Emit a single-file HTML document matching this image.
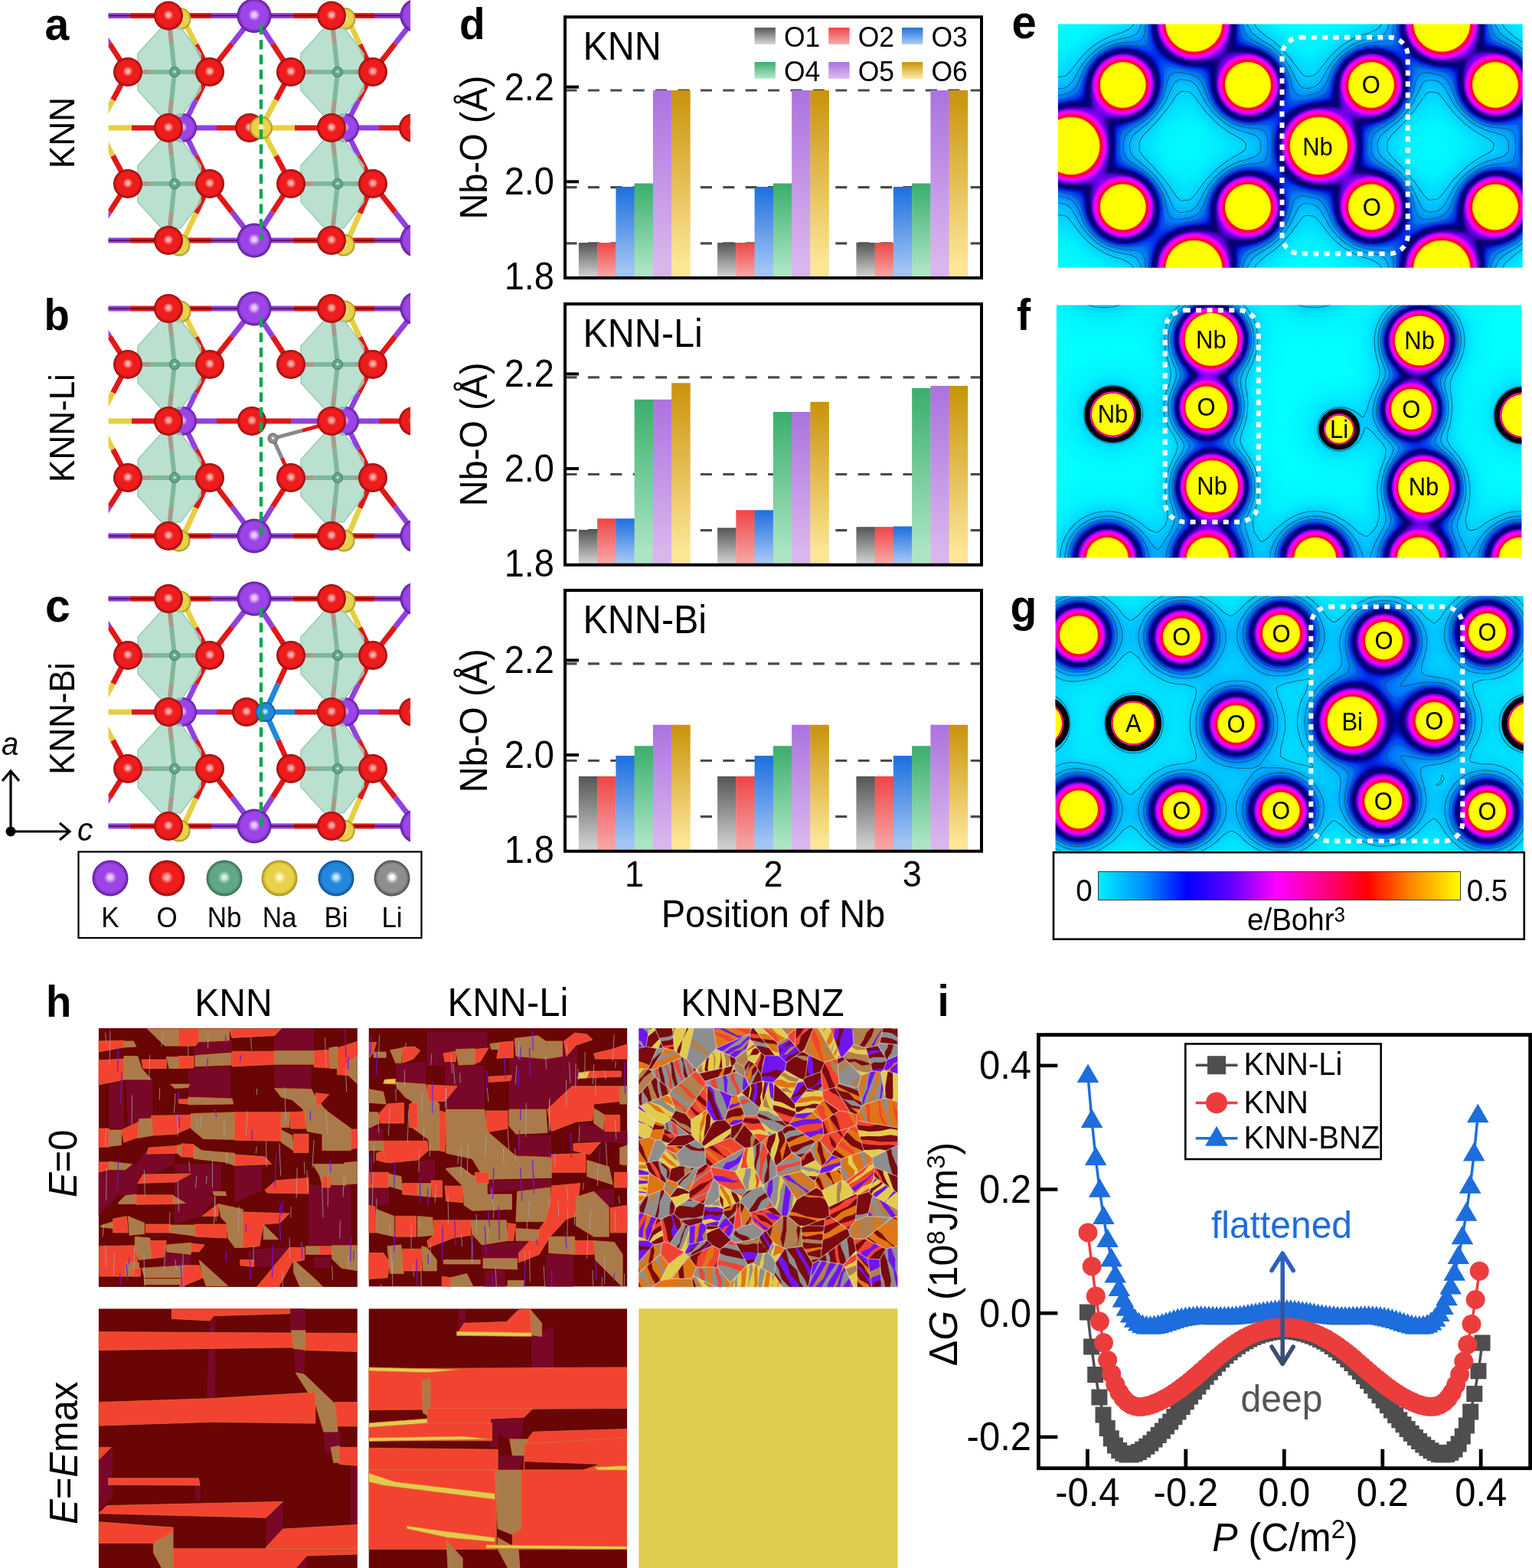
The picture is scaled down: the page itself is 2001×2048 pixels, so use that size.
<!DOCTYPE html>
<html><head><meta charset="utf-8"><title>Figure</title>
<style>html,body{margin:0;padding:0;background:#fff;}svg{display:block;}
text{font-family:"Liberation Sans", Arial, Helvetica, sans-serif;}</style></head>
<body><svg width="2001" height="2048" viewBox="0 0 2001 2048">
<defs><linearGradient id="bg0" x1="0" y1="0" x2="0" y2="1"><stop offset="0" stop-color="#555555"/><stop offset="0.92" stop-color="#cdcdcd"/><stop offset="1" stop-color="#cdcdcd"/></linearGradient><linearGradient id="bg1" x1="0" y1="0" x2="0" y2="1"><stop offset="0" stop-color="#ef4545"/><stop offset="0.92" stop-color="#f7a3a3"/><stop offset="1" stop-color="#f7a3a3"/></linearGradient><linearGradient id="bg2" x1="0" y1="0" x2="0" y2="1"><stop offset="0" stop-color="#1c6fdf"/><stop offset="0.92" stop-color="#a3c5f3"/><stop offset="1" stop-color="#a3c5f3"/></linearGradient><linearGradient id="bg3" x1="0" y1="0" x2="0" y2="1"><stop offset="0" stop-color="#3aae6c"/><stop offset="0.92" stop-color="#abe5c5"/><stop offset="1" stop-color="#abe5c5"/></linearGradient><linearGradient id="bg4" x1="0" y1="0" x2="0" y2="1"><stop offset="0" stop-color="#ac72de"/><stop offset="0.92" stop-color="#d9b6ed"/><stop offset="1" stop-color="#d9b6ed"/></linearGradient><linearGradient id="bg5" x1="0" y1="0" x2="0" y2="1"><stop offset="0" stop-color="#c9930a"/><stop offset="0.92" stop-color="#fde597"/><stop offset="1" stop-color="#fde597"/></linearGradient><linearGradient id="arrg" x1="0" y1="0" x2="0" y2="1"><stop offset="0" stop-color="#2a62c8"/><stop offset="1" stop-color="#3d4a6c"/></linearGradient><radialGradient id="spO" cx="0.5" cy="0.5" r="0.5" fx="0.5" fy="0.47"><stop offset="0" stop-color="#ffb4ac"/><stop offset="0.1" stop-color="#ffb4ac"/><stop offset="0.35" stop-color="#ee1c1c"/><stop offset="0.78" stop-color="#ee1c1c"/><stop offset="1" stop-color="#8e0c0c"/></radialGradient><radialGradient id="spK" cx="0.5" cy="0.5" r="0.5" fx="0.5" fy="0.47"><stop offset="0" stop-color="#f0c8ff"/><stop offset="0.1" stop-color="#f0c8ff"/><stop offset="0.35" stop-color="#9b45e6"/><stop offset="0.78" stop-color="#9b45e6"/><stop offset="1" stop-color="#5a1898"/></radialGradient><radialGradient id="spNa" cx="0.5" cy="0.5" r="0.5" fx="0.5" fy="0.47"><stop offset="0" stop-color="#fff6c0"/><stop offset="0.1" stop-color="#fff6c0"/><stop offset="0.35" stop-color="#e9d24a"/><stop offset="0.78" stop-color="#e9d24a"/><stop offset="1" stop-color="#a08c18"/></radialGradient><radialGradient id="spNb" cx="0.5" cy="0.5" r="0.5" fx="0.5" fy="0.47"><stop offset="0" stop-color="#d0f0e0"/><stop offset="0.1" stop-color="#d0f0e0"/><stop offset="0.35" stop-color="#62a886"/><stop offset="0.78" stop-color="#62a886"/><stop offset="1" stop-color="#336a50"/></radialGradient><radialGradient id="spBi" cx="0.5" cy="0.5" r="0.5" fx="0.5" fy="0.47"><stop offset="0" stop-color="#c8ecff"/><stop offset="0.1" stop-color="#c8ecff"/><stop offset="0.35" stop-color="#2388dc"/><stop offset="0.78" stop-color="#2388dc"/><stop offset="1" stop-color="#0c4c90"/></radialGradient><radialGradient id="spLi" cx="0.5" cy="0.5" r="0.5" fx="0.5" fy="0.47"><stop offset="0" stop-color="#ffffff"/><stop offset="0.1" stop-color="#ffffff"/><stop offset="0.35" stop-color="#8e8e8e"/><stop offset="0.78" stop-color="#8e8e8e"/><stop offset="1" stop-color="#4a4a4a"/></radialGradient><clipPath id="clipa"><rect x="141.6" y="0" width="394.4" height="345"/></clipPath><clipPath id="clipb"><rect x="141.6" y="375" width="394.4" height="355"/></clipPath><clipPath id="clipc"><rect x="141.6" y="755" width="394.4" height="350"/></clipPath><filter id="cmapf" x="0" y="0" width="1" height="1" color-interpolation-filters="sRGB"><feComponentTransfer><feFuncR type="table" tableValues="0.000 0.000 0.000 0.000 0.000 0.000 0.000 0.000 0.000 0.000 0.000 0.000 0.000 0.000 0.000 0.000 0.000 0.000 0.000 0.000 0.000 0.000 0.000 0.000 0.000 0.000 0.000 0.000 0.000 0.000 0.000 0.000 0.000 0.000 0.000 0.000 0.000 0.000 0.000 0.000 0.000 0.000 0.000 0.000 0.000 0.000 0.000 0.000 0.000 0.000 0.000 0.000 0.000 0.000 0.000 0.000 0.000 0.000 0.000 0.000 0.000 0.000 0.000 0.000 0.000 0.000 0.000 0.000 0.000 0.000 0.000 0.000 0.000 0.000 0.000 0.000 0.000 0.000 0.000 0.000 0.000 0.000 0.000 0.000 0.000 0.000 0.000 0.000 0.000 0.000 0.000 0.000 0.000 0.000 0.000 0.000 0.000 0.000 0.000 0.000 0.000 0.000 0.000 0.000 0.000 0.000 0.000 0.000 0.000 0.000 0.000 0.000 0.000 0.000 0.000 0.000 0.000 0.000 0.004 0.009 0.014 0.019 0.024 0.029 0.034 0.039 0.045 0.050 0.055 0.060 0.065 0.070 0.075 0.087 0.109 0.130 0.152 0.173 0.195 0.216 0.238 0.259 0.281 0.302 0.324 0.345 0.365 0.383 0.402 0.420 0.439 0.457 0.476 0.494 0.513 0.531 0.549 0.568 0.586 0.607 0.627 0.648 0.668 0.689 0.709 0.730 0.750 0.771 0.791 0.812 0.832 0.853 0.873 0.894 0.905 0.911 0.916 0.922 0.927 0.933 0.938 0.944 0.949 0.955 0.960 0.966 0.971 0.977 0.982 0.988 0.993 0.999 1.000 1.000 1.000 1.000 1.000 1.000 1.000 1.000 1.000 1.000 1.000 1.000 1.000 1.000 1.000 1.000 1.000 1.000 1.000 1.000 1.000 1.000 1.000 1.000 1.000 1.000 1.000 1.000 1.000 1.000 1.000 1.000 1.000 1.000 1.000 1.000 1.000 1.000 1.000 1.000 1.000 1.000 1.000 1.000 1.000 1.000 1.000 1.000 1.000 1.000 1.000 1.000 1.000 1.000 1.000 1.000 1.000 1.000 1.000 1.000 1.000 1.000 1.000 1.000"/><feFuncG type="table" tableValues="1.000 0.996 0.992 0.988 0.984 0.980 0.976 0.972 0.968 0.964 0.960 0.956 0.952 0.948 0.942 0.936 0.930 0.925 0.919 0.913 0.908 0.902 0.896 0.890 0.885 0.879 0.873 0.868 0.862 0.856 0.850 0.844 0.837 0.830 0.823 0.815 0.808 0.801 0.794 0.787 0.780 0.772 0.765 0.758 0.751 0.744 0.736 0.727 0.718 0.709 0.699 0.690 0.681 0.672 0.663 0.653 0.644 0.635 0.626 0.616 0.607 0.598 0.587 0.576 0.564 0.553 0.541 0.530 0.518 0.507 0.496 0.484 0.473 0.461 0.450 0.438 0.427 0.416 0.404 0.393 0.377 0.361 0.345 0.329 0.313 0.297 0.281 0.265 0.249 0.233 0.217 0.201 0.186 0.172 0.159 0.146 0.133 0.119 0.106 0.093 0.080 0.067 0.053 0.040 0.027 0.019 0.017 0.016 0.014 0.013 0.011 0.010 0.008 0.007 0.005 0.004 0.002 0.000 0.000 0.000 0.000 0.000 0.000 0.000 0.000 0.000 0.000 0.000 0.000 0.000 0.000 0.000 0.000 0.000 0.000 0.000 0.000 0.000 0.000 0.000 0.000 0.000 0.000 0.000 0.000 0.000 0.000 0.000 0.000 0.000 0.000 0.000 0.000 0.000 0.000 0.000 0.000 0.000 0.000 0.000 0.000 0.000 0.000 0.000 0.000 0.000 0.000 0.000 0.000 0.000 0.000 0.000 0.000 0.000 0.000 0.000 0.000 0.000 0.000 0.000 0.000 0.000 0.000 0.000 0.000 0.000 0.000 0.000 0.000 0.000 0.000 0.000 0.000 0.000 0.000 0.000 0.000 0.000 0.000 0.000 0.000 0.000 0.000 0.000 0.000 0.000 0.000 0.000 0.000 0.000 0.000 0.000 0.000 0.000 0.000 0.000 0.000 0.004 0.019 0.035 0.050 0.065 0.081 0.096 0.111 0.127 0.142 0.161 0.247 0.333 0.420 0.506 0.592 0.678 0.745 0.802 0.860 0.918 0.975 1.000 1.000 1.000 1.000 1.000 1.000 1.000 1.000 1.000 1.000 1.000 1.000 1.000 1.000 1.000 1.000 1.000"/><feFuncB type="table" tableValues="1.000 1.000 1.000 1.000 1.000 1.000 1.000 1.000 1.000 1.000 1.000 1.000 1.000 1.000 1.000 1.000 1.000 1.000 1.000 1.000 1.000 1.000 1.000 1.000 1.000 1.000 1.000 1.000 1.000 1.000 1.000 1.000 1.000 1.000 1.000 1.000 1.000 1.000 1.000 1.000 1.000 1.000 1.000 1.000 1.000 1.000 1.000 1.000 1.000 1.000 1.000 1.000 1.000 1.000 1.000 1.000 1.000 1.000 1.000 1.000 1.000 1.000 1.000 1.000 1.000 1.000 1.000 1.000 1.000 1.000 1.000 1.000 1.000 1.000 1.000 1.000 1.000 1.000 1.000 1.000 0.994 0.988 0.982 0.976 0.970 0.963 0.957 0.951 0.945 0.939 0.933 0.926 0.918 0.898 0.878 0.858 0.838 0.818 0.798 0.778 0.758 0.738 0.718 0.698 0.678 0.659 0.642 0.625 0.608 0.591 0.574 0.558 0.541 0.524 0.507 0.490 0.473 0.456 0.452 0.453 0.454 0.456 0.457 0.458 0.460 0.461 0.462 0.463 0.465 0.466 0.467 0.469 0.470 0.483 0.514 0.544 0.575 0.606 0.637 0.667 0.698 0.729 0.760 0.790 0.821 0.852 0.869 0.878 0.887 0.896 0.906 0.915 0.924 0.933 0.943 0.952 0.961 0.970 0.979 0.982 0.983 0.984 0.985 0.987 0.988 0.989 0.991 0.992 0.993 0.994 0.996 0.997 0.998 0.999 0.997 0.991 0.986 0.980 0.975 0.969 0.964 0.958 0.953 0.947 0.942 0.936 0.931 0.925 0.920 0.914 0.909 0.903 0.881 0.854 0.826 0.798 0.770 0.743 0.715 0.687 0.660 0.632 0.604 0.577 0.549 0.518 0.488 0.457 0.426 0.395 0.364 0.334 0.303 0.272 0.241 0.211 0.180 0.153 0.138 0.122 0.107 0.092 0.076 0.061 0.045 0.030 0.015 0.000 0.000 0.000 0.000 0.000 0.000 0.000 0.000 0.000 0.000 0.000 0.000 0.000 0.000 0.000 0.000 0.000 0.000 0.000 0.000 0.000 0.000 0.000 0.000 0.000 0.000 0.000 0.000 0.000"/></feComponentTransfer></filter><radialGradient id="dg0" cx="0.5" cy="0.5" r="0.5"><stop offset="0.0000" stop-color="#fff" stop-opacity="1.000"/><stop offset="0.2648" stop-color="#fff" stop-opacity="0.970"/><stop offset="0.2885" stop-color="#fff" stop-opacity="0.940"/><stop offset="0.2964" stop-color="#fff" stop-opacity="0.905"/><stop offset="0.3043" stop-color="#fff" stop-opacity="0.865"/><stop offset="0.3138" stop-color="#fff" stop-opacity="0.830"/><stop offset="0.3257" stop-color="#fff" stop-opacity="0.785"/><stop offset="0.3399" stop-color="#fff" stop-opacity="0.735"/><stop offset="0.3557" stop-color="#fff" stop-opacity="0.675"/><stop offset="0.3676" stop-color="#fff" stop-opacity="0.615"/><stop offset="0.3794" stop-color="#fff" stop-opacity="0.555"/><stop offset="0.3913" stop-color="#fff" stop-opacity="0.500"/><stop offset="0.4150" stop-color="#fff" stop-opacity="0.450"/><stop offset="0.4348" stop-color="#fff" stop-opacity="0.390"/><stop offset="0.4545" stop-color="#fff" stop-opacity="0.330"/><stop offset="0.4822" stop-color="#fff" stop-opacity="0.260"/><stop offset="0.5178" stop-color="#fff" stop-opacity="0.200"/><stop offset="0.5573" stop-color="#fff" stop-opacity="0.150"/><stop offset="0.6047" stop-color="#fff" stop-opacity="0.105"/><stop offset="0.6680" stop-color="#fff" stop-opacity="0.065"/><stop offset="0.7628" stop-color="#fff" stop-opacity="0.030"/><stop offset="0.8893" stop-color="#fff" stop-opacity="0.010"/><stop offset="1.0000" stop-color="#fff" stop-opacity="0.000"/></radialGradient><radialGradient id="dg1" cx="0.5" cy="0.5" r="0.5"><stop offset="0.0000" stop-color="#fff" stop-opacity="1.000"/><stop offset="0.2619" stop-color="#fff" stop-opacity="0.970"/><stop offset="0.2857" stop-color="#fff" stop-opacity="0.940"/><stop offset="0.2937" stop-color="#fff" stop-opacity="0.905"/><stop offset="0.3016" stop-color="#fff" stop-opacity="0.865"/><stop offset="0.3111" stop-color="#fff" stop-opacity="0.830"/><stop offset="0.3230" stop-color="#fff" stop-opacity="0.785"/><stop offset="0.3373" stop-color="#fff" stop-opacity="0.735"/><stop offset="0.3532" stop-color="#fff" stop-opacity="0.675"/><stop offset="0.3651" stop-color="#fff" stop-opacity="0.615"/><stop offset="0.3770" stop-color="#fff" stop-opacity="0.555"/><stop offset="0.3889" stop-color="#fff" stop-opacity="0.500"/><stop offset="0.4127" stop-color="#fff" stop-opacity="0.450"/><stop offset="0.4325" stop-color="#fff" stop-opacity="0.390"/><stop offset="0.4524" stop-color="#fff" stop-opacity="0.330"/><stop offset="0.4802" stop-color="#fff" stop-opacity="0.260"/><stop offset="0.5159" stop-color="#fff" stop-opacity="0.200"/><stop offset="0.5556" stop-color="#fff" stop-opacity="0.150"/><stop offset="0.6032" stop-color="#fff" stop-opacity="0.105"/><stop offset="0.6667" stop-color="#fff" stop-opacity="0.065"/><stop offset="0.7619" stop-color="#fff" stop-opacity="0.030"/><stop offset="0.8889" stop-color="#fff" stop-opacity="0.010"/><stop offset="1.0000" stop-color="#fff" stop-opacity="0.000"/></radialGradient><radialGradient id="dg2" cx="0.5" cy="0.5" r="0.5"><stop offset="0.0000" stop-color="#fff" stop-opacity="1.000"/><stop offset="0.2172" stop-color="#fff" stop-opacity="0.970"/><stop offset="0.2424" stop-color="#fff" stop-opacity="0.940"/><stop offset="0.2508" stop-color="#fff" stop-opacity="0.905"/><stop offset="0.2593" stop-color="#fff" stop-opacity="0.865"/><stop offset="0.2694" stop-color="#fff" stop-opacity="0.830"/><stop offset="0.2820" stop-color="#fff" stop-opacity="0.785"/><stop offset="0.2971" stop-color="#fff" stop-opacity="0.735"/><stop offset="0.3140" stop-color="#fff" stop-opacity="0.675"/><stop offset="0.3266" stop-color="#fff" stop-opacity="0.615"/><stop offset="0.3392" stop-color="#fff" stop-opacity="0.555"/><stop offset="0.3519" stop-color="#fff" stop-opacity="0.500"/><stop offset="0.3771" stop-color="#fff" stop-opacity="0.450"/><stop offset="0.3981" stop-color="#fff" stop-opacity="0.390"/><stop offset="0.4192" stop-color="#fff" stop-opacity="0.330"/><stop offset="0.4487" stop-color="#fff" stop-opacity="0.260"/><stop offset="0.4865" stop-color="#fff" stop-opacity="0.200"/><stop offset="0.5286" stop-color="#fff" stop-opacity="0.150"/><stop offset="0.5791" stop-color="#fff" stop-opacity="0.105"/><stop offset="0.6465" stop-color="#fff" stop-opacity="0.065"/><stop offset="0.7475" stop-color="#fff" stop-opacity="0.030"/><stop offset="0.8822" stop-color="#fff" stop-opacity="0.010"/><stop offset="1.0000" stop-color="#fff" stop-opacity="0.000"/></radialGradient><radialGradient id="dg3" cx="0.5" cy="0.5" r="0.5"><stop offset="0.0222" stop-color="#fff" stop-opacity="1.000"/><stop offset="0.3005" stop-color="#fff" stop-opacity="0.970"/><stop offset="0.3230" stop-color="#fff" stop-opacity="0.940"/><stop offset="0.3306" stop-color="#fff" stop-opacity="0.905"/><stop offset="0.3381" stop-color="#fff" stop-opacity="0.865"/><stop offset="0.3471" stop-color="#fff" stop-opacity="0.830"/><stop offset="0.3584" stop-color="#fff" stop-opacity="0.785"/><stop offset="0.3719" stop-color="#fff" stop-opacity="0.735"/><stop offset="0.3870" stop-color="#fff" stop-opacity="0.675"/><stop offset="0.3983" stop-color="#fff" stop-opacity="0.615"/><stop offset="0.4095" stop-color="#fff" stop-opacity="0.555"/><stop offset="0.4208" stop-color="#fff" stop-opacity="0.500"/><stop offset="0.4434" stop-color="#fff" stop-opacity="0.450"/><stop offset="0.4622" stop-color="#fff" stop-opacity="0.390"/><stop offset="0.4810" stop-color="#fff" stop-opacity="0.330"/><stop offset="0.5073" stop-color="#fff" stop-opacity="0.260"/><stop offset="0.5412" stop-color="#fff" stop-opacity="0.200"/><stop offset="0.5788" stop-color="#fff" stop-opacity="0.150"/><stop offset="0.6239" stop-color="#fff" stop-opacity="0.105"/><stop offset="0.6841" stop-color="#fff" stop-opacity="0.065"/><stop offset="0.7743" stop-color="#fff" stop-opacity="0.030"/><stop offset="0.8947" stop-color="#fff" stop-opacity="0.010"/><stop offset="1.0000" stop-color="#fff" stop-opacity="0.000"/></radialGradient><radialGradient id="dg4" cx="0.5" cy="0.5" r="0.5"><stop offset="0.0000" stop-color="#fff" stop-opacity="1.000"/><stop offset="0.2498" stop-color="#fff" stop-opacity="0.970"/><stop offset="0.2740" stop-color="#fff" stop-opacity="0.940"/><stop offset="0.2821" stop-color="#fff" stop-opacity="0.905"/><stop offset="0.2902" stop-color="#fff" stop-opacity="0.865"/><stop offset="0.2999" stop-color="#fff" stop-opacity="0.830"/><stop offset="0.3120" stop-color="#fff" stop-opacity="0.785"/><stop offset="0.3265" stop-color="#fff" stop-opacity="0.735"/><stop offset="0.3426" stop-color="#fff" stop-opacity="0.675"/><stop offset="0.3547" stop-color="#fff" stop-opacity="0.615"/><stop offset="0.3668" stop-color="#fff" stop-opacity="0.555"/><stop offset="0.3789" stop-color="#fff" stop-opacity="0.500"/><stop offset="0.4031" stop-color="#fff" stop-opacity="0.450"/><stop offset="0.4233" stop-color="#fff" stop-opacity="0.390"/><stop offset="0.4434" stop-color="#fff" stop-opacity="0.330"/><stop offset="0.4717" stop-color="#fff" stop-opacity="0.260"/><stop offset="0.5080" stop-color="#fff" stop-opacity="0.200"/><stop offset="0.5483" stop-color="#fff" stop-opacity="0.150"/><stop offset="0.5967" stop-color="#fff" stop-opacity="0.105"/><stop offset="0.6612" stop-color="#fff" stop-opacity="0.065"/><stop offset="0.7580" stop-color="#fff" stop-opacity="0.030"/><stop offset="0.8871" stop-color="#fff" stop-opacity="0.010"/><stop offset="1.0000" stop-color="#fff" stop-opacity="0.000"/></radialGradient><radialGradient id="dg5" cx="0.5" cy="0.5" r="0.5"><stop offset="0.0174" stop-color="#fff" stop-opacity="1.000"/><stop offset="0.2971" stop-color="#fff" stop-opacity="0.970"/><stop offset="0.3198" stop-color="#fff" stop-opacity="0.940"/><stop offset="0.3273" stop-color="#fff" stop-opacity="0.905"/><stop offset="0.3349" stop-color="#fff" stop-opacity="0.865"/><stop offset="0.3440" stop-color="#fff" stop-opacity="0.830"/><stop offset="0.3553" stop-color="#fff" stop-opacity="0.785"/><stop offset="0.3689" stop-color="#fff" stop-opacity="0.735"/><stop offset="0.3840" stop-color="#fff" stop-opacity="0.675"/><stop offset="0.3953" stop-color="#fff" stop-opacity="0.615"/><stop offset="0.4067" stop-color="#fff" stop-opacity="0.555"/><stop offset="0.4180" stop-color="#fff" stop-opacity="0.500"/><stop offset="0.4407" stop-color="#fff" stop-opacity="0.450"/><stop offset="0.4596" stop-color="#fff" stop-opacity="0.390"/><stop offset="0.4785" stop-color="#fff" stop-opacity="0.330"/><stop offset="0.5049" stop-color="#fff" stop-opacity="0.260"/><stop offset="0.5390" stop-color="#fff" stop-opacity="0.200"/><stop offset="0.5767" stop-color="#fff" stop-opacity="0.150"/><stop offset="0.6221" stop-color="#fff" stop-opacity="0.105"/><stop offset="0.6826" stop-color="#fff" stop-opacity="0.065"/><stop offset="0.7733" stop-color="#fff" stop-opacity="0.030"/><stop offset="0.8942" stop-color="#fff" stop-opacity="0.010"/><stop offset="1.0000" stop-color="#fff" stop-opacity="0.000"/></radialGradient><radialGradient id="dg6" cx="0.5" cy="0.5" r="0.5"><stop offset="0.0029" stop-color="#fff" stop-opacity="1.000"/><stop offset="0.2867" stop-color="#fff" stop-opacity="0.970"/><stop offset="0.3097" stop-color="#fff" stop-opacity="0.940"/><stop offset="0.3174" stop-color="#fff" stop-opacity="0.905"/><stop offset="0.3251" stop-color="#fff" stop-opacity="0.865"/><stop offset="0.3343" stop-color="#fff" stop-opacity="0.830"/><stop offset="0.3458" stop-color="#fff" stop-opacity="0.785"/><stop offset="0.3596" stop-color="#fff" stop-opacity="0.735"/><stop offset="0.3749" stop-color="#fff" stop-opacity="0.675"/><stop offset="0.3864" stop-color="#fff" stop-opacity="0.615"/><stop offset="0.3979" stop-color="#fff" stop-opacity="0.555"/><stop offset="0.4094" stop-color="#fff" stop-opacity="0.500"/><stop offset="0.4324" stop-color="#fff" stop-opacity="0.450"/><stop offset="0.4516" stop-color="#fff" stop-opacity="0.390"/><stop offset="0.4708" stop-color="#fff" stop-opacity="0.330"/><stop offset="0.4976" stop-color="#fff" stop-opacity="0.260"/><stop offset="0.5322" stop-color="#fff" stop-opacity="0.200"/><stop offset="0.5705" stop-color="#fff" stop-opacity="0.150"/><stop offset="0.6165" stop-color="#fff" stop-opacity="0.105"/><stop offset="0.6779" stop-color="#fff" stop-opacity="0.065"/><stop offset="0.7699" stop-color="#fff" stop-opacity="0.030"/><stop offset="0.8926" stop-color="#fff" stop-opacity="0.010"/><stop offset="1.0000" stop-color="#fff" stop-opacity="0.000"/></radialGradient><radialGradient id="dg7" cx="0.5" cy="0.5" r="0.5"><stop offset="0.0000" stop-color="#fff" stop-opacity="1.000"/><stop offset="0.2420" stop-color="#fff" stop-opacity="0.970"/><stop offset="0.2665" stop-color="#fff" stop-opacity="0.940"/><stop offset="0.2746" stop-color="#fff" stop-opacity="0.905"/><stop offset="0.2828" stop-color="#fff" stop-opacity="0.865"/><stop offset="0.2925" stop-color="#fff" stop-opacity="0.830"/><stop offset="0.3048" stop-color="#fff" stop-opacity="0.785"/><stop offset="0.3194" stop-color="#fff" stop-opacity="0.735"/><stop offset="0.3357" stop-color="#fff" stop-opacity="0.675"/><stop offset="0.3480" stop-color="#fff" stop-opacity="0.615"/><stop offset="0.3602" stop-color="#fff" stop-opacity="0.555"/><stop offset="0.3724" stop-color="#fff" stop-opacity="0.500"/><stop offset="0.3969" stop-color="#fff" stop-opacity="0.450"/><stop offset="0.4172" stop-color="#fff" stop-opacity="0.390"/><stop offset="0.4376" stop-color="#fff" stop-opacity="0.330"/><stop offset="0.4661" stop-color="#fff" stop-opacity="0.260"/><stop offset="0.5028" stop-color="#fff" stop-opacity="0.200"/><stop offset="0.5436" stop-color="#fff" stop-opacity="0.150"/><stop offset="0.5925" stop-color="#fff" stop-opacity="0.105"/><stop offset="0.6577" stop-color="#fff" stop-opacity="0.065"/><stop offset="0.7555" stop-color="#fff" stop-opacity="0.030"/><stop offset="0.8859" stop-color="#fff" stop-opacity="0.010"/><stop offset="1.0000" stop-color="#fff" stop-opacity="0.000"/></radialGradient><radialGradient id="dg8" cx="0.5" cy="0.5" r="0.5"><stop offset="0.0127" stop-color="#fff" stop-opacity="1.000"/><stop offset="0.2937" stop-color="#fff" stop-opacity="0.970"/><stop offset="0.3165" stop-color="#fff" stop-opacity="0.940"/><stop offset="0.3241" stop-color="#fff" stop-opacity="0.905"/><stop offset="0.3316" stop-color="#fff" stop-opacity="0.865"/><stop offset="0.3408" stop-color="#fff" stop-opacity="0.830"/><stop offset="0.3522" stop-color="#fff" stop-opacity="0.785"/><stop offset="0.3658" stop-color="#fff" stop-opacity="0.735"/><stop offset="0.3810" stop-color="#fff" stop-opacity="0.675"/><stop offset="0.3924" stop-color="#fff" stop-opacity="0.615"/><stop offset="0.4038" stop-color="#fff" stop-opacity="0.555"/><stop offset="0.4152" stop-color="#fff" stop-opacity="0.500"/><stop offset="0.4380" stop-color="#fff" stop-opacity="0.450"/><stop offset="0.4570" stop-color="#fff" stop-opacity="0.390"/><stop offset="0.4759" stop-color="#fff" stop-opacity="0.330"/><stop offset="0.5025" stop-color="#fff" stop-opacity="0.260"/><stop offset="0.5367" stop-color="#fff" stop-opacity="0.200"/><stop offset="0.5747" stop-color="#fff" stop-opacity="0.150"/><stop offset="0.6203" stop-color="#fff" stop-opacity="0.105"/><stop offset="0.6810" stop-color="#fff" stop-opacity="0.065"/><stop offset="0.7722" stop-color="#fff" stop-opacity="0.030"/><stop offset="0.8937" stop-color="#fff" stop-opacity="0.010"/><stop offset="1.0000" stop-color="#fff" stop-opacity="0.000"/></radialGradient><radialGradient id="dg9" cx="0.5" cy="0.5" r="0.5"><stop offset="0.0000" stop-color="#fff" stop-opacity="1.000"/><stop offset="0.2927" stop-color="#fff" stop-opacity="0.970"/><stop offset="0.3293" stop-color="#fff" stop-opacity="0.935"/><stop offset="0.3415" stop-color="#fff" stop-opacity="0.860"/><stop offset="0.3537" stop-color="#fff" stop-opacity="0.770"/><stop offset="0.3659" stop-color="#fff" stop-opacity="0.720"/><stop offset="0.3841" stop-color="#fff" stop-opacity="0.500"/><stop offset="0.4146" stop-color="#fff" stop-opacity="0.300"/><stop offset="0.4512" stop-color="#fff" stop-opacity="0.150"/><stop offset="0.5244" stop-color="#fff" stop-opacity="0.090"/><stop offset="0.6463" stop-color="#fff" stop-opacity="0.050"/><stop offset="0.8171" stop-color="#fff" stop-opacity="0.020"/><stop offset="1.0000" stop-color="#fff" stop-opacity="0.000"/></radialGradient><radialGradient id="dg10" cx="0.5" cy="0.5" r="0.5"><stop offset="0.0000" stop-color="#fff" stop-opacity="1.000"/><stop offset="0.2000" stop-color="#fff" stop-opacity="0.970"/><stop offset="0.2414" stop-color="#fff" stop-opacity="0.935"/><stop offset="0.2552" stop-color="#fff" stop-opacity="0.860"/><stop offset="0.2690" stop-color="#fff" stop-opacity="0.770"/><stop offset="0.2828" stop-color="#fff" stop-opacity="0.720"/><stop offset="0.3034" stop-color="#fff" stop-opacity="0.500"/><stop offset="0.3379" stop-color="#fff" stop-opacity="0.300"/><stop offset="0.3793" stop-color="#fff" stop-opacity="0.150"/><stop offset="0.4621" stop-color="#fff" stop-opacity="0.090"/><stop offset="0.6000" stop-color="#fff" stop-opacity="0.050"/><stop offset="0.7931" stop-color="#fff" stop-opacity="0.020"/><stop offset="1.0000" stop-color="#fff" stop-opacity="0.000"/></radialGradient><radialGradient id="dg11" cx="0.5" cy="0.5" r="0.5"><stop offset="0.0000" stop-color="#fff" stop-opacity="1.000"/><stop offset="0.2017" stop-color="#fff" stop-opacity="0.970"/><stop offset="0.2275" stop-color="#fff" stop-opacity="0.940"/><stop offset="0.2361" stop-color="#fff" stop-opacity="0.905"/><stop offset="0.2446" stop-color="#fff" stop-opacity="0.865"/><stop offset="0.2549" stop-color="#fff" stop-opacity="0.830"/><stop offset="0.2678" stop-color="#fff" stop-opacity="0.785"/><stop offset="0.2833" stop-color="#fff" stop-opacity="0.735"/><stop offset="0.3004" stop-color="#fff" stop-opacity="0.675"/><stop offset="0.3133" stop-color="#fff" stop-opacity="0.615"/><stop offset="0.3262" stop-color="#fff" stop-opacity="0.555"/><stop offset="0.3391" stop-color="#fff" stop-opacity="0.500"/><stop offset="0.3648" stop-color="#fff" stop-opacity="0.450"/><stop offset="0.3863" stop-color="#fff" stop-opacity="0.390"/><stop offset="0.4077" stop-color="#fff" stop-opacity="0.330"/><stop offset="0.4378" stop-color="#fff" stop-opacity="0.260"/><stop offset="0.4764" stop-color="#fff" stop-opacity="0.200"/><stop offset="0.5193" stop-color="#fff" stop-opacity="0.150"/><stop offset="0.5708" stop-color="#fff" stop-opacity="0.105"/><stop offset="0.6395" stop-color="#fff" stop-opacity="0.065"/><stop offset="0.7425" stop-color="#fff" stop-opacity="0.030"/><stop offset="0.8798" stop-color="#fff" stop-opacity="0.010"/><stop offset="1.0000" stop-color="#fff" stop-opacity="0.000"/></radialGradient><radialGradient id="dg12" cx="0.5" cy="0.5" r="0.5"><stop offset="0.0000" stop-color="#fff" stop-opacity="1.000"/><stop offset="0.1842" stop-color="#fff" stop-opacity="0.970"/><stop offset="0.2105" stop-color="#fff" stop-opacity="0.940"/><stop offset="0.2193" stop-color="#fff" stop-opacity="0.905"/><stop offset="0.2281" stop-color="#fff" stop-opacity="0.865"/><stop offset="0.2386" stop-color="#fff" stop-opacity="0.830"/><stop offset="0.2518" stop-color="#fff" stop-opacity="0.785"/><stop offset="0.2675" stop-color="#fff" stop-opacity="0.735"/><stop offset="0.2851" stop-color="#fff" stop-opacity="0.675"/><stop offset="0.2982" stop-color="#fff" stop-opacity="0.615"/><stop offset="0.3114" stop-color="#fff" stop-opacity="0.555"/><stop offset="0.3246" stop-color="#fff" stop-opacity="0.500"/><stop offset="0.3509" stop-color="#fff" stop-opacity="0.450"/><stop offset="0.3728" stop-color="#fff" stop-opacity="0.390"/><stop offset="0.3947" stop-color="#fff" stop-opacity="0.330"/><stop offset="0.4254" stop-color="#fff" stop-opacity="0.260"/><stop offset="0.4649" stop-color="#fff" stop-opacity="0.200"/><stop offset="0.5088" stop-color="#fff" stop-opacity="0.150"/><stop offset="0.5614" stop-color="#fff" stop-opacity="0.105"/><stop offset="0.6316" stop-color="#fff" stop-opacity="0.065"/><stop offset="0.7368" stop-color="#fff" stop-opacity="0.030"/><stop offset="0.8772" stop-color="#fff" stop-opacity="0.010"/><stop offset="1.0000" stop-color="#fff" stop-opacity="0.000"/></radialGradient><radialGradient id="dg13" cx="0.5" cy="0.5" r="0.5"><stop offset="0.0000" stop-color="#fff" stop-opacity="1.000"/><stop offset="0.1806" stop-color="#fff" stop-opacity="0.970"/><stop offset="0.2070" stop-color="#fff" stop-opacity="0.940"/><stop offset="0.2159" stop-color="#fff" stop-opacity="0.905"/><stop offset="0.2247" stop-color="#fff" stop-opacity="0.865"/><stop offset="0.2352" stop-color="#fff" stop-opacity="0.830"/><stop offset="0.2485" stop-color="#fff" stop-opacity="0.785"/><stop offset="0.2643" stop-color="#fff" stop-opacity="0.735"/><stop offset="0.2819" stop-color="#fff" stop-opacity="0.675"/><stop offset="0.2952" stop-color="#fff" stop-opacity="0.615"/><stop offset="0.3084" stop-color="#fff" stop-opacity="0.555"/><stop offset="0.3216" stop-color="#fff" stop-opacity="0.500"/><stop offset="0.3480" stop-color="#fff" stop-opacity="0.450"/><stop offset="0.3700" stop-color="#fff" stop-opacity="0.390"/><stop offset="0.3921" stop-color="#fff" stop-opacity="0.330"/><stop offset="0.4229" stop-color="#fff" stop-opacity="0.260"/><stop offset="0.4626" stop-color="#fff" stop-opacity="0.200"/><stop offset="0.5066" stop-color="#fff" stop-opacity="0.150"/><stop offset="0.5595" stop-color="#fff" stop-opacity="0.105"/><stop offset="0.6300" stop-color="#fff" stop-opacity="0.065"/><stop offset="0.7357" stop-color="#fff" stop-opacity="0.030"/><stop offset="0.8767" stop-color="#fff" stop-opacity="0.010"/><stop offset="1.0000" stop-color="#fff" stop-opacity="0.000"/></radialGradient><radialGradient id="dg14" cx="0.5" cy="0.5" r="0.5"><stop offset="0.0000" stop-color="#fff" stop-opacity="1.000"/><stop offset="0.2346" stop-color="#fff" stop-opacity="0.970"/><stop offset="0.2593" stop-color="#fff" stop-opacity="0.940"/><stop offset="0.2675" stop-color="#fff" stop-opacity="0.905"/><stop offset="0.2757" stop-color="#fff" stop-opacity="0.865"/><stop offset="0.2856" stop-color="#fff" stop-opacity="0.830"/><stop offset="0.2979" stop-color="#fff" stop-opacity="0.785"/><stop offset="0.3128" stop-color="#fff" stop-opacity="0.735"/><stop offset="0.3292" stop-color="#fff" stop-opacity="0.675"/><stop offset="0.3416" stop-color="#fff" stop-opacity="0.615"/><stop offset="0.3539" stop-color="#fff" stop-opacity="0.555"/><stop offset="0.3663" stop-color="#fff" stop-opacity="0.500"/><stop offset="0.3909" stop-color="#fff" stop-opacity="0.450"/><stop offset="0.4115" stop-color="#fff" stop-opacity="0.390"/><stop offset="0.4321" stop-color="#fff" stop-opacity="0.330"/><stop offset="0.4609" stop-color="#fff" stop-opacity="0.260"/><stop offset="0.4979" stop-color="#fff" stop-opacity="0.200"/><stop offset="0.5391" stop-color="#fff" stop-opacity="0.150"/><stop offset="0.5885" stop-color="#fff" stop-opacity="0.105"/><stop offset="0.6543" stop-color="#fff" stop-opacity="0.065"/><stop offset="0.7531" stop-color="#fff" stop-opacity="0.030"/><stop offset="0.8848" stop-color="#fff" stop-opacity="0.010"/><stop offset="1.0000" stop-color="#fff" stop-opacity="0.000"/></radialGradient><radialGradient id="dg15" cx="0.5" cy="0.5" r="0.5"><stop offset="0.0000" stop-color="#fff" stop-opacity="1.000"/><stop offset="0.2883" stop-color="#fff" stop-opacity="0.970"/><stop offset="0.3252" stop-color="#fff" stop-opacity="0.935"/><stop offset="0.3374" stop-color="#fff" stop-opacity="0.860"/><stop offset="0.3497" stop-color="#fff" stop-opacity="0.770"/><stop offset="0.3620" stop-color="#fff" stop-opacity="0.720"/><stop offset="0.3804" stop-color="#fff" stop-opacity="0.500"/><stop offset="0.4110" stop-color="#fff" stop-opacity="0.300"/><stop offset="0.4479" stop-color="#fff" stop-opacity="0.150"/><stop offset="0.5215" stop-color="#fff" stop-opacity="0.090"/><stop offset="0.6442" stop-color="#fff" stop-opacity="0.050"/><stop offset="0.8160" stop-color="#fff" stop-opacity="0.020"/><stop offset="1.0000" stop-color="#fff" stop-opacity="0.000"/></radialGradient><linearGradient id="cbar" x1="0" y1="0" x2="1" y2="0"><stop offset="0" stop-color="#00f0ff"/><stop offset="0.13" stop-color="#008cff"/><stop offset="0.245" stop-color="#0000ff"/><stop offset="0.37" stop-color="#6400ff"/><stop offset="0.494" stop-color="#ff00ff"/><stop offset="0.62" stop-color="#ff008c"/><stop offset="0.743" stop-color="#ff0000"/><stop offset="0.86" stop-color="#ff8200"/><stop offset="1" stop-color="#ffff00"/></linearGradient></defs>
<rect width="2001" height="2048" fill="#fff"/>
<text transform="translate(58.5,51.6) scale(1,1.05)" font-size="57" font-weight="bold">a</text>
<text transform="translate(57.5,431.3) scale(1,1.05)" font-size="54.5" font-weight="bold">b</text>
<text transform="translate(59.0,811.5) scale(1,1.05)" font-size="59" font-weight="bold">c</text>
<text transform="translate(600.0,51.0) scale(1,1.05)" font-size="55" font-weight="bold">d</text>
<text transform="translate(1321.5,49.9) scale(1,1.05)" font-size="58" font-weight="bold">e</text>
<text transform="translate(1328.0,430.5) scale(1,1.05)" font-size="54.5" font-weight="bold">f</text>
<text transform="translate(1319.5,812.0) scale(1,1.05)" font-size="57" font-weight="bold">g</text>
<text transform="translate(60.0,1328.0) scale(1,1.05)" font-size="54.5" font-weight="bold">h</text>
<text transform="translate(1224.5,1326.8) scale(1,1.05)" font-size="54.5" font-weight="bold">i</text>
<line x1="738.5" y1="118.0" x2="1280.0" y2="118.0" stroke="#4a4a4a" stroke-width="3.2" stroke-dasharray="15 14.4"/>
<line x1="738.5" y1="244.7" x2="1280.0" y2="244.7" stroke="#4a4a4a" stroke-width="3.2" stroke-dasharray="15 14.4"/>
<line x1="738.5" y1="317.9" x2="1280.0" y2="317.9" stroke="#4a4a4a" stroke-width="3.2" stroke-dasharray="15 14.4"/>
<rect x="755.90" y="317.0" width="24.55" height="46.0" fill="url(#bg0)"/>
<rect x="780.15" y="317.0" width="24.55" height="46.0" fill="url(#bg1)"/>
<rect x="804.40" y="244.0" width="24.55" height="119.0" fill="url(#bg2)"/>
<rect x="828.65" y="239.5" width="24.55" height="123.5" fill="url(#bg3)"/>
<rect x="852.90" y="118.0" width="24.55" height="245.0" fill="url(#bg4)"/>
<rect x="877.15" y="118.0" width="24.55" height="245.0" fill="url(#bg5)"/>
<rect x="937.10" y="317.0" width="24.55" height="46.0" fill="url(#bg0)"/>
<rect x="961.35" y="317.0" width="24.55" height="46.0" fill="url(#bg1)"/>
<rect x="985.60" y="244.0" width="24.55" height="119.0" fill="url(#bg2)"/>
<rect x="1009.85" y="239.5" width="24.55" height="123.5" fill="url(#bg3)"/>
<rect x="1034.10" y="118.0" width="24.55" height="245.0" fill="url(#bg4)"/>
<rect x="1058.35" y="118.0" width="24.55" height="245.0" fill="url(#bg5)"/>
<rect x="1118.40" y="317.0" width="24.55" height="46.0" fill="url(#bg0)"/>
<rect x="1142.65" y="317.0" width="24.55" height="46.0" fill="url(#bg1)"/>
<rect x="1166.90" y="244.0" width="24.55" height="119.0" fill="url(#bg2)"/>
<rect x="1191.15" y="239.5" width="24.55" height="123.5" fill="url(#bg3)"/>
<rect x="1215.40" y="118.0" width="24.55" height="245.0" fill="url(#bg4)"/>
<rect x="1239.65" y="118.0" width="24.55" height="245.0" fill="url(#bg5)"/>
<rect x="738.0" y="22.2" width="544.0" height="340.8" fill="none" stroke="#000" stroke-width="4"/>
<line x1="738.0" y1="113.6" x2="756.0" y2="113.6" stroke="#000" stroke-width="4"/>
<line x1="738.0" y1="237.3" x2="756.0" y2="237.3" stroke="#000" stroke-width="4"/>
<text transform="translate(724.0,130.6) scale(1,1.05)" font-size="47" text-anchor="end">2.2</text>
<text transform="translate(724.0,254.3) scale(1,1.05)" font-size="47" text-anchor="end">2.0</text>
<text transform="translate(724.0,378.0) scale(1,1.05)" font-size="47" text-anchor="end">1.8</text>
<text transform="translate(635.5,192.6) rotate(-90) scale(1,1.05)" font-size="47" text-anchor="middle" fill="#000">Nb-O (&#197;)</text>
<text transform="translate(761.5,77.7) scale(1,1.05)" font-size="48.5">KNN</text>
<line x1="738.5" y1="492.8" x2="1280.0" y2="492.8" stroke="#4a4a4a" stroke-width="3.2" stroke-dasharray="15 14.4"/>
<line x1="738.5" y1="619.5" x2="1280.0" y2="619.5" stroke="#4a4a4a" stroke-width="3.2" stroke-dasharray="15 14.4"/>
<line x1="738.5" y1="692.7" x2="1280.0" y2="692.7" stroke="#4a4a4a" stroke-width="3.2" stroke-dasharray="15 14.4"/>
<rect x="755.90" y="692.0" width="24.55" height="45.8" fill="url(#bg0)"/>
<rect x="780.15" y="677.3" width="24.55" height="60.5" fill="url(#bg1)"/>
<rect x="804.40" y="677.3" width="24.55" height="60.5" fill="url(#bg2)"/>
<rect x="828.65" y="521.8" width="24.55" height="216.0" fill="url(#bg3)"/>
<rect x="852.90" y="521.8" width="24.55" height="216.0" fill="url(#bg4)"/>
<rect x="877.15" y="500.3" width="24.55" height="237.5" fill="url(#bg5)"/>
<rect x="937.10" y="689.4" width="24.55" height="48.4" fill="url(#bg0)"/>
<rect x="961.35" y="666.3" width="24.55" height="71.5" fill="url(#bg1)"/>
<rect x="985.60" y="666.3" width="24.55" height="71.5" fill="url(#bg2)"/>
<rect x="1009.85" y="538.0" width="24.55" height="199.8" fill="url(#bg3)"/>
<rect x="1034.10" y="538.0" width="24.55" height="199.8" fill="url(#bg4)"/>
<rect x="1058.35" y="524.9" width="24.55" height="212.9" fill="url(#bg5)"/>
<rect x="1118.40" y="688.2" width="24.55" height="49.6" fill="url(#bg0)"/>
<rect x="1142.65" y="688.2" width="24.55" height="49.6" fill="url(#bg1)"/>
<rect x="1166.90" y="687.5" width="24.55" height="50.3" fill="url(#bg2)"/>
<rect x="1191.15" y="507.0" width="24.55" height="230.8" fill="url(#bg3)"/>
<rect x="1215.40" y="504.0" width="24.55" height="233.8" fill="url(#bg4)"/>
<rect x="1239.65" y="504.0" width="24.55" height="233.8" fill="url(#bg5)"/>
<rect x="738.0" y="397.0" width="544.0" height="340.8" fill="none" stroke="#000" stroke-width="4"/>
<line x1="738.0" y1="488.4" x2="756.0" y2="488.4" stroke="#000" stroke-width="4"/>
<line x1="738.0" y1="612.1" x2="756.0" y2="612.1" stroke="#000" stroke-width="4"/>
<text transform="translate(724.0,505.4) scale(1,1.05)" font-size="47" text-anchor="end">2.2</text>
<text transform="translate(724.0,629.1) scale(1,1.05)" font-size="47" text-anchor="end">2.0</text>
<text transform="translate(724.0,752.8) scale(1,1.05)" font-size="47" text-anchor="end">1.8</text>
<text transform="translate(635.5,567.4) rotate(-90) scale(1,1.05)" font-size="47" text-anchor="middle" fill="#000">Nb-O (&#197;)</text>
<text transform="translate(761.5,452.5) scale(1,1.05)" font-size="48.5">KNN-Li</text>
<line x1="738.5" y1="866.8" x2="1280.0" y2="866.8" stroke="#4a4a4a" stroke-width="3.2" stroke-dasharray="15 14.4"/>
<line x1="738.5" y1="993.5" x2="1280.0" y2="993.5" stroke="#4a4a4a" stroke-width="3.2" stroke-dasharray="15 14.4"/>
<line x1="738.5" y1="1066.7" x2="1280.0" y2="1066.7" stroke="#4a4a4a" stroke-width="3.2" stroke-dasharray="15 14.4"/>
<rect x="755.90" y="1014.0" width="24.55" height="97.8" fill="url(#bg0)"/>
<rect x="780.15" y="1014.0" width="24.55" height="97.8" fill="url(#bg1)"/>
<rect x="804.40" y="987.1" width="24.55" height="124.7" fill="url(#bg2)"/>
<rect x="828.65" y="974.3" width="24.55" height="137.5" fill="url(#bg3)"/>
<rect x="852.90" y="946.7" width="24.55" height="165.1" fill="url(#bg4)"/>
<rect x="877.15" y="946.7" width="24.55" height="165.1" fill="url(#bg5)"/>
<rect x="937.10" y="1014.0" width="24.55" height="97.8" fill="url(#bg0)"/>
<rect x="961.35" y="1014.0" width="24.55" height="97.8" fill="url(#bg1)"/>
<rect x="985.60" y="987.1" width="24.55" height="124.7" fill="url(#bg2)"/>
<rect x="1009.85" y="974.3" width="24.55" height="137.5" fill="url(#bg3)"/>
<rect x="1034.10" y="946.7" width="24.55" height="165.1" fill="url(#bg4)"/>
<rect x="1058.35" y="946.7" width="24.55" height="165.1" fill="url(#bg5)"/>
<rect x="1118.40" y="1014.0" width="24.55" height="97.8" fill="url(#bg0)"/>
<rect x="1142.65" y="1014.0" width="24.55" height="97.8" fill="url(#bg1)"/>
<rect x="1166.90" y="987.1" width="24.55" height="124.7" fill="url(#bg2)"/>
<rect x="1191.15" y="974.3" width="24.55" height="137.5" fill="url(#bg3)"/>
<rect x="1215.40" y="946.7" width="24.55" height="165.1" fill="url(#bg4)"/>
<rect x="1239.65" y="946.7" width="24.55" height="165.1" fill="url(#bg5)"/>
<rect x="738.0" y="771.0" width="544.0" height="340.8" fill="none" stroke="#000" stroke-width="4"/>
<line x1="738.0" y1="862.4" x2="756.0" y2="862.4" stroke="#000" stroke-width="4"/>
<line x1="738.0" y1="986.1" x2="756.0" y2="986.1" stroke="#000" stroke-width="4"/>
<text transform="translate(724.0,879.4) scale(1,1.05)" font-size="47" text-anchor="end">2.2</text>
<text transform="translate(724.0,1003.1) scale(1,1.05)" font-size="47" text-anchor="end">2.0</text>
<text transform="translate(724.0,1126.8) scale(1,1.05)" font-size="47" text-anchor="end">1.8</text>
<text transform="translate(635.5,941.4) rotate(-90) scale(1,1.05)" font-size="47" text-anchor="middle" fill="#000">Nb-O (&#197;)</text>
<text transform="translate(761.5,826.5) scale(1,1.05)" font-size="48.5">KNN-Bi</text>
<rect x="985.5" y="36.1" width="27.4" height="21.7" fill="url(#bg0)"/>
<text transform="translate(1024.0,60.6) scale(1,1.05)" font-size="35.5">O1</text>
<rect x="1082.2" y="36.1" width="27.4" height="21.7" fill="url(#bg1)"/>
<text transform="translate(1120.7,60.6) scale(1,1.05)" font-size="35.5">O2</text>
<rect x="1178.0" y="36.1" width="27.4" height="21.7" fill="url(#bg2)"/>
<text transform="translate(1216.5,60.6) scale(1,1.05)" font-size="35.5">O3</text>
<rect x="985.5" y="81.0" width="27.4" height="21.7" fill="url(#bg3)"/>
<text transform="translate(1024.0,105.5) scale(1,1.05)" font-size="35.5">O4</text>
<rect x="1082.2" y="81.0" width="27.4" height="21.7" fill="url(#bg4)"/>
<text transform="translate(1120.7,105.5) scale(1,1.05)" font-size="35.5">O5</text>
<rect x="1178.0" y="81.0" width="27.4" height="21.7" fill="url(#bg5)"/>
<text transform="translate(1216.5,105.5) scale(1,1.05)" font-size="35.5">O6</text>
<text transform="translate(828.6,1157.5) scale(1,1.05)" font-size="45" text-anchor="middle">1</text>
<text transform="translate(1009.9,1157.5) scale(1,1.05)" font-size="45" text-anchor="middle">2</text>
<text transform="translate(1191.2,1157.5) scale(1,1.05)" font-size="45" text-anchor="middle">3</text>
<text transform="translate(1010.0,1210.5) scale(1,1.05)" font-size="47" text-anchor="middle">Position of Nb</text>
<defs><clipPath id="iclip"><rect x="1356.4" y="1351.6" width="642.3" height="566.1000000000001"/></clipPath></defs>
<g clip-path="url(#iclip)">
<path d="M1420.4,1713.9 L1425.6,1758.9 L1430.7,1795.5 L1435.9,1824.9 L1441.0,1847.9 L1446.2,1865.6 L1451.3,1878.7 L1456.5,1888.1 L1461.7,1894.4 L1466.8,1898.2 L1472.0,1899.9 L1477.1,1900.0 L1482.3,1898.7 L1487.4,1896.4 L1492.6,1893.2 L1497.8,1889.3 L1502.9,1884.9 L1508.1,1880.0 L1513.2,1874.6 L1518.4,1869.0 L1523.5,1863.1 L1528.7,1856.9 L1533.9,1850.6 L1539.0,1844.1 L1544.2,1837.5 L1549.3,1830.8 L1554.5,1824.1 L1559.6,1817.5 L1564.8,1811.0 L1570.0,1804.5 L1575.1,1798.3 L1580.3,1792.2 L1585.4,1786.4 L1590.6,1780.9 L1595.7,1775.7 L1600.9,1770.8 L1606.1,1766.3 L1611.2,1762.1 L1616.4,1758.3 L1621.5,1754.8 L1626.7,1751.7 L1631.8,1749.0 L1637.0,1746.6 L1642.2,1744.5 L1647.3,1742.8 L1652.5,1741.4 L1657.6,1740.2 L1662.8,1739.4 L1667.9,1738.8 L1673.1,1738.4 L1678.3,1738.3 L1683.4,1738.5 L1688.6,1738.9 L1693.7,1739.6 L1698.9,1740.5 L1704.0,1741.7 L1709.2,1743.2 L1714.4,1744.9 L1719.5,1747.0 L1724.7,1749.4 L1729.8,1752.1 L1735.0,1755.1 L1740.2,1758.5 L1745.3,1762.3 L1750.5,1766.4 L1755.6,1770.8 L1760.8,1775.5 L1765.9,1780.6 L1771.1,1786.0 L1776.3,1791.6 L1781.4,1797.5 L1786.6,1803.6 L1791.7,1809.8 L1796.9,1816.2 L1802.0,1822.6 L1807.2,1829.1 L1812.4,1835.6 L1817.5,1842.0 L1822.7,1848.4 L1827.8,1854.7 L1833.0,1860.7 L1838.1,1866.6 L1843.3,1872.2 L1848.5,1877.6 L1853.6,1882.6 L1858.8,1887.1 L1863.9,1891.2 L1869.1,1894.7 L1874.2,1897.5 L1879.4,1899.4 L1884.6,1900.1 L1889.7,1899.5 L1894.9,1897.2 L1900.0,1892.9 L1905.2,1885.9 L1910.3,1875.9 L1915.5,1862.1 L1920.7,1843.9 L1925.8,1820.4 L1931.0,1790.7 L1936.1,1754.0" fill="none" stroke="#4e4e4e" stroke-width="3.5"/>
<path d="M1409.9,1703.4h21v21h-21zM1415.1,1748.4h21v21h-21zM1420.2,1785.0h21v21h-21zM1425.4,1814.4h21v21h-21zM1430.5,1837.4h21v21h-21zM1435.7,1855.1h21v21h-21zM1440.8,1868.2h21v21h-21zM1446.0,1877.6h21v21h-21zM1451.2,1883.9h21v21h-21zM1456.3,1887.7h21v21h-21zM1461.5,1889.4h21v21h-21zM1466.6,1889.5h21v21h-21zM1471.8,1888.2h21v21h-21zM1476.9,1885.9h21v21h-21zM1482.1,1882.7h21v21h-21zM1487.3,1878.8h21v21h-21zM1492.4,1874.4h21v21h-21zM1497.6,1869.5h21v21h-21zM1502.7,1864.1h21v21h-21zM1507.9,1858.5h21v21h-21zM1513.0,1852.6h21v21h-21zM1518.2,1846.4h21v21h-21zM1523.4,1840.1h21v21h-21zM1528.5,1833.6h21v21h-21zM1533.7,1827.0h21v21h-21zM1538.8,1820.3h21v21h-21zM1544.0,1813.6h21v21h-21zM1549.1,1807.0h21v21h-21zM1554.3,1800.5h21v21h-21zM1559.5,1794.0h21v21h-21zM1564.6,1787.8h21v21h-21zM1569.8,1781.7h21v21h-21zM1574.9,1775.9h21v21h-21zM1580.1,1770.4h21v21h-21zM1585.2,1765.2h21v21h-21zM1590.4,1760.3h21v21h-21zM1595.6,1755.8h21v21h-21zM1600.7,1751.6h21v21h-21zM1605.9,1747.8h21v21h-21zM1611.0,1744.3h21v21h-21zM1616.2,1741.2h21v21h-21zM1621.3,1738.5h21v21h-21zM1626.5,1736.1h21v21h-21zM1631.7,1734.0h21v21h-21zM1636.8,1732.3h21v21h-21zM1642.0,1730.9h21v21h-21zM1647.1,1729.7h21v21h-21zM1652.3,1728.9h21v21h-21zM1657.4,1728.3h21v21h-21zM1662.6,1727.9h21v21h-21zM1667.8,1727.8h21v21h-21zM1672.9,1728.0h21v21h-21zM1678.1,1728.4h21v21h-21zM1683.2,1729.1h21v21h-21zM1688.4,1730.0h21v21h-21zM1693.5,1731.2h21v21h-21zM1698.7,1732.7h21v21h-21zM1703.9,1734.4h21v21h-21zM1709.0,1736.5h21v21h-21zM1714.2,1738.9h21v21h-21zM1719.3,1741.6h21v21h-21zM1724.5,1744.6h21v21h-21zM1729.7,1748.0h21v21h-21zM1734.8,1751.8h21v21h-21zM1740.0,1755.9h21v21h-21zM1745.1,1760.3h21v21h-21zM1750.3,1765.0h21v21h-21zM1755.4,1770.1h21v21h-21zM1760.6,1775.5h21v21h-21zM1765.8,1781.1h21v21h-21zM1770.9,1787.0h21v21h-21zM1776.1,1793.1h21v21h-21zM1781.2,1799.3h21v21h-21zM1786.4,1805.7h21v21h-21zM1791.5,1812.1h21v21h-21zM1796.7,1818.6h21v21h-21zM1801.9,1825.1h21v21h-21zM1807.0,1831.5h21v21h-21zM1812.2,1837.9h21v21h-21zM1817.3,1844.2h21v21h-21zM1822.5,1850.2h21v21h-21zM1827.6,1856.1h21v21h-21zM1832.8,1861.7h21v21h-21zM1838.0,1867.1h21v21h-21zM1843.1,1872.1h21v21h-21zM1848.3,1876.6h21v21h-21zM1853.4,1880.7h21v21h-21zM1858.6,1884.2h21v21h-21zM1863.7,1887.0h21v21h-21zM1868.9,1888.9h21v21h-21zM1874.1,1889.6h21v21h-21zM1879.2,1889.0h21v21h-21zM1884.4,1886.7h21v21h-21zM1889.5,1882.4h21v21h-21zM1894.7,1875.4h21v21h-21zM1899.8,1865.4h21v21h-21zM1905.0,1851.6h21v21h-21zM1910.2,1833.4h21v21h-21zM1915.3,1809.9h21v21h-21zM1920.5,1780.2h21v21h-21zM1925.6,1743.5h21v21h-21z" fill="#4e4e4e"/>
<path d="M1421.0,1404.9 L1426.1,1463.7 L1431.2,1512.9 L1436.3,1554.6 L1441.4,1589.9 L1446.5,1619.9 L1451.6,1645.2 L1456.7,1666.4 L1461.8,1683.9 L1466.9,1698.2 L1472.0,1709.5 L1477.1,1718.2 L1482.2,1724.6 L1487.3,1729.1 L1492.3,1731.8 L1497.4,1733.2 L1502.5,1733.5 L1507.6,1733.0 L1512.7,1732.0 L1517.8,1730.5 L1522.9,1728.9 L1528.0,1727.2 L1533.1,1725.6 L1538.2,1724.1 L1543.3,1722.9 L1548.4,1722.0 L1553.5,1721.3 L1558.6,1720.9 L1563.6,1720.6 L1568.7,1720.6 L1573.8,1720.7 L1578.9,1720.8 L1584.0,1721.0 L1589.1,1721.2 L1594.2,1721.3 L1599.3,1721.3 L1604.4,1721.1 L1609.5,1720.9 L1614.6,1720.4 L1619.7,1719.9 L1624.8,1719.2 L1629.9,1718.4 L1635.0,1717.6 L1640.0,1716.7 L1645.1,1715.8 L1650.2,1715.0 L1655.3,1714.2 L1660.4,1713.6 L1665.5,1713.1 L1670.6,1712.7 L1675.7,1712.6 L1680.8,1712.6 L1685.9,1712.8 L1691.0,1713.2 L1696.1,1713.8 L1701.2,1714.5 L1706.3,1715.3 L1711.3,1716.1 L1716.4,1717.0 L1721.5,1717.9 L1726.6,1718.7 L1731.7,1719.4 L1736.8,1720.1 L1741.9,1720.6 L1747.0,1721.0 L1752.1,1721.2 L1757.2,1721.3 L1762.3,1721.3 L1767.4,1721.1 L1772.5,1721.0 L1777.6,1720.8 L1782.6,1720.6 L1787.7,1720.6 L1792.8,1720.7 L1797.9,1720.9 L1803.0,1721.4 L1808.1,1722.2 L1813.2,1723.2 L1818.3,1724.5 L1823.4,1725.9 L1828.5,1727.5 L1833.6,1729.2 L1838.7,1730.8 L1843.8,1732.2 L1848.9,1733.2 L1854.0,1733.6 L1859.0,1733.1 L1864.1,1731.4 L1869.2,1728.4 L1874.3,1723.6 L1879.4,1716.9 L1884.5,1707.8 L1889.6,1696.1 L1894.7,1681.4 L1899.8,1663.5 L1904.9,1641.8 L1910.0,1616.0 L1915.1,1585.5 L1920.2,1549.5 L1925.3,1507.2 L1930.3,1457.1" fill="none" stroke="#1d6ddc" stroke-width="3.5"/>
<path d="M1421.0,1389.4L1435.3,1414.1L1406.7,1414.1zM1426.1,1448.2L1440.4,1472.9L1411.8,1472.9zM1431.2,1497.4L1445.5,1522.1L1416.9,1522.1zM1436.3,1539.1L1450.6,1563.8L1422.0,1563.8zM1441.4,1574.4L1455.7,1599.1L1427.1,1599.1zM1446.5,1604.4L1460.8,1629.1L1432.2,1629.1zM1451.6,1629.7L1465.9,1654.4L1437.3,1654.4zM1456.7,1650.9L1471.0,1675.6L1442.4,1675.6zM1461.8,1668.4L1476.1,1693.1L1447.5,1693.1zM1466.9,1682.7L1481.2,1707.4L1452.6,1707.4zM1472.0,1694.0L1486.3,1718.7L1457.7,1718.7zM1477.1,1702.7L1491.4,1727.4L1462.8,1727.4zM1482.2,1709.1L1496.5,1733.8L1467.9,1733.8zM1487.3,1713.6L1501.6,1738.3L1473.0,1738.3zM1492.3,1716.3L1506.6,1741.0L1478.0,1741.0zM1497.4,1717.7L1511.7,1742.4L1483.1,1742.4zM1502.5,1718.0L1516.8,1742.7L1488.2,1742.7zM1507.6,1717.5L1521.9,1742.2L1493.3,1742.2zM1512.7,1716.5L1527.0,1741.2L1498.4,1741.2zM1517.8,1715.0L1532.1,1739.7L1503.5,1739.7zM1522.9,1713.4L1537.2,1738.1L1508.6,1738.1zM1528.0,1711.7L1542.3,1736.4L1513.7,1736.4zM1533.1,1710.1L1547.4,1734.8L1518.8,1734.8zM1538.2,1708.6L1552.5,1733.3L1523.9,1733.3zM1543.3,1707.4L1557.6,1732.1L1529.0,1732.1zM1548.4,1706.5L1562.7,1731.2L1534.1,1731.2zM1553.5,1705.8L1567.8,1730.5L1539.2,1730.5zM1558.6,1705.4L1572.9,1730.1L1544.3,1730.1zM1563.6,1705.1L1577.9,1729.8L1549.3,1729.8zM1568.7,1705.1L1583.0,1729.8L1554.4,1729.8zM1573.8,1705.2L1588.1,1729.9L1559.5,1729.9zM1578.9,1705.3L1593.2,1730.0L1564.6,1730.0zM1584.0,1705.5L1598.3,1730.2L1569.7,1730.2zM1589.1,1705.7L1603.4,1730.4L1574.8,1730.4zM1594.2,1705.8L1608.5,1730.5L1579.9,1730.5zM1599.3,1705.8L1613.6,1730.5L1585.0,1730.5zM1604.4,1705.6L1618.7,1730.3L1590.1,1730.3zM1609.5,1705.4L1623.8,1730.1L1595.2,1730.1zM1614.6,1704.9L1628.9,1729.6L1600.3,1729.6zM1619.7,1704.4L1634.0,1729.1L1605.4,1729.1zM1624.8,1703.7L1639.1,1728.4L1610.5,1728.4zM1629.9,1702.9L1644.2,1727.6L1615.6,1727.6zM1635.0,1702.1L1649.3,1726.8L1620.7,1726.8zM1640.0,1701.2L1654.3,1725.9L1625.7,1725.9zM1645.1,1700.3L1659.4,1725.0L1630.8,1725.0zM1650.2,1699.5L1664.5,1724.2L1635.9,1724.2zM1655.3,1698.7L1669.6,1723.4L1641.0,1723.4zM1660.4,1698.1L1674.7,1722.8L1646.1,1722.8zM1665.5,1697.6L1679.8,1722.3L1651.2,1722.3zM1670.6,1697.2L1684.9,1721.9L1656.3,1721.9zM1675.7,1697.1L1690.0,1721.8L1661.4,1721.8zM1680.8,1697.1L1695.1,1721.8L1666.5,1721.8zM1685.9,1697.3L1700.2,1722.0L1671.6,1722.0zM1691.0,1697.7L1705.3,1722.4L1676.7,1722.4zM1696.1,1698.3L1710.4,1723.0L1681.8,1723.0zM1701.2,1699.0L1715.5,1723.7L1686.9,1723.7zM1706.3,1699.8L1720.6,1724.5L1692.0,1724.5zM1711.3,1700.6L1725.6,1725.3L1697.0,1725.3zM1716.4,1701.5L1730.7,1726.2L1702.1,1726.2zM1721.5,1702.4L1735.8,1727.1L1707.2,1727.1zM1726.6,1703.2L1740.9,1727.9L1712.3,1727.9zM1731.7,1703.9L1746.0,1728.6L1717.4,1728.6zM1736.8,1704.6L1751.1,1729.3L1722.5,1729.3zM1741.9,1705.1L1756.2,1729.8L1727.6,1729.8zM1747.0,1705.5L1761.3,1730.2L1732.7,1730.2zM1752.1,1705.7L1766.4,1730.4L1737.8,1730.4zM1757.2,1705.8L1771.5,1730.5L1742.9,1730.5zM1762.3,1705.8L1776.6,1730.5L1748.0,1730.5zM1767.4,1705.6L1781.7,1730.3L1753.1,1730.3zM1772.5,1705.5L1786.8,1730.2L1758.2,1730.2zM1777.6,1705.3L1791.9,1730.0L1763.3,1730.0zM1782.6,1705.1L1796.9,1729.8L1768.3,1729.8zM1787.7,1705.1L1802.0,1729.8L1773.4,1729.8zM1792.8,1705.2L1807.1,1729.9L1778.5,1729.9zM1797.9,1705.4L1812.2,1730.1L1783.6,1730.1zM1803.0,1705.9L1817.3,1730.6L1788.7,1730.6zM1808.1,1706.7L1822.4,1731.4L1793.8,1731.4zM1813.2,1707.7L1827.5,1732.4L1798.9,1732.4zM1818.3,1709.0L1832.6,1733.7L1804.0,1733.7zM1823.4,1710.4L1837.7,1735.1L1809.1,1735.1zM1828.5,1712.0L1842.8,1736.7L1814.2,1736.7zM1833.6,1713.7L1847.9,1738.4L1819.3,1738.4zM1838.7,1715.3L1853.0,1740.0L1824.4,1740.0zM1843.8,1716.7L1858.1,1741.4L1829.5,1741.4zM1848.9,1717.7L1863.2,1742.4L1834.6,1742.4zM1854.0,1718.1L1868.3,1742.8L1839.7,1742.8zM1859.0,1717.6L1873.3,1742.3L1844.7,1742.3zM1864.1,1715.9L1878.4,1740.6L1849.8,1740.6zM1869.2,1712.9L1883.5,1737.6L1854.9,1737.6zM1874.3,1708.1L1888.6,1732.8L1860.0,1732.8zM1879.4,1701.4L1893.7,1726.1L1865.1,1726.1zM1884.5,1692.3L1898.8,1717.0L1870.2,1717.0zM1889.6,1680.6L1903.9,1705.3L1875.3,1705.3zM1894.7,1665.9L1909.0,1690.6L1880.4,1690.6zM1899.8,1648.0L1914.1,1672.7L1885.5,1672.7zM1904.9,1626.3L1919.2,1651.0L1890.6,1651.0zM1910.0,1600.5L1924.3,1625.2L1895.7,1625.2zM1915.1,1570.0L1929.4,1594.7L1900.8,1594.7zM1920.2,1534.0L1934.5,1558.7L1905.9,1558.7zM1925.3,1491.7L1939.6,1516.4L1911.0,1516.4zM1930.3,1441.6L1944.6,1466.3L1916.0,1466.3z" fill="#1d6ddc"/>
<path d="M1421.0,1609.9 L1426.2,1654.0 L1431.3,1692.9 L1436.4,1726.1 L1441.5,1753.8 L1446.6,1776.4 L1451.7,1794.4 L1456.8,1808.3 L1461.9,1818.7 L1467.1,1826.2 L1472.2,1831.5 L1477.3,1834.8 L1482.4,1836.7 L1487.5,1837.4 L1492.6,1837.2 L1497.7,1836.3 L1502.8,1835.0 L1508.0,1833.1 L1513.1,1831.0 L1518.2,1828.5 L1523.3,1825.8 L1528.4,1822.8 L1533.5,1819.5 L1538.6,1816.0 L1543.7,1812.3 L1548.8,1808.4 L1554.0,1804.3 L1559.1,1800.1 L1564.2,1795.7 L1569.3,1791.2 L1574.4,1786.7 L1579.5,1782.2 L1584.6,1777.7 L1589.7,1773.2 L1594.9,1769.0 L1600.0,1764.8 L1605.1,1760.9 L1610.2,1757.2 L1615.3,1753.7 L1620.4,1750.5 L1625.5,1747.5 L1630.6,1744.9 L1635.8,1742.5 L1640.9,1740.5 L1646.0,1738.7 L1651.1,1737.2 L1656.2,1736.0 L1661.3,1735.0 L1666.4,1734.4 L1671.5,1733.9 L1676.7,1733.8 L1681.8,1733.9 L1686.9,1734.2 L1692.0,1734.8 L1697.1,1735.7 L1702.2,1736.8 L1707.3,1738.1 L1712.4,1739.8 L1717.6,1741.7 L1722.7,1743.9 L1727.8,1746.4 L1732.9,1749.1 L1738.0,1752.2 L1743.1,1755.4 L1748.2,1759.0 L1753.3,1762.7 L1758.5,1766.7 L1763.6,1770.8 L1768.7,1775.1 L1773.8,1779.5 L1778.9,1783.9 L1784.0,1788.4 L1789.1,1792.8 L1794.2,1797.2 L1799.4,1801.4 L1804.5,1805.6 L1809.6,1809.6 L1814.7,1813.3 L1819.8,1816.9 L1824.9,1820.3 L1830.0,1823.4 L1835.1,1826.3 L1840.3,1829.0 L1845.4,1831.3 L1850.5,1833.4 L1855.6,1835.1 L1860.7,1836.5 L1865.8,1837.2 L1870.9,1837.3 L1876.0,1836.6 L1881.2,1834.7 L1886.3,1831.4 L1891.4,1826.3 L1896.5,1818.9 L1901.6,1808.8 L1906.7,1795.3 L1911.8,1778.0 L1916.9,1756.2 L1922.0,1729.5 L1927.2,1697.5 L1932.3,1660.2" fill="none" stroke="#ec3d3d" stroke-width="3.5"/>
<path d="M1408.5,1609.9a12.5,12.5 0 1,0 25,0a12.5,12.5 0 1,0 -25,0zM1413.7,1654.0a12.5,12.5 0 1,0 25,0a12.5,12.5 0 1,0 -25,0zM1418.8,1692.9a12.5,12.5 0 1,0 25,0a12.5,12.5 0 1,0 -25,0zM1423.9,1726.1a12.5,12.5 0 1,0 25,0a12.5,12.5 0 1,0 -25,0zM1429.0,1753.8a12.5,12.5 0 1,0 25,0a12.5,12.5 0 1,0 -25,0zM1434.1,1776.4a12.5,12.5 0 1,0 25,0a12.5,12.5 0 1,0 -25,0zM1439.2,1794.4a12.5,12.5 0 1,0 25,0a12.5,12.5 0 1,0 -25,0zM1444.3,1808.3a12.5,12.5 0 1,0 25,0a12.5,12.5 0 1,0 -25,0zM1449.4,1818.7a12.5,12.5 0 1,0 25,0a12.5,12.5 0 1,0 -25,0zM1454.6,1826.2a12.5,12.5 0 1,0 25,0a12.5,12.5 0 1,0 -25,0zM1459.7,1831.5a12.5,12.5 0 1,0 25,0a12.5,12.5 0 1,0 -25,0zM1464.8,1834.8a12.5,12.5 0 1,0 25,0a12.5,12.5 0 1,0 -25,0zM1469.9,1836.7a12.5,12.5 0 1,0 25,0a12.5,12.5 0 1,0 -25,0zM1475.0,1837.4a12.5,12.5 0 1,0 25,0a12.5,12.5 0 1,0 -25,0zM1480.1,1837.2a12.5,12.5 0 1,0 25,0a12.5,12.5 0 1,0 -25,0zM1485.2,1836.3a12.5,12.5 0 1,0 25,0a12.5,12.5 0 1,0 -25,0zM1490.3,1835.0a12.5,12.5 0 1,0 25,0a12.5,12.5 0 1,0 -25,0zM1495.5,1833.1a12.5,12.5 0 1,0 25,0a12.5,12.5 0 1,0 -25,0zM1500.6,1831.0a12.5,12.5 0 1,0 25,0a12.5,12.5 0 1,0 -25,0zM1505.7,1828.5a12.5,12.5 0 1,0 25,0a12.5,12.5 0 1,0 -25,0zM1510.8,1825.8a12.5,12.5 0 1,0 25,0a12.5,12.5 0 1,0 -25,0zM1515.9,1822.8a12.5,12.5 0 1,0 25,0a12.5,12.5 0 1,0 -25,0zM1521.0,1819.5a12.5,12.5 0 1,0 25,0a12.5,12.5 0 1,0 -25,0zM1526.1,1816.0a12.5,12.5 0 1,0 25,0a12.5,12.5 0 1,0 -25,0zM1531.2,1812.3a12.5,12.5 0 1,0 25,0a12.5,12.5 0 1,0 -25,0zM1536.3,1808.4a12.5,12.5 0 1,0 25,0a12.5,12.5 0 1,0 -25,0zM1541.5,1804.3a12.5,12.5 0 1,0 25,0a12.5,12.5 0 1,0 -25,0zM1546.6,1800.1a12.5,12.5 0 1,0 25,0a12.5,12.5 0 1,0 -25,0zM1551.7,1795.7a12.5,12.5 0 1,0 25,0a12.5,12.5 0 1,0 -25,0zM1556.8,1791.2a12.5,12.5 0 1,0 25,0a12.5,12.5 0 1,0 -25,0zM1561.9,1786.7a12.5,12.5 0 1,0 25,0a12.5,12.5 0 1,0 -25,0zM1567.0,1782.2a12.5,12.5 0 1,0 25,0a12.5,12.5 0 1,0 -25,0zM1572.1,1777.7a12.5,12.5 0 1,0 25,0a12.5,12.5 0 1,0 -25,0zM1577.2,1773.2a12.5,12.5 0 1,0 25,0a12.5,12.5 0 1,0 -25,0zM1582.4,1769.0a12.5,12.5 0 1,0 25,0a12.5,12.5 0 1,0 -25,0zM1587.5,1764.8a12.5,12.5 0 1,0 25,0a12.5,12.5 0 1,0 -25,0zM1592.6,1760.9a12.5,12.5 0 1,0 25,0a12.5,12.5 0 1,0 -25,0zM1597.7,1757.2a12.5,12.5 0 1,0 25,0a12.5,12.5 0 1,0 -25,0zM1602.8,1753.7a12.5,12.5 0 1,0 25,0a12.5,12.5 0 1,0 -25,0zM1607.9,1750.5a12.5,12.5 0 1,0 25,0a12.5,12.5 0 1,0 -25,0zM1613.0,1747.5a12.5,12.5 0 1,0 25,0a12.5,12.5 0 1,0 -25,0zM1618.1,1744.9a12.5,12.5 0 1,0 25,0a12.5,12.5 0 1,0 -25,0zM1623.3,1742.5a12.5,12.5 0 1,0 25,0a12.5,12.5 0 1,0 -25,0zM1628.4,1740.5a12.5,12.5 0 1,0 25,0a12.5,12.5 0 1,0 -25,0zM1633.5,1738.7a12.5,12.5 0 1,0 25,0a12.5,12.5 0 1,0 -25,0zM1638.6,1737.2a12.5,12.5 0 1,0 25,0a12.5,12.5 0 1,0 -25,0zM1643.7,1736.0a12.5,12.5 0 1,0 25,0a12.5,12.5 0 1,0 -25,0zM1648.8,1735.0a12.5,12.5 0 1,0 25,0a12.5,12.5 0 1,0 -25,0zM1653.9,1734.4a12.5,12.5 0 1,0 25,0a12.5,12.5 0 1,0 -25,0zM1659.0,1733.9a12.5,12.5 0 1,0 25,0a12.5,12.5 0 1,0 -25,0zM1664.2,1733.8a12.5,12.5 0 1,0 25,0a12.5,12.5 0 1,0 -25,0zM1669.3,1733.9a12.5,12.5 0 1,0 25,0a12.5,12.5 0 1,0 -25,0zM1674.4,1734.2a12.5,12.5 0 1,0 25,0a12.5,12.5 0 1,0 -25,0zM1679.5,1734.8a12.5,12.5 0 1,0 25,0a12.5,12.5 0 1,0 -25,0zM1684.6,1735.7a12.5,12.5 0 1,0 25,0a12.5,12.5 0 1,0 -25,0zM1689.7,1736.8a12.5,12.5 0 1,0 25,0a12.5,12.5 0 1,0 -25,0zM1694.8,1738.1a12.5,12.5 0 1,0 25,0a12.5,12.5 0 1,0 -25,0zM1699.9,1739.8a12.5,12.5 0 1,0 25,0a12.5,12.5 0 1,0 -25,0zM1705.1,1741.7a12.5,12.5 0 1,0 25,0a12.5,12.5 0 1,0 -25,0zM1710.2,1743.9a12.5,12.5 0 1,0 25,0a12.5,12.5 0 1,0 -25,0zM1715.3,1746.4a12.5,12.5 0 1,0 25,0a12.5,12.5 0 1,0 -25,0zM1720.4,1749.1a12.5,12.5 0 1,0 25,0a12.5,12.5 0 1,0 -25,0zM1725.5,1752.2a12.5,12.5 0 1,0 25,0a12.5,12.5 0 1,0 -25,0zM1730.6,1755.4a12.5,12.5 0 1,0 25,0a12.5,12.5 0 1,0 -25,0zM1735.7,1759.0a12.5,12.5 0 1,0 25,0a12.5,12.5 0 1,0 -25,0zM1740.8,1762.7a12.5,12.5 0 1,0 25,0a12.5,12.5 0 1,0 -25,0zM1746.0,1766.7a12.5,12.5 0 1,0 25,0a12.5,12.5 0 1,0 -25,0zM1751.1,1770.8a12.5,12.5 0 1,0 25,0a12.5,12.5 0 1,0 -25,0zM1756.2,1775.1a12.5,12.5 0 1,0 25,0a12.5,12.5 0 1,0 -25,0zM1761.3,1779.5a12.5,12.5 0 1,0 25,0a12.5,12.5 0 1,0 -25,0zM1766.4,1783.9a12.5,12.5 0 1,0 25,0a12.5,12.5 0 1,0 -25,0zM1771.5,1788.4a12.5,12.5 0 1,0 25,0a12.5,12.5 0 1,0 -25,0zM1776.6,1792.8a12.5,12.5 0 1,0 25,0a12.5,12.5 0 1,0 -25,0zM1781.7,1797.2a12.5,12.5 0 1,0 25,0a12.5,12.5 0 1,0 -25,0zM1786.9,1801.4a12.5,12.5 0 1,0 25,0a12.5,12.5 0 1,0 -25,0zM1792.0,1805.6a12.5,12.5 0 1,0 25,0a12.5,12.5 0 1,0 -25,0zM1797.1,1809.6a12.5,12.5 0 1,0 25,0a12.5,12.5 0 1,0 -25,0zM1802.2,1813.3a12.5,12.5 0 1,0 25,0a12.5,12.5 0 1,0 -25,0zM1807.3,1816.9a12.5,12.5 0 1,0 25,0a12.5,12.5 0 1,0 -25,0zM1812.4,1820.3a12.5,12.5 0 1,0 25,0a12.5,12.5 0 1,0 -25,0zM1817.5,1823.4a12.5,12.5 0 1,0 25,0a12.5,12.5 0 1,0 -25,0zM1822.6,1826.3a12.5,12.5 0 1,0 25,0a12.5,12.5 0 1,0 -25,0zM1827.8,1829.0a12.5,12.5 0 1,0 25,0a12.5,12.5 0 1,0 -25,0zM1832.9,1831.3a12.5,12.5 0 1,0 25,0a12.5,12.5 0 1,0 -25,0zM1838.0,1833.4a12.5,12.5 0 1,0 25,0a12.5,12.5 0 1,0 -25,0zM1843.1,1835.1a12.5,12.5 0 1,0 25,0a12.5,12.5 0 1,0 -25,0zM1848.2,1836.5a12.5,12.5 0 1,0 25,0a12.5,12.5 0 1,0 -25,0zM1853.3,1837.2a12.5,12.5 0 1,0 25,0a12.5,12.5 0 1,0 -25,0zM1858.4,1837.3a12.5,12.5 0 1,0 25,0a12.5,12.5 0 1,0 -25,0zM1863.5,1836.6a12.5,12.5 0 1,0 25,0a12.5,12.5 0 1,0 -25,0zM1868.7,1834.7a12.5,12.5 0 1,0 25,0a12.5,12.5 0 1,0 -25,0zM1873.8,1831.4a12.5,12.5 0 1,0 25,0a12.5,12.5 0 1,0 -25,0zM1878.9,1826.3a12.5,12.5 0 1,0 25,0a12.5,12.5 0 1,0 -25,0zM1884.0,1818.9a12.5,12.5 0 1,0 25,0a12.5,12.5 0 1,0 -25,0zM1889.1,1808.8a12.5,12.5 0 1,0 25,0a12.5,12.5 0 1,0 -25,0zM1894.2,1795.3a12.5,12.5 0 1,0 25,0a12.5,12.5 0 1,0 -25,0zM1899.3,1778.0a12.5,12.5 0 1,0 25,0a12.5,12.5 0 1,0 -25,0zM1904.4,1756.2a12.5,12.5 0 1,0 25,0a12.5,12.5 0 1,0 -25,0zM1909.5,1729.5a12.5,12.5 0 1,0 25,0a12.5,12.5 0 1,0 -25,0zM1914.7,1697.5a12.5,12.5 0 1,0 25,0a12.5,12.5 0 1,0 -25,0zM1919.8,1660.2a12.5,12.5 0 1,0 25,0a12.5,12.5 0 1,0 -25,0z" fill="#ec3d3d"/>
</g>
<rect x="1356.4" y="1351.6" width="642.3" height="566.1000000000001" fill="none" stroke="#000" stroke-width="4.8"/>
<line x1="1356.4" y1="1391.8" x2="1381.4" y2="1391.8" stroke="#000" stroke-width="4.6"/>
<text transform="translate(1347.0,1409.3) scale(1,1.05)" font-size="49" text-anchor="end">0.4</text>
<line x1="1356.4" y1="1553.5" x2="1381.4" y2="1553.5" stroke="#000" stroke-width="4.6"/>
<text transform="translate(1347.0,1571.0) scale(1,1.05)" font-size="49" text-anchor="end">0.2</text>
<line x1="1356.4" y1="1715.2" x2="1381.4" y2="1715.2" stroke="#000" stroke-width="4.6"/>
<text transform="translate(1347.0,1732.7) scale(1,1.05)" font-size="49" text-anchor="end">0.0</text>
<line x1="1356.4" y1="1876.9" x2="1381.4" y2="1876.9" stroke="#000" stroke-width="4.6"/>
<text transform="translate(1347.0,1894.4) scale(1,1.05)" font-size="49" text-anchor="end">-0.2</text>
<line x1="1420.4" y1="1917.7" x2="1420.4" y2="1892.7" stroke="#000" stroke-width="4.8"/>
<text transform="translate(1420.4,1967.0) scale(1,1.05)" font-size="49" text-anchor="middle">-0.4</text>
<line x1="1548.8" y1="1917.7" x2="1548.8" y2="1892.7" stroke="#000" stroke-width="4.8"/>
<text transform="translate(1548.8,1967.0) scale(1,1.05)" font-size="49" text-anchor="middle">-0.2</text>
<line x1="1677.3" y1="1917.7" x2="1677.3" y2="1892.7" stroke="#000" stroke-width="4.8"/>
<text transform="translate(1677.3,1967.0) scale(1,1.05)" font-size="49" text-anchor="middle">0.0</text>
<line x1="1805.8" y1="1917.7" x2="1805.8" y2="1892.7" stroke="#000" stroke-width="4.8"/>
<text transform="translate(1805.8,1967.0) scale(1,1.05)" font-size="49" text-anchor="middle">0.2</text>
<line x1="1934.2" y1="1917.7" x2="1934.2" y2="1892.7" stroke="#000" stroke-width="4.8"/>
<text transform="translate(1934.2,1967.0) scale(1,1.05)" font-size="49" text-anchor="middle">0.4</text>
<text transform="translate(1678.5,2026) scale(1,1.04)" font-size="50" text-anchor="middle"><tspan font-style="italic">P</tspan> (C/m<tspan font-size="33" dy="-16">2</tspan><tspan dy="16">)</tspan></text>
<text transform="translate(1250,1638) rotate(-90) scale(1,1.03)" font-size="50" text-anchor="middle">&#916;<tspan font-style="italic">G</tspan> (10<tspan font-size="33" dy="-16">8</tspan><tspan dy="16">J/m</tspan><tspan font-size="33" dy="-16">3</tspan><tspan dy="16">)</tspan></text>
<rect x="1548.3" y="1363.4" width="255.4" height="150.6" fill="#fff" stroke="#000" stroke-width="2.6"/>
<line x1="1561.8" y1="1391.2" x2="1616.5" y2="1391.2" stroke="#4e4e4e" stroke-width="3.5"/>
<rect x="1577" y="1379.2" width="24" height="24" fill="#4e4e4e"/>
<line x1="1561.8" y1="1440.4" x2="1616.5" y2="1440.4" stroke="#ec3d3d" stroke-width="3.5"/>
<circle cx="1589" cy="1440.4" r="14" fill="#ec3d3d"/>
<line x1="1561.8" y1="1486.7" x2="1616.5" y2="1486.7" stroke="#1d6ddc" stroke-width="3.5"/>
<path d="M1589,1470.7L1604,1496.7L1574,1496.7z" fill="#1d6ddc"/>
<text transform="translate(1624.5,1404.0) scale(1,1.05)" font-size="40">KNN-Li</text>
<text transform="translate(1624.5,1453.5) scale(1,1.05)" font-size="40">KNN</text>
<text transform="translate(1624.5,1500.0) scale(1,1.05)" font-size="40">KNN-BNZ</text>
<text transform="translate(1674.0,1617.0) scale(1,1.05)" font-size="48" text-anchor="middle" fill="#1d6ddc">flattened</text>
<text transform="translate(1674.0,1844.0) scale(1,1.05)" font-size="48" text-anchor="middle" fill="#555555">deep</text>
<path d="M1675.2,1638 V1781 M1661,1659.5 L1675.2,1637 L1689.2,1659.5 M1661,1759 L1675.2,1781.5 L1689.2,1759" fill="none" stroke="url(#arrg)" stroke-width="5.5" stroke-linecap="round" stroke-linejoin="round"/>
<g clip-path="url(#clipa)"><line x1="119" y1="20.5" x2="169.5" y2="20.5" stroke="#9140e0" stroke-width="7"/><line x1="169.5" y1="20.5" x2="220" y2="20.5" stroke="#e01818" stroke-width="7"/><line x1="220" y1="20.5" x2="276" y2="20.5" stroke="#e01818" stroke-width="7"/><line x1="276" y1="20.5" x2="332" y2="20.5" stroke="#9140e0" stroke-width="7"/><line x1="332" y1="20.5" x2="382.5" y2="20.5" stroke="#9140e0" stroke-width="7"/><line x1="382.5" y1="20.5" x2="433" y2="20.5" stroke="#e01818" stroke-width="7"/><line x1="433" y1="20.5" x2="489" y2="20.5" stroke="#e01818" stroke-width="7"/><line x1="489" y1="20.5" x2="545" y2="20.5" stroke="#9140e0" stroke-width="7"/><line x1="100" y1="20.5" x2="560" y2="20.5" stroke="#300" stroke-width="1.3" opacity="0.75"/><line x1="119" y1="314" x2="169.5" y2="314" stroke="#9140e0" stroke-width="7"/><line x1="169.5" y1="314" x2="220" y2="314" stroke="#e01818" stroke-width="7"/><line x1="220" y1="314" x2="276" y2="314" stroke="#e01818" stroke-width="7"/><line x1="276" y1="314" x2="332" y2="314" stroke="#9140e0" stroke-width="7"/><line x1="332" y1="314" x2="382.5" y2="314" stroke="#9140e0" stroke-width="7"/><line x1="382.5" y1="314" x2="433" y2="314" stroke="#e01818" stroke-width="7"/><line x1="433" y1="314" x2="489" y2="314" stroke="#e01818" stroke-width="7"/><line x1="489" y1="314" x2="545" y2="314" stroke="#9140e0" stroke-width="7"/><line x1="100" y1="314" x2="560" y2="314" stroke="#300" stroke-width="1.3" opacity="0.75"/><line x1="128" y1="167" x2="172" y2="167" stroke="#e6d040" stroke-width="7"/><line x1="172" y1="167" x2="220" y2="167" stroke="#e01818" stroke-width="7"/><line x1="238" y1="167" x2="283" y2="167" stroke="#9140e0" stroke-width="7"/><line x1="283" y1="167" x2="326" y2="167" stroke="#e01818" stroke-width="7"/><line x1="433" y1="167" x2="450" y2="167" stroke="#e01818" stroke-width="7"/><line x1="450" y1="167" x2="495" y2="167" stroke="#9140e0" stroke-width="7"/><line x1="495" y1="167" x2="540" y2="167" stroke="#e01818" stroke-width="7"/><line x1="341" y1="167" x2="385" y2="167" stroke="#e6d040" stroke-width="7"/><line x1="385" y1="167" x2="433" y2="167" stroke="#e01818" stroke-width="7"/><line x1="119.0" y1="20.5" x2="143.0" y2="57.2" stroke="#9140e0" stroke-width="7"/><line x1="143.0" y1="57.2" x2="167.0" y2="94.0" stroke="#e01818" stroke-width="7"/><line x1="238.0" y1="22.5" x2="256.0" y2="58.2" stroke="#e6d040" stroke-width="7"/><line x1="256.0" y1="58.2" x2="274.0" y2="94.0" stroke="#e01818" stroke-width="7"/><line x1="332.0" y1="20.5" x2="303.0" y2="57.2" stroke="#9140e0" stroke-width="7"/><line x1="303.0" y1="57.2" x2="274.0" y2="94.0" stroke="#e01818" stroke-width="7"/><line x1="332.0" y1="20.5" x2="356.0" y2="57.2" stroke="#9140e0" stroke-width="7"/><line x1="356.0" y1="57.2" x2="380.0" y2="94.0" stroke="#e01818" stroke-width="7"/><line x1="453.0" y1="22.5" x2="470.0" y2="58.2" stroke="#e6d040" stroke-width="7"/><line x1="470.0" y1="58.2" x2="487.0" y2="94.0" stroke="#e01818" stroke-width="7"/><line x1="545.0" y1="20.5" x2="516.0" y2="57.2" stroke="#9140e0" stroke-width="7"/><line x1="516.0" y1="57.2" x2="487.0" y2="94.0" stroke="#e01818" stroke-width="7"/><line x1="167.0" y1="94.0" x2="147.5" y2="130.5" stroke="#e01818" stroke-width="7"/><line x1="147.5" y1="130.5" x2="128.0" y2="167.0" stroke="#e6d040" stroke-width="7"/><line x1="274.0" y1="94.0" x2="256.0" y2="130.5" stroke="#e01818" stroke-width="7"/><line x1="256.0" y1="130.5" x2="238.0" y2="167.0" stroke="#9140e0" stroke-width="7"/><line x1="487.0" y1="94.0" x2="468.5" y2="130.5" stroke="#e01818" stroke-width="7"/><line x1="468.5" y1="130.5" x2="450.0" y2="167.0" stroke="#9140e0" stroke-width="7"/><line x1="128.0" y1="167.0" x2="147.5" y2="203.5" stroke="#e6d040" stroke-width="7"/><line x1="147.5" y1="203.5" x2="167.0" y2="240.0" stroke="#e01818" stroke-width="7"/><line x1="238.0" y1="167.0" x2="256.0" y2="203.5" stroke="#9140e0" stroke-width="7"/><line x1="256.0" y1="203.5" x2="274.0" y2="240.0" stroke="#e01818" stroke-width="7"/><line x1="450.0" y1="167.0" x2="468.5" y2="203.5" stroke="#9140e0" stroke-width="7"/><line x1="468.5" y1="203.5" x2="487.0" y2="240.0" stroke="#e01818" stroke-width="7"/><line x1="167.0" y1="240.0" x2="143.0" y2="277.0" stroke="#e01818" stroke-width="7"/><line x1="143.0" y1="277.0" x2="119.0" y2="314.0" stroke="#9140e0" stroke-width="7"/><line x1="274.0" y1="240.0" x2="256.0" y2="278.5" stroke="#e01818" stroke-width="7"/><line x1="256.0" y1="278.5" x2="238.0" y2="317.0" stroke="#e6d040" stroke-width="7"/><line x1="274.0" y1="240.0" x2="303.0" y2="277.0" stroke="#e01818" stroke-width="7"/><line x1="303.0" y1="277.0" x2="332.0" y2="314.0" stroke="#9140e0" stroke-width="7"/><line x1="380.0" y1="240.0" x2="356.0" y2="277.0" stroke="#e01818" stroke-width="7"/><line x1="356.0" y1="277.0" x2="332.0" y2="314.0" stroke="#9140e0" stroke-width="7"/><line x1="487.0" y1="240.0" x2="470.0" y2="278.5" stroke="#e01818" stroke-width="7"/><line x1="470.0" y1="278.5" x2="453.0" y2="317.0" stroke="#e6d040" stroke-width="7"/><line x1="487.0" y1="240.0" x2="516.0" y2="277.0" stroke="#e01818" stroke-width="7"/><line x1="516.0" y1="277.0" x2="545.0" y2="314.0" stroke="#9140e0" stroke-width="7"/><line x1="380.0" y1="94.0" x2="360.5" y2="130.5" stroke="#e01818" stroke-width="7"/><line x1="360.5" y1="130.5" x2="341.0" y2="167.0" stroke="#e6d040" stroke-width="7"/><line x1="341.0" y1="167.0" x2="360.5" y2="203.5" stroke="#e6d040" stroke-width="7"/><line x1="360.5" y1="203.5" x2="380.0" y2="240.0" stroke="#e01818" stroke-width="7"/><circle cx="235.0" cy="24.5" r="14.5" fill="url(#spNa)"/><circle cx="450.0" cy="24.5" r="14.5" fill="url(#spNa)"/><circle cx="234.0" cy="320.0" r="14.5" fill="url(#spNa)"/><circle cx="449.0" cy="320.0" r="14.5" fill="url(#spNa)"/><circle cx="238.0" cy="167.0" r="19" fill="url(#spK)"/><circle cx="450.0" cy="167.0" r="19" fill="url(#spK)"/><polygon points="211.0,36.0 236.0,36.0 262.0,70.0 262.0,118.0 236.0,152.0 211.0,152.0 180.0,118.0 180.0,70.0" fill="#a6d7c2" fill-opacity="0.78" stroke="#9cc9b4" stroke-width="1.5"/><line x1="228.0" y1="94.0" x2="197.5" y2="94.0" stroke="#7fb89c" stroke-width="6"/><line x1="197.5" y1="94.0" x2="167.0" y2="94.0" stroke="#a89a8c" stroke-width="6"/><line x1="228.0" y1="94.0" x2="251.0" y2="94.0" stroke="#7fb89c" stroke-width="6"/><line x1="251.0" y1="94.0" x2="274.0" y2="94.0" stroke="#a89a8c" stroke-width="6"/><line x1="228.0" y1="94.0" x2="224.0" y2="57.2" stroke="#7fb89c" stroke-width="6"/><line x1="224.0" y1="57.2" x2="220.0" y2="20.5" stroke="#a89a8c" stroke-width="6"/><line x1="228.0" y1="94.0" x2="224.0" y2="130.8" stroke="#7fb89c" stroke-width="6"/><line x1="224.0" y1="130.8" x2="220.0" y2="167.5" stroke="#a89a8c" stroke-width="6"/><circle cx="228.0" cy="94.0" r="7" fill="url(#spNb)"/><polygon points="211.0,182.0 236.0,182.0 262.0,216.0 262.0,264.0 236.0,298.0 211.0,298.0 180.0,264.0 180.0,216.0" fill="#a6d7c2" fill-opacity="0.78" stroke="#9cc9b4" stroke-width="1.5"/><line x1="228.0" y1="240.0" x2="197.5" y2="240.0" stroke="#7fb89c" stroke-width="6"/><line x1="197.5" y1="240.0" x2="167.0" y2="240.0" stroke="#a89a8c" stroke-width="6"/><line x1="228.0" y1="240.0" x2="251.0" y2="240.0" stroke="#7fb89c" stroke-width="6"/><line x1="251.0" y1="240.0" x2="274.0" y2="240.0" stroke="#a89a8c" stroke-width="6"/><line x1="228.0" y1="240.0" x2="224.0" y2="203.2" stroke="#7fb89c" stroke-width="6"/><line x1="224.0" y1="203.2" x2="220.0" y2="166.5" stroke="#a89a8c" stroke-width="6"/><line x1="228.0" y1="240.0" x2="224.0" y2="276.8" stroke="#7fb89c" stroke-width="6"/><line x1="224.0" y1="276.8" x2="220.0" y2="313.5" stroke="#a89a8c" stroke-width="6"/><circle cx="228.0" cy="240.0" r="7" fill="url(#spNb)"/><polygon points="424.0,36.0 449.0,36.0 475.0,70.0 475.0,118.0 449.0,152.0 424.0,152.0 393.0,118.0 393.0,70.0" fill="#a6d7c2" fill-opacity="0.78" stroke="#9cc9b4" stroke-width="1.5"/><line x1="441.0" y1="94.0" x2="410.5" y2="94.0" stroke="#7fb89c" stroke-width="6"/><line x1="410.5" y1="94.0" x2="380.0" y2="94.0" stroke="#a89a8c" stroke-width="6"/><line x1="441.0" y1="94.0" x2="464.0" y2="94.0" stroke="#7fb89c" stroke-width="6"/><line x1="464.0" y1="94.0" x2="487.0" y2="94.0" stroke="#a89a8c" stroke-width="6"/><line x1="441.0" y1="94.0" x2="437.0" y2="57.2" stroke="#7fb89c" stroke-width="6"/><line x1="437.0" y1="57.2" x2="433.0" y2="20.5" stroke="#a89a8c" stroke-width="6"/><line x1="441.0" y1="94.0" x2="437.0" y2="130.8" stroke="#7fb89c" stroke-width="6"/><line x1="437.0" y1="130.8" x2="433.0" y2="167.5" stroke="#a89a8c" stroke-width="6"/><circle cx="441.0" cy="94.0" r="7" fill="url(#spNb)"/><polygon points="424.0,182.0 449.0,182.0 475.0,216.0 475.0,264.0 449.0,298.0 424.0,298.0 393.0,264.0 393.0,216.0" fill="#a6d7c2" fill-opacity="0.78" stroke="#9cc9b4" stroke-width="1.5"/><line x1="441.0" y1="240.0" x2="410.5" y2="240.0" stroke="#7fb89c" stroke-width="6"/><line x1="410.5" y1="240.0" x2="380.0" y2="240.0" stroke="#a89a8c" stroke-width="6"/><line x1="441.0" y1="240.0" x2="464.0" y2="240.0" stroke="#7fb89c" stroke-width="6"/><line x1="464.0" y1="240.0" x2="487.0" y2="240.0" stroke="#a89a8c" stroke-width="6"/><line x1="441.0" y1="240.0" x2="437.0" y2="203.2" stroke="#7fb89c" stroke-width="6"/><line x1="437.0" y1="203.2" x2="433.0" y2="166.5" stroke="#a89a8c" stroke-width="6"/><line x1="441.0" y1="240.0" x2="437.0" y2="276.8" stroke="#7fb89c" stroke-width="6"/><line x1="437.0" y1="276.8" x2="433.0" y2="313.5" stroke="#a89a8c" stroke-width="6"/><circle cx="441.0" cy="240.0" r="7" fill="url(#spNb)"/><circle cx="220.0" cy="20.5" r="19" fill="url(#spO)"/><circle cx="433.0" cy="20.5" r="19" fill="url(#spO)"/><circle cx="220.0" cy="314.0" r="19" fill="url(#spO)"/><circle cx="433.0" cy="314.0" r="19" fill="url(#spO)"/><circle cx="167.0" cy="94.0" r="19" fill="url(#spO)"/><circle cx="167.0" cy="240.0" r="19" fill="url(#spO)"/><circle cx="274.0" cy="94.0" r="19" fill="url(#spO)"/><circle cx="274.0" cy="240.0" r="19" fill="url(#spO)"/><circle cx="380.0" cy="94.0" r="19" fill="url(#spO)"/><circle cx="380.0" cy="240.0" r="19" fill="url(#spO)"/><circle cx="487.0" cy="94.0" r="19" fill="url(#spO)"/><circle cx="487.0" cy="240.0" r="19" fill="url(#spO)"/><circle cx="220.0" cy="167.0" r="19" fill="url(#spO)"/><circle cx="433.0" cy="167.0" r="19" fill="url(#spO)"/><circle cx="540.0" cy="167.0" r="19" fill="url(#spO)"/><circle cx="326.0" cy="167.0" r="19" fill="url(#spO)"/><circle cx="119.0" cy="20.5" r="22.5" fill="url(#spK)"/><circle cx="119.0" cy="314.0" r="22.5" fill="url(#spK)"/><circle cx="332.0" cy="20.5" r="22.5" fill="url(#spK)"/><circle cx="332.0" cy="314.0" r="22.5" fill="url(#spK)"/><circle cx="545.0" cy="20.5" r="22.5" fill="url(#spK)"/><circle cx="545.0" cy="314.0" r="22.5" fill="url(#spK)"/><circle cx="341.0" cy="167.0" r="15" fill="url(#spNa)"/><line x1="341" y1="32.5" x2="341" y2="314" stroke="#0fa650" stroke-width="4.5" stroke-dasharray="12.5 7"/></g>
<g clip-path="url(#clipb)"><line x1="119" y1="403" x2="169.5" y2="403" stroke="#9140e0" stroke-width="7"/><line x1="169.5" y1="403" x2="220" y2="403" stroke="#e01818" stroke-width="7"/><line x1="220" y1="403" x2="276" y2="403" stroke="#e01818" stroke-width="7"/><line x1="276" y1="403" x2="332" y2="403" stroke="#9140e0" stroke-width="7"/><line x1="332" y1="403" x2="382.5" y2="403" stroke="#9140e0" stroke-width="7"/><line x1="382.5" y1="403" x2="433" y2="403" stroke="#e01818" stroke-width="7"/><line x1="433" y1="403" x2="489" y2="403" stroke="#e01818" stroke-width="7"/><line x1="489" y1="403" x2="545" y2="403" stroke="#9140e0" stroke-width="7"/><line x1="100" y1="403" x2="560" y2="403" stroke="#300" stroke-width="1.3" opacity="0.75"/><line x1="119" y1="700" x2="169.5" y2="700" stroke="#9140e0" stroke-width="7"/><line x1="169.5" y1="700" x2="220" y2="700" stroke="#e01818" stroke-width="7"/><line x1="220" y1="700" x2="276" y2="700" stroke="#e01818" stroke-width="7"/><line x1="276" y1="700" x2="332" y2="700" stroke="#9140e0" stroke-width="7"/><line x1="332" y1="700" x2="382.5" y2="700" stroke="#9140e0" stroke-width="7"/><line x1="382.5" y1="700" x2="433" y2="700" stroke="#e01818" stroke-width="7"/><line x1="433" y1="700" x2="489" y2="700" stroke="#e01818" stroke-width="7"/><line x1="489" y1="700" x2="545" y2="700" stroke="#9140e0" stroke-width="7"/><line x1="100" y1="700" x2="560" y2="700" stroke="#300" stroke-width="1.3" opacity="0.75"/><line x1="128" y1="550" x2="172" y2="550" stroke="#e6d040" stroke-width="7"/><line x1="172" y1="550" x2="220" y2="550" stroke="#e01818" stroke-width="7"/><line x1="238" y1="550" x2="283" y2="550" stroke="#9140e0" stroke-width="7"/><line x1="283" y1="550" x2="326" y2="550" stroke="#e01818" stroke-width="7"/><line x1="433" y1="550" x2="450" y2="550" stroke="#e01818" stroke-width="7"/><line x1="450" y1="550" x2="495" y2="550" stroke="#9140e0" stroke-width="7"/><line x1="495" y1="550" x2="540" y2="550" stroke="#e01818" stroke-width="7"/><line x1="329" y1="550" x2="380" y2="550" stroke="#e01818" stroke-width="7"/><line x1="380" y1="550" x2="433" y2="550" stroke="#9140e0" stroke-width="7"/><line x1="119.0" y1="403.0" x2="143.0" y2="439.5" stroke="#9140e0" stroke-width="7"/><line x1="143.0" y1="439.5" x2="167.0" y2="476.0" stroke="#e01818" stroke-width="7"/><line x1="238.0" y1="405.0" x2="256.0" y2="440.5" stroke="#e6d040" stroke-width="7"/><line x1="256.0" y1="440.5" x2="274.0" y2="476.0" stroke="#e01818" stroke-width="7"/><line x1="332.0" y1="403.0" x2="303.0" y2="439.5" stroke="#9140e0" stroke-width="7"/><line x1="303.0" y1="439.5" x2="274.0" y2="476.0" stroke="#e01818" stroke-width="7"/><line x1="332.0" y1="403.0" x2="356.0" y2="439.5" stroke="#9140e0" stroke-width="7"/><line x1="356.0" y1="439.5" x2="380.0" y2="476.0" stroke="#e01818" stroke-width="7"/><line x1="453.0" y1="405.0" x2="470.0" y2="440.5" stroke="#e6d040" stroke-width="7"/><line x1="470.0" y1="440.5" x2="487.0" y2="476.0" stroke="#e01818" stroke-width="7"/><line x1="545.0" y1="403.0" x2="516.0" y2="439.5" stroke="#9140e0" stroke-width="7"/><line x1="516.0" y1="439.5" x2="487.0" y2="476.0" stroke="#e01818" stroke-width="7"/><line x1="167.0" y1="476.0" x2="147.5" y2="513.0" stroke="#e01818" stroke-width="7"/><line x1="147.5" y1="513.0" x2="128.0" y2="550.0" stroke="#e6d040" stroke-width="7"/><line x1="274.0" y1="476.0" x2="256.0" y2="513.0" stroke="#e01818" stroke-width="7"/><line x1="256.0" y1="513.0" x2="238.0" y2="550.0" stroke="#9140e0" stroke-width="7"/><line x1="487.0" y1="476.0" x2="468.5" y2="513.0" stroke="#e01818" stroke-width="7"/><line x1="468.5" y1="513.0" x2="450.0" y2="550.0" stroke="#9140e0" stroke-width="7"/><line x1="128.0" y1="550.0" x2="147.5" y2="587.0" stroke="#e6d040" stroke-width="7"/><line x1="147.5" y1="587.0" x2="167.0" y2="624.0" stroke="#e01818" stroke-width="7"/><line x1="238.0" y1="550.0" x2="256.0" y2="587.0" stroke="#9140e0" stroke-width="7"/><line x1="256.0" y1="587.0" x2="274.0" y2="624.0" stroke="#e01818" stroke-width="7"/><line x1="450.0" y1="550.0" x2="468.5" y2="587.0" stroke="#9140e0" stroke-width="7"/><line x1="468.5" y1="587.0" x2="487.0" y2="624.0" stroke="#e01818" stroke-width="7"/><line x1="167.0" y1="624.0" x2="143.0" y2="662.0" stroke="#e01818" stroke-width="7"/><line x1="143.0" y1="662.0" x2="119.0" y2="700.0" stroke="#9140e0" stroke-width="7"/><line x1="274.0" y1="624.0" x2="256.0" y2="663.5" stroke="#e01818" stroke-width="7"/><line x1="256.0" y1="663.5" x2="238.0" y2="703.0" stroke="#e6d040" stroke-width="7"/><line x1="274.0" y1="624.0" x2="303.0" y2="662.0" stroke="#e01818" stroke-width="7"/><line x1="303.0" y1="662.0" x2="332.0" y2="700.0" stroke="#9140e0" stroke-width="7"/><line x1="380.0" y1="624.0" x2="356.0" y2="662.0" stroke="#e01818" stroke-width="7"/><line x1="356.0" y1="662.0" x2="332.0" y2="700.0" stroke="#9140e0" stroke-width="7"/><line x1="487.0" y1="624.0" x2="470.0" y2="663.5" stroke="#e01818" stroke-width="7"/><line x1="470.0" y1="663.5" x2="453.0" y2="703.0" stroke="#e6d040" stroke-width="7"/><line x1="487.0" y1="624.0" x2="516.0" y2="662.0" stroke="#e01818" stroke-width="7"/><line x1="516.0" y1="662.0" x2="545.0" y2="700.0" stroke="#9140e0" stroke-width="7"/><line x1="356.5" y1="572.6" x2="394.8" y2="562.3" stroke="#8a8a8a" stroke-width="5"/><line x1="394.8" y1="562.3" x2="433.0" y2="552.0" stroke="#e01818" stroke-width="5"/><line x1="356.5" y1="572.6" x2="368.2" y2="598.3" stroke="#8a8a8a" stroke-width="5"/><line x1="368.2" y1="598.3" x2="380.0" y2="624.0" stroke="#e01818" stroke-width="5"/><circle cx="235.0" cy="407.0" r="14.5" fill="url(#spNa)"/><circle cx="450.0" cy="407.0" r="14.5" fill="url(#spNa)"/><circle cx="234.0" cy="706.0" r="14.5" fill="url(#spNa)"/><circle cx="449.0" cy="706.0" r="14.5" fill="url(#spNa)"/><circle cx="238.0" cy="550.0" r="19" fill="url(#spK)"/><circle cx="450.0" cy="550.0" r="19" fill="url(#spK)"/><polygon points="211.0,418.0 236.0,418.0 262.0,452.0 262.0,500.0 236.0,534.0 211.0,534.0 180.0,500.0 180.0,452.0" fill="#a6d7c2" fill-opacity="0.78" stroke="#9cc9b4" stroke-width="1.5"/><line x1="228.0" y1="476.0" x2="197.5" y2="476.0" stroke="#7fb89c" stroke-width="6"/><line x1="197.5" y1="476.0" x2="167.0" y2="476.0" stroke="#a89a8c" stroke-width="6"/><line x1="228.0" y1="476.0" x2="251.0" y2="476.0" stroke="#7fb89c" stroke-width="6"/><line x1="251.0" y1="476.0" x2="274.0" y2="476.0" stroke="#a89a8c" stroke-width="6"/><line x1="228.0" y1="476.0" x2="224.0" y2="439.2" stroke="#7fb89c" stroke-width="6"/><line x1="224.0" y1="439.2" x2="220.0" y2="402.5" stroke="#a89a8c" stroke-width="6"/><line x1="228.0" y1="476.0" x2="224.0" y2="512.8" stroke="#7fb89c" stroke-width="6"/><line x1="224.0" y1="512.8" x2="220.0" y2="549.5" stroke="#a89a8c" stroke-width="6"/><circle cx="228.0" cy="476.0" r="7" fill="url(#spNb)"/><polygon points="211.0,566.0 236.0,566.0 262.0,600.0 262.0,648.0 236.0,682.0 211.0,682.0 180.0,648.0 180.0,600.0" fill="#a6d7c2" fill-opacity="0.78" stroke="#9cc9b4" stroke-width="1.5"/><line x1="228.0" y1="624.0" x2="197.5" y2="624.0" stroke="#7fb89c" stroke-width="6"/><line x1="197.5" y1="624.0" x2="167.0" y2="624.0" stroke="#a89a8c" stroke-width="6"/><line x1="228.0" y1="624.0" x2="251.0" y2="624.0" stroke="#7fb89c" stroke-width="6"/><line x1="251.0" y1="624.0" x2="274.0" y2="624.0" stroke="#a89a8c" stroke-width="6"/><line x1="228.0" y1="624.0" x2="224.0" y2="587.2" stroke="#7fb89c" stroke-width="6"/><line x1="224.0" y1="587.2" x2="220.0" y2="550.5" stroke="#a89a8c" stroke-width="6"/><line x1="228.0" y1="624.0" x2="224.0" y2="660.8" stroke="#7fb89c" stroke-width="6"/><line x1="224.0" y1="660.8" x2="220.0" y2="697.5" stroke="#a89a8c" stroke-width="6"/><circle cx="228.0" cy="624.0" r="7" fill="url(#spNb)"/><polygon points="424.0,418.0 449.0,418.0 475.0,452.0 475.0,500.0 449.0,534.0 424.0,534.0 393.0,500.0 393.0,452.0" fill="#a6d7c2" fill-opacity="0.78" stroke="#9cc9b4" stroke-width="1.5"/><line x1="441.0" y1="476.0" x2="410.5" y2="476.0" stroke="#7fb89c" stroke-width="6"/><line x1="410.5" y1="476.0" x2="380.0" y2="476.0" stroke="#a89a8c" stroke-width="6"/><line x1="441.0" y1="476.0" x2="464.0" y2="476.0" stroke="#7fb89c" stroke-width="6"/><line x1="464.0" y1="476.0" x2="487.0" y2="476.0" stroke="#a89a8c" stroke-width="6"/><line x1="441.0" y1="476.0" x2="437.0" y2="439.2" stroke="#7fb89c" stroke-width="6"/><line x1="437.0" y1="439.2" x2="433.0" y2="402.5" stroke="#a89a8c" stroke-width="6"/><line x1="441.0" y1="476.0" x2="437.0" y2="512.8" stroke="#7fb89c" stroke-width="6"/><line x1="437.0" y1="512.8" x2="433.0" y2="549.5" stroke="#a89a8c" stroke-width="6"/><circle cx="441.0" cy="476.0" r="7" fill="url(#spNb)"/><polygon points="424.0,566.0 449.0,566.0 475.0,600.0 475.0,648.0 449.0,682.0 424.0,682.0 393.0,648.0 393.0,600.0" fill="#a6d7c2" fill-opacity="0.78" stroke="#9cc9b4" stroke-width="1.5"/><line x1="441.0" y1="624.0" x2="410.5" y2="624.0" stroke="#7fb89c" stroke-width="6"/><line x1="410.5" y1="624.0" x2="380.0" y2="624.0" stroke="#a89a8c" stroke-width="6"/><line x1="441.0" y1="624.0" x2="464.0" y2="624.0" stroke="#7fb89c" stroke-width="6"/><line x1="464.0" y1="624.0" x2="487.0" y2="624.0" stroke="#a89a8c" stroke-width="6"/><line x1="441.0" y1="624.0" x2="437.0" y2="587.2" stroke="#7fb89c" stroke-width="6"/><line x1="437.0" y1="587.2" x2="433.0" y2="550.5" stroke="#a89a8c" stroke-width="6"/><line x1="441.0" y1="624.0" x2="437.0" y2="660.8" stroke="#7fb89c" stroke-width="6"/><line x1="437.0" y1="660.8" x2="433.0" y2="697.5" stroke="#a89a8c" stroke-width="6"/><circle cx="441.0" cy="624.0" r="7" fill="url(#spNb)"/><circle cx="220.0" cy="403.0" r="19" fill="url(#spO)"/><circle cx="433.0" cy="403.0" r="19" fill="url(#spO)"/><circle cx="220.0" cy="700.0" r="19" fill="url(#spO)"/><circle cx="433.0" cy="700.0" r="19" fill="url(#spO)"/><circle cx="167.0" cy="476.0" r="19" fill="url(#spO)"/><circle cx="167.0" cy="624.0" r="19" fill="url(#spO)"/><circle cx="274.0" cy="476.0" r="19" fill="url(#spO)"/><circle cx="274.0" cy="624.0" r="19" fill="url(#spO)"/><circle cx="380.0" cy="476.0" r="19" fill="url(#spO)"/><circle cx="380.0" cy="624.0" r="19" fill="url(#spO)"/><circle cx="487.0" cy="476.0" r="19" fill="url(#spO)"/><circle cx="487.0" cy="624.0" r="19" fill="url(#spO)"/><circle cx="220.0" cy="550.0" r="19" fill="url(#spO)"/><circle cx="433.0" cy="550.0" r="19" fill="url(#spO)"/><circle cx="540.0" cy="550.0" r="19" fill="url(#spO)"/><circle cx="329.0" cy="550.0" r="19" fill="url(#spO)"/><circle cx="119.0" cy="403.0" r="22.5" fill="url(#spK)"/><circle cx="119.0" cy="700.0" r="22.5" fill="url(#spK)"/><circle cx="332.0" cy="403.0" r="22.5" fill="url(#spK)"/><circle cx="332.0" cy="700.0" r="22.5" fill="url(#spK)"/><circle cx="545.0" cy="403.0" r="22.5" fill="url(#spK)"/><circle cx="545.0" cy="700.0" r="22.5" fill="url(#spK)"/><circle cx="356.5" cy="572.6" r="7" fill="url(#spLi)"/><line x1="341" y1="415" x2="341" y2="700" stroke="#0fa650" stroke-width="4.5" stroke-dasharray="12.5 7"/></g>
<g clip-path="url(#clipc)"><line x1="119" y1="782" x2="169.5" y2="782" stroke="#9140e0" stroke-width="7"/><line x1="169.5" y1="782" x2="220" y2="782" stroke="#e01818" stroke-width="7"/><line x1="220" y1="782" x2="276" y2="782" stroke="#e01818" stroke-width="7"/><line x1="276" y1="782" x2="332" y2="782" stroke="#9140e0" stroke-width="7"/><line x1="332" y1="782" x2="382.5" y2="782" stroke="#9140e0" stroke-width="7"/><line x1="382.5" y1="782" x2="433" y2="782" stroke="#e01818" stroke-width="7"/><line x1="433" y1="782" x2="489" y2="782" stroke="#e01818" stroke-width="7"/><line x1="489" y1="782" x2="545" y2="782" stroke="#9140e0" stroke-width="7"/><line x1="100" y1="782" x2="560" y2="782" stroke="#300" stroke-width="1.3" opacity="0.75"/><line x1="119" y1="1079" x2="169.5" y2="1079" stroke="#9140e0" stroke-width="7"/><line x1="169.5" y1="1079" x2="220" y2="1079" stroke="#e01818" stroke-width="7"/><line x1="220" y1="1079" x2="276" y2="1079" stroke="#e01818" stroke-width="7"/><line x1="276" y1="1079" x2="332" y2="1079" stroke="#9140e0" stroke-width="7"/><line x1="332" y1="1079" x2="382.5" y2="1079" stroke="#9140e0" stroke-width="7"/><line x1="382.5" y1="1079" x2="433" y2="1079" stroke="#e01818" stroke-width="7"/><line x1="433" y1="1079" x2="489" y2="1079" stroke="#e01818" stroke-width="7"/><line x1="489" y1="1079" x2="545" y2="1079" stroke="#9140e0" stroke-width="7"/><line x1="100" y1="1079" x2="560" y2="1079" stroke="#300" stroke-width="1.3" opacity="0.75"/><line x1="128" y1="930" x2="172" y2="930" stroke="#e6d040" stroke-width="7"/><line x1="172" y1="930" x2="220" y2="930" stroke="#e01818" stroke-width="7"/><line x1="238" y1="930" x2="283" y2="930" stroke="#9140e0" stroke-width="7"/><line x1="283" y1="930" x2="326" y2="930" stroke="#e01818" stroke-width="7"/><line x1="433" y1="930" x2="450" y2="930" stroke="#e01818" stroke-width="7"/><line x1="450" y1="930" x2="495" y2="930" stroke="#9140e0" stroke-width="7"/><line x1="495" y1="930" x2="540" y2="930" stroke="#e01818" stroke-width="7"/><line x1="346" y1="930" x2="385" y2="930" stroke="#1f86dc" stroke-width="7"/><line x1="385" y1="930" x2="433" y2="930" stroke="#e01818" stroke-width="7"/><line x1="119.0" y1="782.0" x2="143.0" y2="819.0" stroke="#9140e0" stroke-width="7"/><line x1="143.0" y1="819.0" x2="167.0" y2="856.0" stroke="#e01818" stroke-width="7"/><line x1="238.0" y1="784.0" x2="256.0" y2="820.0" stroke="#e6d040" stroke-width="7"/><line x1="256.0" y1="820.0" x2="274.0" y2="856.0" stroke="#e01818" stroke-width="7"/><line x1="332.0" y1="782.0" x2="303.0" y2="819.0" stroke="#9140e0" stroke-width="7"/><line x1="303.0" y1="819.0" x2="274.0" y2="856.0" stroke="#e01818" stroke-width="7"/><line x1="332.0" y1="782.0" x2="356.0" y2="819.0" stroke="#9140e0" stroke-width="7"/><line x1="356.0" y1="819.0" x2="380.0" y2="856.0" stroke="#e01818" stroke-width="7"/><line x1="453.0" y1="784.0" x2="470.0" y2="820.0" stroke="#e6d040" stroke-width="7"/><line x1="470.0" y1="820.0" x2="487.0" y2="856.0" stroke="#e01818" stroke-width="7"/><line x1="545.0" y1="782.0" x2="516.0" y2="819.0" stroke="#9140e0" stroke-width="7"/><line x1="516.0" y1="819.0" x2="487.0" y2="856.0" stroke="#e01818" stroke-width="7"/><line x1="167.0" y1="856.0" x2="147.5" y2="893.0" stroke="#e01818" stroke-width="7"/><line x1="147.5" y1="893.0" x2="128.0" y2="930.0" stroke="#e6d040" stroke-width="7"/><line x1="274.0" y1="856.0" x2="256.0" y2="893.0" stroke="#e01818" stroke-width="7"/><line x1="256.0" y1="893.0" x2="238.0" y2="930.0" stroke="#9140e0" stroke-width="7"/><line x1="487.0" y1="856.0" x2="468.5" y2="893.0" stroke="#e01818" stroke-width="7"/><line x1="468.5" y1="893.0" x2="450.0" y2="930.0" stroke="#9140e0" stroke-width="7"/><line x1="128.0" y1="930.0" x2="147.5" y2="967.0" stroke="#e6d040" stroke-width="7"/><line x1="147.5" y1="967.0" x2="167.0" y2="1004.0" stroke="#e01818" stroke-width="7"/><line x1="238.0" y1="930.0" x2="256.0" y2="967.0" stroke="#9140e0" stroke-width="7"/><line x1="256.0" y1="967.0" x2="274.0" y2="1004.0" stroke="#e01818" stroke-width="7"/><line x1="450.0" y1="930.0" x2="468.5" y2="967.0" stroke="#9140e0" stroke-width="7"/><line x1="468.5" y1="967.0" x2="487.0" y2="1004.0" stroke="#e01818" stroke-width="7"/><line x1="167.0" y1="1004.0" x2="143.0" y2="1041.5" stroke="#e01818" stroke-width="7"/><line x1="143.0" y1="1041.5" x2="119.0" y2="1079.0" stroke="#9140e0" stroke-width="7"/><line x1="274.0" y1="1004.0" x2="256.0" y2="1043.0" stroke="#e01818" stroke-width="7"/><line x1="256.0" y1="1043.0" x2="238.0" y2="1082.0" stroke="#e6d040" stroke-width="7"/><line x1="274.0" y1="1004.0" x2="303.0" y2="1041.5" stroke="#e01818" stroke-width="7"/><line x1="303.0" y1="1041.5" x2="332.0" y2="1079.0" stroke="#9140e0" stroke-width="7"/><line x1="380.0" y1="1004.0" x2="356.0" y2="1041.5" stroke="#e01818" stroke-width="7"/><line x1="356.0" y1="1041.5" x2="332.0" y2="1079.0" stroke="#9140e0" stroke-width="7"/><line x1="487.0" y1="1004.0" x2="470.0" y2="1043.0" stroke="#e01818" stroke-width="7"/><line x1="470.0" y1="1043.0" x2="453.0" y2="1082.0" stroke="#e6d040" stroke-width="7"/><line x1="487.0" y1="1004.0" x2="516.0" y2="1041.5" stroke="#e01818" stroke-width="7"/><line x1="516.0" y1="1041.5" x2="545.0" y2="1079.0" stroke="#9140e0" stroke-width="7"/><line x1="380.0" y1="856.0" x2="363.2" y2="893.0" stroke="#e01818" stroke-width="7"/><line x1="363.2" y1="893.0" x2="346.5" y2="930.0" stroke="#1f86dc" stroke-width="7"/><line x1="346.5" y1="930.0" x2="363.2" y2="967.0" stroke="#1f86dc" stroke-width="7"/><line x1="363.2" y1="967.0" x2="380.0" y2="1004.0" stroke="#e01818" stroke-width="7"/><circle cx="235.0" cy="786.0" r="14.5" fill="url(#spNa)"/><circle cx="450.0" cy="786.0" r="14.5" fill="url(#spNa)"/><circle cx="234.0" cy="1085.0" r="14.5" fill="url(#spNa)"/><circle cx="449.0" cy="1085.0" r="14.5" fill="url(#spNa)"/><circle cx="238.0" cy="930.0" r="19" fill="url(#spK)"/><circle cx="450.0" cy="930.0" r="19" fill="url(#spK)"/><polygon points="211.0,798.0 236.0,798.0 262.0,832.0 262.0,880.0 236.0,914.0 211.0,914.0 180.0,880.0 180.0,832.0" fill="#a6d7c2" fill-opacity="0.78" stroke="#9cc9b4" stroke-width="1.5"/><line x1="228.0" y1="856.0" x2="197.5" y2="856.0" stroke="#7fb89c" stroke-width="6"/><line x1="197.5" y1="856.0" x2="167.0" y2="856.0" stroke="#a89a8c" stroke-width="6"/><line x1="228.0" y1="856.0" x2="251.0" y2="856.0" stroke="#7fb89c" stroke-width="6"/><line x1="251.0" y1="856.0" x2="274.0" y2="856.0" stroke="#a89a8c" stroke-width="6"/><line x1="228.0" y1="856.0" x2="224.0" y2="819.2" stroke="#7fb89c" stroke-width="6"/><line x1="224.0" y1="819.2" x2="220.0" y2="782.5" stroke="#a89a8c" stroke-width="6"/><line x1="228.0" y1="856.0" x2="224.0" y2="892.8" stroke="#7fb89c" stroke-width="6"/><line x1="224.0" y1="892.8" x2="220.0" y2="929.5" stroke="#a89a8c" stroke-width="6"/><circle cx="228.0" cy="856.0" r="7" fill="url(#spNb)"/><polygon points="211.0,946.0 236.0,946.0 262.0,980.0 262.0,1028.0 236.0,1062.0 211.0,1062.0 180.0,1028.0 180.0,980.0" fill="#a6d7c2" fill-opacity="0.78" stroke="#9cc9b4" stroke-width="1.5"/><line x1="228.0" y1="1004.0" x2="197.5" y2="1004.0" stroke="#7fb89c" stroke-width="6"/><line x1="197.5" y1="1004.0" x2="167.0" y2="1004.0" stroke="#a89a8c" stroke-width="6"/><line x1="228.0" y1="1004.0" x2="251.0" y2="1004.0" stroke="#7fb89c" stroke-width="6"/><line x1="251.0" y1="1004.0" x2="274.0" y2="1004.0" stroke="#a89a8c" stroke-width="6"/><line x1="228.0" y1="1004.0" x2="224.0" y2="967.2" stroke="#7fb89c" stroke-width="6"/><line x1="224.0" y1="967.2" x2="220.0" y2="930.5" stroke="#a89a8c" stroke-width="6"/><line x1="228.0" y1="1004.0" x2="224.0" y2="1040.8" stroke="#7fb89c" stroke-width="6"/><line x1="224.0" y1="1040.8" x2="220.0" y2="1077.5" stroke="#a89a8c" stroke-width="6"/><circle cx="228.0" cy="1004.0" r="7" fill="url(#spNb)"/><polygon points="424.0,798.0 449.0,798.0 475.0,832.0 475.0,880.0 449.0,914.0 424.0,914.0 393.0,880.0 393.0,832.0" fill="#a6d7c2" fill-opacity="0.78" stroke="#9cc9b4" stroke-width="1.5"/><line x1="441.0" y1="856.0" x2="410.5" y2="856.0" stroke="#7fb89c" stroke-width="6"/><line x1="410.5" y1="856.0" x2="380.0" y2="856.0" stroke="#a89a8c" stroke-width="6"/><line x1="441.0" y1="856.0" x2="464.0" y2="856.0" stroke="#7fb89c" stroke-width="6"/><line x1="464.0" y1="856.0" x2="487.0" y2="856.0" stroke="#a89a8c" stroke-width="6"/><line x1="441.0" y1="856.0" x2="437.0" y2="819.2" stroke="#7fb89c" stroke-width="6"/><line x1="437.0" y1="819.2" x2="433.0" y2="782.5" stroke="#a89a8c" stroke-width="6"/><line x1="441.0" y1="856.0" x2="437.0" y2="892.8" stroke="#7fb89c" stroke-width="6"/><line x1="437.0" y1="892.8" x2="433.0" y2="929.5" stroke="#a89a8c" stroke-width="6"/><circle cx="441.0" cy="856.0" r="7" fill="url(#spNb)"/><polygon points="424.0,946.0 449.0,946.0 475.0,980.0 475.0,1028.0 449.0,1062.0 424.0,1062.0 393.0,1028.0 393.0,980.0" fill="#a6d7c2" fill-opacity="0.78" stroke="#9cc9b4" stroke-width="1.5"/><line x1="441.0" y1="1004.0" x2="410.5" y2="1004.0" stroke="#7fb89c" stroke-width="6"/><line x1="410.5" y1="1004.0" x2="380.0" y2="1004.0" stroke="#a89a8c" stroke-width="6"/><line x1="441.0" y1="1004.0" x2="464.0" y2="1004.0" stroke="#7fb89c" stroke-width="6"/><line x1="464.0" y1="1004.0" x2="487.0" y2="1004.0" stroke="#a89a8c" stroke-width="6"/><line x1="441.0" y1="1004.0" x2="437.0" y2="967.2" stroke="#7fb89c" stroke-width="6"/><line x1="437.0" y1="967.2" x2="433.0" y2="930.5" stroke="#a89a8c" stroke-width="6"/><line x1="441.0" y1="1004.0" x2="437.0" y2="1040.8" stroke="#7fb89c" stroke-width="6"/><line x1="437.0" y1="1040.8" x2="433.0" y2="1077.5" stroke="#a89a8c" stroke-width="6"/><circle cx="441.0" cy="1004.0" r="7" fill="url(#spNb)"/><circle cx="220.0" cy="782.0" r="19" fill="url(#spO)"/><circle cx="433.0" cy="782.0" r="19" fill="url(#spO)"/><circle cx="220.0" cy="1079.0" r="19" fill="url(#spO)"/><circle cx="433.0" cy="1079.0" r="19" fill="url(#spO)"/><circle cx="167.0" cy="856.0" r="19" fill="url(#spO)"/><circle cx="167.0" cy="1004.0" r="19" fill="url(#spO)"/><circle cx="274.0" cy="856.0" r="19" fill="url(#spO)"/><circle cx="274.0" cy="1004.0" r="19" fill="url(#spO)"/><circle cx="380.0" cy="856.0" r="19" fill="url(#spO)"/><circle cx="380.0" cy="1004.0" r="19" fill="url(#spO)"/><circle cx="487.0" cy="856.0" r="19" fill="url(#spO)"/><circle cx="487.0" cy="1004.0" r="19" fill="url(#spO)"/><circle cx="220.0" cy="930.0" r="19" fill="url(#spO)"/><circle cx="433.0" cy="930.0" r="19" fill="url(#spO)"/><circle cx="540.0" cy="930.0" r="19" fill="url(#spO)"/><circle cx="322.0" cy="930.0" r="19" fill="url(#spO)"/><circle cx="119.0" cy="782.0" r="22.5" fill="url(#spK)"/><circle cx="119.0" cy="1079.0" r="22.5" fill="url(#spK)"/><circle cx="332.0" cy="782.0" r="22.5" fill="url(#spK)"/><circle cx="332.0" cy="1079.0" r="22.5" fill="url(#spK)"/><circle cx="545.0" cy="782.0" r="22.5" fill="url(#spK)"/><circle cx="545.0" cy="1079.0" r="22.5" fill="url(#spK)"/><circle cx="346.5" cy="930.0" r="13" fill="url(#spBi)"/><line x1="341" y1="794" x2="341" y2="1079" stroke="#0fa650" stroke-width="4.5" stroke-dasharray="12.5 7"/></g>
<text transform="translate(97.0,173.5) rotate(-90) scale(1,1.05)" font-size="44" text-anchor="middle" fill="#000">KNN</text>
<text transform="translate(97.0,559.0) rotate(-90) scale(1,1.05)" font-size="44" text-anchor="middle" fill="#000">KNN-Li</text>
<text transform="translate(97.0,938.5) rotate(-90) scale(1,1.05)" font-size="44" text-anchor="middle" fill="#000">KNN-Bi</text>
<circle cx="14" cy="1086" r="6.5" fill="#000"/>
<path d="M14,1086 V1008 M3,1020 L14,1007 L25,1020 M14,1086 H90 M78,1075 L91,1086 L78,1097" fill="none" stroke="#000" stroke-width="3.2" stroke-linejoin="miter"/>
<text transform="translate(2.0,986.0) scale(1,1.05)" font-size="40" font-style="italic">a</text>
<text transform="translate(101.0,1098.0) scale(1,1.05)" font-size="41" font-style="italic">c</text>
<rect x="102.5" y="1112.5" width="448" height="112.5" fill="#fff" stroke="#000" stroke-width="2.2"/>
<circle cx="144" cy="1147" r="23.5" fill="url(#spK)"/>
<text transform="translate(144.0,1211.0) scale(1,1.05)" font-size="35" text-anchor="middle">K</text>
<circle cx="218" cy="1147" r="23.5" fill="url(#spO)"/>
<text transform="translate(218.0,1211.0) scale(1,1.05)" font-size="35" text-anchor="middle">O</text>
<circle cx="293" cy="1147" r="23.5" fill="url(#spNb)"/>
<text transform="translate(293.0,1211.0) scale(1,1.05)" font-size="35" text-anchor="middle">Nb</text>
<circle cx="365" cy="1147" r="23.5" fill="url(#spNa)"/>
<text transform="translate(365.0,1211.0) scale(1,1.05)" font-size="35" text-anchor="middle">Na</text>
<circle cx="439" cy="1147" r="23.5" fill="url(#spBi)"/>
<text transform="translate(439.0,1211.0) scale(1,1.05)" font-size="35" text-anchor="middle">Bi</text>
<circle cx="512" cy="1147" r="23.5" fill="url(#spLi)"/>
<text transform="translate(512.0,1211.0) scale(1,1.05)" font-size="35" text-anchor="middle">Li</text>
<defs><clipPath id="cle"><rect x="1381.9" y="31.6" width="606.9" height="318.2"/></clipPath></defs><g clip-path="url(#cle)"><g filter="url(#cmapf)"><rect x="1376.9" y="26.6" width="616.9" height="328.2" fill="#000"/><circle cx="1398.8" cy="190.5" r="126.5" fill="url(#dg0)"/><circle cx="1722.3" cy="190.5" r="126.5" fill="url(#dg0)"/><circle cx="2046.0" cy="190.5" r="126.5" fill="url(#dg0)"/><circle cx="1075.0" cy="190.5" r="126.5" fill="url(#dg0)"/><circle cx="1236.0" cy="30.4" r="126.0" fill="url(#dg1)"/><circle cx="1236.0" cy="351.0" r="126.0" fill="url(#dg1)"/><circle cx="1559.3" cy="30.4" r="126.0" fill="url(#dg1)"/><circle cx="1559.3" cy="351.0" r="126.0" fill="url(#dg1)"/><circle cx="1883.2" cy="30.4" r="126.0" fill="url(#dg1)"/><circle cx="1883.2" cy="351.0" r="126.0" fill="url(#dg1)"/><circle cx="1305.0" cy="110.9" r="118.8" fill="url(#dg2)"/><circle cx="1305.0" cy="270.4" r="118.8" fill="url(#dg2)"/><circle cx="1466.8" cy="110.9" r="118.8" fill="url(#dg2)"/><circle cx="1466.8" cy="270.4" r="118.8" fill="url(#dg2)"/><circle cx="1630.0" cy="110.9" r="118.8" fill="url(#dg2)"/><circle cx="1630.0" cy="270.4" r="118.8" fill="url(#dg2)"/><circle cx="1791.0" cy="110.9" r="118.8" fill="url(#dg2)"/><circle cx="1791.0" cy="270.4" r="118.8" fill="url(#dg2)"/><circle cx="1953.0" cy="110.9" r="118.8" fill="url(#dg2)"/><circle cx="1953.0" cy="270.4" r="118.8" fill="url(#dg2)"/></g><path d="M1380.0,100.2L1381.0,100.7L1390.0,99.7L1393.0,98.3L1397.4,94.0L1413.0,73.9L1423.1,64.0L1430.0,58.4L1445.0,49.7L1455.0,45.7L1464.8,43.0L1475.0,38.0L1478.5,35.0L1481.4,30.0M1637.7,30.0L1640.3,35.0L1643.0,38.3L1653.1,47.0L1664.0,54.4L1673.0,62.4L1686.8,78.0L1700.1,96.0L1703.0,98.6L1706.0,99.9L1715.0,99.0L1718.0,97.2L1721.4,94.0L1737.1,74.0L1748.0,63.3L1754.0,58.5L1769.0,49.8L1779.0,45.7L1788.8,43.0L1799.0,37.9L1802.3,35.0L1805.3,30.0M1961.6,30.0L1964.1,35.0L1967.0,38.6L1977.0,47.4L1989.0,55.9M1546.1,262.0L1553.0,261.3L1555.0,260.5L1560.5,255.0L1575.2,235.0L1590.0,220.0L1604.0,209.4L1622.1,199.0L1626.0,195.7L1627.3,193.0L1627.3,188.0L1626.0,185.6L1621.7,182.0L1605.0,172.5L1590.0,161.3L1575.0,146.1L1561.0,127.0L1555.0,120.9L1553.0,120.0L1543.0,119.1L1536.9,124.0L1524.6,142.0L1513.0,156.2L1504.2,166.0L1494.0,175.9L1488.1,185.0L1488.1,196.0L1488.3,197.0L1494.0,205.4L1506.0,217.3L1523.6,238.0L1537.0,257.4L1542.0,261.8L1543.0,262.3L1546.1,262.0M1870.1,261.0L1877.0,260.3L1879.0,259.1L1883.2,255.0L1898.9,234.0L1916.0,217.4L1928.0,208.9L1945.5,199.0L1949.0,196.1L1950.7,194.0L1951.0,188.0L1949.8,186.0L1945.2,182.0L1928.0,172.4L1913.0,161.3L1898.0,146.3L1883.6,127.0L1879.0,122.3L1877.0,121.1L1868.0,120.1L1865.0,121.0L1861.5,124.0L1848.9,142.0L1837.3,156.0L1828.2,166.0L1817.9,176.0L1811.9,185.0L1811.9,196.0L1812.0,197.0L1818.0,205.5L1829.8,217.0L1847.1,237.0L1861.3,257.0L1865.0,260.3L1867.0,261.2L1870.1,261.0M1480.6,350.0L1478.1,346.0L1475.0,343.3L1466.6,339.0L1455.0,335.6L1445.0,331.6L1430.1,323.0L1423.8,318.0L1413.0,307.3L1397.3,287.0L1393.0,282.8L1390.0,281.4L1382.0,280.5L1380.0,280.8M1804.5,350.0L1802.0,346.0L1799.0,343.4L1790.6,339.0L1779.0,335.6L1769.0,331.5L1754.3,323.0L1748.0,318.0L1737.8,308.0L1721.3,287.0L1718.0,283.9L1715.0,282.1L1706.0,281.2L1703.0,282.5L1700.2,285.0L1686.2,304.0L1672.9,319.0L1664.0,326.9L1653.0,334.4L1643.0,343.0L1639.9,347.0L1638.4,350.0M1989.0,325.4L1977.0,333.9L1967.0,342.7L1964.3,346.0L1962.3,350.0M1380.0,116.3L1390.0,114.9L1394.0,113.0L1398.0,109.7L1401.0,106.0L1411.2,88.0L1415.0,82.2L1422.7,73.0L1431.0,65.5L1440.0,59.4L1449.0,55.1L1459.0,51.8L1477.0,48.2L1484.0,44.9L1485.0,44.0L1489.0,37.0L1490.7,30.0M1628.8,30.0L1629.9,34.0L1635.0,42.9L1642.0,48.8L1660.4,60.0L1671.4,70.0L1679.6,80.0L1684.4,87.0L1696.1,110.0L1699.0,113.1L1702.0,114.8L1706.0,115.7L1715.0,114.2L1719.0,112.1L1722.0,109.7L1725.1,106.0L1735.3,88.0L1739.3,82.0L1747.0,72.9L1755.0,65.6L1766.0,58.4L1775.0,54.4L1783.0,51.8L1801.0,48.2L1808.0,44.8L1812.9,37.0L1814.6,30.0M1952.7,30.0L1953.8,34.0L1958.9,43.0L1965.0,48.3L1981.0,58.2L1989.0,64.5M1547.6,277.0L1555.0,275.6L1561.0,271.2L1564.4,267.0L1574.0,248.7L1578.3,242.0L1586.5,232.0L1596.0,223.5L1605.0,217.3L1614.0,212.8L1620.0,210.4L1628.0,208.4L1639.0,204.8L1642.0,202.9L1646.1,198.0L1646.7,195.0L1646.7,186.0L1645.9,183.0L1642.6,179.0L1639.0,176.6L1615.0,169.0L1605.0,164.0L1596.0,157.8L1586.2,149.0L1578.1,139.0L1574.2,133.0L1564.1,114.0L1561.0,110.2L1556.0,106.3L1554.0,105.4L1543.0,103.6L1540.3,104.0L1536.0,106.4L1532.6,110.0L1521.9,133.0L1517.5,140.0L1509.2,151.0L1499.2,161.0L1482.0,175.0L1478.6,179.0L1477.0,182.0L1475.5,187.0L1475.5,194.0L1477.0,199.3L1479.1,203.0L1481.7,206.0L1501.0,221.9L1508.0,229.0L1513.6,236.0L1522.3,249.0L1532.4,271.0L1535.0,274.2L1541.0,277.6L1543.0,277.8L1547.6,277.0M1869.0,277.0L1876.0,275.9L1878.6,275.0L1884.0,270.9L1887.2,267.0L1897.3,248.0L1901.2,242.0L1909.5,232.0L1919.0,223.5L1928.0,217.3L1938.0,212.4L1944.0,210.2L1951.0,208.6L1962.3,205.0L1965.9,203.0L1970.0,198.0L1970.6,195.0L1970.6,186.0L1970.0,183.5L1969.0,182.0L1966.5,179.0L1963.0,176.6L1938.0,168.9L1928.0,164.0L1919.0,157.8L1909.2,149.0L1901.0,139.0L1897.1,133.0L1887.5,115.0L1884.0,110.5L1880.0,107.3L1877.0,105.8L1867.0,104.2L1864.0,104.7L1860.0,106.9L1857.2,110.0L1846.2,133.0L1841.8,140.0L1833.0,151.4L1824.0,160.4L1811.6,170.0L1805.8,175.0L1802.3,179.0L1800.6,182.0L1799.1,187.0L1799.0,194.0L1801.0,200.0L1805.0,205.6L1825.2,222.0L1833.0,230.0L1840.8,240.0L1847.1,250.0L1853.0,263.3L1857.7,272.0L1860.0,274.5L1864.0,276.7L1867.0,277.3L1869.0,277.0M1490.4,350.0L1488.9,344.0L1485.0,337.2L1484.0,336.4L1477.0,333.0L1460.0,329.7L1452.0,327.3L1442.0,323.0L1432.0,316.6L1423.3,309.0L1415.0,299.0L1411.0,293.0L1401.0,275.0L1398.0,271.3L1394.0,268.0L1390.0,266.0L1380.0,264.7M1814.3,350.0L1812.8,344.0L1808.0,336.5L1801.0,333.1L1784.0,329.7L1776.0,327.3L1766.0,322.9L1756.0,316.5L1747.6,309.0L1739.1,299.0L1735.2,293.0L1725.1,275.0L1722.0,271.3L1719.0,268.9L1715.0,266.8L1706.0,265.3L1702.0,266.2L1699.0,267.8L1696.1,271.0L1684.5,294.0L1679.8,301.0L1671.0,311.8L1660.0,321.6L1641.3,333.0L1635.0,338.4L1630.1,347.0L1629.1,350.0M1989.0,316.8L1981.1,323.0L1965.0,333.0L1958.1,339.0L1954.0,347.0L1953.0,350.0M1380.0,125.8L1393.0,122.7L1399.0,120.1L1404.0,115.6L1408.9,107.0L1414.6,93.0L1419.1,85.0L1427.0,75.0L1437.0,66.6L1446.0,61.4L1456.0,57.8L1464.0,56.2L1472.0,55.2L1479.6,55.0L1487.0,53.9L1490.6,52.0L1492.5,50.0L1494.0,47.0L1495.6,40.0L1496.6,30.0M1622.9,30.0L1624.0,36.2L1625.9,42.0L1629.8,48.0L1633.0,50.7L1638.6,54.0L1647.0,57.8L1657.6,64.0L1664.0,69.1L1670.7,76.0L1677.2,85.0L1681.7,93.0L1685.9,105.0L1688.0,113.6L1691.2,121.0L1697.0,124.9L1703.0,125.2L1718.0,122.2L1723.0,120.1L1728.0,115.7L1733.0,107.2L1739.3,92.0L1743.9,84.0L1752.2,74.0L1763.0,65.4L1771.0,61.1L1781.0,57.5L1794.0,55.4L1806.0,54.6L1811.0,53.7L1814.3,52.0L1816.0,50.5L1817.8,47.0L1819.4,40.0L1820.5,30.0M1946.8,30.0L1947.6,35.0L1949.8,42.0L1953.7,48.0L1957.0,50.8L1962.2,54.0L1970.0,57.7L1979.2,63.0L1989.0,70.9M1545.6,286.0L1554.0,284.6L1562.0,281.6L1567.4,277.0L1572.0,268.7L1577.4,254.0L1581.5,246.0L1589.8,235.0L1600.0,226.3L1608.0,221.2L1619.0,216.7L1632.0,214.2L1641.0,213.5L1649.0,211.7L1650.3,211.0L1654.3,206.0L1655.9,198.0L1655.9,184.0L1654.1,175.0L1649.6,170.0L1641.0,167.8L1634.0,167.4L1624.0,165.8L1616.0,163.6L1610.0,161.1L1604.0,157.8L1593.0,149.5L1586.9,143.0L1581.3,135.0L1577.7,128.0L1572.0,112.7L1568.7,106.0L1562.4,100.0L1554.0,96.8L1542.0,94.6L1534.0,94.8L1530.0,96.7L1527.3,99.0L1524.4,107.0L1522.8,115.0L1519.4,126.0L1516.1,133.0L1509.8,143.0L1504.8,149.0L1498.0,155.4L1488.0,162.6L1480.0,167.3L1472.1,174.0L1468.2,181.0L1467.4,188.0L1467.4,194.0L1468.7,202.0L1473.0,208.6L1479.8,214.0L1488.0,218.7L1499.0,226.7L1505.4,233.0L1511.7,241.0L1517.0,250.0L1519.7,256.0L1523.0,267.0L1524.6,275.0L1527.1,282.0L1528.0,283.3L1532.0,286.0L1534.0,286.6L1542.0,286.8L1545.6,286.0M1868.1,286.0L1878.0,284.2L1885.0,281.5L1890.1,277.0L1895.0,268.3L1900.8,253.0L1905.0,245.2L1912.8,235.0L1923.0,226.3L1931.0,221.2L1942.0,216.8L1956.0,214.2L1965.0,213.6L1972.0,212.2L1974.5,211.0L1978.0,206.7L1979.5,199.0L1979.6,183.0L1978.0,174.8L1974.0,170.0L1965.0,167.7L1949.0,166.1L1940.0,163.9L1933.0,161.1L1927.0,157.8L1916.0,149.5L1910.0,143.1L1904.3,135.0L1900.6,128.0L1895.0,113.1L1891.5,106.0L1885.1,100.0L1878.0,97.2L1866.0,94.9L1858.0,95.1L1853.0,97.9L1851.4,100.0L1848.7,107.0L1847.1,115.0L1843.3,127.0L1839.2,135.0L1833.2,144.0L1827.0,151.0L1820.2,157.0L1811.0,163.3L1802.8,168.0L1795.6,174.0L1791.9,180.0L1790.9,188.0L1790.9,194.0L1792.0,201.5L1796.1,208.0L1803.7,214.0L1812.0,218.7L1823.0,226.6L1829.6,233.0L1835.9,241.0L1840.7,249.0L1843.6,255.0L1847.0,266.0L1848.9,275.0L1852.0,282.6L1858.0,286.4L1866.0,286.6L1868.1,286.0M1496.4,350.0L1495.5,341.0L1494.0,334.0L1492.4,331.0L1490.3,329.0L1487.0,327.4L1482.0,326.6L1470.0,325.9L1457.0,323.8L1446.0,319.9L1437.0,314.7L1427.0,306.3L1418.9,296.0L1414.5,288.0L1408.9,274.0L1404.0,265.4L1399.0,260.9L1393.0,258.2L1380.0,255.2M1820.3,350.0L1819.4,341.0L1817.8,334.0L1816.0,330.8L1814.0,329.0L1811.0,327.6L1806.0,326.7L1794.0,325.9L1781.0,323.8L1770.0,319.8L1761.0,314.6L1751.0,306.1L1743.1,296.0L1738.7,288.0L1733.0,273.9L1728.0,265.3L1723.0,260.8L1718.0,258.7L1703.0,255.8L1697.0,256.0L1691.1,260.0L1688.0,267.4L1685.9,276.0L1681.8,288.0L1676.8,297.0L1671.7,304.0L1665.3,311.0L1658.0,317.0L1647.0,323.5L1637.4,328.0L1630.1,333.0L1626.0,339.0L1624.0,345.0L1623.1,350.0M1989.0,310.4L1984.0,314.9L1979.0,318.5L1970.0,323.6L1961.0,328.0L1954.0,333.0L1949.9,339.0L1948.0,344.8L1947.0,350.0M1380.0,131.9L1400.0,126.8L1405.0,124.4L1408.7,121.0L1411.7,115.0L1416.7,98.0L1422.4,86.0L1426.7,80.0L1431.0,75.3L1436.0,71.1L1442.0,67.0L1453.0,62.1L1463.0,59.9L1474.0,59.4L1490.0,61.2L1496.0,61.3L1498.0,60.1L1500.0,58.2L1500.4,57.0L1500.9,51.0L1500.3,37.0L1500.6,30.0M1618.6,30.0L1619.9,42.0L1621.2,47.0L1622.0,49.1L1625.2,53.0L1631.0,56.2L1646.0,61.7L1655.0,66.4L1664.0,73.4L1671.4,82.0L1676.8,91.0L1680.2,100.0L1682.2,109.0L1683.6,125.0L1684.7,130.0L1688.0,133.0L1690.0,133.4L1704.0,131.6L1717.0,128.8L1724.0,126.8L1730.0,123.8L1734.0,119.4L1735.9,115.0L1740.9,98.0L1743.8,91.0L1747.3,85.0L1751.8,79.0L1756.0,74.6L1761.0,70.5L1768.0,66.0L1778.0,61.9L1788.0,59.8L1799.0,59.4L1814.0,61.0L1820.0,61.0L1821.0,60.5L1824.2,57.0L1824.7,51.0L1824.2,37.0L1824.5,30.0M1942.5,30.0L1943.9,42.0L1945.2,47.0L1946.0,49.0L1949.2,53.0L1955.0,56.3L1968.0,61.1L1976.0,65.1L1983.0,69.8L1989.0,75.4M1530.4,295.0L1563.0,288.2L1568.0,286.3L1570.0,285.0L1572.9,282.0L1575.0,277.0L1579.3,260.0L1582.3,252.0L1585.4,246.0L1589.6,240.0L1594.1,235.0L1600.0,230.0L1606.0,226.0L1616.0,221.5L1625.0,219.3L1636.0,218.5L1652.0,219.7L1657.0,219.5L1659.0,218.5L1661.4,216.0L1662.1,210.0L1661.4,191.0L1662.0,172.0L1661.0,165.2L1657.6,162.0L1651.0,161.7L1635.0,162.8L1625.0,162.0L1615.0,159.5L1605.0,154.7L1599.0,150.5L1593.8,146.0L1589.4,141.0L1585.2,135.0L1582.1,129.0L1579.5,122.0L1575.2,105.0L1573.6,101.0L1572.6,99.0L1569.5,96.0L1564.0,93.5L1556.0,91.4L1531.0,86.5L1525.0,85.9L1520.6,89.0L1519.6,95.0L1519.0,111.0L1517.6,119.0L1515.2,127.0L1510.7,136.0L1504.0,145.2L1496.0,152.7L1486.0,159.1L1471.0,166.3L1466.3,170.0L1463.6,174.0L1462.1,179.0L1461.4,194.0L1461.8,201.0L1462.7,205.0L1463.9,208.0L1466.8,212.0L1471.0,215.0L1485.0,221.6L1495.0,227.8L1502.0,234.0L1508.6,242.0L1514.2,252.0L1517.3,261.0L1519.0,271.0L1519.6,286.0L1520.4,292.0L1520.9,293.0L1524.0,295.3L1530.4,295.0M1851.8,295.0L1879.0,289.9L1887.0,287.8L1892.6,285.0L1895.7,282.0L1896.6,280.0L1898.2,276.0L1902.5,259.0L1905.2,252.0L1908.4,246.0L1912.6,240.0L1917.1,235.0L1923.0,230.0L1929.0,226.0L1939.0,221.5L1949.0,219.1L1960.0,218.6L1975.0,220.0L1981.0,220.1L1983.1,219.0L1985.5,216.0L1986.0,210.0L1985.3,191.0L1985.9,171.0L1985.2,165.0L1982.0,161.6L1975.0,161.3L1959.0,162.7L1949.0,162.2L1939.0,159.8L1933.0,157.4L1928.0,154.6L1922.0,150.5L1917.0,146.2L1913.0,141.8L1908.8,136.0L1905.6,130.0L1902.4,122.0L1898.1,105.0L1896.5,101.0L1895.3,99.0L1892.1,96.0L1887.0,93.7L1879.0,91.5L1855.0,86.8L1850.0,86.3L1848.0,86.9L1845.0,89.3L1844.0,95.2L1843.2,111.0L1841.6,120.0L1839.0,128.0L1834.3,137.0L1827.4,146.0L1819.8,153.0L1809.0,159.7L1795.0,166.1L1790.0,169.7L1787.1,174.0L1785.5,179.0L1784.9,194.0L1785.3,201.0L1786.0,204.5L1787.4,208.0L1790.0,211.7L1795.0,215.3L1809.0,221.6L1819.0,227.7L1827.0,234.8L1833.5,243.0L1838.4,252.0L1841.5,261.0L1843.2,270.0L1843.9,286.0L1844.9,292.0L1848.7,295.0L1851.8,295.0M1824.4,350.0L1824.7,330.0L1824.2,324.0L1821.0,320.7L1820.0,320.3L1814.0,320.3L1798.0,321.9L1788.0,321.5L1778.0,319.4L1767.5,315.0L1761.0,310.8L1756.0,306.7L1751.5,302.0L1747.1,296.0L1743.7,290.0L1740.8,283.0L1735.9,266.0L1734.0,261.4L1730.0,257.1L1724.0,254.2L1717.0,252.2L1695.0,247.9L1689.0,247.5L1686.0,249.3L1684.6,251.0L1683.5,256.0L1682.2,272.0L1680.3,281.0L1676.9,290.0L1671.6,299.0L1664.0,307.9L1655.0,314.9L1646.0,319.6L1631.0,325.1L1625.5,328.0L1622.2,332.0L1621.3,334.0L1619.9,339.0L1618.8,350.0M1500.5,350.0L1500.9,330.0L1500.4,324.0L1497.9,321.0L1496.0,320.0L1490.0,320.1L1474.0,321.9L1463.0,321.4L1457.0,320.3L1451.0,318.5L1441.6,314.0L1435.7,310.0L1431.0,306.0L1426.5,301.0L1422.3,295.0L1419.5,290.0L1416.6,283.0L1411.7,266.0L1408.8,260.0L1405.0,256.5L1400.0,254.2L1380.0,249.0M1989.0,305.9L1983.0,311.5L1976.0,316.2L1968.0,320.2L1955.0,325.0L1949.0,328.5L1946.0,332.2L1945.3,334.0L1943.9,339.0L1942.7,350.0" fill="none" stroke="#1d4d5e" stroke-width="1.05" stroke-opacity="0.8"/></g><rect x="1674.5" y="48.8" width="164.3" height="282.6" rx="24" fill="none" stroke="#fff" stroke-width="6" stroke-dasharray="7 7.4"/>
<text transform="translate(1790.8,121.9) scale(1,1.05)" font-size="31" text-anchor="middle">O</text>
<text transform="translate(1791.7,281.5) scale(1,1.05)" font-size="31" text-anchor="middle">O</text>
<text transform="translate(1721.0,202.7) scale(1,1.05)" font-size="31" text-anchor="middle">Nb</text>
<defs><clipPath id="clf"><rect x="1379.9" y="398.6" width="607.5" height="329.9"/></clipPath></defs><g clip-path="url(#clf)"><g filter="url(#cmapf)"><rect x="1374.9" y="393.6" width="617.5" height="339.9" fill="#000"/><circle cx="1581.9" cy="443.3" r="103.7" fill="url(#dg3)"/><circle cx="1575.6" cy="532.2" r="96.7" fill="url(#dg4)"/><circle cx="1583.1" cy="635.1" r="103.2" fill="url(#dg5)"/><circle cx="1854.1" cy="444.8" r="101.7" fill="url(#dg6)"/><circle cx="1843.4" cy="534.5" r="95.7" fill="url(#dg7)"/><circle cx="1859.5" cy="636.0" r="102.7" fill="url(#dg8)"/><circle cx="1453.5" cy="541.2" r="82.0" fill="url(#dg9)"/><circle cx="1749.1" cy="560.6" r="72.5" fill="url(#dg10)"/><circle cx="1988.8" cy="542.6" r="82.0" fill="url(#dg9)"/><circle cx="1446.3" cy="729.5" r="116.5" fill="url(#dg11)"/><circle cx="1577.4" cy="729.5" r="116.5" fill="url(#dg11)"/><circle cx="1717.7" cy="729.5" r="116.5" fill="url(#dg11)"/><circle cx="1852.4" cy="729.5" r="116.5" fill="url(#dg11)"/><circle cx="1985.2" cy="729.5" r="116.5" fill="url(#dg11)"/><circle cx="1442.0" cy="340.0" r="116.5" fill="url(#dg11)"/><circle cx="1716.0" cy="340.0" r="116.5" fill="url(#dg11)"/></g><path d="M1466.0,397.0L1454.0,400.7L1442.0,401.8L1430.0,400.7L1418.0,397.0M1384.5,729.0L1385.4,719.0L1387.6,710.0L1391.4,701.0L1396.4,693.0L1403.0,685.4L1410.6,679.0L1419.0,674.0L1428.0,670.4L1437.0,668.4L1446.0,667.7L1455.0,668.3L1464.0,670.3L1471.0,672.8L1482.0,678.2L1491.0,684.1L1501.0,692.1L1511.0,695.7L1513.0,695.1L1522.0,686.3L1525.2,675.0L1524.4,662.0L1522.1,647.0L1522.0,636.0L1522.7,629.0L1524.2,621.0L1527.2,611.0L1531.3,601.0L1535.6,593.0L1538.1,584.0L1538.0,581.0L1535.3,573.0L1526.9,559.0L1524.2,553.0L1521.3,545.0L1519.9,538.0L1519.7,531.0L1521.0,520.0L1523.6,511.0L1527.4,502.0L1529.6,489.0L1528.1,479.0L1524.5,468.0L1522.2,458.0L1521.0,447.0L1521.0,439.0L1523.1,427.0L1527.6,415.0L1534.0,405.0L1542.0,397.0M1622.4,397.0L1627.0,401.3L1631.0,406.1L1634.3,411.0L1637.5,417.0L1640.0,424.0L1641.7,431.0L1643.0,444.0L1642.0,454.0L1639.0,466.0L1635.2,476.0L1630.6,485.0L1627.3,495.0L1626.9,498.0L1627.3,506.0L1629.2,517.0L1629.9,525.0L1629.4,537.0L1627.3,550.0L1624.9,558.0L1621.6,566.0L1619.9,575.0L1620.2,578.0L1623.2,585.0L1632.6,599.0L1637.7,609.0L1640.6,616.0L1642.4,623.0L1643.8,636.0L1643.4,648.0L1642.2,656.0L1638.8,668.0L1636.0,683.0L1638.0,694.9L1646.0,706.5L1648.0,707.7L1649.0,707.5L1657.0,702.0L1666.4,691.0L1680.0,680.2L1688.0,675.3L1694.0,672.4L1701.0,670.0L1709.0,668.3L1717.0,667.7L1726.0,668.2L1734.0,669.9L1742.0,672.6L1757.0,680.8L1766.0,687.6L1775.0,696.3L1784.0,700.7L1786.0,700.3L1790.0,696.8L1795.0,691.6L1798.0,686.9L1801.9,675.0L1801.0,661.0L1799.1,649.0L1798.8,639.0L1799.2,632.0L1803.0,614.0L1809.1,598.0L1810.4,588.0L1809.7,586.0L1805.1,578.0L1799.0,572.0L1792.0,563.6L1785.0,557.9L1783.0,558.9L1780.9,565.0L1776.3,574.0L1773.1,578.0L1768.0,582.6L1761.0,586.5L1756.0,588.3L1750.0,589.1L1743.0,588.4L1738.0,586.8L1734.0,584.8L1730.0,581.8L1726.5,578.0L1723.9,574.0L1721.9,569.0L1720.8,564.0L1720.6,559.0L1721.4,554.0L1722.6,550.0L1727.0,542.6L1730.0,539.4L1734.0,536.4L1742.0,533.0L1752.0,531.9L1761.0,533.4L1769.0,537.0L1774.8,541.0L1779.0,544.7L1781.0,544.6L1785.2,536.0L1787.7,527.0L1792.0,515.1L1799.3,500.0L1802.2,490.0L1802.4,487.0L1801.2,478.0L1797.9,467.0L1795.6,454.0L1795.1,442.0L1796.9,430.0L1800.5,420.0L1805.5,411.0L1812.0,403.2L1819.4,397.0M1740.0,397.0L1728.0,400.7L1716.0,401.8L1704.0,400.7L1692.0,397.0M1888.8,397.0L1897.7,405.0L1905.1,415.0L1908.2,421.0L1910.4,427.0L1912.9,439.0L1912.8,451.0L1910.6,462.0L1906.2,474.0L1897.5,490.0L1894.8,497.0L1893.9,501.0L1894.4,511.0L1896.3,522.0L1896.7,533.0L1895.4,548.0L1893.7,556.0L1891.0,564.4L1890.1,573.0L1890.7,576.0L1894.5,583.0L1905.2,596.0L1912.0,606.8L1915.8,615.0L1918.1,623.0L1920.0,638.0L1919.9,647.0L1918.6,658.0L1913.9,680.0L1916.5,690.0L1917.0,691.2L1920.0,693.1L1930.0,691.1L1938.0,684.8L1945.6,680.0L1962.0,672.2L1968.0,670.1L1975.0,668.5L1988.0,667.7M1457.0,579.0L1449.0,578.9L1442.0,577.4L1435.0,574.4L1429.0,570.2L1423.9,565.0L1419.9,559.0L1417.1,552.0L1415.7,545.0L1415.7,537.0L1417.2,530.0L1420.1,523.0L1424.2,517.0L1430.0,511.3L1436.0,507.5L1443.0,504.7L1450.0,503.4L1458.0,503.5L1465.0,505.0L1472.0,508.0L1477.8,512.0L1484.0,518.0L1488.0,523.7L1491.2,531.0L1492.6,538.0L1492.4,545.0L1490.4,553.0L1487.0,559.8L1482.3,566.0L1477.0,571.1L1471.0,574.9L1464.0,577.7L1457.0,579.0M1988.0,580.6L1981.0,579.8L1974.0,577.6L1967.4,574.0L1962.0,569.5L1957.4,564.0L1953.6,557.0L1951.5,550.0L1950.8,543.0L1951.6,535.0L1953.7,528.0L1957.0,521.8L1961.7,516.0L1967.7,511.0L1974.0,507.6L1981.0,505.4L1988.0,504.6M1390.8,729.0L1391.5,720.0L1394.3,710.0L1398.6,701.0L1403.6,694.0L1410.0,687.4L1417.0,682.3L1424.0,678.6L1433.0,675.5L1443.0,674.1L1455.0,674.6L1466.0,677.5L1476.0,682.3L1483.0,686.9L1490.3,693.0L1499.7,704.0L1505.0,712.0L1512.0,718.7L1518.0,712.0L1529.0,693.8L1533.0,684.5L1534.3,678.0L1533.1,670.0L1528.8,654.0L1527.7,648.0L1527.0,638.0L1527.6,629.0L1529.5,620.0L1532.1,612.0L1536.3,603.0L1544.9,589.0L1546.8,582.0L1544.7,576.0L1536.0,563.4L1530.8,554.0L1527.8,546.0L1526.2,539.0L1525.8,529.0L1526.8,521.0L1529.0,513.0L1535.2,497.0L1536.7,490.0L1535.4,482.0L1529.7,467.0L1527.2,458.0L1526.2,451.0L1525.8,440.0L1526.5,434.0L1528.4,426.0L1533.4,415.0L1537.4,409.0L1540.8,405.0L1550.1,397.0M1613.7,397.0L1618.0,400.2L1623.1,405.0L1626.6,409.0L1630.6,415.0L1633.5,421.0L1635.7,427.0L1637.9,439.0L1637.6,451.0L1634.8,463.0L1630.3,474.0L1622.5,488.0L1620.2,495.0L1620.5,503.0L1624.6,522.0L1625.1,529.0L1624.7,536.0L1623.5,544.0L1621.3,552.0L1619.0,558.0L1612.6,571.0L1611.3,577.0L1614.0,583.6L1625.0,596.9L1630.8,606.0L1635.4,616.0L1637.8,625.0L1638.9,638.0L1637.6,651.0L1635.4,659.0L1628.5,676.0L1626.3,684.0L1626.9,691.0L1635.3,717.0L1636.8,729.0M1789.5,729.0L1790.4,724.0L1795.8,710.0L1805.0,693.1L1809.2,684.0L1810.3,676.0L1809.2,669.0L1804.4,648.0L1803.8,640.0L1804.3,631.0L1808.0,615.0L1811.2,607.0L1818.5,593.0L1820.0,586.0L1817.0,580.2L1805.4,568.0L1800.0,560.8L1795.3,551.0L1793.3,543.0L1793.3,533.0L1795.9,521.0L1799.0,512.9L1807.6,496.0L1809.6,489.0L1808.8,482.0L1803.3,467.0L1801.1,458.0L1800.0,447.0L1800.3,438.0L1801.4,432.0L1803.3,426.0L1806.5,419.0L1809.5,414.0L1813.4,409.0L1818.0,404.4L1823.0,400.4L1828.7,397.0M1879.5,397.0L1885.0,400.3L1890.0,404.2L1894.7,409.0L1898.7,414.0L1901.7,419.0L1904.5,425.0L1906.5,431.0L1907.7,437.0L1908.3,445.0L1907.8,452.0L1904.5,465.0L1899.0,477.0L1889.8,491.0L1886.9,498.0L1887.3,506.0L1891.3,524.0L1891.7,536.0L1890.8,545.0L1889.5,551.0L1882.3,570.0L1881.6,576.0L1884.8,582.0L1897.0,594.1L1904.6,604.0L1910.5,615.0L1913.4,624.0L1914.9,638.0L1914.1,650.0L1911.6,660.0L1903.9,681.0L1903.2,686.0L1903.3,690.0L1906.2,700.0L1909.6,706.0L1919.0,727.0L1920.8,722.0L1925.8,715.0L1931.3,705.0L1939.2,695.0L1947.1,688.0L1957.0,681.5L1968.0,676.7L1978.0,674.4L1988.0,674.1M1457.0,577.0L1450.0,577.0L1443.0,575.6L1436.6,573.0L1430.6,569.0L1425.6,564.0L1421.7,558.0L1419.2,552.0L1417.7,545.0L1417.6,538.0L1419.0,531.0L1421.9,524.0L1426.0,518.0L1431.0,513.1L1437.0,509.2L1443.0,506.8L1450.0,505.4L1457.0,505.4L1464.0,506.8L1470.0,509.2L1476.0,513.1L1481.0,518.0L1485.2,524.0L1488.2,531.0L1489.5,538.0L1489.4,545.0L1487.9,552.0L1485.4,558.0L1481.4,564.0L1476.4,569.0L1470.4,573.0L1464.0,575.6L1457.0,577.0M1988.0,578.6L1981.0,577.7L1975.0,575.8L1969.0,572.7L1963.3,568.0L1959.1,563.0L1955.8,557.0L1953.6,550.0L1952.8,543.0L1953.4,536.0L1955.5,529.0L1958.6,523.0L1963.0,517.5L1968.0,513.2L1974.0,509.8L1981.0,507.5L1988.0,506.6M1751.0,587.0L1746.0,586.9L1741.0,585.8L1736.0,583.6L1732.0,580.8L1728.3,577.0L1725.7,573.0L1723.7,568.0L1722.7,563.0L1722.7,558.0L1723.7,553.0L1725.8,548.0L1729.0,543.3L1733.0,539.6L1737.0,537.0L1742.0,535.1L1747.0,534.2L1753.0,534.3L1758.0,535.5L1763.0,537.7L1767.0,540.6L1771.1,545.0L1773.5,549.0L1775.5,554.0L1776.1,559.0L1775.8,564.0L1774.6,569.0L1772.3,574.0L1769.3,578.0L1765.0,581.9L1761.0,584.3L1756.0,586.2L1751.0,587.0M1658.3,729.0L1659.8,719.0L1664.7,707.0L1670.0,698.6L1678.0,690.0L1688.0,682.5L1698.0,677.5L1709.0,674.6L1718.0,674.0L1724.0,674.3L1730.0,675.3L1740.0,678.6L1750.0,684.0L1759.0,691.0L1766.0,698.5L1773.8,710.0L1779.7,724.0L1780.6,729.0M1522.9,729.0L1523.7,722.0L1526.0,713.0L1531.0,702.3L1538.8,689.0L1540.6,684.0L1541.1,681.0L1540.2,674.0L1534.6,659.0L1531.5,647.0L1530.6,636.0L1531.6,626.0L1534.4,616.0L1538.5,607.0L1542.2,601.0L1551.5,589.0L1553.3,586.0L1554.2,583.0L1554.1,581.0L1553.0,578.0L1541.0,563.6L1537.0,557.6L1533.2,550.0L1530.3,540.0L1529.7,529.0L1531.0,520.0L1533.5,512.0L1541.5,494.0L1542.2,489.0L1541.6,485.0L1540.2,481.0L1533.8,467.0L1531.2,459.0L1529.4,449.0L1529.5,438.0L1530.4,432.0L1532.5,425.0L1537.4,415.0L1541.1,410.0L1546.0,404.8L1551.0,400.6L1556.9,397.0M1606.9,397.0L1611.0,399.4L1617.0,404.1L1622.7,410.0L1626.3,415.0L1629.6,421.0L1631.7,426.0L1633.6,433.0L1634.5,440.0L1634.5,446.0L1633.7,453.0L1630.7,464.0L1626.5,473.0L1617.6,487.0L1615.6,491.0L1614.8,494.0L1614.7,499.0L1620.1,518.0L1621.2,525.0L1621.4,534.0L1619.7,545.0L1615.6,556.0L1606.8,570.0L1604.7,574.0L1603.9,577.0L1604.1,579.0L1605.3,582.0L1608.7,586.0L1620.0,597.0L1626.7,606.0L1631.7,616.0L1634.5,626.0L1635.4,638.0L1634.8,645.0L1633.3,652.0L1628.8,664.0L1621.0,679.0L1619.2,686.0L1619.2,688.0L1620.7,695.0L1626.0,707.0L1628.0,713.2L1629.6,721.0L1630.0,729.0M1798.7,729.0L1799.6,721.0L1802.6,711.0L1806.5,702.0L1814.4,689.0L1816.9,681.0L1816.3,674.0L1810.8,658.0L1808.1,647.0L1807.5,636.0L1808.5,627.0L1810.5,619.0L1814.1,610.0L1820.0,600.0L1825.0,593.0L1827.0,589.0L1827.6,586.0L1827.3,584.0L1825.6,581.0L1821.9,577.0L1811.0,567.5L1805.1,560.0L1800.5,551.0L1798.2,543.0L1797.8,533.0L1800.0,521.0L1804.8,510.0L1814.2,494.0L1815.4,489.0L1815.0,485.0L1813.7,481.0L1807.9,468.0L1805.3,460.0L1803.6,450.0L1803.6,440.0L1805.3,431.0L1807.4,425.0L1810.5,419.0L1814.6,413.0L1820.0,407.3L1825.0,403.3L1831.0,399.7L1837.4,397.0M1870.8,397.0L1877.0,399.6L1882.0,402.5L1888.0,407.2L1893.6,413.0L1897.7,419.0L1900.8,425.0L1903.4,433.0L1904.5,439.0L1904.4,451.0L1903.6,456.0L1900.8,465.0L1895.7,475.0L1885.1,489.0L1882.6,493.0L1881.5,496.0L1881.3,502.0L1886.4,519.0L1887.9,526.0L1888.3,533.0L1887.9,540.0L1886.7,547.0L1884.9,553.0L1880.2,563.0L1876.1,570.0L1874.4,574.0L1874.1,577.0L1874.5,579.0L1876.0,581.4L1879.7,585.0L1892.0,594.7L1899.6,603.0L1905.8,613.0L1909.8,624.0L1911.3,637.0L1910.9,645.0L1909.9,651.0L1908.2,657.0L1905.0,664.7L1897.0,680.3L1895.5,688.0L1896.9,695.0L1904.6,715.0L1906.1,722.0L1906.5,729.0M1461.0,575.2L1455.0,576.0L1448.0,575.6L1441.0,573.7L1435.0,570.7L1429.1,566.0L1425.0,561.2L1421.6,555.0L1419.6,549.0L1418.7,543.0L1419.1,536.0L1420.9,529.0L1424.0,522.7L1428.0,517.5L1433.1,513.0L1439.0,509.6L1446.0,507.2L1453.0,506.4L1460.0,507.0L1466.7,509.0L1472.4,512.0L1478.0,516.5L1482.6,522.0L1485.8,528.0L1487.7,534.0L1488.4,540.0L1487.9,547.0L1485.9,554.0L1482.8,560.0L1478.0,565.9L1473.0,570.0L1467.0,573.3L1461.0,575.2M1988.0,577.4L1981.0,576.5L1975.0,574.5L1969.0,571.2L1964.0,567.0L1959.9,562.0L1956.7,556.0L1954.8,550.0L1954.0,543.0L1954.6,536.0L1956.4,530.0L1959.4,524.0L1964.0,518.2L1969.0,514.0L1975.0,510.7L1981.0,508.7L1988.0,507.8M1755.0,585.2L1750.0,585.9L1745.0,585.6L1740.0,584.2L1736.0,582.2L1732.0,579.2L1729.0,576.0L1726.5,572.0L1724.6,567.0L1723.8,562.0L1724.1,557.0L1725.3,552.0L1727.2,548.0L1730.0,544.0L1734.0,540.3L1738.0,537.9L1743.0,536.0L1748.0,535.3L1753.0,535.5L1758.0,536.8L1762.0,538.6L1766.0,541.3L1769.5,545.0L1772.1,549.0L1774.0,554.0L1774.8,559.0L1774.6,564.0L1773.3,569.0L1771.0,573.7L1768.0,577.6L1764.1,581.0L1760.0,583.4L1755.0,585.2M1395.2,729.0L1396.5,718.0L1399.5,709.0L1404.6,700.0L1410.0,693.6L1417.0,687.7L1426.0,682.6L1436.0,679.5L1446.0,678.4L1456.0,679.3L1466.0,682.4L1477.0,688.3L1483.9,694.0L1490.9,702.0L1496.8,712.0L1499.6,720.0L1500.8,729.0M1665.1,729.0L1666.3,719.0L1669.3,710.0L1673.9,702.0L1681.0,693.7L1690.0,686.6L1698.0,682.4L1708.0,679.3L1718.0,678.4L1728.0,679.5L1737.0,682.2L1747.0,687.5L1754.0,693.0L1761.0,700.6L1766.1,709.0L1770.0,719.0L1771.4,729.0M1931.1,729.0L1932.3,720.0L1935.6,711.0L1941.5,701.0L1949.9,692.0L1958.0,686.2L1968.0,681.4L1976.0,679.3L1982.0,678.5L1988.0,678.5M1527.8,729.0L1529.0,719.0L1532.4,709.0L1536.0,702.0L1543.5,691.0L1545.7,687.0L1547.1,683.0L1546.5,677.0L1538.0,659.0L1534.4,648.0L1533.1,636.0L1534.3,625.0L1537.8,614.0L1542.8,605.0L1549.3,597.0L1559.6,587.0L1562.3,583.0L1561.7,579.0L1558.8,576.0L1548.0,567.0L1541.0,559.0L1536.4,551.0L1533.1,541.0L1532.2,530.0L1534.0,519.0L1538.4,508.0L1545.5,496.0L1547.1,492.0L1547.2,488.0L1545.6,483.0L1538.7,471.0L1534.1,460.0L1531.9,449.0L1531.9,438.0L1533.1,431.0L1535.1,425.0L1537.9,419.0L1541.8,413.0L1546.1,408.0L1551.0,403.6L1556.0,400.2L1562.3,397.0M1601.5,397.0L1608.0,400.3L1613.2,404.0L1618.7,409.0L1622.8,414.0L1625.9,419.0L1628.7,425.0L1630.9,432.0L1632.0,439.0L1632.1,445.0L1631.6,451.0L1630.1,458.0L1628.0,464.0L1623.3,473.0L1612.8,487.0L1610.0,492.0L1609.6,497.0L1610.6,501.0L1615.6,513.0L1618.5,524.0L1619.0,534.0L1617.4,544.0L1615.0,551.0L1611.2,558.0L1607.0,563.9L1598.6,573.0L1595.9,577.0L1596.2,581.0L1600.5,585.0L1612.8,594.0L1618.0,598.8L1622.0,603.6L1625.6,609.0L1628.6,615.0L1631.8,625.0L1632.8,631.0L1633.0,638.0L1632.2,645.0L1630.8,651.0L1625.8,663.0L1614.3,681.0L1613.0,687.0L1615.4,695.0L1620.0,703.9L1623.8,713.0L1625.7,721.0L1626.2,729.0M1803.3,729.0L1804.6,718.0L1807.6,709.0L1811.0,702.4L1821.0,687.5L1823.0,682.0L1822.2,676.0L1814.4,659.0L1811.0,648.0L1809.9,637.0L1811.1,626.0L1813.8,617.0L1818.3,608.0L1824.0,600.1L1833.4,590.0L1836.2,586.0L1835.6,582.0L1819.0,570.4L1814.0,566.1L1810.2,562.0L1804.6,553.0L1801.3,543.0L1800.6,537.0L1800.8,531.0L1801.7,525.0L1803.2,520.0L1808.0,510.0L1818.0,496.6L1820.1,493.0L1820.9,488.0L1819.2,483.0L1812.4,471.0L1808.0,460.3L1806.0,450.0L1806.3,438.0L1808.1,430.0L1811.0,423.0L1815.4,416.0L1820.0,410.6L1826.0,405.6L1833.0,401.4L1841.0,398.3L1847.4,397.0M1860.8,397.0L1867.0,398.3L1875.0,401.3L1882.0,405.4L1888.0,410.4L1893.6,417.0L1897.7,424.0L1900.7,432.0L1901.9,438.0L1902.4,445.0L1901.8,452.0L1900.0,460.0L1897.7,466.0L1892.0,475.7L1887.0,481.8L1879.1,490.0L1876.1,495.0L1875.7,499.0L1876.8,503.0L1882.0,514.6L1884.9,524.0L1885.8,532.0L1885.4,540.0L1883.5,549.0L1880.6,556.0L1876.0,563.5L1868.2,573.0L1865.6,577.0L1865.5,578.0L1866.1,581.0L1867.2,582.0L1884.0,592.1L1890.5,597.0L1895.5,602.0L1900.0,607.8L1903.6,614.0L1907.5,625.0L1908.7,632.0L1908.9,638.0L1908.1,646.0L1906.8,652.0L1901.7,664.0L1890.4,682.0L1889.2,687.0L1889.9,692.0L1897.4,708.0L1899.5,714.0L1901.4,722.0L1901.8,729.0M1461.0,574.1L1454.0,574.9L1447.0,574.4L1441.0,572.6L1435.0,569.5L1430.0,565.5L1425.4,560.0L1422.6,555.0L1420.6,549.0L1419.7,542.0L1420.2,536.0L1421.6,530.0L1424.4,524.0L1429.0,518.0L1434.0,513.6L1439.0,510.7L1445.0,508.5L1451.0,507.5L1458.0,507.7L1465.0,509.4L1470.0,511.7L1475.9,516.0L1480.6,521.0L1484.2,527.0L1486.4,533.0L1487.4,541.0L1486.7,548.0L1485.2,553.0L1482.2,559.0L1477.5,565.0L1472.0,569.5L1467.0,572.2L1461.0,574.1M1988.0,576.4L1981.0,575.5L1975.0,573.5L1970.0,570.6L1964.5,566.0L1960.5,561.0L1957.8,556.0L1955.6,549.0L1955.1,543.0L1955.6,536.0L1957.4,530.0L1960.6,524.0L1964.6,519.0L1970.0,514.5L1975.0,511.8L1981.0,509.7L1988.0,508.8M1755.0,584.2L1750.0,584.8L1745.0,584.6L1741.0,583.5L1737.0,581.6L1733.0,578.7L1729.5,575.0L1726.7,570.0L1725.4,566.0L1724.8,561.0L1725.3,556.0L1726.4,552.0L1728.4,548.0L1731.4,544.0L1735.0,540.8L1739.0,538.5L1744.0,536.9L1749.0,536.3L1754.0,536.7L1759.0,538.3L1763.0,540.5L1766.1,543.0L1769.6,547.0L1772.8,554.0L1773.6,558.0L1773.6,563.0L1772.5,568.0L1770.7,572.0L1767.1,577.0L1764.0,579.8L1760.0,582.3L1755.0,584.2M1398.3,729.0L1399.2,720.0L1402.0,711.0L1406.3,703.0L1412.0,695.9L1419.0,690.0L1428.0,685.1L1437.0,682.4L1446.0,681.5L1455.0,682.3L1465.0,685.3L1474.0,690.1L1481.0,695.8L1487.2,703.0L1491.7,711.0L1494.8,720.0L1495.9,729.0M1668.9,729.0L1669.9,720.0L1672.8,711.0L1677.3,703.0L1683.1,696.0L1691.0,689.6L1699.0,685.3L1709.0,682.3L1718.0,681.5L1727.0,682.4L1736.0,685.1L1745.0,690.0L1752.0,695.6L1758.4,703.0L1762.9,711.0L1765.8,720.0L1766.8,729.0M1935.8,729.0L1936.9,720.0L1940.4,710.0L1945.1,702.0L1952.0,694.5L1959.0,689.2L1969.0,684.3L1978.0,682.0L1988.0,681.6" fill="none" stroke="#1d4d5e" stroke-width="1.05" stroke-opacity="0.8"/><circle cx="1453.5" cy="541.2" r="33.5" fill="none" stroke="#000" stroke-width="7"/><circle cx="1749.1" cy="560.6" r="23.5" fill="none" stroke="#000" stroke-width="6.5"/><circle cx="1988.8" cy="542.6" r="33.5" fill="none" stroke="#000" stroke-width="7"/></g><rect x="1521.7" y="405.3" width="122.1" height="276.5" rx="26" fill="none" stroke="#fff" stroke-width="6" stroke-dasharray="7 7.4"/>
<text transform="translate(1581.9,454.5) scale(1,1.05)" font-size="31" text-anchor="middle">Nb</text>
<text transform="translate(1575.6,543.4) scale(1,1.05)" font-size="31" text-anchor="middle">O</text>
<text transform="translate(1583.1,646.3) scale(1,1.05)" font-size="31" text-anchor="middle">Nb</text>
<text transform="translate(1453.5,552.4) scale(1,1.05)" font-size="31" text-anchor="middle">Nb</text>
<text transform="translate(1749.1,571.8) scale(1,1.05)" font-size="31" text-anchor="middle">Li</text>
<text transform="translate(1854.1,456.0) scale(1,1.05)" font-size="31" text-anchor="middle">Nb</text>
<text transform="translate(1843.4,545.7) scale(1,1.05)" font-size="31" text-anchor="middle">O</text>
<text transform="translate(1859.5,647.2) scale(1,1.05)" font-size="31" text-anchor="middle">Nb</text>
<defs><clipPath id="clg"><rect x="1378.6" y="778.6" width="611.4" height="333.4"/></clipPath></defs><g clip-path="url(#clg)"><g filter="url(#cmapf)"><rect x="1373.6" y="773.6" width="621.4" height="343.4" fill="#000"/><circle cx="1409.0" cy="829.3" r="114.0" fill="url(#dg12)"/><circle cx="1543.3" cy="832.0" r="113.5" fill="url(#dg13)"/><circle cx="1673.5" cy="827.5" r="113.5" fill="url(#dg13)"/><circle cx="1807.5" cy="836.8" r="113.5" fill="url(#dg13)"/><circle cx="1942.5" cy="825.7" r="113.5" fill="url(#dg13)"/><circle cx="1409.0" cy="1057.3" r="114.0" fill="url(#dg12)"/><circle cx="1543.3" cy="1059.1" r="113.5" fill="url(#dg13)"/><circle cx="1673.0" cy="1059.0" r="113.5" fill="url(#dg13)"/><circle cx="1806.9" cy="1046.5" r="113.5" fill="url(#dg13)"/><circle cx="1942.5" cy="1060.0" r="113.5" fill="url(#dg13)"/><circle cx="1614.6" cy="945.5" r="113.5" fill="url(#dg13)"/><circle cx="1766.2" cy="942.4" r="121.5" fill="url(#dg14)"/><circle cx="1873.4" cy="941.5" r="113.5" fill="url(#dg13)"/><circle cx="1480.4" cy="944.5" r="81.5" fill="url(#dg15)"/><circle cx="1360.0" cy="945.0" r="81.5" fill="url(#dg15)"/><circle cx="1998.0" cy="945.0" r="81.5" fill="url(#dg15)"/></g><path d="M1437.0,777.0L1447.0,783.1L1455.4,790.0L1460.4,795.0L1468.0,804.3L1475.0,809.9L1478.0,810.2L1486.0,804.5L1495.0,794.6L1504.0,787.1L1515.0,780.4L1522.4,777.0M1564.2,777.0L1574.0,781.4L1580.0,784.9L1588.5,791.0L1598.0,799.7L1606.0,804.3L1609.0,804.2L1616.0,799.6L1628.6,787.0L1636.0,781.3L1643.3,777.0M1703.7,777.0L1712.5,783.0L1718.0,787.6L1725.2,795.0L1733.0,805.7L1740.0,812.1L1741.0,812.5L1744.0,812.2L1751.0,807.4L1762.5,796.0L1770.0,790.4L1776.0,786.8L1785.0,782.4L1792.0,780.0L1800.0,778.4L1808.0,778.0L1816.0,778.6L1824.0,780.3L1831.3,783.0L1841.0,787.9L1852.4,796.0L1864.0,807.9L1872.0,813.8L1875.0,813.6L1875.6,813.0L1882.0,806.4L1888.2,797.0L1893.1,791.0L1900.2,784.0L1909.5,777.0M1975.5,777.0L1984.0,784.0L1991.0,792.4M1377.0,1002.6L1382.0,999.6L1387.0,997.6L1392.0,996.4L1398.0,995.8L1411.0,996.6L1432.0,1001.5L1439.0,1004.6L1449.0,1011.0L1457.0,1018.5L1468.0,1032.0L1475.0,1037.6L1478.0,1037.7L1488.0,1029.9L1495.8,1020.0L1502.0,1014.0L1507.0,1010.2L1514.0,1006.1L1522.0,1002.1L1529.0,999.7L1536.0,998.2L1549.0,996.9L1552.8,996.0L1561.0,993.1L1562.8,990.0L1561.9,981.0L1556.5,964.0L1555.1,957.0L1554.5,951.0L1554.5,939.0L1555.2,933.0L1556.9,925.0L1561.8,910.0L1562.7,901.0L1561.0,898.2L1549.0,894.2L1537.0,893.4L1528.0,891.4L1522.0,889.4L1513.2,885.0L1506.0,880.4L1501.0,876.4L1494.0,869.0L1487.0,859.2L1485.0,857.1L1477.0,851.2L1474.0,851.5L1467.0,856.7L1455.0,870.0L1447.0,876.9L1437.0,882.6L1430.0,885.4L1411.0,889.6L1400.0,890.1L1393.0,889.3L1387.6,888.0L1382.0,885.7L1377.0,882.6M1991.0,859.0L1984.0,868.1L1979.3,873.0L1974.0,877.1L1966.0,881.7L1960.0,884.3L1952.0,886.6L1946.0,887.6L1938.0,887.8L1933.0,889.0L1925.0,891.8L1923.5,894.0L1923.3,895.0L1925.6,907.0L1930.9,917.0L1934.4,929.0L1935.4,935.0L1935.6,944.0L1934.5,954.0L1931.6,964.0L1928.5,971.0L1923.4,979.0L1919.3,992.0L1921.0,995.1L1935.0,998.1L1943.0,997.7L1950.0,998.3L1959.0,1000.5L1965.0,1002.8L1974.0,1007.7L1980.0,1012.3L1986.0,1018.9L1991.0,1026.7M1714.5,1002.0L1714.9,1001.0L1711.0,994.0L1707.1,983.0L1702.5,976.0L1699.4,969.0L1695.2,954.0L1694.4,945.0L1695.1,933.0L1698.4,919.0L1701.5,911.0L1705.1,905.0L1707.0,898.0L1710.8,889.0L1711.0,888.0L1710.3,887.0L1709.0,886.6L1701.0,888.4L1692.0,889.5L1685.0,891.6L1679.0,892.6L1668.0,897.3L1667.0,899.0L1669.6,911.0L1673.4,919.0L1677.6,934.0L1678.9,949.0L1678.5,955.0L1677.0,959.7L1675.2,969.0L1672.9,976.0L1672.2,988.0L1683.0,994.1L1693.0,997.2L1708.0,1000.6L1713.0,1002.3L1714.5,1002.0M1488.0,983.1L1481.0,983.7L1472.0,982.8L1466.0,980.9L1458.9,977.0L1454.0,973.0L1449.2,967.0L1445.6,960.0L1443.6,953.0L1442.9,944.0L1443.8,936.0L1445.7,929.0L1449.0,922.6L1453.4,917.0L1459.0,912.2L1466.7,908.0L1474.0,905.9L1481.0,905.2L1488.0,905.8L1496.0,908.3L1502.0,911.5L1508.7,917.0L1512.8,922.0L1516.4,929.0L1518.6,936.0L1519.2,945.0L1518.5,953.0L1516.3,960.0L1512.5,967.0L1508.0,972.4L1502.0,977.3L1496.0,980.5L1488.0,983.1M1991.0,983.8L1984.0,982.1L1977.0,978.9L1971.4,975.0L1966.5,970.0L1963.1,965.0L1959.9,958.0L1958.4,952.0L1958.0,945.0L1958.8,937.0L1960.4,931.0L1963.0,925.6L1967.0,919.9L1972.0,915.0L1977.0,911.5L1985.0,908.1L1991.0,906.7M1377.0,908.8L1382.0,911.8L1386.0,915.1L1389.4,919.0L1392.6,924.0L1395.2,930.0L1396.6,935.0L1397.6,947.0L1396.4,957.0L1394.5,963.0L1392.0,967.9L1386.0,975.5L1381.0,979.7L1377.0,982.0M1880.9,1025.0L1885.2,1019.0L1886.2,1016.0L1884.1,1013.0L1883.0,1012.7L1882.3,1017.0L1881.1,1020.0L1879.0,1022.7L1876.0,1025.0L1879.0,1025.9L1880.9,1025.0M1917.0,1113.0L1908.0,1107.7L1897.5,1099.0L1888.8,1089.0L1881.0,1076.6L1875.0,1069.7L1872.0,1069.0L1863.0,1075.7L1852.0,1087.2L1840.0,1095.6L1831.0,1100.2L1824.0,1102.8L1816.0,1104.6L1808.0,1105.3L1800.0,1104.9L1792.0,1103.4L1785.0,1101.1L1776.1,1097.0L1770.0,1093.4L1763.0,1088.4L1751.0,1077.0L1744.0,1072.4L1743.0,1071.9L1741.0,1072.1L1740.0,1072.4L1733.0,1079.3L1725.6,1090.0L1717.0,1099.2L1705.6,1108.0L1696.3,1113.0M1519.7,1113.0L1513.0,1109.5L1503.0,1103.0L1494.0,1095.1L1485.0,1084.5L1478.0,1079.0L1475.0,1078.7L1467.0,1084.4L1458.0,1094.5L1449.0,1102.2L1438.0,1109.1L1429.4,1113.0M1649.7,1113.0L1636.0,1105.8L1627.0,1099.0L1618.0,1090.3L1610.0,1085.5L1608.0,1085.3L1606.0,1085.7L1599.0,1089.9L1589.4,1099.0L1581.0,1105.4L1566.9,1113.0M1991.0,1093.3L1986.5,1099.0L1981.0,1104.5L1975.0,1109.0L1968.0,1113.0M1388.6,1113.0L1383.0,1110.6L1377.0,1107.3M1377.0,787.0L1382.0,783.6L1388.0,780.6L1394.0,778.4L1400.4,777.0M1417.6,777.0L1424.0,778.4L1430.0,780.6L1439.0,785.5L1448.0,792.5L1456.3,802.0L1459.8,808.0L1463.0,815.0L1465.6,824.0L1466.0,829.0L1465.8,834.0L1464.8,839.0L1463.1,844.0L1456.9,856.0L1453.1,861.0L1448.2,866.0L1443.0,870.4L1437.0,874.4L1426.0,879.6L1418.0,881.6L1410.0,882.5L1399.0,882.2L1393.0,880.9L1387.0,878.7L1382.0,876.0L1377.0,872.5M1687.9,777.0L1697.0,780.5L1705.0,785.4L1713.8,793.0L1721.0,801.9L1725.3,810.0L1728.9,821.0L1730.1,831.0L1729.4,839.0L1726.9,847.0L1721.0,858.0L1716.0,864.1L1708.0,870.8L1696.0,877.7L1687.0,881.0L1679.0,882.5L1667.0,882.9L1658.0,882.0L1652.0,880.4L1643.0,876.2L1637.0,871.7L1632.5,867.0L1627.8,861.0L1621.5,851.0L1617.4,842.0L1615.8,834.0L1615.7,826.0L1617.5,817.0L1620.5,810.0L1627.3,799.0L1633.0,792.6L1642.0,785.2L1650.0,780.5L1659.1,777.0M1991.0,845.8L1985.4,856.0L1981.4,861.0L1977.0,865.3L1972.0,869.3L1967.0,872.5L1960.0,875.8L1954.0,877.7L1946.0,879.3L1939.0,879.9L1933.0,879.6L1925.0,878.3L1919.0,876.5L1913.0,873.7L1908.0,870.5L1904.0,867.0L1897.9,860.0L1894.4,855.0L1891.7,850.0L1888.6,842.0L1887.2,837.0L1886.6,832.0L1886.7,825.0L1887.3,820.0L1889.5,812.0L1891.9,806.0L1895.3,800.0L1899.8,794.0L1904.5,789.0L1911.0,783.6L1916.0,780.3L1922.9,777.0M1962.1,777.0L1971.0,781.5L1979.0,788.0L1986.5,797.0L1991.0,805.5M1551.0,886.1L1541.0,885.7L1529.0,883.4L1518.6,879.0L1510.0,873.5L1504.0,868.0L1498.7,862.0L1495.1,857.0L1489.3,845.0L1487.2,837.0L1486.9,828.0L1488.7,820.0L1493.7,809.0L1499.0,801.3L1507.4,793.0L1517.0,786.5L1526.0,782.4L1534.0,780.3L1544.0,779.4L1554.0,780.5L1564.0,783.7L1576.0,790.3L1584.2,797.0L1590.9,805.0L1597.7,816.0L1600.8,826.0L1601.2,837.0L1599.5,845.0L1597.1,851.0L1593.0,859.1L1586.0,869.1L1579.0,876.2L1570.0,881.7L1562.0,884.5L1551.0,886.1M1817.0,1098.0L1810.0,1098.9L1802.0,1098.8L1795.0,1097.7L1788.0,1095.6L1780.0,1091.7L1773.0,1087.3L1765.7,1081.0L1760.6,1075.0L1752.8,1061.0L1749.8,1051.0L1749.0,1041.0L1750.5,1032.0L1751.4,1020.0L1750.8,1016.0L1749.2,1012.0L1746.0,1008.2L1727.0,992.9L1719.0,984.1L1714.6,978.0L1710.1,970.0L1706.8,962.0L1704.8,954.0L1703.9,945.0L1704.4,934.0L1705.9,926.0L1709.0,917.0L1713.7,908.0L1721.0,898.2L1727.0,891.8L1747.5,876.0L1750.6,872.0L1752.2,868.0L1752.7,864.0L1751.4,852.0L1749.7,844.0L1750.3,833.0L1752.8,824.0L1759.4,811.0L1763.1,806.0L1767.0,801.7L1773.0,796.5L1779.0,792.5L1785.0,789.3L1792.0,786.6L1797.0,785.3L1805.0,784.3L1812.0,784.4L1818.0,785.3L1823.0,786.6L1830.0,789.3L1837.0,793.1L1842.6,797.0L1848.2,802.0L1852.7,807.0L1857.0,813.6L1860.9,822.0L1863.2,830.0L1864.0,836.0L1863.0,848.0L1856.4,872.0L1856.6,878.0L1858.0,880.0L1863.0,882.2L1887.0,886.4L1894.0,888.6L1900.8,892.0L1907.4,897.0L1911.0,900.6L1915.2,906.0L1920.5,915.0L1925.5,928.0L1926.6,934.0L1927.0,940.0L1925.9,953.0L1922.3,964.0L1915.6,976.0L1912.0,980.4L1907.0,985.2L1899.0,991.1L1889.0,995.3L1882.0,997.3L1862.0,1000.4L1856.5,1003.0L1855.2,1005.0L1855.3,1011.0L1861.2,1031.0L1863.1,1044.0L1862.5,1052.0L1861.2,1058.0L1859.4,1063.0L1856.7,1069.0L1853.0,1075.0L1848.9,1080.0L1843.0,1085.5L1837.0,1089.8L1830.0,1093.7L1823.0,1096.5L1817.0,1098.0M1636.0,1003.2L1620.0,1003.5L1609.0,1002.2L1599.0,1000.3L1590.0,996.9L1583.7,993.0L1576.2,986.0L1569.9,977.0L1566.0,969.0L1563.2,959.0L1562.1,949.0L1562.4,937.0L1563.4,931.0L1565.6,923.0L1569.9,914.0L1577.0,904.0L1581.0,900.2L1586.0,896.6L1593.0,893.0L1601.0,890.7L1613.0,889.0L1627.0,889.7L1635.0,891.8L1644.0,896.5L1648.0,899.6L1652.3,904.0L1660.0,914.0L1665.0,923.7L1668.2,935.0L1669.0,947.0L1668.4,956.0L1665.9,966.0L1658.5,981.0L1651.0,991.0L1648.0,996.1L1643.7,1000.0L1636.0,1003.2M1484.0,980.1L1477.0,980.1L1470.0,978.7L1463.6,976.0L1458.0,972.3L1453.0,967.3L1449.0,961.3L1446.4,955.0L1445.1,948.0L1445.1,941.0L1446.5,934.0L1449.0,927.8L1452.8,922.0L1458.0,916.8L1463.7,913.0L1470.0,910.3L1477.0,908.9L1484.0,908.9L1491.0,910.3L1497.0,912.8L1503.0,916.8L1508.2,922.0L1512.1,928.0L1514.6,934.0L1515.9,941.0L1515.9,948.0L1514.5,955.0L1512.1,961.0L1508.2,967.0L1503.0,972.2L1497.3,976.0L1491.0,978.6L1484.0,980.1M1991.0,980.1L1985.0,978.4L1980.0,976.0L1975.0,972.5L1970.5,968.0L1966.9,963.0L1963.8,956.0L1962.8,952.0L1962.1,945.0L1962.5,940.0L1963.8,934.0L1966.4,928.0L1970.0,922.6L1974.0,918.4L1979.0,914.7L1985.0,911.7L1991.0,910.0M1377.0,913.4L1384.6,919.0L1390.2,926.0L1394.1,935.0L1395.5,945.0L1395.2,950.0L1394.2,955.0L1390.3,964.0L1384.7,971.0L1377.0,976.7M1680.0,1111.0L1671.0,1111.5L1662.0,1110.4L1653.0,1107.6L1642.0,1101.8L1633.3,1095.0L1627.7,1089.0L1620.3,1078.0L1616.3,1069.0L1614.8,1062.0L1614.4,1054.0L1615.4,1048.0L1618.1,1040.0L1628.0,1022.0L1637.0,1009.6L1641.0,1006.1L1647.0,1003.1L1652.0,1002.4L1657.0,1002.9L1665.0,1002.5L1671.0,1002.8L1685.0,1004.9L1697.0,1009.5L1708.0,1016.2L1717.0,1024.2L1723.0,1032.9L1726.1,1039.0L1728.2,1045.0L1729.4,1054.0L1728.4,1065.0L1724.5,1077.0L1719.0,1086.5L1711.0,1095.7L1701.0,1103.5L1691.0,1108.4L1680.0,1111.0M1377.0,1013.6L1383.0,1009.5L1389.0,1006.7L1396.0,1004.6L1403.0,1003.7L1410.0,1003.9L1420.0,1005.4L1427.0,1007.4L1434.0,1010.4L1442.0,1015.5L1447.0,1019.6L1453.0,1025.8L1457.0,1031.0L1460.4,1037.0L1464.1,1046.0L1465.6,1052.0L1466.0,1058.0L1465.3,1065.0L1463.5,1071.0L1459.3,1080.0L1455.4,1086.0L1451.2,1091.0L1445.0,1096.8L1440.0,1100.5L1431.0,1105.6L1423.0,1108.5L1417.0,1109.8L1409.0,1110.4L1402.0,1109.9L1395.0,1108.5L1389.0,1106.5L1383.0,1103.6L1377.0,1099.6M1551.0,1111.0L1540.0,1111.6L1529.0,1109.7L1519.0,1105.7L1508.7,1099.0L1500.2,1091.0L1494.4,1083.0L1488.9,1071.0L1487.5,1066.0L1486.8,1061.0L1487.0,1055.0L1487.9,1050.0L1492.3,1039.0L1497.8,1030.0L1506.0,1021.2L1514.0,1015.0L1525.0,1009.3L1534.0,1006.7L1544.0,1005.1L1553.0,1005.2L1564.0,1007.2L1573.3,1011.0L1580.0,1015.5L1587.0,1022.8L1596.4,1037.0L1600.2,1046.0L1601.8,1054.0L1601.5,1062.0L1599.3,1071.0L1595.5,1079.0L1587.0,1091.0L1579.0,1098.5L1571.0,1103.9L1561.0,1108.6L1551.0,1111.0M1991.0,1080.1L1987.6,1087.0L1981.7,1095.0L1975.0,1101.3L1967.0,1106.5L1960.0,1109.6L1951.0,1111.8L1942.0,1112.6L1932.0,1111.5L1923.0,1108.8L1915.0,1104.8L1908.0,1099.6L1900.2,1092.0L1894.4,1084.0L1890.5,1076.0L1887.6,1065.0L1886.9,1058.0L1887.5,1050.0L1889.3,1043.0L1893.5,1033.0L1898.9,1025.0L1907.0,1017.1L1912.0,1013.5L1920.0,1009.6L1930.0,1006.8L1939.0,1006.0L1951.0,1007.1L1959.0,1009.2L1967.5,1013.0L1975.0,1018.1L1980.8,1024.0L1986.3,1031.0L1991.0,1039.9M1947.0,874.0L1937.0,874.5L1928.0,872.9L1920.0,869.9L1911.0,864.3L1903.6,857.0L1898.8,850.0L1895.1,841.0L1893.3,832.0L1893.2,822.0L1895.0,813.0L1898.9,804.0L1904.3,796.0L1912.0,788.5L1920.0,783.2L1929.0,779.5L1939.0,777.8L1950.0,778.2L1959.0,780.5L1967.0,784.3L1974.0,789.4L1980.3,796.0L1985.4,804.0L1988.6,812.0L1990.5,822.0L1990.4,830.0L1988.4,840.0L1984.6,849.0L1979.8,856.0L1973.0,862.8L1966.0,867.7L1957.0,871.7L1947.0,874.0M1675.0,877.0L1666.0,876.5L1655.0,873.9L1646.0,869.4L1639.2,864.0L1632.8,857.0L1628.1,849.0L1624.5,839.0L1623.2,829.0L1624.0,820.0L1627.2,810.0L1631.7,802.0L1637.5,795.0L1644.0,789.4L1654.0,783.5L1663.0,780.6L1672.0,779.4L1682.0,780.2L1690.0,782.3L1700.0,787.4L1708.0,793.8L1714.0,800.8L1718.9,809.0L1722.0,818.0L1723.1,827.0L1722.5,837.0L1720.0,846.0L1715.9,854.0L1710.0,861.3L1703.0,867.1L1693.0,872.8L1684.0,875.7L1675.0,877.0M1377.0,792.8L1383.0,788.3L1388.0,785.5L1393.0,783.4L1401.0,781.4L1409.0,780.7L1416.0,781.2L1422.0,782.5L1428.0,784.6L1435.0,788.3L1441.0,792.6L1445.7,797.0L1450.6,803.0L1454.3,809.0L1456.8,815.0L1458.5,822.0L1459.2,829.0L1458.7,836.0L1457.0,843.0L1454.7,849.0L1451.2,855.0L1446.4,861.0L1442.0,865.2L1436.0,869.7L1429.0,873.6L1421.0,876.4L1415.0,877.5L1402.0,877.5L1394.0,875.8L1389.0,873.9L1383.0,870.6L1377.0,865.9M1554.0,880.1L1545.0,880.9L1535.0,879.7L1528.0,877.7L1519.0,873.5L1510.0,866.9L1503.0,859.3L1498.0,851.0L1494.8,842.0L1493.6,833.0L1494.3,824.0L1497.0,815.0L1501.0,807.4L1506.9,800.0L1513.0,794.5L1523.0,788.4L1532.0,785.3L1541.0,784.0L1551.0,784.5L1561.0,787.3L1571.0,792.5L1579.0,799.0L1585.0,806.0L1589.5,814.0L1592.6,823.0L1593.6,831.0L1592.8,841.0L1589.3,852.0L1585.0,859.9L1579.0,867.0L1572.0,872.6L1563.0,877.5L1554.0,880.1M1813.0,1094.2L1808.0,1094.6L1802.0,1094.3L1796.0,1093.3L1788.0,1090.7L1780.0,1086.5L1775.0,1082.9L1769.0,1077.1L1765.0,1072.0L1762.1,1067.0L1759.1,1060.0L1757.4,1054.0L1756.5,1047.0L1756.8,1037.0L1761.4,1014.0L1761.3,1012.0L1759.7,1008.0L1758.0,1005.8L1752.0,1001.6L1744.0,997.5L1734.0,991.0L1729.0,986.6L1723.8,981.0L1717.5,972.0L1713.5,964.0L1710.7,955.0L1709.3,944.0L1710.1,933.0L1712.7,923.0L1716.7,914.0L1723.0,904.7L1728.0,899.1L1735.0,893.0L1746.0,886.4L1753.3,883.0L1760.0,878.6L1761.8,876.0L1763.1,871.0L1757.7,848.0L1757.1,838.0L1757.8,831.0L1759.2,825.0L1761.9,818.0L1764.6,813.0L1768.1,808.0L1772.8,803.0L1777.0,799.4L1783.0,795.4L1789.0,792.4L1795.0,790.4L1800.0,789.3L1807.0,788.7L1816.0,789.5L1824.0,791.6L1832.0,795.4L1839.0,800.2L1845.9,807.0L1850.4,813.0L1853.9,820.0L1856.2,828.0L1857.3,835.0L1857.2,842.0L1856.3,849.0L1854.1,856.0L1848.0,869.1L1840.0,880.5L1829.4,894.0L1829.0,896.2L1831.0,896.7L1857.0,891.5L1866.0,890.7L1881.0,891.7L1887.0,893.2L1894.0,896.0L1899.2,899.0L1905.7,904.0L1910.0,908.4L1914.0,914.0L1917.0,919.8L1919.7,927.0L1921.1,933.0L1921.8,941.0L1921.5,947.0L1919.7,956.0L1916.9,963.0L1913.8,969.0L1910.0,974.3L1905.4,979.0L1899.0,983.9L1894.0,986.8L1887.0,989.5L1882.0,990.9L1875.0,991.8L1867.0,992.1L1858.0,991.5L1832.0,986.7L1830.0,987.1L1829.5,988.0L1830.0,990.2L1846.0,1012.2L1849.0,1017.3L1852.5,1025.0L1855.0,1032.0L1856.2,1038.0L1856.7,1045.0L1856.1,1052.0L1854.4,1060.0L1851.6,1067.0L1847.2,1074.0L1841.9,1080.0L1835.0,1085.6L1828.0,1089.7L1821.0,1092.5L1813.0,1094.2M1626.0,995.0L1615.0,995.9L1607.0,995.3L1597.0,992.4L1589.0,988.2L1581.0,981.9L1575.0,974.8L1570.4,966.0L1567.4,956.0L1566.5,946.0L1567.2,936.0L1570.0,926.0L1574.0,917.8L1580.0,910.1L1587.0,904.2L1596.0,899.2L1605.0,896.4L1614.0,895.4L1624.0,896.3L1632.0,898.6L1641.0,903.1L1648.2,909.0L1655.0,917.0L1659.0,924.3L1662.3,934.0L1663.5,944.0L1663.0,954.0L1660.4,964.0L1656.6,972.0L1649.1,982.0L1643.0,987.6L1634.0,992.5L1626.0,995.0M1481.0,979.0L1474.0,978.4L1468.0,976.7L1462.0,973.6L1456.2,969.0L1452.0,964.0L1448.8,958.0L1446.9,952.0L1446.1,945.0L1446.7,938.0L1448.4,932.0L1451.4,926.0L1456.0,920.2L1461.0,916.0L1467.0,912.8L1473.0,910.8L1480.0,910.0L1487.0,910.6L1493.0,912.3L1499.0,915.4L1504.7,920.0L1508.9,925.0L1512.2,931.0L1514.1,937.0L1514.8,944.0L1514.2,951.0L1512.5,957.0L1509.5,963.0L1505.0,968.7L1500.0,972.9L1494.0,976.2L1488.0,978.2L1481.0,979.0M1991.0,978.8L1985.0,977.0L1980.0,974.5L1975.1,971.0L1971.3,967.0L1967.8,962.0L1965.5,957.0L1963.9,951.0L1963.4,945.0L1963.9,939.0L1965.5,933.0L1967.8,928.0L1971.3,923.0L1975.2,919.0L1980.0,915.5L1985.1,913.0L1991.0,911.2M1377.0,914.8L1384.0,920.1L1387.4,924.0L1390.0,928.0L1393.2,936.0L1394.3,945.0L1393.2,954.0L1389.5,963.0L1384.0,970.0L1377.0,975.2M1377.0,1020.4L1382.0,1016.4L1388.0,1012.9L1394.0,1010.6L1400.0,1009.2L1407.0,1008.6L1416.0,1009.2L1422.0,1010.5L1428.0,1012.6L1434.0,1015.7L1441.0,1020.6L1445.7,1025.0L1450.6,1031.0L1454.3,1037.0L1456.8,1043.0L1458.6,1050.0L1459.2,1057.0L1458.7,1064.0L1457.0,1071.0L1454.6,1077.0L1451.1,1083.0L1446.3,1089.0L1442.0,1093.2L1436.0,1097.7L1429.0,1101.6L1421.0,1104.4L1415.0,1105.5L1408.0,1105.8L1402.0,1105.4L1394.0,1103.5L1389.0,1101.6L1382.0,1097.7L1377.0,1093.8M1682.0,1106.2L1671.0,1107.0L1661.0,1105.6L1653.0,1102.7L1644.0,1097.6L1636.4,1091.0L1631.0,1084.5L1626.8,1077.0L1623.6,1068.0L1622.6,1060.0L1623.0,1051.0L1626.0,1040.6L1629.6,1033.0L1636.0,1024.4L1642.0,1018.6L1650.0,1013.6L1658.0,1010.6L1670.0,1009.3L1678.0,1009.6L1687.0,1011.6L1696.0,1015.4L1705.9,1022.0L1712.8,1029.0L1717.8,1037.0L1721.2,1046.0L1722.5,1055.0L1722.1,1065.0L1719.8,1074.0L1715.3,1083.0L1709.0,1091.1L1700.0,1098.8L1691.0,1103.6L1682.0,1106.2M1546.0,1107.0L1536.0,1106.6L1527.0,1104.3L1519.0,1100.6L1509.0,1093.1L1502.0,1085.0L1497.4,1077.0L1494.6,1068.0L1493.6,1059.0L1494.6,1050.0L1497.5,1041.0L1502.0,1033.0L1509.0,1025.0L1519.0,1017.6L1528.0,1013.4L1536.0,1011.2L1546.0,1010.2L1555.0,1011.2L1564.0,1014.0L1573.0,1019.0L1580.0,1025.0L1585.7,1032.0L1589.8,1040.0L1593.0,1050.0L1593.8,1059.0L1592.7,1068.0L1589.5,1077.0L1585.7,1084.0L1580.0,1091.0L1572.0,1097.9L1564.0,1102.5L1556.0,1105.5L1546.0,1107.0M1952.0,1107.1L1944.0,1108.0L1935.0,1107.5L1927.0,1105.5L1917.0,1100.7L1908.5,1094.0L1902.3,1087.0L1897.6,1079.0L1894.3,1070.0L1893.1,1061.0L1893.8,1051.0L1896.0,1042.4L1900.1,1034.0L1906.0,1026.3L1912.0,1020.9L1921.0,1015.5L1930.0,1012.4L1940.0,1011.3L1950.0,1012.2L1958.0,1014.3L1967.0,1018.5L1975.0,1024.6L1981.6,1032.0L1986.7,1041.0L1989.5,1050.0L1990.6,1060.0L1989.7,1069.0L1987.5,1077.0L1983.6,1085.0L1977.5,1093.0L1970.0,1099.4L1961.0,1104.4L1952.0,1107.1M1944.0,871.0L1935.0,870.7L1926.0,868.4L1919.0,865.0L1911.0,859.1L1904.8,852.0L1900.4,844.0L1897.8,836.0L1896.7,827.0L1897.5,818.0L1899.8,810.0L1903.9,802.0L1909.5,795.0L1916.0,789.3L1924.0,784.7L1932.0,781.9L1941.0,780.7L1950.0,781.3L1958.0,783.5L1966.0,787.3L1973.0,792.6L1978.7,799.0L1983.4,807.0L1986.2,815.0L1987.5,824.0L1986.9,833.0L1984.8,841.0L1981.0,849.0L1975.8,856.0L1969.0,862.1L1961.0,866.7L1952.0,869.9L1944.0,871.0M1677.0,873.1L1668.0,873.0L1659.0,871.1L1650.0,867.0L1643.0,862.0L1637.0,855.7L1632.2,848.0L1629.1,840.0L1627.6,831.0L1627.9,822.0L1630.0,813.1L1633.9,805.0L1639.0,798.2L1645.0,792.5L1653.0,787.4L1661.0,784.3L1670.0,782.6L1679.0,782.8L1688.0,784.9L1696.0,788.5L1703.0,793.5L1709.0,799.5L1714.0,807.0L1717.4,815.0L1719.2,824.0L1719.1,833.0L1717.1,842.0L1713.6,850.0L1708.6,857.0L1702.0,863.2L1694.0,868.2L1686.0,871.4L1677.0,873.1M1377.0,797.0L1382.0,792.7L1387.9,789.0L1394.0,786.3L1400.0,784.7L1406.0,783.9L1413.0,784.0L1420.0,785.1L1426.0,787.1L1432.0,790.0L1438.0,794.2L1443.0,798.8L1447.2,804.0L1450.8,810.0L1453.2,816.0L1454.7,822.0L1455.3,829.0L1454.8,836.0L1453.5,842.0L1451.1,848.0L1447.7,854.0L1443.8,859.0L1439.0,863.7L1433.0,868.0L1427.0,871.1L1420.0,873.5L1413.0,874.6L1406.0,874.7L1400.0,873.9L1394.0,872.3L1388.0,869.7L1382.0,865.9L1377.0,861.6M1550.0,877.1L1541.0,877.3L1532.0,875.7L1524.0,872.7L1516.0,867.8L1509.0,861.5L1503.5,854.0L1499.8,846.0L1497.9,838.0L1497.6,829.0L1498.9,821.0L1501.9,813.0L1506.9,805.0L1513.0,798.5L1520.9,793.0L1529.0,789.3L1537.0,787.4L1546.0,787.1L1554.0,788.3L1562.0,791.1L1571.0,796.3L1578.0,802.8L1583.0,809.5L1586.7,817.0L1588.9,826.0L1589.3,834.0L1588.1,843.0L1584.8,852.0L1580.6,859.0L1574.2,866.0L1567.0,871.2L1559.0,875.0L1550.0,877.1M1813.0,1091.1L1807.0,1091.5L1801.0,1091.1L1795.0,1089.9L1789.0,1087.8L1783.0,1084.6L1777.8,1081.0L1773.0,1076.5L1768.6,1071.0L1765.2,1065.0L1762.4,1058.0L1761.0,1051.0L1760.5,1044.0L1761.2,1037.0L1763.0,1029.4L1771.2,1008.0L1770.3,1005.0L1769.4,1003.0L1764.0,1000.3L1749.0,994.7L1740.0,990.0L1734.0,985.9L1728.0,980.2L1721.1,971.0L1716.9,963.0L1714.1,954.0L1712.8,943.0L1713.9,932.0L1716.8,922.0L1721.6,913.0L1728.5,904.0L1735.0,898.1L1742.0,893.6L1751.0,889.4L1766.0,884.6L1772.0,882.1L1773.2,880.0L1773.9,877.0L1764.4,856.0L1762.2,848.0L1761.3,842.0L1761.3,835.0L1762.4,828.0L1765.0,820.1L1768.1,814.0L1775.3,805.0L1780.0,801.1L1785.0,797.8L1790.0,795.3L1796.0,793.3L1807.0,791.8L1816.0,792.6L1825.0,795.3L1833.0,799.7L1839.6,805.0L1845.5,812.0L1849.5,819.0L1852.2,827.0L1853.4,836.0L1852.8,845.0L1851.0,852.4L1847.2,861.0L1842.0,868.8L1837.0,874.2L1828.1,881.0L1818.0,886.3L1811.7,889.0L1808.6,892.0L1808.2,895.0L1809.8,900.0L1812.5,904.0L1818.0,910.1L1823.0,912.7L1825.0,913.0L1830.0,911.8L1845.0,902.1L1852.0,898.8L1859.0,896.6L1866.0,895.4L1874.0,895.1L1881.0,895.9L1888.0,897.8L1895.0,901.0L1901.0,905.0L1906.0,909.5L1910.0,914.4L1913.4,920.0L1916.2,927.0L1917.9,934.0L1918.5,941.0L1918.0,948.0L1916.5,955.0L1913.8,962.0L1910.3,968.0L1906.0,973.4L1901.0,977.9L1895.0,981.9L1889.0,984.7L1882.0,986.7L1875.0,987.7L1868.0,987.7L1860.0,986.6L1853.0,984.5L1844.0,980.5L1831.0,972.2L1825.0,970.8L1818.6,974.0L1813.0,980.8L1811.7,983.0L1810.1,989.0L1810.6,991.0L1814.3,995.0L1829.0,1003.1L1836.0,1008.8L1842.0,1015.3L1846.9,1023.0L1850.0,1030.0L1852.1,1038.0L1852.8,1046.0L1851.8,1055.0L1849.8,1062.0L1846.4,1069.0L1841.2,1076.0L1835.0,1081.8L1828.0,1086.2L1821.0,1089.2L1813.0,1091.1M1622.0,991.1L1613.0,991.7L1604.0,990.4L1596.0,987.6L1588.0,982.8L1581.4,977.0L1576.2,970.0L1572.4,962.0L1570.1,953.0L1569.6,944.0L1570.9,934.0L1574.0,925.2L1578.2,918.0L1584.0,911.4L1591.0,906.2L1599.0,902.3L1608.0,900.0L1617.0,899.5L1625.0,900.7L1634.0,903.9L1641.1,908.0L1647.8,914.0L1653.1,921.0L1657.1,929.0L1659.4,938.0L1660.0,948.0L1658.9,956.0L1656.0,964.9L1652.0,972.1L1646.1,979.0L1639.0,984.8L1631.0,988.7L1622.0,991.1M1487.0,977.3L1481.0,977.9L1474.0,977.3L1468.0,975.5L1462.0,972.4L1457.0,968.3L1452.6,963.0L1449.5,957.0L1447.5,950.0L1447.2,944.0L1447.7,938.0L1449.5,932.0L1452.7,926.0L1457.0,920.7L1462.0,916.7L1468.0,913.5L1475.0,911.5L1481.0,911.1L1487.0,911.7L1493.0,913.5L1500.0,917.4L1505.0,922.0L1509.5,928.0L1511.4,932.0L1513.4,939.0L1513.7,947.0L1512.7,953.0L1510.5,959.0L1507.5,964.0L1504.0,968.1L1499.0,972.2L1493.0,975.5L1487.0,977.3M1991.0,977.7L1987.0,976.6L1982.0,974.4L1976.0,970.2L1972.8,967.0L1968.6,961.0L1966.3,956.0L1965.2,952.0L1964.5,945.0L1965.3,938.0L1966.4,934.0L1968.6,929.0L1972.8,923.0L1978.0,918.2L1982.0,915.7L1991.0,912.3M1377.0,916.2L1384.0,921.7L1389.3,929.0L1392.4,937.0L1393.3,945.0L1392.4,953.0L1389.3,961.0L1384.0,968.3L1377.0,973.9M1377.0,1025.0L1382.0,1020.5L1387.0,1017.2L1393.0,1014.5L1399.0,1012.8L1405.0,1011.9L1413.0,1012.0L1420.0,1013.1L1426.0,1015.1L1432.0,1018.0L1438.0,1022.2L1443.0,1026.8L1447.2,1032.0L1450.8,1038.0L1453.2,1044.0L1454.7,1050.0L1455.3,1057.0L1454.8,1064.0L1453.5,1070.0L1451.1,1076.0L1447.7,1082.0L1443.8,1087.0L1439.0,1091.6L1433.0,1096.0L1427.0,1099.1L1420.0,1101.5L1413.0,1102.6L1406.0,1102.7L1400.0,1101.9L1394.0,1100.3L1388.0,1097.7L1382.0,1093.9L1377.0,1089.6M1546.0,1104.0L1537.0,1103.7L1529.0,1101.8L1520.7,1098.0L1512.4,1092.0L1506.1,1085.0L1501.4,1077.0L1498.6,1069.0L1497.5,1060.0L1498.2,1051.0L1500.6,1043.0L1504.8,1035.0L1510.5,1028.0L1518.0,1021.9L1526.0,1017.6L1535.0,1014.7L1544.0,1013.7L1553.0,1014.5L1561.0,1016.9L1569.0,1021.1L1576.0,1026.7L1581.3,1033.0L1585.7,1041.0L1588.3,1049.0L1589.3,1058.0L1588.6,1067.0L1586.3,1075.0L1582.1,1083.0L1577.0,1089.4L1570.0,1095.5L1562.1,1100.0L1554.0,1102.8L1546.0,1104.0M1673.0,1104.0L1664.0,1103.1L1656.0,1100.7L1648.0,1096.5L1641.0,1091.0L1634.9,1084.0L1630.5,1076.0L1627.9,1068.0L1627.0,1059.0L1627.7,1050.0L1630.4,1041.0L1634.7,1033.0L1640.0,1026.6L1647.0,1020.7L1655.0,1016.4L1663.0,1014.1L1672.0,1013.1L1681.0,1013.9L1690.0,1016.7L1698.0,1020.9L1705.0,1026.3L1710.8,1033.0L1715.3,1041.0L1717.8,1049.0L1718.8,1058.0L1718.0,1067.0L1715.6,1075.0L1711.4,1083.0L1705.7,1090.0L1698.0,1096.4L1690.0,1100.7L1682.0,1103.1L1673.0,1104.0M1951.0,1104.2L1943.0,1105.0L1934.0,1104.2L1926.0,1101.9L1918.0,1097.8L1910.9,1092.0L1904.8,1085.0L1900.4,1077.0L1897.8,1069.0L1896.8,1060.0L1897.6,1051.0L1899.9,1043.0L1904.0,1035.2L1909.0,1028.7L1915.6,1023.0L1924.0,1018.2L1932.0,1015.7L1941.0,1014.7L1950.0,1015.5L1959.0,1018.1L1967.0,1022.2L1974.1,1028.0L1979.9,1035.0L1983.8,1042.0L1986.6,1051.0L1987.5,1059.0L1986.8,1068.0L1984.2,1077.0L1979.9,1085.0L1974.1,1092.0L1967.0,1097.8L1959.0,1101.9L1951.0,1104.2" fill="none" stroke="#1d4d5e" stroke-width="1.05" stroke-opacity="0.8"/><circle cx="1480.4" cy="944.5" r="33" fill="none" stroke="#000" stroke-width="7.5"/><circle cx="1360.0" cy="945.0" r="33" fill="none" stroke="#000" stroke-width="7.5"/><circle cx="1998.0" cy="945.0" r="33" fill="none" stroke="#000" stroke-width="7.5"/></g><rect x="1712.3" y="792.4" width="198.0" height="306.1" rx="24" fill="none" stroke="#fff" stroke-width="6" stroke-dasharray="7 7.4"/>
<text transform="translate(1543.3,843.2) scale(1,1.05)" font-size="31" text-anchor="middle">O</text>
<text transform="translate(1673.5,838.7) scale(1,1.05)" font-size="31" text-anchor="middle">O</text>
<text transform="translate(1807.5,848.0) scale(1,1.05)" font-size="31" text-anchor="middle">O</text>
<text transform="translate(1942.5,836.9) scale(1,1.05)" font-size="31" text-anchor="middle">O</text>
<text transform="translate(1543.3,1070.3) scale(1,1.05)" font-size="31" text-anchor="middle">O</text>
<text transform="translate(1673.0,1070.2) scale(1,1.05)" font-size="31" text-anchor="middle">O</text>
<text transform="translate(1806.9,1057.7) scale(1,1.05)" font-size="31" text-anchor="middle">O</text>
<text transform="translate(1942.5,1071.2) scale(1,1.05)" font-size="31" text-anchor="middle">O</text>
<text transform="translate(1614.6,957.2) scale(1,1.05)" font-size="31" text-anchor="middle">O</text>
<text transform="translate(1766.2,953.6) scale(1,1.05)" font-size="31" text-anchor="middle">Bi</text>
<text transform="translate(1873.4,952.7) scale(1,1.05)" font-size="31" text-anchor="middle">O</text>
<text transform="translate(1480.4,955.7) scale(1,1.05)" font-size="31" text-anchor="middle">A</text>
<rect x="1376" y="1113.3" width="614.8" height="113.4" fill="#fff" stroke="#000" stroke-width="2.6"/>
<rect x="1434.6" y="1138.5" width="473" height="37.1" fill="url(#cbar)" stroke="#333" stroke-width="1"/>
<text transform="translate(1416.0,1177.3) scale(1,1.05)" font-size="38.5" text-anchor="middle">0</text>
<text transform="translate(1942.5,1177.3) scale(1,1.05)" font-size="38.5" text-anchor="middle">0.5</text>
<text transform="translate(1693,1215.4) scale(1,1.04)" font-size="38.5" text-anchor="middle">e/Bohr<tspan font-size="26" dy="-11">3</tspan></text>
<defs><clipPath id="hca0"><rect x="128.7" y="1342.7" width="338.2" height="338.2"/></clipPath></defs><g clip-path="url(#hca0)"><rect x="128.7" y="1342.7" width="338.2" height="338.2" fill="#690505"/><polygon points="253.0,1359.9 303.0,1358.1 303.0,1374.1 253.0,1377.7" fill="#790828"/><polygon points="358.4,1343.8 410.1,1343.8 410.1,1371.5 358.4,1371.5" fill="#790828"/><polygon points="245.9,1395.6 301.2,1392.0 301.2,1434.9 245.9,1433.1" fill="#790828"/><polygon points="358.4,1392.0 406.6,1392.0 406.6,1421.5 358.4,1421.5" fill="#790828"/><polygon points="163.7,1409.9 199.4,1409.9 199.4,1459.9 167.3,1472.4" fill="#790828"/><polygon points="142.3,1409.9 161.9,1411.6 161.9,1474.1 142.3,1474.1" fill="#790828"/><polygon points="128.0,1531.3 178.0,1520.6 190.5,1502.7 228.0,1502.7 228.0,1520.6 179.8,1542.0 178.0,1559.9 154.8,1561.6 128.0,1588.4" fill="#790828"/><polygon points="228.0,1520.6 288.7,1520.6 288.7,1556.3 261.9,1588.4 228.0,1599.1" fill="#790828"/><polygon points="403.0,1547.4 458.4,1547.4 458.4,1625.9 403.0,1625.9" fill="#790828"/><polygon points="306.6,1522.4 342.3,1522.4 342.3,1554.5 306.6,1570.6" fill="#790828"/><polygon points="213.7,1634.9 249.4,1634.9 249.4,1652.7 213.7,1652.7" fill="#790828"/><polygon points="331.6,1631.3 378.0,1629.5 360.1,1654.5 331.6,1654.5" fill="#790828"/><polygon points="410.1,1642.0 431.6,1642.0 431.6,1656.3 410.1,1656.3" fill="#790828"/><polygon points="192.3,1343.8 233.4,1343.8 233.4,1366.1 215.5,1366.1" fill="#a97b4b" stroke="#d8782e" stroke-width="0.9" stroke-opacity="0.8"/><polygon points="233.4,1343.8 260.1,1343.8 260.1,1359.9 254.8,1366.1 233.4,1366.1" fill="#f24331" stroke="#d8782e" stroke-width="0.9" stroke-opacity="0.8"/><polygon points="260.1,1343.8 299.4,1343.8 299.4,1359.0 260.1,1360.8" fill="#a97b4b" stroke="#d8782e" stroke-width="0.9" stroke-opacity="0.8"/><polygon points="299.4,1343.8 367.3,1343.8 358.4,1352.7 303.0,1355.4" fill="#f24331" stroke="#d8782e" stroke-width="0.9" stroke-opacity="0.8"/><polygon points="128.0,1359.9 161.9,1359.0 161.9,1367.9 142.3,1371.5 128.0,1374.1" fill="#f24331" stroke="#d8782e" stroke-width="0.9" stroke-opacity="0.8"/><polygon points="161.9,1359.9 174.4,1359.9 178.0,1367.0 161.9,1367.9" fill="#a97b4b" stroke="#d8782e" stroke-width="0.9" stroke-opacity="0.8"/><polygon points="440.5,1368.8 468.0,1359.9 468.0,1379.5 456.6,1384.9 454.8,1404.5 440.5,1403.6" fill="#f24331" stroke="#d8782e" stroke-width="0.9" stroke-opacity="0.8"/><polygon points="454.8,1386.6 468.0,1379.5 468.0,1417.0 454.8,1404.5" fill="#a97b4b" stroke="#d8782e" stroke-width="0.9" stroke-opacity="0.8"/><polygon points="128.0,1384.9 161.9,1383.1 161.9,1409.9 145.9,1413.4 128.0,1417.0" fill="#f24331" stroke="#d8782e" stroke-width="0.9" stroke-opacity="0.8"/><polygon points="161.9,1379.5 179.8,1379.5 185.1,1395.6 197.6,1409.9 161.9,1409.9" fill="#a97b4b" stroke="#d8782e" stroke-width="0.9" stroke-opacity="0.8"/><polygon points="185.1,1384.0 217.3,1384.0 217.3,1395.6 186.9,1395.6" fill="#f24331" stroke="#d8782e" stroke-width="0.9" stroke-opacity="0.8"/><polygon points="217.3,1380.4 233.4,1380.4 233.4,1395.6 220.9,1395.6" fill="#a97b4b" stroke="#d8782e" stroke-width="0.9" stroke-opacity="0.8"/><polygon points="233.4,1379.5 253.0,1379.5 253.0,1394.7 233.4,1395.6" fill="#f24331" stroke="#d8782e" stroke-width="0.9" stroke-opacity="0.8"/><polygon points="254.8,1378.6 302.1,1375.0 302.1,1391.1 254.8,1392.9" fill="#a97b4b" stroke="#d8782e" stroke-width="0.9" stroke-opacity="0.8"/><polygon points="303.0,1373.2 358.4,1373.2 358.4,1390.2 303.0,1392.9" fill="#f24331" stroke="#d8782e" stroke-width="0.9" stroke-opacity="0.8"/><polygon points="358.4,1372.4 410.1,1372.4 410.1,1390.2 358.4,1390.2" fill="#a97b4b" stroke="#d8782e" stroke-width="0.9" stroke-opacity="0.8"/><polygon points="410.1,1372.4 429.8,1371.5 431.6,1394.7 410.1,1393.8" fill="#f24331" stroke="#d8782e" stroke-width="0.9" stroke-opacity="0.8"/><polygon points="429.8,1368.8 440.5,1367.0 440.5,1395.6 431.6,1395.6" fill="#a97b4b" stroke="#d8782e" stroke-width="0.9" stroke-opacity="0.8"/><polygon points="222.6,1416.1 247.6,1416.1 245.9,1420.6 228.0,1421.5" fill="#a97b4b" stroke="#d8782e" stroke-width="0.9" stroke-opacity="0.8"/><polygon points="233.4,1435.8 245.9,1435.8 245.9,1442.0 233.4,1441.1" fill="#f24331" stroke="#d8782e" stroke-width="0.9" stroke-opacity="0.8"/><polygon points="245.9,1433.1 303.0,1434.9 304.8,1442.0 245.9,1442.9" fill="#a97b4b" stroke="#d8782e" stroke-width="0.9" stroke-opacity="0.8"/><polygon points="358.4,1421.5 406.6,1422.4 410.1,1429.5 424.4,1449.1 458.4,1474.1 458.4,1502.7 420.9,1502.7 420.9,1481.3 401.2,1477.7 395.9,1449.1 381.6,1436.6 367.3,1433.1" fill="#a97b4b" stroke="#d8782e" stroke-width="0.9" stroke-opacity="0.8"/><polygon points="411.9,1427.7 429.8,1429.5 413.7,1446.5" fill="#f24331" stroke="#d8782e" stroke-width="0.9" stroke-opacity="0.8"/><polygon points="197.6,1457.2 249.4,1456.3 249.4,1472.4 229.8,1481.3 199.4,1483.1" fill="#f24331" stroke="#d8782e" stroke-width="0.9" stroke-opacity="0.8"/><polygon points="249.4,1454.5 306.6,1452.7 306.6,1488.4 265.5,1487.5 249.4,1474.1" fill="#a97b4b" stroke="#d8782e" stroke-width="0.9" stroke-opacity="0.8"/><polygon points="306.6,1452.7 367.3,1452.7 367.3,1490.2 306.6,1489.3" fill="#f24331" stroke="#d8782e" stroke-width="0.9" stroke-opacity="0.8"/><polygon points="367.3,1452.7 378.0,1452.7 378.0,1472.4 367.3,1472.4" fill="#a97b4b" stroke="#d8782e" stroke-width="0.9" stroke-opacity="0.8"/><polygon points="378.0,1452.7 397.6,1451.8 399.4,1474.1 379.8,1474.1" fill="#f24331" stroke="#d8782e" stroke-width="0.9" stroke-opacity="0.8"/><polygon points="128.0,1474.1 142.3,1474.1 142.3,1498.2 128.0,1498.2" fill="#f24331" stroke="#d8782e" stroke-width="0.9" stroke-opacity="0.8"/><polygon points="142.3,1475.9 158.4,1475.9 158.4,1495.6 142.3,1497.4" fill="#a97b4b" stroke="#d8782e" stroke-width="0.9" stroke-opacity="0.8"/><polygon points="158.4,1475.9 181.6,1465.2 181.6,1484.9 161.9,1492.0" fill="#f24331" stroke="#d8782e" stroke-width="0.9" stroke-opacity="0.8"/><polygon points="181.6,1461.6 197.6,1460.8 199.4,1483.1 179.8,1486.6" fill="#a97b4b" stroke="#d8782e" stroke-width="0.9" stroke-opacity="0.8"/><polygon points="367.3,1475.9 381.6,1483.1 383.4,1502.7 367.3,1492.0" fill="#a97b4b" stroke="#d8782e" stroke-width="0.9" stroke-opacity="0.8"/><polygon points="383.4,1481.3 403.0,1481.3 403.0,1505.4 383.4,1505.4" fill="#f24331" stroke="#d8782e" stroke-width="0.9" stroke-opacity="0.8"/><polygon points="458.4,1475.0 468.0,1475.0 468.0,1499.1 458.4,1500.9" fill="#f24331" stroke="#d8782e" stroke-width="0.9" stroke-opacity="0.8"/><polygon points="194.1,1499.1 231.6,1496.5 231.6,1506.3 191.4,1507.2" fill="#f24331" stroke="#d8782e" stroke-width="0.9" stroke-opacity="0.8"/><polygon points="231.6,1495.6 236.9,1495.6 236.9,1510.8 231.6,1506.3" fill="#a97b4b" stroke="#d8782e" stroke-width="0.9" stroke-opacity="0.8"/><polygon points="236.9,1493.8 253.0,1494.7 253.0,1511.6 236.9,1510.8" fill="#f24331" stroke="#d8782e" stroke-width="0.9" stroke-opacity="0.8"/><polygon points="253.0,1495.6 263.7,1502.7 306.6,1506.3 306.6,1522.4 294.1,1517.9 253.0,1513.4" fill="#a97b4b" stroke="#d8782e" stroke-width="0.9" stroke-opacity="0.8"/><polygon points="306.6,1508.1 345.9,1510.8 354.8,1520.6 306.6,1522.4" fill="#f24331" stroke="#d8782e" stroke-width="0.9" stroke-opacity="0.8"/><polygon points="408.4,1520.6 449.4,1520.6 449.4,1547.4 420.9,1547.4 417.3,1534.9" fill="#a97b4b" stroke="#d8782e" stroke-width="0.9" stroke-opacity="0.8"/><polygon points="449.4,1518.8 468.0,1517.0 468.0,1545.6 449.4,1547.4" fill="#a97b4b" stroke="#d8782e" stroke-width="0.9" stroke-opacity="0.8"/><polygon points="128.0,1517.9 142.3,1517.9 142.3,1527.7 128.0,1531.3" fill="#f24331" stroke="#d8782e" stroke-width="0.9" stroke-opacity="0.8"/><polygon points="142.3,1517.0 172.6,1520.6 163.7,1527.7 142.3,1527.7" fill="#a97b4b" stroke="#d8782e" stroke-width="0.9" stroke-opacity="0.8"/><polygon points="179.8,1545.6 229.8,1543.8 249.4,1533.1 186.9,1534.0" fill="#f24331" stroke="#d8782e" stroke-width="0.9" stroke-opacity="0.8"/><polygon points="345.9,1554.5 360.1,1542.0 403.0,1538.4 403.0,1559.0 349.4,1558.1" fill="#f24331" stroke="#d8782e" stroke-width="0.9" stroke-opacity="0.8"/><polygon points="420.9,1536.6 431.6,1536.6 431.6,1550.9 420.9,1550.9" fill="#f24331" stroke="#d8782e" stroke-width="0.9" stroke-opacity="0.8"/><polygon points="154.8,1570.6 163.7,1561.6 178.0,1559.9 178.0,1572.4 154.8,1572.4" fill="#a97b4b" stroke="#d8782e" stroke-width="0.9" stroke-opacity="0.8"/><polygon points="178.0,1560.8 226.2,1560.8 226.2,1572.4 178.0,1573.2" fill="#f24331" stroke="#d8782e" stroke-width="0.9" stroke-opacity="0.8"/><polygon points="226.2,1561.6 242.3,1571.5 226.2,1572.4" fill="#a97b4b" stroke="#d8782e" stroke-width="0.9" stroke-opacity="0.8"/><polygon points="278.0,1556.3 294.1,1556.3 295.9,1561.6 279.8,1561.6" fill="#a97b4b" stroke="#d8782e" stroke-width="0.9" stroke-opacity="0.8"/><polygon points="263.7,1588.4 285.1,1572.4 285.1,1588.4" fill="#f24331" stroke="#d8782e" stroke-width="0.9" stroke-opacity="0.8"/><polygon points="285.1,1572.4 317.3,1579.5 317.3,1629.5 306.6,1629.5 297.6,1617.0 295.9,1597.4 288.7,1590.2" fill="#a97b4b" stroke="#d8782e" stroke-width="0.9" stroke-opacity="0.8"/><polygon points="317.3,1583.1 378.0,1584.9 365.5,1597.4 344.1,1599.1 338.7,1627.7 317.3,1629.5" fill="#f24331" stroke="#d8782e" stroke-width="0.9" stroke-opacity="0.8"/><polygon points="344.1,1599.1 363.7,1618.8 344.1,1618.8" fill="#a97b4b" stroke="#d8782e" stroke-width="0.9" stroke-opacity="0.8"/><polygon points="254.8,1599.1 295.9,1599.1 295.9,1617.0 254.8,1615.2" fill="#f24331" stroke="#d8782e" stroke-width="0.9" stroke-opacity="0.8"/><polygon points="220.9,1600.0 254.8,1600.0 254.8,1614.3 220.9,1609.9" fill="#a97b4b" stroke="#d8782e" stroke-width="0.9" stroke-opacity="0.8"/><polygon points="190.5,1599.1 222.6,1599.1 222.6,1609.9 190.5,1609.9" fill="#f24331" stroke="#d8782e" stroke-width="0.9" stroke-opacity="0.8"/><polygon points="167.3,1588.4 188.7,1597.4 188.7,1611.6 169.1,1613.4" fill="#a97b4b" stroke="#d8782e" stroke-width="0.9" stroke-opacity="0.8"/><polygon points="147.6,1592.0 165.5,1588.4 167.3,1609.9 147.6,1609.9" fill="#f24331" stroke="#d8782e" stroke-width="0.9" stroke-opacity="0.8"/><polygon points="131.6,1600.9 147.6,1595.6 147.6,1604.5 131.6,1602.7" fill="#a97b4b" stroke="#d8782e" stroke-width="0.9" stroke-opacity="0.8"/><polygon points="129.8,1627.7 179.8,1626.8 179.8,1667.0 129.8,1667.0" fill="#f24331" stroke="#d8782e" stroke-width="0.9" stroke-opacity="0.8"/><polygon points="176.2,1615.2 195.9,1617.0 197.6,1643.8 181.6,1645.6 176.2,1631.3" fill="#a97b4b" stroke="#d8782e" stroke-width="0.9" stroke-opacity="0.8"/><polygon points="195.9,1620.6 217.3,1620.6 213.7,1642.0 197.6,1643.8" fill="#f24331" stroke="#d8782e" stroke-width="0.9" stroke-opacity="0.8"/><polygon points="217.3,1625.9 249.4,1623.2 249.4,1638.4 217.3,1634.9" fill="#a97b4b" stroke="#d8782e" stroke-width="0.9" stroke-opacity="0.8"/><polygon points="249.4,1624.1 267.3,1625.9 260.1,1634.9 249.4,1634.9" fill="#f24331" stroke="#d8782e" stroke-width="0.9" stroke-opacity="0.8"/><polygon points="163.7,1649.1 181.6,1649.1 181.6,1665.2 163.7,1667.0" fill="#a97b4b" stroke="#d8782e" stroke-width="0.9" stroke-opacity="0.8"/><polygon points="172.6,1656.3 183.4,1656.3 183.4,1667.0 172.6,1667.0" fill="#f24331" stroke="#d8782e" stroke-width="0.9" stroke-opacity="0.8"/><polygon points="185.1,1656.3 242.3,1652.7 238.7,1668.8 188.7,1668.8" fill="#a97b4b" stroke="#d8782e" stroke-width="0.9" stroke-opacity="0.8"/><polygon points="242.3,1652.7 260.1,1652.7 265.5,1668.8 235.1,1681.3 236.9,1656.3" fill="#f24331" stroke="#d8782e" stroke-width="0.9" stroke-opacity="0.8"/><polygon points="260.1,1645.6 297.6,1679.5 269.1,1679.5 265.5,1668.8" fill="#a97b4b" stroke="#d8782e" stroke-width="0.9" stroke-opacity="0.8"/><polygon points="335.1,1681.3 378.0,1629.5 397.6,1629.5 397.6,1645.6 381.6,1649.1 363.7,1681.3" fill="#f24331" stroke="#d8782e" stroke-width="0.9" stroke-opacity="0.8"/><polygon points="313.7,1645.6 331.6,1645.6 331.6,1654.5 313.7,1652.7" fill="#f24331" stroke="#d8782e" stroke-width="0.9" stroke-opacity="0.8"/><polygon points="399.4,1627.7 417.3,1627.7 417.3,1638.4 399.4,1638.4" fill="#a97b4b" stroke="#d8782e" stroke-width="0.9" stroke-opacity="0.8"/><polygon points="417.3,1627.7 433.4,1627.7 433.4,1638.4 417.3,1638.4" fill="#f24331" stroke="#d8782e" stroke-width="0.9" stroke-opacity="0.8"/><polygon points="433.4,1626.8 468.0,1626.8 468.0,1659.9 445.9,1656.3 433.4,1643.8" fill="#a97b4b" stroke="#d8782e" stroke-width="0.9" stroke-opacity="0.8"/><polygon points="383.4,1645.6 413.7,1672.4 422.6,1682.0 392.3,1682.0 383.4,1661.6" fill="#a97b4b" stroke="#d8782e" stroke-width="0.9" stroke-opacity="0.8"/><polygon points="188.7,1670.6 235.1,1670.6 235.1,1677.7 188.7,1677.7" fill="#a97b4b" stroke="#d8782e" stroke-width="0.9" stroke-opacity="0.8"/><path d="M175.6,1629.3l-1.0,36.3M280.9,1563.1l-1.6,37.2M410.0,1489.1l-2.0,36.2M371.8,1420.1l1.6,43.0M139.2,1525.8l-0.5,42.7M271.8,1352.5l-0.2,16.2M208.6,1420.8l-0.2,16.1M137.9,1626.0l0.6,28.6M368.4,1659.4l1.3,23.6M232.1,1541.4l1.4,40.7M327.5,1354.4l1.2,17.0M188.5,1528.3l0.7,34.0M277.4,1514.6l0.1,36.8M388.2,1525.2l-1.1,39.8M449.0,1538.1l-0.9,25.0M378.2,1616.4l0.2,27.2M149.5,1636.9l-1.2,29.1M292.8,1463.4l0.2,20.8M335.4,1497.6l-1.1,9.0M216.0,1627.4l-1.7,32.9M135.6,1598.2l-1.6,17.2M245.8,1366.2l0.1,13.9M221.9,1583.4l-0.7,24.8M138.6,1473.4l-1.2,23.6M137.7,1348.7l0.9,13.4M397.3,1517.4l0.6,16.3M323.1,1451.3l-1.8,31.3M454.2,1638.8l1.4,19.3M444.6,1594.3l-1.0,23.4M424.4,1355.5l1.8,38.3M188.0,1636.2l0.8,44.0M257.0,1460.0l0.7,15.6M195.6,1378.0l-0.8,32.6M239.4,1637.5l-1.9,41.3M240.2,1676.5l-0.6,37.0M331.3,1627.2l-0.6,21.6M420.6,1547.0l1.5,43.3M257.0,1535.7l-1.7,16.3M428.4,1533.6l-0.2,42.2M393.7,1622.7l0.7,8.5M229.0,1428.4l-1.6,25.6M143.9,1346.3l-0.8,44.4M312.1,1575.4l-1.0,32.5M280.4,1563.2l1.8,31.8M231.9,1455.8l0.3,28.1M212.6,1349.6l-1.7,17.0M228.8,1645.0l1.6,13.2M380.1,1575.9l-0.3,14.6M400.8,1528.5l1.4,28.0M262.9,1457.2l-1.9,17.5M270.0,1535.7l-0.6,10.3M172.5,1430.3l-0.4,38.7M335.4,1421.7l0.1,8.3M347.5,1490.9l0.9,33.4M296.2,1504.6l-0.4,16.3M433.8,1653.1l0.6,18.2M425.8,1448.2l1.4,33.6M451.6,1535.9l-1.0,14.5M247.0,1516.9l0.9,14.1M451.3,1389.8l1.4,36.7M364.8,1493.2l1.9,42.2" stroke="#a8a4aa" stroke-width="1" fill="none" opacity="0.75"/><path d="M462.4,1633.5l-0.7,12.5M294.4,1352.7l0.8,9.6M328.9,1475.8l0.0,14.3M450.6,1344.6l1.3,37.0M326.0,1633.9l1.2,37.5M431.4,1515.2l0.4,15.7M366.2,1572.1l-1.1,28.2M356.1,1626.0l-0.6,42.5M360.3,1506.6l-1.1,44.5M159.0,1400.1l-1.1,41.7M314.9,1378.0l-1.7,9.4M394.1,1622.9l0.5,20.6M169.2,1642.0l-1.0,9.5M271.4,1381.8l-1.0,14.2M165.1,1650.7l1.9,22.0M281.0,1448.7l1.7,10.3M454.8,1380.4l0.5,16.0M233.4,1426.0l-0.9,11.0M233.2,1453.4l1.4,19.7M154.4,1368.1l-0.8,31.5M295.5,1634.4l0.0,13.7M156.5,1663.7l1.1,14.4M405.3,1450.9l0.1,12.0M236.3,1648.1l1.6,37.7M369.6,1568.5l-1.7,17.3M154.6,1515.8l-1.4,40.5M365.1,1591.8l1.4,30.0M321.0,1599.0l0.7,9.9M458.6,1615.9l-0.9,31.3" stroke="#6a14e8" stroke-width="1.3" fill="none" opacity="0.85"/></g>
<defs><clipPath id="hcb0"><rect x="481.5" y="1342.7" width="337.9" height="337.9"/></clipPath></defs><g clip-path="url(#hcb0)"><rect x="481.5" y="1342.7" width="337.9" height="337.9" fill="#690505"/><polygon points="664.9,1381.3 754.2,1367.0 754.2,1424.1 713.1,1449.1 664.9,1449.1" fill="#790828"/><polygon points="557.8,1347.4 636.4,1347.4 636.4,1368.8 597.1,1370.6 595.3,1392.0 557.8,1392.0" fill="#790828"/><polygon points="581.0,1392.0 632.8,1392.0 632.8,1447.4 581.0,1447.4" fill="#790828"/><polygon points="516.7,1390.2 556.0,1386.6 556.0,1415.2 518.5,1415.2" fill="#790828"/><polygon points="675.6,1483.1 720.3,1483.1 720.3,1511.6 675.6,1509.9" fill="#790828"/><polygon points="638.1,1542.0 720.3,1540.2 720.3,1550.9 638.1,1558.1" fill="#790828"/><polygon points="629.2,1625.9 698.9,1620.6 677.4,1645.6 629.2,1645.6" fill="#790828"/><polygon points="713.1,1638.4 748.9,1638.4 748.9,1681.3 713.1,1681.3" fill="#790828"/><polygon points="547.1,1517.0 568.5,1513.4 568.5,1543.8 547.1,1543.8" fill="#790828"/><polygon points="632.8,1659.9 659.6,1658.1 659.6,1681.3 632.8,1681.3" fill="#790828"/><polygon points="756.0,1467.0 820.3,1477.7 820.3,1493.8 756.0,1490.2" fill="#790828"/><polygon points="481.0,1472.4 500.6,1474.1 500.6,1490.2 481.0,1490.2" fill="#790828"/><polygon points="766.7,1556.3 802.4,1552.7 802.4,1574.1 766.7,1574.1" fill="#790828"/><polygon points="481.0,1550.9 507.8,1550.9 507.8,1574.1 481.0,1574.1" fill="#790828"/><polygon points="482.8,1361.6 491.7,1361.6 488.1,1374.1 482.8,1381.3" fill="#f24331" stroke="#d8782e" stroke-width="0.9" stroke-opacity="0.8"/><polygon points="488.1,1374.1 504.2,1374.1 504.2,1381.3 488.1,1381.3" fill="#a97b4b" stroke="#d8782e" stroke-width="0.9" stroke-opacity="0.8"/><polygon points="509.6,1371.5 525.6,1368.8 523.9,1388.4 516.7,1388.4" fill="#a97b4b" stroke="#d8782e" stroke-width="0.9" stroke-opacity="0.8"/><polygon points="525.6,1367.9 541.7,1367.0 548.9,1372.4 539.9,1383.1 525.6,1388.4" fill="#f24331" stroke="#d8782e" stroke-width="0.9" stroke-opacity="0.8"/><polygon points="579.2,1375.9 595.3,1373.2 595.3,1386.6 581.0,1386.6" fill="#f24331" stroke="#d8782e" stroke-width="0.9" stroke-opacity="0.8"/><polygon points="595.3,1370.6 620.3,1369.7 620.3,1390.2 598.9,1391.1" fill="#a97b4b" stroke="#d8782e" stroke-width="0.9" stroke-opacity="0.8"/><polygon points="620.3,1370.6 638.1,1368.8 627.4,1386.6 620.3,1389.3" fill="#f24331" stroke="#d8782e" stroke-width="0.9" stroke-opacity="0.8"/><polygon points="639.9,1363.4 654.2,1361.6 652.4,1370.6 641.7,1370.6" fill="#a97b4b" stroke="#d8782e" stroke-width="0.9" stroke-opacity="0.8"/><polygon points="652.4,1361.6 670.3,1359.9 670.3,1381.3 648.9,1382.2" fill="#f24331" stroke="#d8782e" stroke-width="0.9" stroke-opacity="0.8"/><polygon points="672.1,1356.3 702.4,1352.7 713.1,1359.9 734.6,1359.9 734.6,1379.5 713.1,1383.1 673.9,1379.5" fill="#a97b4b" stroke="#d8782e" stroke-width="0.9" stroke-opacity="0.8"/><polygon points="736.4,1359.9 750.6,1349.1 766.7,1350.9 773.9,1358.1 752.4,1365.2 739.9,1379.5" fill="#f24331" stroke="#d8782e" stroke-width="0.9" stroke-opacity="0.8"/><polygon points="775.6,1375.9 798.9,1370.6 820.3,1363.4 820.3,1383.1 777.4,1383.1" fill="#f24331" stroke="#d8782e" stroke-width="0.9" stroke-opacity="0.8"/><polygon points="766.7,1399.1 811.4,1399.1 811.4,1406.3 757.8,1408.1" fill="#f24331" stroke="#d8782e" stroke-width="0.9" stroke-opacity="0.8"/><polygon points="756.0,1400.9 770.3,1399.1 766.7,1408.1 754.2,1409.0" fill="#e2cc4c" stroke="#d8782e" stroke-width="0.9" stroke-opacity="0.8"/><polygon points="638.1,1406.3 668.5,1404.5 666.7,1411.6 638.1,1413.4" fill="#f24331" stroke="#d8782e" stroke-width="0.9" stroke-opacity="0.8"/><polygon points="502.4,1409.9 516.7,1409.0 516.7,1416.1 500.6,1415.2" fill="#e2cc4c" stroke="#d8782e" stroke-width="0.9" stroke-opacity="0.8"/><polygon points="516.7,1413.4 556.0,1416.1 557.8,1425.9 573.9,1442.0 573.9,1502.7 561.4,1502.7 559.6,1488.4 552.4,1483.1 539.9,1474.1 538.1,1438.4 529.2,1433.1 518.5,1420.6" fill="#a97b4b" stroke="#d8782e" stroke-width="0.9" stroke-opacity="0.8"/><polygon points="557.8,1417.0 597.1,1418.8 581.0,1438.4 559.6,1438.4" fill="#f24331" stroke="#d8782e" stroke-width="0.9" stroke-opacity="0.8"/><polygon points="481.0,1422.4 500.6,1425.9 504.2,1442.0 481.0,1440.2" fill="#a97b4b" stroke="#d8782e" stroke-width="0.9" stroke-opacity="0.8"/><polygon points="493.5,1456.3 506.0,1442.0 527.4,1440.2 527.4,1467.0 497.1,1467.0" fill="#f24331" stroke="#d8782e" stroke-width="0.9" stroke-opacity="0.8"/><polygon points="534.6,1442.0 545.3,1440.2 545.3,1474.1 534.6,1472.4" fill="#f24331" stroke="#d8782e" stroke-width="0.9" stroke-opacity="0.8"/><polygon points="481.0,1452.7 493.5,1452.7 495.3,1467.0 481.0,1474.1" fill="#a97b4b" stroke="#d8782e" stroke-width="0.9" stroke-opacity="0.8"/><polygon points="573.9,1450.9 582.8,1452.7 581.0,1504.5 573.9,1502.7" fill="#f24331" stroke="#d8782e" stroke-width="0.9" stroke-opacity="0.8"/><polygon points="582.8,1449.1 632.8,1449.1 636.4,1477.7 673.9,1509.9 720.3,1511.6 720.3,1538.4 638.1,1540.2 627.4,1531.3 616.7,1513.4 582.8,1506.3" fill="#a97b4b" stroke="#d8782e" stroke-width="0.9" stroke-opacity="0.8"/><polygon points="634.6,1450.9 663.1,1450.9 663.1,1474.1 641.7,1477.7 636.4,1479.5" fill="#f24331" stroke="#d8782e" stroke-width="0.9" stroke-opacity="0.8"/><polygon points="664.9,1449.1 713.1,1449.1 714.9,1479.5 673.9,1481.3 664.9,1470.6" fill="#a97b4b" stroke="#d8782e" stroke-width="0.9" stroke-opacity="0.8"/><polygon points="714.9,1449.1 747.1,1418.8 809.6,1418.8 809.6,1438.4 775.6,1442.0 773.9,1463.4 752.4,1465.2 720.3,1477.7" fill="#f24331" stroke="#d8782e" stroke-width="0.9" stroke-opacity="0.8"/><polygon points="809.6,1418.8 820.3,1418.8 820.3,1442.0 809.6,1442.0" fill="#a97b4b" stroke="#d8782e" stroke-width="0.9" stroke-opacity="0.8"/><polygon points="775.6,1447.4 789.9,1456.3 788.1,1475.9 775.6,1467.0" fill="#a97b4b" stroke="#d8782e" stroke-width="0.9" stroke-opacity="0.8"/><polygon points="789.9,1456.3 809.6,1456.3 809.6,1477.7 789.9,1477.7" fill="#f24331" stroke="#d8782e" stroke-width="0.9" stroke-opacity="0.8"/><polygon points="481.0,1490.2 500.6,1490.2 500.6,1502.7 481.0,1502.7" fill="#a97b4b" stroke="#d8782e" stroke-width="0.9" stroke-opacity="0.8"/><polygon points="500.6,1490.2 557.8,1490.2 559.6,1502.7 545.3,1515.2 507.8,1518.8 500.6,1509.9" fill="#f24331" stroke="#d8782e" stroke-width="0.9" stroke-opacity="0.8"/><polygon points="491.7,1506.3 500.6,1502.7 506.0,1518.8 491.7,1515.2" fill="#f24331" stroke="#d8782e" stroke-width="0.9" stroke-opacity="0.8"/><polygon points="748.9,1493.8 784.6,1492.0 770.3,1508.1 748.9,1502.7" fill="#f24331" stroke="#d8782e" stroke-width="0.9" stroke-opacity="0.8"/><polygon points="720.3,1508.1 764.9,1506.3 764.9,1531.3 720.3,1531.3" fill="#f24331" stroke="#d8782e" stroke-width="0.9" stroke-opacity="0.8"/><polygon points="766.7,1515.2 795.3,1524.1 800.6,1547.4 766.7,1536.6" fill="#a97b4b" stroke="#d8782e" stroke-width="0.9" stroke-opacity="0.8"/><polygon points="809.6,1499.1 820.3,1495.6 820.3,1522.4 809.6,1520.6" fill="#a97b4b" stroke="#d8782e" stroke-width="0.9" stroke-opacity="0.8"/><polygon points="481.0,1531.3 507.8,1531.3 507.8,1550.9 481.0,1550.9" fill="#f24331" stroke="#d8782e" stroke-width="0.9" stroke-opacity="0.8"/><polygon points="507.8,1533.1 523.9,1536.6 525.6,1554.5 507.8,1549.1" fill="#a97b4b" stroke="#d8782e" stroke-width="0.9" stroke-opacity="0.8"/><polygon points="525.6,1545.6 545.3,1545.6 545.3,1561.6 525.6,1559.9" fill="#f24331" stroke="#d8782e" stroke-width="0.9" stroke-opacity="0.8"/><polygon points="545.3,1545.6 563.1,1545.6 563.1,1563.4 545.3,1561.6" fill="#a97b4b" stroke="#d8782e" stroke-width="0.9" stroke-opacity="0.8"/><polygon points="563.1,1542.0 577.4,1542.0 577.4,1563.4 564.9,1563.4" fill="#f24331" stroke="#d8782e" stroke-width="0.9" stroke-opacity="0.8"/><polygon points="581.0,1549.1 604.2,1549.1 604.2,1570.6 582.8,1568.8" fill="#f24331" stroke="#d8782e" stroke-width="0.9" stroke-opacity="0.8"/><polygon points="582.8,1525.9 602.4,1524.1 616.7,1534.9 636.4,1538.4 636.4,1559.9 668.5,1559.9 668.5,1579.5 616.7,1581.3 606.0,1574.1 604.2,1549.1 582.8,1527.7" fill="#a97b4b" stroke="#d8782e" stroke-width="0.9" stroke-opacity="0.8"/><polygon points="620.3,1531.3 638.1,1531.3 638.1,1545.6 622.1,1545.6" fill="#f24331" stroke="#d8782e" stroke-width="0.9" stroke-opacity="0.8"/><polygon points="675.6,1556.3 718.5,1550.9 718.5,1595.6 673.9,1595.6" fill="#a97b4b" stroke="#d8782e" stroke-width="0.9" stroke-opacity="0.8"/><polygon points="720.3,1549.1 757.8,1545.6 752.4,1588.4 739.9,1592.0 718.5,1615.2 704.2,1638.4 677.4,1649.1 677.4,1636.6 698.9,1613.4 711.4,1595.6 718.5,1574.1" fill="#f24331" stroke="#d8782e" stroke-width="0.9" stroke-opacity="0.8"/><polygon points="752.4,1563.4 775.6,1556.3 795.3,1575.9 795.3,1615.2 775.6,1615.2 752.4,1600.9" fill="#a97b4b" stroke="#d8782e" stroke-width="0.9" stroke-opacity="0.8"/><polygon points="797.1,1577.7 820.3,1574.1 820.3,1609.9 797.1,1609.9" fill="#f24331" stroke="#d8782e" stroke-width="0.9" stroke-opacity="0.8"/><polygon points="802.4,1531.3 820.3,1531.3 820.3,1550.9 802.4,1550.9" fill="#f24331" stroke="#d8782e" stroke-width="0.9" stroke-opacity="0.8"/><polygon points="481.0,1574.1 489.9,1575.9 491.7,1609.9 481.0,1609.9" fill="#f24331" stroke="#d8782e" stroke-width="0.9" stroke-opacity="0.8"/><polygon points="491.7,1579.5 514.9,1588.4 514.9,1615.2 491.7,1609.9" fill="#a97b4b" stroke="#d8782e" stroke-width="0.9" stroke-opacity="0.8"/><polygon points="516.7,1588.4 543.5,1588.4 543.5,1615.2 516.7,1615.2" fill="#f24331" stroke="#d8782e" stroke-width="0.9" stroke-opacity="0.8"/><polygon points="545.3,1588.4 564.9,1590.2 566.7,1613.4 545.3,1615.2" fill="#a97b4b" stroke="#d8782e" stroke-width="0.9" stroke-opacity="0.8"/><polygon points="566.7,1593.8 614.9,1593.8 614.9,1613.4 591.7,1617.0 559.6,1629.5 557.8,1620.6 566.7,1613.4" fill="#f24331" stroke="#d8782e" stroke-width="0.9" stroke-opacity="0.8"/><polygon points="614.9,1593.8 661.4,1593.8 663.1,1620.6 629.2,1625.9 616.7,1611.6" fill="#a97b4b" stroke="#d8782e" stroke-width="0.9" stroke-opacity="0.8"/><polygon points="663.1,1597.4 673.9,1599.1 670.3,1620.6 663.1,1620.6" fill="#f24331" stroke="#d8782e" stroke-width="0.9" stroke-opacity="0.8"/><polygon points="673.9,1604.5 704.2,1606.3 702.4,1620.6 673.9,1620.6" fill="#a97b4b" stroke="#d8782e" stroke-width="0.9" stroke-opacity="0.8"/><polygon points="750.6,1620.6 775.6,1620.6 775.6,1638.4 750.6,1638.4" fill="#f24331" stroke="#d8782e" stroke-width="0.9" stroke-opacity="0.8"/><polygon points="716.7,1615.2 750.6,1615.2 750.6,1638.4 716.7,1636.6" fill="#a97b4b" stroke="#d8782e" stroke-width="0.9" stroke-opacity="0.8"/><polygon points="775.6,1620.6 802.4,1622.4 813.1,1638.4 813.1,1681.3 798.9,1667.0 777.4,1645.6" fill="#a97b4b" stroke="#d8782e" stroke-width="0.9" stroke-opacity="0.8"/><polygon points="481.0,1636.6 500.6,1636.6 509.6,1649.1 506.0,1668.8 481.0,1670.6" fill="#f24331" stroke="#d8782e" stroke-width="0.9" stroke-opacity="0.8"/><polygon points="506.0,1627.7 523.9,1625.9 527.4,1663.4 509.6,1663.4" fill="#a97b4b" stroke="#d8782e" stroke-width="0.9" stroke-opacity="0.8"/><polygon points="525.6,1631.3 550.6,1631.3 550.6,1659.9 525.6,1659.9" fill="#f24331" stroke="#d8782e" stroke-width="0.9" stroke-opacity="0.8"/><polygon points="550.6,1627.7 557.8,1629.5 570.3,1645.6 570.3,1659.9 552.4,1659.9" fill="#a97b4b" stroke="#d8782e" stroke-width="0.9" stroke-opacity="0.8"/><polygon points="579.2,1645.6 627.4,1645.6 627.4,1650.9 579.2,1650.9" fill="#a97b4b" stroke="#d8782e" stroke-width="0.9" stroke-opacity="0.8"/><polygon points="631.0,1643.8 675.6,1643.8 675.6,1658.1 631.0,1656.3" fill="#a97b4b" stroke="#d8782e" stroke-width="0.9" stroke-opacity="0.8"/><polygon points="588.1,1668.8 609.6,1663.4 618.5,1681.3 588.1,1681.3" fill="#a97b4b" stroke="#d8782e" stroke-width="0.9" stroke-opacity="0.8"/><polygon points="577.4,1667.0 588.1,1668.8 588.1,1681.3 577.4,1681.3" fill="#f24331" stroke="#d8782e" stroke-width="0.9" stroke-opacity="0.8"/><polygon points="663.1,1672.4 684.6,1672.4 684.6,1681.3 663.1,1681.3" fill="#a97b4b" stroke="#d8782e" stroke-width="0.9" stroke-opacity="0.8"/><path d="M729.2,1569.0l0.4,19.4M815.7,1663.5l-0.2,28.1M495.5,1352.0l-0.7,25.2M781.3,1520.4l-1.1,28.7M592.1,1388.9l2.0,26.9M537.3,1597.5l-0.2,34.5M647.1,1655.2l1.3,26.5M725.2,1507.1l-0.7,16.2M539.0,1649.5l1.6,17.9M803.2,1581.3l0.1,26.7M547.4,1594.4l0.6,10.2M494.1,1465.1l0.7,14.4M802.2,1351.3l-1.9,35.0M755.1,1395.8l0.8,14.8M497.9,1677.2l-1.9,13.6M688.9,1593.6l-0.7,12.2M771.5,1581.0l-1.1,25.5M589.1,1377.2l1.5,24.6M570.0,1547.5l-1.9,23.5M530.4,1361.9l-1.4,9.2M561.1,1493.0l0.4,17.3M750.7,1582.4l-0.3,17.5M563.9,1376.4l-1.1,14.7M657.4,1499.6l0.6,19.5M786.2,1668.1l-0.3,35.0M677.5,1360.0l0.1,23.5M687.3,1440.5l-0.5,44.4M712.3,1376.9l1.4,19.3M488.7,1495.2l-0.1,23.2M509.1,1597.8l0.3,15.1M638.2,1597.3l-1.5,22.6M510.4,1629.9l1.8,31.7M491.7,1565.4l0.9,36.8M602.9,1497.1l-0.9,37.6M582.6,1421.0l-1.0,26.1M710.3,1653.1l1.3,29.7M602.4,1679.8l-0.3,13.4M512.3,1645.3l0.6,44.6M582.5,1421.0l0.7,32.8M675.0,1391.6l-1.9,24.3M777.9,1403.7l-0.1,26.9M739.6,1410.1l0.3,35.5M752.0,1389.3l-0.3,30.7M672.5,1500.5l1.9,15.6M645.4,1570.7l-0.9,20.4M528.5,1397.6l-0.1,22.1M487.0,1531.1l-0.5,43.8M611.2,1492.3l-0.8,40.2M585.1,1561.1l0.6,37.4M764.2,1374.1l-0.4,31.4M767.6,1612.3l-0.8,31.3M636.3,1421.1l1.8,18.3M756.8,1470.8l-0.7,21.5M791.3,1492.1l1.7,31.7M516.7,1423.1l0.7,15.0M602.4,1611.4l1.2,16.6M773.8,1658.8l1.9,35.9M691.3,1569.3l-0.4,21.6M803.3,1462.3l1.6,25.6M804.3,1385.6l-0.6,9.0M789.9,1641.1l-0.3,36.2M562.6,1624.3l-0.9,22.4M533.8,1449.6l-1.6,42.3M551.7,1427.5l-1.0,23.6M565.8,1423.8l-0.7,30.6M739.9,1363.5l1.4,13.3M743.5,1387.6l1.4,27.4M740.0,1548.9l2.0,22.6M641.7,1552.0l1.4,19.7M635.3,1481.8l-1.8,27.4M509.3,1446.0l-2.0,37.5M600.6,1401.2l0.7,13.4M807.9,1562.1l1.6,9.8M644.3,1531.5l0.0,13.1M550.1,1653.1l0.1,38.4M775.8,1390.0l-1.5,26.2M519.6,1414.3l-1.1,10.0M691.4,1632.8l0.9,41.5M789.7,1397.8l1.3,11.9M553.7,1470.2l-0.3,19.0M616.4,1612.3l0.2,38.0M716.9,1565.1l0.2,9.1M762.5,1544.8l-1.2,9.4M717.5,1436.4l0.3,41.4M622.2,1586.1l0.6,24.8M718.0,1434.7l-1.1,41.7M663.1,1475.3l1.7,27.4M741.3,1577.0l-0.2,37.1M599.0,1502.6l-1.2,17.4M547.7,1501.3l-0.8,29.2M685.5,1633.4l0.5,16.2" stroke="#a8a4aa" stroke-width="1" fill="none" opacity="0.75"/><path d="M802.7,1663.0l-1.7,10.1M677.6,1396.2l-0.4,23.9M544.2,1644.6l0.9,37.5M738.2,1609.6l1.9,21.1M778.3,1646.7l0.3,25.1M679.8,1448.1l0.0,15.7M691.6,1368.2l0.9,38.4M559.2,1638.5l0.1,11.9M565.2,1413.8l-0.3,40.6M633.3,1601.5l1.6,35.4M678.8,1475.5l-1.4,27.0M695.6,1514.4l1.7,44.4M485.1,1354.7l-1.6,23.1M514.8,1613.9l0.1,21.5M680.1,1367.6l-0.5,18.5M643.0,1665.3l1.7,37.8M658.5,1380.6l1.8,28.0M515.6,1517.2l-1.0,34.5M637.4,1580.3l2.0,23.0M720.7,1659.2l-0.1,34.1M593.9,1594.6l1.0,32.4M558.6,1552.6l0.7,22.9M695.5,1346.6l0.8,25.2M700.6,1618.5l1.8,8.6M686.0,1648.6l-1.6,40.7M484.5,1506.7l0.6,39.0M492.7,1369.7l-1.3,35.9M745.4,1479.4l1.1,33.0M645.0,1524.7l-1.7,41.8M636.2,1399.0l-0.8,24.4M617.1,1621.0l1.5,20.7M651.3,1575.8l1.0,43.1M679.8,1524.7l2.0,44.4M815.8,1386.0l0.7,42.7M578.5,1601.3l-1.1,44.5M548.4,1538.6l0.5,31.9M718.1,1503.3l1.1,9.8M695.8,1526.6l1.8,14.9M783.8,1499.4l-1.2,18.8" stroke="#6a14e8" stroke-width="1.3" fill="none" opacity="0.85"/></g>
<defs><clipPath id="hcbnz"><rect x="834.0" y="1342.7" width="338.6" height="338.6"/></clipPath><clipPath id="gr0"><polygon points="883.1,1507.3 888.0,1522.5 876.4,1526.4 860.4,1515.5 869.7,1501.3"/></clipPath><clipPath id="gr1"><polygon points="1028.8,1352.3 1028.8,1355.2 1038.3,1365.2 1039.7,1342.7 1039.6,1342.7"/></clipPath><clipPath id="gr2"><polygon points="893.9,1635.6 894.3,1635.7 899.4,1641.6 877.0,1670.1 862.6,1672.6 873.3,1651.2"/></clipPath><clipPath id="gr3"><polygon points="850.9,1398.3 891.3,1380.6 880.7,1371.5 868.4,1369.1 849.9,1397.8"/></clipPath><clipPath id="gr4"><polygon points="1139.6,1561.4 1172.6,1579.8 1172.6,1558.4 1141.3,1536.8 1134.8,1556.4"/></clipPath><clipPath id="gr5"><polygon points="973.8,1499.5 963.6,1526.4 960.2,1530.2 927.7,1523.8 927.6,1523.7 972.4,1499.1"/></clipPath><clipPath id="gr6"><polygon points="1061.3,1452.4 1075.1,1436.3 1074.2,1425.6 1054.5,1422.7 1038.3,1442.0 1039.6,1454.7"/></clipPath><clipPath id="gr7"><polygon points="867.2,1621.5 862.7,1592.3 879.8,1585.2 892.9,1597.4 875.1,1624.2"/></clipPath><clipPath id="gr8"><polygon points="1065.0,1515.4 1046.8,1524.5 1045.8,1512.2 1058.2,1501.3"/></clipPath><clipPath id="gr9"><polygon points="1128.4,1503.6 1139.0,1511.9 1139.4,1517.3 1104.6,1543.4 1100.0,1541.6 1097.9,1527.3 1098.5,1513.6"/></clipPath><clipPath id="gr10"><polygon points="1150.5,1400.1 1154.1,1397.3 1172.6,1402.7 1172.6,1438.9 1155.8,1434.0"/></clipPath><clipPath id="gr11"><polygon points="996.8,1490.9 1013.8,1523.0 1034.4,1505.8 1021.4,1476.1 1004.5,1483.3"/></clipPath><clipPath id="gr12"><polygon points="968.9,1562.8 938.8,1546.3 932.0,1539.3 927.7,1523.8 960.2,1530.2 975.8,1555.4"/></clipPath><clipPath id="gr13"><polygon points="922.2,1600.7 923.4,1619.8 899.6,1625.2 900.5,1602.1 917.2,1596.8"/></clipPath><clipPath id="gr14"><polygon points="1100.9,1380.3 1124.9,1404.6 1139.6,1398.9 1130.9,1368.6 1114.9,1364.1"/></clipPath><clipPath id="gr15"><polygon points="992.2,1447.2 968.7,1427.6 978.8,1416.7 995.5,1411.9 1004.2,1413.8 995.1,1446.1"/></clipPath><clipPath id="gr16"><polygon points="862.7,1638.0 834.0,1662.9 834.0,1681.3 851.3,1681.3 862.6,1672.6 873.3,1651.2"/></clipPath><clipPath id="gr17"><polygon points="985.9,1389.5 994.0,1403.8 995.5,1411.9 978.8,1416.7 973.7,1407.6 971.9,1393.0 977.5,1384.5"/></clipPath><clipPath id="gr18"><polygon points="1072.1,1399.7 1051.8,1407.4 1048.6,1410.2 1054.5,1422.7 1074.2,1425.6 1074.6,1425.0"/></clipPath><clipPath id="gr19"><polygon points="1150.5,1400.1 1139.6,1398.9 1124.9,1404.6 1120.2,1421.3 1126.5,1443.4 1155.8,1434.0"/></clipPath><clipPath id="gr20"><polygon points="855.1,1406.8 850.9,1398.3 849.9,1397.8 846.5,1396.2 834.0,1395.4 834.0,1429.9"/></clipPath><clipPath id="gr21"><polygon points="972.4,1499.1 954.2,1485.6 920.2,1499.7 922.2,1520.0 927.6,1523.7"/></clipPath><clipPath id="gr22"><polygon points="1165.0,1590.5 1133.3,1588.2 1139.6,1561.4 1172.6,1579.8 1172.6,1588.3"/></clipPath><clipPath id="gr23"><polygon points="935.6,1369.0 979.2,1350.2 982.1,1342.7 932.1,1342.7"/></clipPath><clipPath id="gr24"><polygon points="905.4,1681.3 903.4,1670.1 877.0,1670.1 862.6,1672.6 851.3,1681.3"/></clipPath><clipPath id="gr25"><polygon points="966.8,1568.6 980.0,1584.0 1010.7,1576.2 995.4,1549.1 975.8,1555.4 968.9,1562.8"/></clipPath><clipPath id="gr26"><polygon points="843.8,1366.8 858.1,1369.6 866.2,1368.5 855.3,1342.7 848.2,1342.7"/></clipPath><clipPath id="gr27"><polygon points="1117.3,1559.4 1104.6,1543.4 1139.4,1517.3 1141.9,1524.5 1141.3,1536.8 1134.8,1556.4 1120.4,1560.7"/></clipPath><clipPath id="gr28"><polygon points="946.9,1462.7 932.0,1464.0 923.0,1449.5 923.8,1417.2 956.4,1431.1"/></clipPath><clipPath id="gr29"><polygon points="909.4,1398.2 877.2,1423.6 855.1,1406.8 850.9,1398.3 891.3,1380.6 896.6,1383.3 909.2,1397.1"/></clipPath><clipPath id="gr30"><polygon points="846.7,1620.6 834.0,1615.3 834.0,1648.9 854.1,1625.6"/></clipPath><clipPath id="gr31"><polygon points="993.6,1375.1 999.2,1378.8 994.0,1403.8 985.9,1389.5"/></clipPath><clipPath id="gr32"><polygon points="1090.4,1420.3 1074.6,1425.0 1072.1,1399.7 1077.2,1387.3 1091.7,1382.9 1093.4,1383.0 1096.0,1415.0"/></clipPath><clipPath id="gr33"><polygon points="868.6,1545.3 847.9,1531.7 844.3,1561.9 866.6,1553.5"/></clipPath><clipPath id="gr34"><polygon points="1146.6,1365.6 1130.9,1368.6 1114.9,1364.1 1113.5,1342.7 1153.3,1342.7 1149.0,1362.2"/></clipPath><clipPath id="gr35"><polygon points="1100.9,1380.3 1124.9,1404.6 1120.2,1421.3 1096.0,1415.0 1093.4,1383.0 1098.2,1381.1"/></clipPath><clipPath id="gr36"><polygon points="868.4,1369.1 866.2,1368.5 855.3,1342.7 878.3,1342.7 880.7,1371.5"/></clipPath><clipPath id="gr37"><polygon points="944.6,1585.6 937.1,1601.2 922.2,1600.7 917.2,1596.8 920.6,1574.0 940.4,1575.4 945.6,1577.4"/></clipPath><clipPath id="gr38"><polygon points="998.2,1608.3 990.2,1617.5 989.9,1637.5 1002.7,1636.2 1009.6,1622.0 1000.8,1607.8"/></clipPath><clipPath id="gr39"><polygon points="895.5,1454.6 902.2,1462.9 923.0,1449.5 923.8,1417.2 922.4,1415.6"/></clipPath><clipPath id="gr40"><polygon points="936.1,1681.3 905.1,1666.3 909.6,1655.4 936.3,1654.7 953.9,1675.5 954.2,1681.3"/></clipPath><clipPath id="gr41"><polygon points="1155.8,1434.0 1126.5,1443.4 1118.8,1456.1 1119.8,1463.7 1172.6,1473.2 1172.6,1438.9"/></clipPath><clipPath id="gr42"><polygon points="973.0,1457.6 963.0,1430.7 968.7,1427.6 992.2,1447.2 988.7,1457.6"/></clipPath><clipPath id="gr43"><polygon points="1098.2,1381.1 1093.4,1383.0 1091.7,1382.9 1068.5,1342.7 1084.3,1342.7"/></clipPath><clipPath id="gr44"><polygon points="863.8,1488.9 868.1,1473.6 867.0,1468.0 855.8,1464.0 848.0,1485.3 855.9,1488.9"/></clipPath><clipPath id="gr45"><polygon points="899.4,1641.6 899.5,1641.7 930.7,1626.9 923.4,1619.8 899.6,1625.2 894.3,1635.7"/></clipPath><clipPath id="gr46"><polygon points="1086.7,1508.6 1073.0,1524.4 1069.4,1533.2 1097.9,1527.3 1098.5,1513.6"/></clipPath><clipPath id="gr47"><polygon points="1083.3,1588.2 1077.8,1591.0 1046.4,1603.4 1029.2,1588.5 1040.4,1567.0 1066.2,1551.0 1073.0,1555.3 1082.6,1576.3"/></clipPath><clipPath id="gr48"><polygon points="1101.9,1651.6 1114.7,1681.3 1055.9,1681.3 1061.6,1650.3 1068.3,1646.2"/></clipPath><clipPath id="gr49"><polygon points="875.1,1563.0 886.3,1548.4 900.0,1556.4 900.4,1565.7 883.3,1576.9"/></clipPath><clipPath id="gr50"><polygon points="894.1,1496.3 908.7,1488.8 903.4,1482.5 899.8,1481.8 883.9,1483.6 870.2,1496.6"/></clipPath><clipPath id="gr51"><polygon points="1110.3,1614.2 1115.0,1618.1 1118.2,1633.5 1101.9,1651.6 1068.3,1646.2 1071.9,1643.0"/></clipPath><clipPath id="gr52"><polygon points="1113.5,1342.7 1084.3,1342.7 1098.2,1381.1 1100.9,1380.3 1114.9,1364.1"/></clipPath><clipPath id="gr53"><polygon points="912.8,1401.9 958.2,1391.6 961.5,1400.1 920.4,1412.3"/></clipPath><clipPath id="gr54"><polygon points="1158.3,1384.5 1172.6,1378.3 1172.6,1402.7 1154.1,1397.3"/></clipPath><clipPath id="gr55"><polygon points="903.4,1482.5 902.2,1462.9 923.0,1449.5 932.0,1464.0 916.3,1493.3 908.7,1488.8"/></clipPath><clipPath id="gr56"><polygon points="864.3,1623.9 854.1,1625.6 834.0,1648.9 834.0,1662.9 862.7,1638.0"/></clipPath><clipPath id="gr57"><polygon points="1045.4,1374.6 1027.1,1387.9 1025.3,1397.9 1043.9,1408.5 1048.6,1410.2 1051.8,1407.4 1055.9,1378.0 1049.7,1373.7"/></clipPath><clipPath id="gr58"><polygon points="993.6,1375.1 999.2,1378.8 1012.3,1378.5 984.8,1342.7 982.1,1342.7 979.2,1350.2 979.8,1357.2"/></clipPath><clipPath id="gr59"><polygon points="1038.3,1442.0 1054.5,1422.7 1048.6,1410.2 1043.9,1408.5 1032.4,1434.8"/></clipPath><clipPath id="gr60"><polygon points="843.8,1366.8 858.1,1369.6 846.5,1396.2 834.0,1395.4 834.0,1369.1"/></clipPath><clipPath id="gr61"><polygon points="1010.7,1576.2 1021.9,1588.5 1029.2,1588.5 1040.4,1567.0 1019.8,1536.7 1014.4,1535.5 996.0,1548.1 995.4,1549.1"/></clipPath><clipPath id="gr62"><polygon points="945.6,1577.4 940.4,1575.4 938.8,1546.3 968.9,1562.8 966.8,1568.6 965.8,1569.5 963.2,1571.1"/></clipPath><clipPath id="gr63"><polygon points="912.8,1401.9 909.4,1398.2 909.2,1397.1 935.1,1369.9 960.9,1382.3 961.2,1387.2 958.2,1391.6"/></clipPath><clipPath id="gr64"><polygon points="955.0,1470.9 954.2,1485.6 920.2,1499.7 916.3,1493.3 932.0,1464.0 946.9,1462.7"/></clipPath><clipPath id="gr65"><polygon points="1158.3,1384.5 1154.1,1397.3 1150.5,1400.1 1139.6,1398.9 1130.9,1368.6 1146.6,1365.6"/></clipPath><clipPath id="gr66"><polygon points="873.4,1540.8 876.4,1526.4 860.4,1515.5 845.8,1518.2 842.8,1519.3 847.9,1531.7 868.6,1545.3"/></clipPath><clipPath id="gr67"><polygon points="1172.6,1681.3 1151.6,1681.3 1149.1,1645.0 1157.4,1631.2 1172.6,1627.4"/></clipPath><clipPath id="gr68"><polygon points="1068.5,1342.7 1091.7,1382.9 1077.2,1387.3 1055.9,1378.0 1049.7,1373.7 1062.6,1342.7"/></clipPath><clipPath id="gr69"><polygon points="1108.2,1606.2 1083.3,1588.2 1082.6,1576.3 1117.3,1559.4 1120.4,1560.7 1117.0,1594.5"/></clipPath><clipPath id="gr70"><polygon points="894.1,1496.3 870.2,1496.6 870.0,1496.8 869.7,1501.3 883.1,1507.3"/></clipPath><clipPath id="gr71"><polygon points="864.3,1623.9 854.1,1625.6 846.7,1620.6 858.3,1591.1 862.7,1592.3 867.2,1621.5"/></clipPath><clipPath id="gr72"><polygon points="1108.2,1606.2 1110.3,1614.2 1071.9,1643.0 1077.8,1591.0 1083.3,1588.2"/></clipPath><clipPath id="gr73"><polygon points="1090.4,1420.3 1074.6,1425.0 1074.2,1425.6 1075.1,1436.3 1096.2,1450.8 1110.5,1452.9"/></clipPath><clipPath id="gr74"><polygon points="1090.4,1420.3 1110.5,1452.9 1118.8,1456.1 1126.5,1443.4 1120.2,1421.3 1096.0,1415.0"/></clipPath><clipPath id="gr75"><polygon points="899.8,1481.8 874.8,1463.0 867.0,1468.0 868.1,1473.6 883.9,1483.6"/></clipPath><clipPath id="gr76"><polygon points="1009.5,1449.0 1011.2,1415.1 1010.4,1413.9 1004.2,1413.8 995.1,1446.1"/></clipPath><clipPath id="gr77"><polygon points="1046.8,1529.4 1019.8,1536.7 1040.4,1567.0 1066.2,1551.0 1063.8,1543.1"/></clipPath><clipPath id="gr78"><polygon points="900.4,1565.7 919.4,1572.5 932.0,1539.3 927.7,1523.8 927.6,1523.7 922.2,1520.0 912.4,1525.3 900.0,1556.4"/></clipPath><clipPath id="gr79"><polygon points="944.6,1585.6 958.4,1601.2 963.2,1571.1 945.6,1577.4"/></clipPath><clipPath id="gr80"><polygon points="937.1,1601.2 954.3,1618.7 954.5,1620.1 940.5,1631.9 930.7,1626.9 923.4,1619.8 922.2,1600.7"/></clipPath><clipPath id="gr81"><polygon points="975.8,1555.4 960.2,1530.2 963.6,1526.4 985.2,1525.2 996.0,1548.1 995.4,1549.1"/></clipPath><clipPath id="gr82"><polygon points="1073.0,1524.4 1069.4,1533.2 1063.8,1543.1 1046.8,1529.4 1046.8,1524.5 1065.0,1515.4"/></clipPath><clipPath id="gr83"><polygon points="905.4,1681.3 936.1,1681.3 905.1,1666.3 903.4,1670.1"/></clipPath><clipPath id="gr84"><polygon points="835.5,1444.5 855.8,1464.0 867.0,1468.0 874.8,1463.0 882.4,1450.2 874.3,1428.8"/></clipPath><clipPath id="gr85"><polygon points="1028.8,1352.3 1028.8,1355.2 1015.2,1361.9 995.4,1342.7 1020.0,1342.7"/></clipPath><clipPath id="gr86"><polygon points="875.1,1624.2 892.9,1597.4 900.5,1602.1 899.6,1625.2 894.3,1635.7 893.9,1635.6"/></clipPath><clipPath id="gr87"><polygon points="1117.3,1559.4 1104.6,1543.4 1100.0,1541.6 1073.0,1555.3 1082.6,1576.3"/></clipPath><clipPath id="gr88"><polygon points="1108.2,1606.2 1110.3,1614.2 1115.0,1618.1 1129.8,1618.0 1165.0,1590.5 1133.3,1588.2 1117.0,1594.5"/></clipPath><clipPath id="gr89"><polygon points="940.4,1575.4 938.8,1546.3 932.0,1539.3 919.4,1572.5 920.6,1574.0"/></clipPath><clipPath id="gr90"><polygon points="944.6,1585.6 937.1,1601.2 954.3,1618.7 959.8,1607.3 958.4,1601.2"/></clipPath><clipPath id="gr91"><polygon points="958.2,1391.6 961.2,1387.2 971.9,1393.0 973.7,1407.6 961.5,1400.1"/></clipPath><clipPath id="gr92"><polygon points="1117.0,1594.5 1133.3,1588.2 1139.6,1561.4 1134.8,1556.4 1120.4,1560.7"/></clipPath><clipPath id="gr93"><polygon points="1100.0,1541.6 1073.0,1555.3 1066.2,1551.0 1063.8,1543.1 1069.4,1533.2 1097.9,1527.3"/></clipPath><clipPath id="gr94"><polygon points="1110.0,1472.7 1085.9,1507.3 1086.7,1508.6 1098.5,1513.6 1128.4,1503.6 1118.6,1468.9"/></clipPath><clipPath id="gr95"><polygon points="1038.3,1365.2 1045.4,1374.6 1027.1,1387.9 1017.9,1379.3 1015.2,1361.9 1028.8,1355.2"/></clipPath><clipPath id="gr96"><polygon points="1021.9,1588.5 1029.2,1588.5 1046.4,1603.4 1048.3,1627.9 1025.0,1630.7 1012.6,1624.7 1009.6,1622.0 1000.8,1607.8"/></clipPath><clipPath id="gr97"><polygon points="1077.8,1591.0 1046.4,1603.4 1048.3,1627.9 1061.6,1650.3 1068.3,1646.2 1071.9,1643.0"/></clipPath><clipPath id="gr98"><polygon points="984.3,1650.4 1011.3,1665.2 1012.8,1649.5 1009.2,1641.6 1002.7,1636.2 989.9,1637.5"/></clipPath><clipPath id="gr99"><polygon points="864.3,1623.9 862.7,1638.0 873.3,1651.2 893.9,1635.6 875.1,1624.2 867.2,1621.5"/></clipPath><clipPath id="gr100"><polygon points="960.9,1382.3 974.9,1371.6 979.8,1357.2 979.2,1350.2 935.6,1369.0 935.1,1369.9"/></clipPath><clipPath id="gr101"><polygon points="1065.0,1490.9 1058.2,1501.3 1045.8,1512.2 1034.4,1505.8 1021.4,1476.1 1027.1,1470.1 1030.8,1468.3"/></clipPath><clipPath id="gr102"><polygon points="984.3,1650.4 989.9,1637.5 990.2,1617.5 960.5,1623.2 976.5,1651.8"/></clipPath><clipPath id="gr103"><polygon points="875.1,1563.0 866.6,1553.5 868.6,1545.3 873.4,1540.8 883.5,1544.6 886.3,1548.4"/></clipPath><clipPath id="gr104"><polygon points="973.8,1499.5 983.3,1498.2 985.2,1525.2 963.6,1526.4"/></clipPath><clipPath id="gr105"><polygon points="1027.1,1387.9 1025.3,1397.9 1010.4,1413.9 1004.2,1413.8 995.5,1411.9 994.0,1403.8 999.2,1378.8 1012.3,1378.5 1017.9,1379.3"/></clipPath><clipPath id="gr106"><polygon points="1009.2,1641.6 1012.6,1624.7 1009.6,1622.0 1002.7,1636.2"/></clipPath><clipPath id="gr107"><polygon points="880.7,1371.5 878.3,1342.7 906.3,1342.7 896.6,1383.3 891.3,1380.6"/></clipPath><clipPath id="gr108"><polygon points="869.7,1501.3 860.4,1515.5 845.8,1518.2 855.9,1488.9 863.8,1488.9 870.0,1496.8"/></clipPath><clipPath id="gr109"><polygon points="1149.0,1362.2 1153.3,1342.7 1172.6,1342.7 1172.6,1364.6"/></clipPath><clipPath id="gr110"><polygon points="1139.4,1517.3 1141.9,1524.5 1172.6,1536.8 1172.6,1495.8 1139.0,1511.9"/></clipPath><clipPath id="gr111"><polygon points="870.2,1496.6 883.9,1483.6 868.1,1473.6 863.8,1488.9 870.0,1496.8"/></clipPath><clipPath id="gr112"><polygon points="883.3,1576.9 879.8,1585.2 892.9,1597.4 900.5,1602.1 917.2,1596.8 920.6,1574.0 919.4,1572.5 900.4,1565.7"/></clipPath><clipPath id="gr113"><polygon points="1039.6,1454.7 1038.3,1442.0 1032.4,1434.8 1011.2,1415.1 1009.5,1449.0 1027.1,1470.1 1030.8,1468.3"/></clipPath><clipPath id="gr114"><polygon points="899.5,1641.7 930.7,1626.9 940.5,1631.9 936.3,1654.7 909.6,1655.4"/></clipPath><clipPath id="gr115"><polygon points="1110.0,1472.7 1075.9,1482.4 1070.7,1490.1 1085.9,1507.3"/></clipPath><clipPath id="gr116"><polygon points="966.8,1568.6 965.8,1569.5 968.8,1601.5 984.6,1598.2 980.0,1584.0"/></clipPath><clipPath id="gr117"><polygon points="1172.6,1364.6 1149.0,1362.2 1146.6,1365.6 1158.3,1384.5 1172.6,1378.3"/></clipPath><clipPath id="gr118"><polygon points="895.5,1454.6 902.2,1462.9 903.4,1482.5 899.8,1481.8 874.8,1463.0 882.4,1450.2"/></clipPath><clipPath id="gr119"><polygon points="1015.2,1361.9 1017.9,1379.3 1012.3,1378.5 984.8,1342.7 995.4,1342.7"/></clipPath><clipPath id="gr120"><polygon points="834.0,1444.3 834.0,1429.9 855.1,1406.8 877.2,1423.6 874.3,1428.8 835.5,1444.5"/></clipPath><clipPath id="gr121"><polygon points="958.4,1601.2 959.8,1607.3 968.8,1601.5 965.8,1569.5 963.2,1571.1"/></clipPath><clipPath id="gr122"><polygon points="1038.3,1365.2 1045.4,1374.6 1049.7,1373.7 1062.6,1342.7 1039.7,1342.7"/></clipPath><clipPath id="gr123"><polygon points="855.9,1488.9 848.0,1485.3 834.0,1488.2 834.0,1517.2 842.8,1519.3 845.8,1518.2"/></clipPath><clipPath id="gr124"><polygon points="1119.0,1635.1 1133.4,1644.0 1138.4,1681.3 1119.3,1681.3"/></clipPath><clipPath id="gr125"><polygon points="976.5,1651.8 953.9,1675.5 936.3,1654.7 940.5,1631.9 954.5,1620.1 960.5,1623.2"/></clipPath><clipPath id="gr126"><polygon points="1118.6,1468.9 1119.8,1463.7 1172.6,1473.2 1172.6,1495.8 1139.0,1511.9 1128.4,1503.6"/></clipPath><clipPath id="gr127"><polygon points="1118.8,1456.1 1119.8,1463.7 1118.6,1468.9 1110.0,1472.7 1075.9,1482.4 1074.0,1464.8 1096.2,1450.8 1110.5,1452.9"/></clipPath><clipPath id="gr128"><polygon points="873.4,1540.8 876.4,1526.4 888.0,1522.5 908.1,1525.4 883.5,1544.6"/></clipPath><clipPath id="gr129"><polygon points="875.1,1563.0 866.6,1553.5 844.3,1561.9 834.0,1572.8 834.0,1583.1 858.3,1591.1 862.7,1592.3 879.8,1585.2 883.3,1576.9"/></clipPath><clipPath id="gr130"><polygon points="1118.2,1633.5 1101.9,1651.6 1114.7,1681.3 1119.3,1681.3 1119.0,1635.1"/></clipPath><clipPath id="gr131"><polygon points="993.6,1375.1 985.9,1389.5 977.5,1384.5 974.9,1371.6 979.8,1357.2"/></clipPath><clipPath id="gr132"><polygon points="1118.2,1633.5 1115.0,1618.1 1129.8,1618.0 1157.4,1631.2 1149.1,1645.0 1133.4,1644.0 1119.0,1635.1"/></clipPath><clipPath id="gr133"><polygon points="1141.3,1536.8 1172.6,1558.4 1172.6,1536.8 1141.9,1524.5"/></clipPath><clipPath id="gr134"><polygon points="1075.9,1482.4 1070.7,1490.1 1065.0,1490.9 1030.8,1468.3 1039.6,1454.7 1061.3,1452.4 1074.0,1464.8"/></clipPath><clipPath id="gr135"><polygon points="912.8,1401.9 909.4,1398.2 877.2,1423.6 874.3,1428.8 882.4,1450.2 895.5,1454.6 922.4,1415.6 920.4,1412.3"/></clipPath><clipPath id="gr136"><polygon points="1074.0,1464.8 1061.3,1452.4 1075.1,1436.3 1096.2,1450.8"/></clipPath><clipPath id="gr137"><polygon points="1085.9,1507.3 1070.7,1490.1 1065.0,1490.9 1058.2,1501.3 1065.0,1515.4 1073.0,1524.4 1086.7,1508.6"/></clipPath><clipPath id="gr138"><polygon points="984.3,1650.4 1011.3,1665.2 1022.6,1681.3 954.2,1681.3 953.9,1675.5 976.5,1651.8"/></clipPath><clipPath id="gr139"><polygon points="894.1,1496.3 908.7,1488.8 916.3,1493.3 920.2,1499.7 922.2,1520.0 912.4,1525.3 908.1,1525.4 888.0,1522.5 883.1,1507.3"/></clipPath><clipPath id="gr140"><polygon points="877.0,1670.1 903.4,1670.1 905.1,1666.3 909.6,1655.4 899.5,1641.7 899.4,1641.6"/></clipPath><clipPath id="gr141"><polygon points="1004.5,1483.3 1021.4,1476.1 1027.1,1470.1 1009.5,1449.0 995.1,1446.1 992.2,1447.2 988.7,1457.6"/></clipPath><clipPath id="gr142"><polygon points="886.3,1548.4 883.5,1544.6 908.1,1525.4 912.4,1525.3 900.0,1556.4"/></clipPath><clipPath id="gr143"><polygon points="961.2,1387.2 971.9,1393.0 977.5,1384.5 974.9,1371.6 960.9,1382.3"/></clipPath><clipPath id="gr144"><polygon points="835.5,1444.5 855.8,1464.0 848.0,1485.3 834.0,1488.2 834.0,1444.3"/></clipPath><clipPath id="gr145"><polygon points="1034.4,1505.8 1013.8,1523.0 1014.4,1535.5 1019.8,1536.7 1046.8,1529.4 1046.8,1524.5 1045.8,1512.2"/></clipPath><clipPath id="gr146"><polygon points="1133.4,1644.0 1138.4,1681.3 1151.6,1681.3 1149.1,1645.0"/></clipPath><clipPath id="gr147"><polygon points="1165.0,1590.5 1129.8,1618.0 1157.4,1631.2 1172.6,1627.4 1172.6,1588.3"/></clipPath><clipPath id="gr148"><polygon points="996.8,1490.9 1013.8,1523.0 1014.4,1535.5 996.0,1548.1 985.2,1525.2 983.3,1498.2 993.2,1491.8"/></clipPath><clipPath id="gr149"><polygon points="993.2,1491.8 983.3,1498.2 973.8,1499.5 972.4,1499.1 954.2,1485.6 955.0,1470.9 969.4,1465.7"/></clipPath><clipPath id="gr150"><polygon points="858.3,1591.1 846.7,1620.6 834.0,1615.3 834.0,1583.1"/></clipPath><clipPath id="gr151"><polygon points="909.2,1397.1 896.6,1383.3 906.3,1342.7 932.1,1342.7 935.6,1369.0 935.1,1369.9"/></clipPath><clipPath id="gr152"><polygon points="980.0,1584.0 984.6,1598.2 998.2,1608.3 1000.8,1607.8 1021.9,1588.5 1010.7,1576.2"/></clipPath><clipPath id="gr153"><polygon points="996.8,1490.9 1004.5,1483.3 988.7,1457.6 973.0,1457.6 969.4,1465.7 993.2,1491.8"/></clipPath><clipPath id="gr154"><polygon points="1077.2,1387.3 1055.9,1378.0 1051.8,1407.4 1072.1,1399.7"/></clipPath><clipPath id="gr155"><polygon points="834.0,1572.8 834.0,1517.2 842.8,1519.3 847.9,1531.7 844.3,1561.9"/></clipPath><clipPath id="gr156"><polygon points="1009.2,1641.6 1012.8,1649.5 1025.0,1630.7 1012.6,1624.7"/></clipPath><clipPath id="gr157"><polygon points="984.6,1598.2 998.2,1608.3 990.2,1617.5 960.5,1623.2 954.5,1620.1 954.3,1618.7 959.8,1607.3 968.8,1601.5"/></clipPath><clipPath id="gr158"><polygon points="834.0,1369.1 834.0,1342.7 848.2,1342.7 843.8,1366.8"/></clipPath><clipPath id="gr159"><polygon points="1032.4,1434.8 1011.2,1415.1 1010.4,1413.9 1025.3,1397.9 1043.9,1408.5"/></clipPath><clipPath id="gr160"><polygon points="849.9,1397.8 846.5,1396.2 858.1,1369.6 866.2,1368.5 868.4,1369.1"/></clipPath><clipPath id="gr161"><polygon points="973.0,1457.6 963.0,1430.7 956.4,1431.1 946.9,1462.7 955.0,1470.9 969.4,1465.7"/></clipPath><clipPath id="gr162"><polygon points="1012.8,1649.5 1025.0,1630.7 1048.3,1627.9 1061.6,1650.3 1055.9,1681.3 1022.6,1681.3 1011.3,1665.2"/></clipPath><clipPath id="gr163"><polygon points="920.4,1412.3 922.4,1415.6 923.8,1417.2 956.4,1431.1 963.0,1430.7 968.7,1427.6 978.8,1416.7 973.7,1407.6 961.5,1400.1"/></clipPath><clipPath id="gr164"><polygon points="1039.6,1342.7 1028.8,1352.3 1020.0,1342.7"/></clipPath></defs><g clip-path="url(#hcbnz)"><rect x="834.0" y="1342.7" width="338.6" height="338.6" fill="#7a0a0e"/><g clip-path="url(#gr0)"><rect x="858.4" y="1497.5" width="34.2" height="34.2" fill="#e2cc4c"/><g transform="rotate(33 875.5 1514.6)"><polygon points="858,1503 865,1502 872,1506 879,1505 886,1502 893,1507 893,1513 886,1511 879,1511 872,1509 865,1508 858,1511" fill="#b0804e"/><polygon points="858,1514 865,1513 872,1515 879,1515 886,1517 893,1516 893,1520 886,1519 879,1520 872,1519 865,1518 858,1522" fill="#e07514"/></g></g><g clip-path="url(#gr1)"><rect x="1019.1" y="1335.6" width="32.0" height="32.0" fill="#f24331"/><g transform="rotate(52 1035.0 1351.6)"><polygon points="1019,1355 1025,1359 1032,1356 1038,1359 1045,1356 1051,1354 1051,1361 1045,1362 1038,1360 1032,1359 1025,1360 1019,1363" fill="#8e8e8e"/><polygon points="1019,1363 1025,1362 1032,1362 1038,1366 1045,1362 1051,1364 1051,1368 1045,1367 1038,1369 1032,1366 1025,1369 1019,1366" fill="#7a0a0e"/></g></g><g clip-path="url(#gr2)"><rect x="851.5" y="1619.2" width="63.8" height="63.8" fill="#e2cc4c"/><g transform="rotate(145 883.4 1651.1)"><polygon points="851,1629 864,1628 877,1626 890,1630 903,1626 915,1626 915,1632 903,1630 890,1630 877,1629 864,1629 851,1631" fill="#7a0a0e"/><polygon points="851,1636 864,1637 877,1639 890,1637 903,1637 915,1639 915,1639 903,1639 890,1643 877,1642 864,1639 851,1639" fill="#b0804e"/><polygon points="851,1665 864,1663 877,1663 890,1668 903,1664 915,1666 915,1669 903,1672 890,1671 877,1670 864,1669 851,1672" fill="#7a0a0e"/><polygon points="851,1675 864,1676 877,1675 890,1674 903,1677 915,1673 915,1675 903,1677 890,1677 877,1676 864,1676 851,1677" fill="#b0804e"/></g></g><g clip-path="url(#gr3)"><rect x="843.0" y="1358.2" width="50.5" height="50.5" fill="#e07514"/><g transform="rotate(160 868.2 1383.5)"><polygon points="843,1366 853,1366 863,1366 873,1370 883,1369 894,1370 894,1373 883,1376 873,1375 863,1377 853,1375 843,1378" fill="#7a0a0e"/><polygon points="843,1384 853,1385 863,1384 873,1384 883,1384 894,1385 894,1387 883,1389 873,1390 863,1389 853,1387 843,1389" fill="#8e8e8e"/><polygon points="843,1398 853,1397 863,1398 873,1398 883,1396 894,1398 894,1408 883,1408 873,1407 863,1405 853,1407 843,1406" fill="#7a0a0e"/></g></g><g clip-path="url(#gr4)"><rect x="1120.7" y="1527.1" width="63.0" height="63.0" fill="#e2cc4c"/><g transform="rotate(135 1152.2 1558.5)"><polygon points="1121,1532 1133,1531 1146,1532 1158,1534 1171,1530 1184,1529 1184,1534 1171,1536 1158,1533 1146,1533 1133,1537 1121,1535" fill="#7014f0"/><polygon points="1121,1544 1133,1546 1146,1547 1158,1548 1171,1548 1184,1545 1184,1549 1171,1548 1158,1547 1146,1549 1133,1550 1121,1551" fill="#7014f0"/><polygon points="1121,1560 1133,1559 1146,1559 1158,1560 1171,1561 1184,1560 1184,1562 1171,1565 1158,1566 1146,1563 1133,1561 1121,1561" fill="#7014f0"/><polygon points="1121,1569 1133,1568 1146,1567 1158,1569 1171,1565 1184,1566 1184,1571 1171,1569 1158,1573 1146,1570 1133,1570 1121,1569" fill="#7a0a0e"/><polygon points="1121,1575 1133,1576 1146,1576 1158,1577 1171,1576 1184,1573 1184,1578 1171,1577 1158,1576 1146,1578 1133,1579 1121,1577" fill="#7014f0"/><polygon points="1121,1583 1133,1582 1146,1583 1158,1583 1171,1582 1184,1584 1184,1587 1171,1583 1158,1587 1146,1586 1133,1583 1121,1585" fill="#7a0a0e"/></g></g><g clip-path="url(#gr5)"><rect x="924.8" y="1487.7" width="58.9" height="58.9" fill="#8e8e8e"/><g transform="rotate(143 954.2 1517.1)"><polygon points="925,1496 937,1496 948,1495 960,1496 972,1493 984,1496 984,1504 972,1504 960,1502 948,1503 937,1501 925,1504" fill="#e07514"/><polygon points="925,1507 937,1509 948,1509 960,1510 972,1509 984,1507 984,1519 972,1515 960,1519 948,1515 937,1516 925,1519" fill="#7014f0"/><polygon points="925,1524 937,1525 948,1525 960,1524 972,1526 984,1524 984,1531 972,1526 960,1527 948,1529 937,1527 925,1530" fill="#e07514"/><polygon points="925,1540 937,1538 948,1537 960,1538 972,1540 984,1540 984,1544 972,1547 960,1548 948,1545 937,1546 925,1544" fill="#7014f0"/></g></g><g clip-path="url(#gr6)"><rect x="1031.6" y="1413.4" width="51.2" height="51.2" fill="#e2cc4c"/><g transform="rotate(174 1057.2 1439.0)"><polygon points="1032,1418 1042,1419 1052,1416 1062,1418 1073,1417 1083,1420 1083,1426 1073,1423 1062,1424 1052,1422 1042,1424 1032,1425" fill="#e07514"/><polygon points="1032,1428 1042,1427 1052,1430 1062,1431 1073,1427 1083,1430 1083,1433 1073,1434 1062,1434 1052,1436 1042,1434 1032,1435" fill="#7a0a0e"/><polygon points="1032,1441 1042,1438 1052,1440 1062,1439 1073,1439 1083,1440 1083,1445 1073,1445 1062,1445 1052,1446 1042,1444 1032,1444" fill="#e07514"/><polygon points="1032,1451 1042,1453 1052,1452 1062,1453 1073,1450 1083,1452 1083,1458 1073,1459 1062,1456 1052,1456 1042,1459 1032,1455" fill="#7a0a0e"/></g></g><g clip-path="url(#gr7)"><rect x="853.5" y="1582.0" width="44.2" height="44.2" fill="#7a0a0e"/><g transform="rotate(76 875.5 1604.1)"><polygon points="853,1581 862,1582 871,1585 880,1586 889,1586 898,1582 898,1589 889,1591 880,1589 871,1590 862,1588 853,1587" fill="#f24331"/><polygon points="853,1597 862,1597 871,1597 880,1595 889,1595 898,1596 898,1603 889,1604 880,1604 871,1599 862,1599 853,1604" fill="#7014f0"/><polygon points="853,1609 862,1610 871,1610 880,1610 889,1611 898,1608 898,1617 889,1618 880,1615 871,1616 862,1617 853,1616" fill="#f24331"/><polygon points="853,1624 862,1621 871,1626 880,1625 889,1625 898,1625 898,1629 889,1628 880,1629 871,1628 862,1631 853,1630" fill="#7014f0"/></g></g><g clip-path="url(#gr8)"><rect x="1038.7" y="1498.1" width="30.6" height="30.6" fill="#7a0a0e"/><g transform="rotate(140 1054.0 1513.4)"><polygon points="1039,1518 1045,1517 1051,1518 1057,1515 1063,1516 1069,1517 1069,1521 1063,1523 1057,1525 1051,1525 1045,1523 1039,1526" fill="#f24331"/></g></g><g clip-path="url(#gr9)"><rect x="1087.5" y="1494.8" width="55.8" height="55.8" fill="#e07514"/><g transform="rotate(70 1115.4 1522.7)"><polygon points="1087,1507 1099,1502 1110,1505 1121,1506 1132,1503 1143,1504 1143,1510 1132,1511 1121,1511 1110,1510 1099,1511 1087,1514" fill="#8e8e8e"/><polygon points="1087,1522 1099,1520 1110,1522 1121,1520 1132,1521 1143,1517 1143,1527 1132,1528 1121,1524 1110,1529 1099,1525 1087,1526" fill="#e2cc4c"/><polygon points="1087,1535 1099,1532 1110,1537 1121,1534 1132,1535 1143,1535 1143,1539 1132,1539 1121,1540 1110,1540 1099,1539 1087,1541" fill="#8e8e8e"/><polygon points="1087,1548 1099,1547 1110,1548 1121,1551 1132,1549 1143,1551 1143,1556 1132,1553 1121,1558 1110,1557 1099,1553 1087,1557" fill="#e2cc4c"/></g></g><g clip-path="url(#gr10)"><rect x="1132.3" y="1385.7" width="57.7" height="57.7" fill="#e2cc4c"/><g transform="rotate(94 1161.1 1414.6)"><polygon points="1132,1409 1144,1411 1155,1410 1167,1409 1178,1408 1190,1411 1190,1417 1178,1418 1167,1419 1155,1418 1144,1417 1132,1419" fill="#7a0a0e"/><polygon points="1132,1425 1144,1428 1155,1427 1167,1426 1178,1424 1190,1423 1190,1433 1178,1433 1167,1432 1155,1431 1144,1430 1132,1432" fill="#b0804e"/><polygon points="1132,1440 1144,1441 1155,1438 1167,1438 1178,1442 1190,1442 1190,1448 1178,1444 1167,1444 1155,1445 1144,1446 1132,1447" fill="#7a0a0e"/></g></g><g clip-path="url(#gr11)"><rect x="985.0" y="1466.6" width="58.4" height="58.4" fill="#7a0a0e"/><g transform="rotate(99 1014.2 1495.8)"><polygon points="985,1470 997,1472 1008,1473 1020,1469 1032,1469 1043,1473 1043,1477 1032,1478 1020,1475 1008,1476 997,1475 985,1478" fill="#e2cc4c"/><polygon points="985,1486 997,1482 1008,1483 1020,1484 1032,1485 1043,1483 1043,1487 1032,1486 1020,1490 1008,1486 997,1486 985,1488" fill="#e07514"/><polygon points="985,1494 997,1497 1008,1493 1020,1494 1032,1496 1043,1493 1043,1500 1032,1502 1020,1502 1008,1499 997,1499 985,1500" fill="#e2cc4c"/><polygon points="985,1505 997,1508 1008,1508 1020,1509 1032,1509 1043,1509 1043,1513 1032,1515 1020,1513 1008,1513 997,1513 985,1516" fill="#e07514"/><polygon points="985,1519 997,1519 1008,1519 1020,1519 1032,1519 1043,1518 1043,1526 1032,1528 1020,1526 1008,1528 997,1526 985,1525" fill="#e2cc4c"/></g></g><g clip-path="url(#gr12)"><rect x="918.8" y="1511.2" width="63.5" height="63.5" fill="#f24331"/><g transform="rotate(4 950.6 1543.0)"><polygon points="919,1541 931,1537 944,1537 957,1541 970,1542 982,1537 982,1544 970,1541 957,1544 944,1544 931,1542 919,1542" fill="#7014f0"/><polygon points="919,1552 931,1550 944,1550 957,1553 970,1551 982,1551 982,1557 970,1558 957,1558 944,1559 931,1556 919,1558" fill="#8e8e8e"/></g></g><g clip-path="url(#gr13)"><rect x="889.8" y="1586.1" width="45.6" height="45.6" fill="#7014f0"/><g transform="rotate(94 912.6 1608.9)"><polygon points="890,1595 899,1597 908,1599 917,1596 926,1595 935,1595 935,1601 926,1601 917,1604 908,1599 899,1601 890,1600" fill="#b0804e"/><polygon points="890,1607 899,1607 908,1609 917,1609 926,1611 935,1607 935,1613 926,1614 917,1614 908,1614 899,1616 890,1616" fill="#e07514"/><polygon points="890,1621 899,1620 908,1623 917,1621 926,1622 935,1623 935,1626 926,1625 917,1628 908,1628 899,1626 890,1627" fill="#b0804e"/></g></g><g clip-path="url(#gr14)"><rect x="1096.9" y="1357.9" width="50.7" height="50.7" fill="#b0804e"/><g transform="rotate(9 1122.2 1383.3)"><polygon points="1097,1370 1107,1368 1117,1372 1127,1370 1137,1368 1148,1367 1148,1376 1137,1375 1127,1377 1117,1377 1107,1376 1097,1374" fill="#e2cc4c"/><polygon points="1097,1383 1107,1386 1117,1384 1127,1385 1137,1387 1148,1383 1148,1389 1137,1388 1127,1391 1117,1387 1107,1391 1097,1391" fill="#7a0a0e"/><polygon points="1097,1398 1107,1400 1117,1397 1127,1399 1137,1399 1148,1401 1148,1407 1137,1409 1127,1406 1117,1408 1107,1406 1097,1409" fill="#e2cc4c"/></g></g><g clip-path="url(#gr15)"><rect x="966.7" y="1404.9" width="44.7" height="44.7" fill="#7a0a0e"/><g transform="rotate(95 989.1 1427.2)"><polygon points="967,1410 976,1411 985,1412 994,1413 1002,1411 1011,1413 1011,1413 1002,1414 994,1415 985,1417 976,1417 967,1416" fill="#7014f0"/><polygon points="967,1421 976,1419 985,1420 994,1420 1002,1418 1011,1422 1011,1424 1002,1421 994,1423 985,1421 976,1422 967,1423" fill="#e2cc4c"/><polygon points="967,1428 976,1429 985,1427 994,1427 1002,1429 1011,1427 1011,1434 1002,1432 994,1433 985,1431 976,1433 967,1429" fill="#7014f0"/><polygon points="967,1437 976,1438 985,1435 994,1436 1002,1438 1011,1437 1011,1437 1002,1438 994,1438 985,1437 976,1439 967,1437" fill="#e2cc4c"/><polygon points="967,1445 976,1446 985,1446 994,1446 1002,1444 1011,1444 1011,1449 1002,1447 994,1449 985,1451 976,1452 967,1451" fill="#7014f0"/></g></g><g clip-path="url(#gr16)"><rect x="822.7" y="1634.3" width="60.6" height="60.6" fill="#e07514"/><g transform="rotate(62 853.0 1664.6)"><polygon points="823,1637 835,1637 847,1636 859,1634 871,1637 883,1638 883,1641 871,1640 859,1641 847,1639 835,1642 823,1643" fill="#7a0a0e"/><polygon points="823,1649 835,1646 847,1650 859,1648 871,1646 883,1646 883,1652 871,1654 859,1654 847,1652 835,1655 823,1653" fill="#8e8e8e"/><polygon points="823,1662 835,1658 847,1662 859,1660 871,1660 883,1660 883,1664 871,1667 859,1668 847,1667 835,1666 823,1663" fill="#7a0a0e"/><polygon points="823,1674 835,1671 847,1673 859,1674 871,1671 883,1672 883,1677 871,1677 859,1677 847,1681 835,1681 823,1680" fill="#8e8e8e"/><polygon points="823,1686 835,1684 847,1685 859,1686 871,1682 883,1683 883,1689 871,1687 859,1689 847,1690 835,1688 823,1689" fill="#7a0a0e"/></g></g><g clip-path="url(#gr17)"><rect x="963.2" y="1381.8" width="38.5" height="38.5" fill="#7a0a0e"/><g transform="rotate(116 982.4 1401.0)"><polygon points="963,1394 971,1395 979,1395 986,1395 994,1395 1002,1394 1002,1400 994,1399 986,1399 979,1397 971,1397 963,1398" fill="#8e8e8e"/><polygon points="963,1401 971,1401 979,1403 986,1400 994,1399 1002,1402 1002,1407 994,1407 986,1406 979,1407 971,1404 963,1406" fill="#e07514"/><polygon points="963,1408 971,1409 979,1408 986,1406 994,1410 1002,1409 1002,1410 994,1410 986,1410 979,1410 971,1409 963,1413" fill="#8e8e8e"/><polygon points="963,1418 971,1415 979,1417 986,1414 994,1417 1002,1416 1002,1422 994,1418 986,1422 979,1418 971,1420 963,1422" fill="#e07514"/></g></g><g clip-path="url(#gr18)"><rect x="1042.6" y="1395.1" width="40.1" height="40.1" fill="#7a0a0e"/><g transform="rotate(147 1062.7 1415.1)"><polygon points="1043,1396 1051,1401 1059,1398 1067,1399 1075,1401 1083,1401 1083,1403 1075,1402 1067,1403 1059,1406 1051,1406 1043,1402" fill="#8e8e8e"/><polygon points="1043,1409 1051,1407 1059,1411 1067,1411 1075,1407 1083,1410 1083,1413 1075,1416 1067,1412 1059,1413 1051,1416 1043,1414" fill="#7014f0"/><polygon points="1043,1430 1051,1431 1059,1429 1067,1427 1075,1428 1083,1428 1083,1436 1075,1433 1067,1433 1059,1433 1051,1435 1043,1436" fill="#7014f0"/></g></g><g clip-path="url(#gr19)"><rect x="1106.2" y="1387.0" width="60.1" height="60.1" fill="#8e8e8e"/><g transform="rotate(106 1136.3 1417.0)"><polygon points="1106,1388 1118,1390 1130,1388 1142,1392 1154,1389 1166,1390 1166,1395 1154,1392 1142,1395 1130,1394 1118,1393 1106,1396" fill="#e07514"/><polygon points="1106,1400 1118,1397 1130,1397 1142,1399 1154,1397 1166,1400 1166,1404 1154,1399 1142,1401 1130,1403 1118,1401 1106,1403" fill="#7014f0"/><polygon points="1106,1408 1118,1408 1130,1407 1142,1408 1154,1409 1166,1407 1166,1411 1154,1413 1142,1412 1130,1411 1118,1414 1106,1410" fill="#e07514"/><polygon points="1106,1417 1118,1415 1130,1416 1142,1417 1154,1418 1166,1418 1166,1420 1154,1421 1142,1419 1130,1421 1118,1421 1106,1419" fill="#7014f0"/><polygon points="1106,1425 1118,1427 1130,1423 1142,1423 1154,1423 1166,1425 1166,1429 1154,1429 1142,1428 1130,1431 1118,1427 1106,1431" fill="#e07514"/><polygon points="1106,1435 1118,1432 1130,1432 1142,1433 1154,1431 1166,1433 1166,1439 1154,1438 1142,1437 1130,1438 1118,1436 1106,1440" fill="#7014f0"/><polygon points="1106,1441 1118,1444 1130,1444 1142,1444 1154,1440 1166,1442 1166,1445 1154,1444 1142,1448 1130,1443 1118,1446 1106,1447" fill="#e07514"/></g></g><g clip-path="url(#gr20)"><rect x="815.0" y="1374.0" width="60.1" height="60.1" fill="#b0804e"/><g transform="rotate(134 845.1 1404.1)"><polygon points="815,1375 827,1375 839,1375 851,1374 863,1373 875,1378 875,1381 863,1381 851,1379 839,1379 827,1380 815,1379" fill="#7a0a0e"/><polygon points="815,1393 827,1391 839,1388 851,1390 863,1391 875,1388 875,1393 863,1394 851,1395 839,1394 827,1395 815,1393" fill="#7a0a0e"/><polygon points="815,1404 827,1404 839,1403 851,1405 863,1403 875,1404 875,1407 863,1408 851,1407 839,1408 827,1411 815,1409" fill="#7a0a0e"/><polygon points="815,1412 827,1410 839,1413 851,1412 863,1411 875,1410 875,1415 863,1415 851,1416 839,1419 827,1417 815,1415" fill="#e2cc4c"/><polygon points="815,1422 827,1419 839,1421 851,1421 863,1422 875,1417 875,1422 863,1422 851,1421 839,1425 827,1422 815,1424" fill="#7a0a0e"/><polygon points="815,1426 827,1426 839,1425 851,1425 863,1427 875,1425 875,1429 863,1430 851,1431 839,1428 827,1431 815,1429" fill="#e2cc4c"/></g></g><g clip-path="url(#gr21)"><rect x="903.6" y="1469.9" width="71.5" height="71.5" fill="#f24331"/><g transform="rotate(37 939.3 1505.6)"><polygon points="904,1478 918,1475 932,1475 946,1476 961,1475 975,1474 975,1478 961,1481 946,1481 932,1482 918,1483 904,1479" fill="#e07514"/><polygon points="904,1496 918,1497 932,1497 946,1494 961,1496 975,1493 975,1498 961,1498 946,1496 932,1498 918,1497 904,1498" fill="#e07514"/><polygon points="904,1504 918,1504 932,1503 946,1505 961,1503 975,1502 975,1507 961,1507 946,1506 932,1508 918,1509 904,1508" fill="#7a0a0e"/><polygon points="904,1513 918,1513 932,1511 946,1513 961,1511 975,1513 975,1519 961,1518 946,1517 932,1517 918,1516 904,1517" fill="#e07514"/><polygon points="904,1521 918,1523 932,1521 946,1523 961,1523 975,1525 975,1527 961,1528 946,1530 932,1529 918,1529 904,1529" fill="#7a0a0e"/><polygon points="904,1531 918,1534 932,1534 946,1531 961,1534 975,1530 975,1534 961,1536 946,1535 932,1535 918,1538 904,1534" fill="#e07514"/><polygon points="904,1542 918,1540 932,1539 946,1541 961,1541 975,1540 975,1544 961,1545 946,1545 932,1545 918,1545 904,1546" fill="#7a0a0e"/></g></g><g clip-path="url(#gr22)"><rect x="1128.2" y="1553.2" width="56.9" height="56.9" fill="#b0804e"/><g transform="rotate(56 1156.6 1581.6)"><polygon points="1128,1575 1140,1575 1151,1575 1162,1574 1174,1574 1185,1576 1185,1582 1174,1580 1162,1580 1151,1581 1140,1580 1128,1582" fill="#7014f0"/><polygon points="1128,1585 1140,1585 1151,1589 1162,1586 1174,1587 1185,1589 1185,1592 1174,1590 1162,1594 1151,1594 1140,1590 1128,1591" fill="#8e8e8e"/><polygon points="1128,1600 1140,1601 1151,1599 1162,1601 1174,1599 1185,1599 1185,1607 1174,1608 1162,1608 1151,1606 1140,1606 1128,1607" fill="#7014f0"/></g></g><g clip-path="url(#gr23)"><rect x="927.1" y="1321.1" width="60.1" height="60.1" fill="#e07514"/><g transform="rotate(23 957.2 1351.2)"><polygon points="927,1325 939,1328 951,1330 963,1330 975,1326 987,1329 987,1331 975,1332 963,1331 951,1334 939,1334 927,1329" fill="#7014f0"/><polygon points="927,1336 939,1337 951,1339 963,1340 975,1336 987,1337 987,1341 975,1343 963,1343 951,1342 939,1342 927,1344" fill="#f24331"/><polygon points="927,1347 939,1348 951,1349 963,1350 975,1347 987,1349 987,1354 975,1355 963,1352 951,1352 939,1351 927,1356" fill="#7014f0"/><polygon points="927,1356 939,1357 951,1355 963,1358 975,1356 987,1358 987,1360 975,1360 963,1362 951,1361 939,1360 927,1359" fill="#f24331"/><polygon points="927,1376 939,1378 951,1380 963,1376 975,1380 987,1378 987,1381 975,1383 963,1381 951,1380 939,1382 927,1383" fill="#f24331"/></g></g><g clip-path="url(#gr24)"><rect x="848.6" y="1643.7" width="62.7" height="62.7" fill="#e07514"/><g transform="rotate(156 879.9 1675.1)"><polygon points="849,1649 861,1648 874,1649 886,1648 899,1648 911,1650 911,1660 899,1658 886,1659 874,1656 861,1657 849,1661" fill="#8e8e8e"/><polygon points="849,1667 861,1667 874,1667 886,1665 899,1667 911,1667 911,1671 899,1672 886,1668 874,1672 861,1669 849,1671" fill="#b0804e"/><polygon points="849,1694 861,1695 874,1695 886,1696 899,1697 911,1695 911,1701 899,1699 886,1699 874,1702 861,1699 849,1698" fill="#b0804e"/></g></g><g clip-path="url(#gr25)"><rect x="951.3" y="1534.4" width="63.2" height="63.2" fill="#8e8e8e"/><g transform="rotate(134 982.9 1566.0)"><polygon points="951,1540 964,1541 977,1542 989,1540 1002,1542 1015,1542 1015,1545 1002,1546 989,1548 977,1545 964,1548 951,1545" fill="#f24331"/><polygon points="951,1556 964,1553 977,1556 989,1552 1002,1553 1015,1555 1015,1558 1002,1558 989,1560 977,1562 964,1559 951,1558" fill="#7a0a0e"/><polygon points="951,1576 964,1577 977,1575 989,1577 1002,1578 1015,1578 1015,1581 1002,1580 989,1580 977,1578 964,1582 951,1581" fill="#7a0a0e"/><polygon points="951,1587 964,1587 977,1586 989,1588 1002,1588 1015,1588 1015,1590 1002,1593 989,1592 977,1593 964,1593 951,1595" fill="#f24331"/></g></g><g clip-path="url(#gr26)"><rect x="835.8" y="1339.5" width="37.1" height="37.1" fill="#7a0a0e"/><g transform="rotate(133 854.3 1358.1)"><polygon points="836,1348 843,1345 851,1349 858,1346 865,1345 873,1348 873,1353 865,1354 858,1354 851,1354 843,1352 836,1355" fill="#e2cc4c"/><polygon points="836,1367 843,1365 851,1366 858,1367 865,1364 873,1364 873,1371 865,1368 858,1371 851,1372 843,1370 836,1369" fill="#e2cc4c"/></g></g><g clip-path="url(#gr27)"><rect x="1099.0" y="1513.0" width="59.1" height="59.1" fill="#f24331"/><g transform="rotate(143 1128.5 1542.6)"><polygon points="1099,1515 1111,1518 1123,1518 1134,1514 1146,1514 1158,1515 1158,1521 1146,1519 1134,1521 1123,1517 1111,1521 1099,1517" fill="#e2cc4c"/><polygon points="1099,1533 1111,1532 1123,1530 1134,1532 1146,1532 1158,1533 1158,1536 1146,1537 1134,1538 1123,1535 1111,1535 1099,1538" fill="#e2cc4c"/><polygon points="1099,1539 1111,1543 1123,1541 1134,1540 1146,1539 1158,1543 1158,1545 1146,1545 1134,1544 1123,1543 1111,1544 1099,1543" fill="#7014f0"/><polygon points="1099,1551 1111,1548 1123,1549 1134,1549 1146,1551 1158,1548 1158,1554 1146,1552 1134,1553 1123,1552 1111,1555 1099,1552" fill="#e2cc4c"/><polygon points="1099,1557 1111,1559 1123,1557 1134,1558 1146,1558 1158,1557 1158,1560 1146,1561 1134,1561 1123,1561 1111,1564 1099,1561" fill="#7014f0"/><polygon points="1099,1564 1111,1565 1123,1563 1134,1567 1146,1564 1158,1565 1158,1569 1146,1571 1134,1571 1123,1570 1111,1570 1099,1568" fill="#e2cc4c"/></g></g><g clip-path="url(#gr28)"><rect x="904.0" y="1412.5" width="64.9" height="64.9" fill="#7014f0"/><g transform="rotate(67 936.4 1444.9)"><polygon points="904,1434 917,1434 930,1433 943,1434 956,1433 969,1435 969,1442 956,1444 943,1444 930,1444 917,1441 904,1443" fill="#8e8e8e"/><polygon points="904,1449 917,1444 930,1446 943,1446 956,1447 969,1445 969,1455 956,1451 943,1452 930,1451 917,1452 904,1454" fill="#7a0a0e"/><polygon points="904,1460 917,1460 930,1461 943,1458 956,1461 969,1461 969,1465 956,1462 943,1463 930,1461 917,1465 904,1466" fill="#8e8e8e"/><polygon points="904,1471 917,1472 930,1472 943,1470 956,1474 969,1471 969,1479 956,1478 943,1480 930,1478 917,1477 904,1479" fill="#7a0a0e"/></g></g><g clip-path="url(#gr29)"><rect x="848.9" y="1362.9" width="70.7" height="70.7" fill="#8e8e8e"/><g transform="rotate(75 884.2 1398.3)"><polygon points="849,1364 863,1366 877,1363 891,1366 905,1363 920,1367 920,1368 905,1367 891,1368 877,1370 863,1370 849,1367" fill="#f24331"/><polygon points="849,1374 863,1373 877,1373 891,1370 905,1372 920,1370 920,1372 905,1373 891,1377 877,1375 863,1376 849,1372" fill="#7a0a0e"/><polygon points="849,1378 863,1377 877,1382 891,1379 905,1379 920,1380 920,1385 905,1385 891,1383 877,1383 863,1385 849,1382" fill="#f24331"/><polygon points="849,1386 863,1386 877,1387 891,1387 905,1386 920,1387 920,1390 905,1388 891,1391 877,1388 863,1390 849,1390" fill="#7a0a0e"/><polygon points="849,1392 863,1394 877,1393 891,1394 905,1393 920,1396 920,1397 905,1395 891,1397 877,1400 863,1395 849,1398" fill="#f24331"/><polygon points="849,1402 863,1401 877,1401 891,1402 905,1402 920,1401 920,1406 905,1406 891,1407 877,1404 863,1404 849,1405" fill="#7a0a0e"/><polygon points="849,1409 863,1411 877,1409 891,1408 905,1410 920,1407 920,1414 905,1414 891,1411 877,1411 863,1414 849,1413" fill="#f24331"/><polygon points="849,1418 863,1414 877,1417 891,1417 905,1419 920,1417 920,1418 905,1422 891,1422 877,1421 863,1418 849,1421" fill="#7a0a0e"/><polygon points="849,1426 863,1426 877,1422 891,1425 905,1424 920,1425 920,1427 905,1427 891,1427 877,1425 863,1426 849,1428" fill="#f24331"/><polygon points="849,1433 863,1432 877,1432 891,1430 905,1430 920,1431 920,1436 905,1434 891,1436 877,1432 863,1433 849,1434" fill="#7a0a0e"/></g></g><g clip-path="url(#gr30)"><rect x="817.3" y="1602.8" width="49.7" height="49.7" fill="#7014f0"/><g transform="rotate(6 842.2 1627.6)"><polygon points="817,1617 827,1619 837,1615 847,1618 857,1615 867,1618 867,1620 857,1621 847,1620 837,1621 827,1622 817,1622" fill="#e2cc4c"/><polygon points="817,1629 827,1627 837,1628 847,1628 857,1630 867,1627 867,1633 857,1631 847,1631 837,1633 827,1632 817,1631" fill="#7a0a0e"/><polygon points="817,1648 827,1649 837,1649 847,1651 857,1651 867,1648 867,1653 857,1651 847,1654 837,1651 827,1652 817,1655" fill="#7a0a0e"/></g></g><g clip-path="url(#gr31)"><rect x="974.1" y="1367.8" width="38.1" height="38.1" fill="#7a0a0e"/><g transform="rotate(99 993.2 1386.8)"><polygon points="974,1371 982,1367 989,1371 997,1368 1005,1368 1012,1369 1012,1375 1005,1373 997,1376 989,1375 982,1377 974,1377" fill="#f24331"/><polygon points="974,1381 982,1380 989,1378 997,1381 1005,1380 1012,1378 1012,1383 1005,1381 997,1384 989,1383 982,1383 974,1383" fill="#e07514"/><polygon points="974,1387 982,1388 989,1387 997,1389 1005,1390 1012,1387 1012,1394 1005,1394 997,1392 989,1392 982,1393 974,1392" fill="#f24331"/></g></g><g clip-path="url(#gr32)"><rect x="1057.7" y="1374.5" width="54.7" height="54.7" fill="#f24331"/><g transform="rotate(65 1085.1 1401.9)"><polygon points="1058,1379 1069,1380 1080,1378 1091,1378 1101,1377 1112,1376 1112,1386 1101,1381 1091,1386 1080,1384 1069,1381 1058,1385" fill="#7a0a0e"/><polygon points="1058,1389 1069,1393 1080,1390 1091,1393 1101,1389 1112,1392 1112,1393 1101,1393 1091,1396 1080,1398 1069,1396 1058,1397" fill="#b0804e"/><polygon points="1058,1402 1069,1404 1080,1403 1091,1404 1101,1404 1112,1404 1112,1410 1101,1412 1091,1411 1080,1411 1069,1409 1058,1411" fill="#7a0a0e"/></g></g><g clip-path="url(#gr33)"><rect x="836.2" y="1527.4" width="41.3" height="41.3" fill="#e07514"/><g transform="rotate(60 856.8 1548.1)"><polygon points="836,1564 844,1565 853,1565 861,1565 869,1565 878,1567 878,1570 869,1572 861,1574 853,1569 844,1570 836,1574" fill="#7a0a0e"/></g></g><g clip-path="url(#gr34)"><rect x="1106.8" y="1329.8" width="55.8" height="55.8" fill="#b0804e"/><g transform="rotate(124 1134.7 1357.7)"><polygon points="1107,1349 1118,1350 1129,1349 1140,1347 1151,1347 1163,1347 1163,1348 1151,1352 1140,1350 1129,1351 1118,1351 1107,1350" fill="#7014f0"/><polygon points="1107,1357 1118,1360 1129,1357 1140,1357 1151,1357 1163,1358 1163,1366 1151,1363 1140,1363 1129,1365 1118,1363 1107,1364" fill="#7a0a0e"/><polygon points="1107,1380 1118,1380 1129,1382 1140,1382 1151,1382 1163,1381 1163,1383 1151,1386 1140,1384 1129,1383 1118,1384 1107,1387" fill="#7a0a0e"/></g></g><g clip-path="url(#gr35)"><rect x="1075.7" y="1367.6" width="59.8" height="59.8" fill="#8e8e8e"/><g transform="rotate(142 1105.6 1397.5)"><polygon points="1076,1371 1088,1373 1100,1373 1112,1372 1124,1374 1136,1370 1136,1379 1124,1379 1112,1377 1100,1381 1088,1377 1076,1378" fill="#b0804e"/><polygon points="1076,1401 1088,1397 1100,1400 1112,1401 1124,1397 1136,1397 1136,1407 1124,1408 1112,1407 1100,1409 1088,1406 1076,1406" fill="#b0804e"/><polygon points="1076,1414 1088,1410 1100,1410 1112,1411 1124,1410 1136,1411 1136,1415 1124,1414 1112,1416 1100,1417 1088,1417 1076,1418" fill="#7a0a0e"/></g></g><g clip-path="url(#gr36)"><rect x="846.0" y="1335.2" width="47.5" height="47.5" fill="#7a0a0e"/><g transform="rotate(166 869.8 1358.9)"><polygon points="846,1336 856,1338 865,1339 875,1337 884,1337 893,1339 893,1341 884,1340 875,1344 865,1344 856,1339 846,1343" fill="#8e8e8e"/><polygon points="846,1346 856,1346 865,1349 875,1347 884,1346 893,1347 893,1354 884,1353 875,1353 865,1352 856,1351 846,1350" fill="#f24331"/><polygon points="846,1358 856,1360 865,1358 875,1359 884,1360 893,1358 893,1363 884,1365 875,1364 865,1363 856,1364 846,1363" fill="#8e8e8e"/></g></g><g clip-path="url(#gr37)"><rect x="912.5" y="1567.2" width="40.1" height="40.1" fill="#7014f0"/><g transform="rotate(177 932.5 1587.3)"><polygon points="912,1569 920,1567 929,1571 937,1568 945,1567 953,1570 953,1573 945,1574 937,1574 929,1576 920,1574 912,1573" fill="#7a0a0e"/><polygon points="912,1577 920,1579 929,1579 937,1578 945,1576 953,1578 953,1581 945,1582 937,1583 929,1580 920,1581 912,1579" fill="#e2cc4c"/><polygon points="912,1589 920,1589 929,1586 937,1589 945,1587 953,1587 953,1593 945,1595 937,1592 929,1592 920,1591 912,1594" fill="#7a0a0e"/><polygon points="912,1595 920,1595 929,1598 937,1598 945,1599 953,1599 953,1602 945,1602 937,1602 929,1603 920,1602 912,1599" fill="#e2cc4c"/><polygon points="912,1605 920,1608 929,1604 937,1606 945,1605 953,1608 953,1612 945,1613 937,1613 929,1612 920,1609 912,1612" fill="#7a0a0e"/></g></g><g clip-path="url(#gr38)"><rect x="978.4" y="1601.4" width="40.3" height="40.3" fill="#7a0a0e"/><g transform="rotate(56 998.6 1621.5)"><polygon points="978,1617 986,1614 995,1618 1003,1617 1011,1617 1019,1618 1019,1620 1011,1622 1003,1621 995,1620 986,1619 978,1619" fill="#7014f0"/><polygon points="978,1626 986,1623 995,1625 1003,1626 1011,1625 1019,1624 1019,1626 1011,1626 1003,1625 995,1628 986,1628 978,1629" fill="#b0804e"/><polygon points="978,1644 986,1642 995,1644 1003,1643 1011,1640 1019,1640 1019,1646 1011,1646 1003,1644 995,1648 986,1646 978,1646" fill="#b0804e"/></g></g><g clip-path="url(#gr39)"><rect x="885.4" y="1411.9" width="56.0" height="56.0" fill="#f24331"/><g transform="rotate(43 913.4 1440.0)"><polygon points="885,1413 897,1415 908,1413 919,1412 930,1412 941,1411 941,1416 930,1418 919,1414 908,1415 897,1417 885,1417" fill="#7a0a0e"/><polygon points="885,1424 897,1424 908,1421 919,1422 930,1425 941,1422 941,1425 930,1428 919,1425 908,1425 897,1427 885,1426" fill="#e07514"/><polygon points="885,1431 897,1433 908,1433 919,1433 930,1432 941,1432 941,1435 930,1437 919,1439 908,1439 897,1435 885,1435" fill="#7a0a0e"/><polygon points="885,1441 897,1440 908,1441 919,1442 930,1443 941,1441 941,1446 930,1446 919,1446 908,1443 897,1446 885,1443" fill="#e07514"/><polygon points="885,1449 897,1449 908,1451 919,1451 930,1449 941,1453 941,1456 930,1454 919,1455 908,1453 897,1457 885,1452" fill="#7a0a0e"/><polygon points="885,1463 897,1461 908,1460 919,1460 930,1463 941,1460 941,1466 930,1466 919,1464 908,1464 897,1464 885,1464" fill="#e07514"/></g></g><g clip-path="url(#gr40)"><rect x="902.9" y="1639.5" width="59.2" height="59.2" fill="#8e8e8e"/><g transform="rotate(82 932.5 1669.1)"><polygon points="903,1651 915,1651 927,1650 938,1648 950,1650 962,1650 962,1653 950,1655 938,1656 927,1654 915,1655 903,1653" fill="#e07514"/><polygon points="903,1661 915,1660 927,1662 938,1659 950,1661 962,1657 962,1665 950,1666 938,1664 927,1666 915,1664 903,1665" fill="#f24331"/><polygon points="903,1673 915,1668 927,1671 938,1672 950,1672 962,1670 962,1677 950,1678 938,1678 927,1678 915,1677 903,1676" fill="#e07514"/><polygon points="903,1682 915,1684 927,1680 938,1683 950,1680 962,1682 962,1689 950,1686 938,1687 927,1687 915,1687 903,1685" fill="#f24331"/></g></g><g clip-path="url(#gr41)"><rect x="1106.8" y="1413.9" width="75.2" height="75.2" fill="#e07514"/><g transform="rotate(76 1144.4 1451.5)"><polygon points="1107,1421 1122,1419 1137,1421 1152,1418 1167,1420 1182,1417 1182,1421 1167,1423 1152,1423 1137,1424 1122,1422 1107,1421" fill="#8e8e8e"/><polygon points="1107,1425 1122,1426 1137,1428 1152,1425 1167,1426 1182,1429 1182,1433 1167,1429 1152,1429 1137,1428 1122,1428 1107,1432" fill="#f24331"/><polygon points="1107,1435 1122,1436 1137,1433 1152,1437 1167,1437 1182,1434 1182,1440 1167,1440 1152,1439 1137,1441 1122,1438 1107,1439" fill="#8e8e8e"/><polygon points="1107,1445 1122,1444 1137,1444 1152,1446 1167,1442 1182,1442 1182,1447 1167,1445 1152,1449 1137,1446 1122,1446 1107,1446" fill="#f24331"/><polygon points="1107,1459 1122,1461 1137,1458 1152,1462 1167,1462 1182,1458 1182,1463 1167,1462 1152,1465 1137,1462 1122,1465 1107,1462" fill="#f24331"/><polygon points="1107,1468 1122,1466 1137,1466 1152,1467 1167,1470 1182,1468 1182,1474 1167,1470 1152,1470 1137,1470 1122,1473 1107,1471" fill="#8e8e8e"/><polygon points="1107,1477 1122,1475 1137,1476 1152,1475 1167,1476 1182,1475 1182,1478 1167,1478 1152,1478 1137,1478 1122,1477 1107,1478" fill="#f24331"/><polygon points="1107,1482 1122,1486 1137,1484 1152,1484 1167,1483 1182,1486 1182,1489 1167,1489 1152,1489 1137,1489 1122,1488 1107,1488" fill="#8e8e8e"/></g></g><g clip-path="url(#gr42)"><rect x="955.6" y="1422.7" width="43.0" height="43.0" fill="#8e8e8e"/><g transform="rotate(161 977.1 1444.2)"><polygon points="956,1424 964,1423 973,1422 981,1421 990,1425 999,1425 999,1427 990,1427 981,1428 973,1426 964,1426 956,1427" fill="#e2cc4c"/><polygon points="956,1452 964,1449 973,1449 981,1448 990,1451 999,1449 999,1455 990,1450 981,1455 973,1450 964,1450 956,1452" fill="#f24331"/><polygon points="956,1458 964,1460 973,1458 981,1459 990,1458 999,1458 999,1461 990,1462 981,1464 973,1463 964,1461 956,1462" fill="#e2cc4c"/></g></g><g clip-path="url(#gr43)"><rect x="1055.0" y="1334.2" width="64.5" height="64.5" fill="#e2cc4c"/><g transform="rotate(114 1087.2 1366.5)"><polygon points="1055,1334 1068,1337 1081,1335 1094,1338 1107,1336 1119,1334 1119,1340 1107,1338 1094,1341 1081,1340 1068,1341 1055,1337" fill="#8e8e8e"/><polygon points="1055,1341 1068,1341 1081,1341 1094,1341 1107,1343 1119,1345 1119,1344 1107,1344 1094,1347 1081,1344 1068,1346 1055,1346" fill="#e07514"/><polygon points="1055,1350 1068,1349 1081,1352 1094,1349 1107,1351 1119,1348 1119,1354 1107,1357 1094,1353 1081,1353 1068,1356 1055,1355" fill="#8e8e8e"/><polygon points="1055,1356 1068,1356 1081,1359 1094,1358 1107,1360 1119,1358 1119,1360 1107,1359 1094,1361 1081,1359 1068,1357 1055,1359" fill="#e07514"/><polygon points="1055,1362 1068,1362 1081,1367 1094,1364 1107,1364 1119,1363 1119,1368 1107,1369 1094,1366 1081,1367 1068,1367 1055,1369" fill="#8e8e8e"/><polygon points="1055,1370 1068,1373 1081,1369 1094,1373 1107,1369 1119,1370 1119,1375 1107,1377 1094,1375 1081,1376 1068,1376 1055,1376" fill="#e07514"/><polygon points="1055,1383 1068,1383 1081,1388 1094,1385 1107,1384 1119,1384 1119,1390 1107,1389 1094,1390 1081,1386 1068,1386 1055,1387" fill="#e07514"/><polygon points="1055,1391 1068,1394 1081,1391 1094,1391 1107,1393 1119,1392 1119,1394 1107,1396 1094,1396 1081,1395 1068,1395 1055,1393" fill="#8e8e8e"/></g></g><g clip-path="url(#gr44)"><rect x="843.0" y="1461.4" width="33.4" height="33.4" fill="#e07514"/><g transform="rotate(2 859.8 1478.1)"><polygon points="843,1472 850,1468 856,1469 863,1471 870,1469 876,1471 876,1478 870,1473 863,1475 856,1475 850,1477 843,1477" fill="#7a0a0e"/></g></g><g clip-path="url(#gr45)"><rect x="882.4" y="1606.4" width="50.8" height="50.8" fill="#7a0a0e"/><g transform="rotate(138 907.8 1631.8)"><polygon points="882,1624 893,1624 903,1622 913,1624 923,1625 933,1624 933,1626 923,1628 913,1624 903,1625 893,1626 882,1623" fill="#7014f0"/><polygon points="882,1631 893,1629 903,1629 913,1631 923,1628 933,1630 933,1636 923,1637 913,1633 903,1634 893,1635 882,1633" fill="#8e8e8e"/><polygon points="882,1638 893,1637 903,1635 913,1635 923,1635 933,1637 933,1641 923,1645 913,1643 903,1640 893,1643 882,1641" fill="#7014f0"/><polygon points="882,1648 893,1648 903,1645 913,1645 923,1645 933,1645 933,1650 923,1649 913,1650 903,1648 893,1651 882,1652" fill="#8e8e8e"/><polygon points="882,1652 893,1651 903,1653 913,1652 923,1655 933,1654 933,1657 923,1659 913,1654 903,1655 893,1654 882,1656" fill="#7014f0"/></g></g><g clip-path="url(#gr46)"><rect x="1063.5" y="1499.8" width="43.2" height="43.2" fill="#7014f0"/><g transform="rotate(154 1085.1 1521.4)"><polygon points="1063,1500 1072,1499 1081,1499 1089,1499 1098,1501 1107,1499 1107,1506 1098,1507 1089,1505 1081,1504 1072,1507 1063,1507" fill="#e07514"/><polygon points="1063,1511 1072,1513 1081,1512 1089,1513 1098,1510 1107,1512 1107,1517 1098,1516 1089,1514 1081,1516 1072,1515 1063,1517" fill="#e2cc4c"/><polygon points="1063,1519 1072,1519 1081,1521 1089,1522 1098,1523 1107,1522 1107,1524 1098,1525 1089,1525 1081,1527 1072,1525 1063,1528" fill="#e07514"/><polygon points="1063,1531 1072,1530 1081,1533 1089,1529 1098,1530 1107,1529 1107,1536 1098,1534 1089,1534 1081,1535 1072,1536 1063,1537" fill="#e2cc4c"/><polygon points="1063,1540 1072,1543 1081,1539 1089,1538 1098,1543 1107,1541 1107,1543 1098,1543 1089,1547 1081,1546 1072,1543 1063,1546" fill="#e07514"/></g></g><g clip-path="url(#gr47)"><rect x="1025.5" y="1540.7" width="73.8" height="73.8" fill="#7a0a0e"/><g transform="rotate(9 1062.4 1577.6)"><polygon points="1025,1544 1040,1543 1055,1546 1070,1545 1085,1548 1099,1547 1099,1549 1085,1548 1070,1551 1055,1550 1040,1549 1025,1553" fill="#e2cc4c"/><polygon points="1025,1558 1040,1562 1055,1562 1070,1561 1085,1559 1099,1561 1099,1567 1085,1567 1070,1563 1055,1565 1040,1563 1025,1565" fill="#e07514"/><polygon points="1025,1588 1040,1587 1055,1590 1070,1590 1085,1588 1099,1589 1099,1595 1085,1596 1070,1594 1055,1592 1040,1592 1025,1593" fill="#e07514"/><polygon points="1025,1604 1040,1603 1055,1603 1070,1602 1085,1606 1099,1604 1099,1610 1085,1612 1070,1612 1055,1612 1040,1613 1025,1612" fill="#e2cc4c"/></g></g><g clip-path="url(#gr48)"><rect x="1039.3" y="1621.0" width="82.3" height="82.3" fill="#7014f0"/><g transform="rotate(117 1080.5 1662.2)"><polygon points="1039,1624 1056,1624 1072,1627 1089,1627 1105,1626 1122,1627 1122,1629 1105,1630 1089,1628 1072,1628 1056,1627 1039,1631" fill="#b0804e"/><polygon points="1039,1634 1056,1633 1072,1633 1089,1636 1105,1637 1122,1633 1122,1640 1105,1642 1089,1639 1072,1643 1056,1640 1039,1641" fill="#8e8e8e"/><polygon points="1039,1645 1056,1644 1072,1646 1089,1643 1105,1646 1122,1647 1122,1648 1105,1647 1089,1647 1072,1647 1056,1650 1039,1649" fill="#b0804e"/><polygon points="1039,1656 1056,1654 1072,1653 1089,1655 1105,1654 1122,1657 1122,1657 1105,1660 1089,1660 1072,1658 1056,1656 1039,1660" fill="#8e8e8e"/><polygon points="1039,1663 1056,1663 1072,1665 1089,1663 1105,1668 1122,1665 1122,1670 1105,1671 1089,1670 1072,1669 1056,1668 1039,1670" fill="#b0804e"/><polygon points="1039,1675 1056,1675 1072,1675 1089,1676 1105,1676 1122,1675 1122,1682 1105,1682 1089,1678 1072,1678 1056,1678 1039,1678" fill="#8e8e8e"/><polygon points="1039,1685 1056,1685 1072,1685 1089,1684 1105,1686 1122,1684 1122,1693 1105,1692 1089,1688 1072,1691 1056,1689 1039,1693" fill="#b0804e"/><polygon points="1039,1696 1056,1696 1072,1696 1089,1695 1105,1695 1122,1694 1122,1698 1105,1697 1089,1699 1072,1696 1056,1696 1039,1697" fill="#8e8e8e"/></g></g><g clip-path="url(#gr49)"><rect x="871.1" y="1544.2" width="35.8" height="35.8" fill="#e2cc4c"/><g transform="rotate(178 889.0 1562.1)"><polygon points="871,1564 878,1565 885,1565 893,1562 900,1561 907,1561 907,1570 900,1573 893,1573 885,1571 878,1569 871,1570" fill="#7a0a0e"/><polygon points="871,1578 878,1578 885,1576 893,1577 900,1577 907,1576 907,1582 900,1583 893,1583 885,1581 878,1582 871,1580" fill="#e07514"/></g></g><g clip-path="url(#gr50)"><rect x="866.8" y="1461.7" width="53.2" height="53.2" fill="#7a0a0e"/><g transform="rotate(170 893.4 1488.3)"><polygon points="867,1461 877,1460 888,1463 899,1464 909,1462 920,1460 920,1466 909,1465 899,1469 888,1466 877,1469 867,1469" fill="#8e8e8e"/><polygon points="867,1475 877,1477 888,1477 899,1475 909,1476 920,1475 920,1480 909,1482 899,1479 888,1482 877,1482 867,1481" fill="#e2cc4c"/></g></g><g clip-path="url(#gr51)"><rect x="1064.0" y="1600.9" width="67.2" height="67.2" fill="#7a0a0e"/><g transform="rotate(80 1097.6 1634.5)"><polygon points="1064,1622 1077,1623 1091,1623 1104,1624 1118,1626 1131,1624 1131,1633 1118,1629 1104,1630 1091,1633 1077,1631 1064,1630" fill="#8e8e8e"/><polygon points="1064,1637 1077,1638 1091,1637 1104,1638 1118,1637 1131,1635 1131,1643 1118,1641 1104,1642 1091,1641 1077,1641 1064,1640" fill="#f24331"/><polygon points="1064,1649 1077,1649 1091,1651 1104,1649 1118,1653 1131,1651 1131,1656 1118,1657 1104,1654 1091,1655 1077,1658 1064,1657" fill="#8e8e8e"/><polygon points="1064,1666 1077,1665 1091,1667 1104,1667 1118,1667 1131,1666 1131,1672 1118,1671 1104,1671 1091,1672 1077,1671 1064,1673" fill="#f24331"/></g></g><g clip-path="url(#gr52)"><rect x="1073.8" y="1333.6" width="57.1" height="57.1" fill="#7014f0"/><g transform="rotate(111 1102.4 1362.2)"><polygon points="1074,1344 1085,1347 1097,1343 1108,1345 1120,1343 1131,1346 1131,1348 1120,1349 1108,1347 1097,1350 1085,1346 1074,1347" fill="#7a0a0e"/><polygon points="1074,1366 1085,1369 1097,1369 1108,1366 1120,1370 1131,1368 1131,1372 1120,1374 1108,1373 1097,1372 1085,1376 1074,1376" fill="#7a0a0e"/><polygon points="1074,1379 1085,1381 1097,1378 1108,1379 1120,1379 1131,1380 1131,1383 1120,1384 1108,1386 1097,1386 1085,1386 1074,1385" fill="#f24331"/></g></g><g clip-path="url(#gr53)"><rect x="910.8" y="1374.0" width="54.8" height="54.8" fill="#7a0a0e"/><g transform="rotate(109 938.2 1401.4)"><polygon points="911,1382 922,1382 933,1385 944,1385 955,1381 966,1382 966,1386 955,1389 944,1390 933,1386 922,1386 911,1390" fill="#e2cc4c"/><polygon points="911,1393 922,1395 933,1395 944,1394 955,1392 966,1394 966,1400 955,1398 944,1400 933,1398 922,1402 911,1398" fill="#e07514"/></g></g><g clip-path="url(#gr54)"><rect x="1147.5" y="1373.8" width="33.7" height="33.7" fill="#7014f0"/><g transform="rotate(132 1164.4 1390.7)"><polygon points="1148,1386 1154,1385 1161,1387 1168,1388 1175,1385 1181,1386 1181,1390 1175,1391 1168,1389 1161,1390 1154,1387 1148,1392" fill="#e07514"/></g></g><g clip-path="url(#gr55)"><rect x="886.7" y="1446.0" width="55.1" height="55.1" fill="#e2cc4c"/><g transform="rotate(99 914.3 1473.5)"><polygon points="887,1445 898,1445 909,1446 920,1447 931,1448 942,1447 942,1447 931,1451 920,1450 909,1450 898,1450 887,1449" fill="#7a0a0e"/><polygon points="887,1455 898,1452 909,1455 920,1456 931,1455 942,1454 942,1459 931,1459 920,1459 909,1459 898,1457 887,1455" fill="#e07514"/><polygon points="887,1464 898,1462 909,1461 920,1459 931,1463 942,1462 942,1468 931,1466 920,1467 909,1467 898,1468 887,1465" fill="#7a0a0e"/><polygon points="887,1467 898,1469 909,1469 920,1472 931,1469 942,1468 942,1475 931,1472 920,1473 909,1474 898,1472 887,1475" fill="#e07514"/><polygon points="887,1492 898,1491 909,1492 920,1495 931,1492 942,1493 942,1496 931,1495 920,1496 909,1494 898,1495 887,1495" fill="#7a0a0e"/><polygon points="887,1502 898,1502 909,1503 920,1502 931,1499 942,1499 942,1507 931,1507 920,1508 909,1507 898,1504 887,1506" fill="#e07514"/></g></g><g clip-path="url(#gr56)"><rect x="819.8" y="1609.9" width="60.0" height="60.0" fill="#e07514"/><g transform="rotate(92 849.8 1639.9)"><polygon points="820,1620 832,1618 844,1617 856,1618 868,1619 880,1618 880,1623 868,1625 856,1625 844,1625 832,1625 820,1621" fill="#7a0a0e"/><polygon points="820,1628 832,1626 844,1626 856,1630 868,1626 880,1629 880,1633 868,1631 856,1634 844,1631 832,1635 820,1635" fill="#b0804e"/><polygon points="820,1635 832,1638 844,1635 856,1637 868,1639 880,1638 880,1639 868,1642 856,1642 844,1640 832,1643 820,1642" fill="#7a0a0e"/><polygon points="820,1645 832,1645 844,1648 856,1646 868,1648 880,1646 880,1649 868,1648 856,1653 844,1651 832,1653 820,1651" fill="#b0804e"/><polygon points="820,1653 832,1656 844,1656 856,1658 868,1654 880,1654 880,1657 868,1657 856,1656 844,1658 832,1658 820,1658" fill="#7a0a0e"/><polygon points="820,1666 832,1665 844,1663 856,1662 868,1665 880,1666 880,1668 868,1671 856,1669 844,1671 832,1672 820,1671" fill="#b0804e"/></g></g><g clip-path="url(#gr57)"><rect x="1021.9" y="1370.7" width="43.1" height="43.1" fill="#7a0a0e"/><g transform="rotate(9 1043.5 1392.3)"><polygon points="1022,1378 1031,1382 1039,1379 1048,1378 1056,1379 1065,1378 1065,1383 1056,1384 1048,1384 1039,1381 1031,1383 1022,1381" fill="#b0804e"/><polygon points="1022,1411 1031,1407 1039,1410 1048,1410 1056,1411 1065,1412 1065,1414 1056,1412 1048,1412 1039,1413 1031,1412 1022,1414" fill="#e2cc4c"/></g></g><g clip-path="url(#gr58)"><rect x="959.7" y="1330.3" width="60.8" height="60.8" fill="#7a0a0e"/><g transform="rotate(9 990.1 1360.8)"><polygon points="960,1356 972,1352 984,1351 996,1352 1008,1352 1021,1355 1021,1357 1008,1356 996,1355 984,1357 972,1355 960,1355" fill="#f24331"/><polygon points="960,1363 972,1363 984,1360 996,1361 1008,1360 1021,1362 1021,1363 1008,1367 996,1366 984,1367 972,1365 960,1368" fill="#8e8e8e"/><polygon points="960,1377 972,1375 984,1379 996,1377 1008,1380 1021,1377 1021,1382 1008,1384 996,1384 984,1383 972,1384 960,1384" fill="#8e8e8e"/><polygon points="960,1383 972,1386 984,1388 996,1386 1008,1384 1021,1386 1021,1386 1008,1388 996,1387 984,1388 972,1390 960,1390" fill="#f24331"/></g></g><g clip-path="url(#gr59)"><rect x="1022.4" y="1402.5" width="42.2" height="42.2" fill="#7014f0"/><g transform="rotate(142 1043.6 1423.6)"><polygon points="1022,1405 1031,1405 1039,1405 1048,1407 1056,1405 1065,1409 1065,1412 1056,1413 1048,1411 1039,1410 1031,1410 1022,1413" fill="#e2cc4c"/><polygon points="1022,1419 1031,1417 1039,1417 1048,1418 1056,1421 1065,1421 1065,1425 1056,1423 1048,1422 1039,1425 1031,1424 1022,1426" fill="#7a0a0e"/><polygon points="1022,1428 1031,1428 1039,1432 1048,1432 1056,1429 1065,1428 1065,1435 1056,1433 1048,1435 1039,1437 1031,1436 1022,1433" fill="#e2cc4c"/><polygon points="1022,1443 1031,1441 1039,1444 1048,1443 1056,1444 1065,1441 1065,1450 1056,1448 1048,1446 1039,1448 1031,1447 1022,1446" fill="#7a0a0e"/></g></g><g clip-path="url(#gr60)"><rect x="822.8" y="1358.9" width="41.0" height="41.0" fill="#7a0a0e"/><g transform="rotate(26 843.3 1379.4)"><polygon points="823,1391 831,1389 839,1389 847,1388 856,1388 864,1389 864,1395 856,1397 847,1398 839,1397 831,1395 823,1394" fill="#e07514"/></g></g><g clip-path="url(#gr61)"><rect x="983.6" y="1528.8" width="64.7" height="64.7" fill="#8e8e8e"/><g transform="rotate(98 1016.0 1561.2)"><polygon points="984,1536 997,1536 1010,1534 1022,1534 1035,1535 1048,1538 1048,1543 1035,1540 1022,1541 1010,1541 997,1541 984,1539" fill="#e2cc4c"/><polygon points="984,1545 997,1546 1010,1545 1022,1545 1035,1545 1048,1547 1048,1551 1035,1553 1022,1553 1010,1553 997,1553 984,1553" fill="#7014f0"/><polygon points="984,1559 997,1556 1010,1559 1022,1558 1035,1560 1048,1558 1048,1562 1035,1564 1022,1561 1010,1562 997,1562 984,1563" fill="#e2cc4c"/><polygon points="984,1571 997,1571 1010,1569 1022,1571 1035,1570 1048,1568 1048,1573 1035,1572 1022,1575 1010,1576 997,1575 984,1576" fill="#7014f0"/><polygon points="984,1581 997,1581 1010,1580 1022,1581 1035,1580 1048,1578 1048,1586 1035,1586 1022,1585 1010,1587 997,1585 984,1583" fill="#e2cc4c"/><polygon points="984,1590 997,1593 1010,1590 1022,1592 1035,1590 1048,1591 1048,1599 1035,1594 1022,1598 1010,1594 997,1599 984,1598" fill="#7014f0"/></g></g><g clip-path="url(#gr62)"><rect x="926.7" y="1538.4" width="57.9" height="57.9" fill="#e2cc4c"/><g transform="rotate(64 955.6 1567.3)"><polygon points="927,1547 938,1548 950,1549 961,1548 973,1547 985,1550 985,1552 973,1550 961,1551 950,1553 938,1549 927,1552" fill="#e07514"/><polygon points="927,1556 938,1557 950,1558 961,1558 973,1559 985,1557 985,1563 973,1563 961,1564 950,1564 938,1561 927,1565" fill="#7a0a0e"/><polygon points="927,1567 938,1570 950,1568 961,1570 973,1567 985,1570 985,1572 973,1575 961,1573 950,1573 938,1574 927,1574" fill="#e07514"/><polygon points="927,1581 938,1580 950,1577 961,1582 973,1577 985,1577 985,1586 973,1583 961,1582 950,1582 938,1584 927,1586" fill="#7a0a0e"/><polygon points="927,1587 938,1587 950,1589 961,1590 973,1592 985,1590 985,1595 973,1593 961,1595 950,1594 938,1592 927,1592" fill="#e07514"/></g></g><g clip-path="url(#gr63)"><rect x="906.0" y="1360.5" width="58.5" height="58.5" fill="#e2cc4c"/><g transform="rotate(87 935.3 1389.7)"><polygon points="906,1365 918,1363 929,1363 941,1363 953,1365 964,1366 964,1368 953,1370 941,1370 929,1371 918,1372 906,1369" fill="#7a0a0e"/><polygon points="906,1373 918,1372 929,1371 941,1374 953,1371 964,1371 964,1376 953,1379 941,1377 929,1377 918,1380 906,1378" fill="#b0804e"/><polygon points="906,1384 918,1383 929,1382 941,1382 953,1383 964,1384 964,1386 953,1384 941,1386 929,1383 918,1383 906,1385" fill="#7a0a0e"/><polygon points="906,1389 918,1393 929,1390 941,1392 953,1393 964,1390 964,1395 953,1394 941,1393 929,1392 918,1394 906,1396" fill="#b0804e"/><polygon points="906,1399 918,1398 929,1399 941,1401 953,1397 964,1399 964,1404 953,1402 941,1405 929,1402 918,1403 906,1402" fill="#7a0a0e"/><polygon points="906,1409 918,1407 929,1409 941,1408 953,1406 964,1408 964,1411 953,1411 941,1414 929,1412 918,1413 906,1410" fill="#b0804e"/><polygon points="906,1415 918,1414 929,1414 941,1418 953,1419 964,1416 964,1418 953,1422 941,1421 929,1418 918,1422 906,1418" fill="#7a0a0e"/></g></g><g clip-path="url(#gr64)"><rect x="908.8" y="1450.7" width="57.3" height="57.3" fill="#7a0a0e"/><g transform="rotate(144 937.4 1479.4)"><polygon points="909,1455 920,1457 932,1457 943,1457 955,1458 966,1457 966,1462 955,1461 943,1463 932,1461 920,1463 909,1464" fill="#f24331"/><polygon points="909,1470 920,1469 932,1468 943,1467 955,1470 966,1468 966,1476 955,1476 943,1476 932,1475 920,1474 909,1474" fill="#e2cc4c"/><polygon points="909,1492 920,1492 932,1493 943,1494 955,1494 966,1494 966,1498 955,1499 943,1497 932,1497 920,1498 909,1496" fill="#e2cc4c"/><polygon points="909,1505 920,1504 932,1504 943,1502 955,1503 966,1504 966,1513 955,1509 943,1513 932,1513 920,1512 909,1510" fill="#f24331"/></g></g><g clip-path="url(#gr65)"><rect x="1121.3" y="1360.5" width="50.7" height="50.7" fill="#7a0a0e"/><g transform="rotate(169 1146.7 1385.8)"><polygon points="1121,1371 1131,1369 1142,1370 1152,1371 1162,1372 1172,1370 1172,1378 1162,1376 1152,1376 1142,1375 1131,1378 1121,1378" fill="#7014f0"/><polygon points="1121,1385 1131,1384 1142,1383 1152,1385 1162,1381 1172,1382 1172,1390 1162,1390 1152,1392 1142,1390 1131,1387 1121,1392" fill="#8e8e8e"/><polygon points="1121,1397 1131,1396 1142,1397 1152,1396 1162,1394 1172,1395 1172,1401 1162,1400 1152,1401 1142,1399 1131,1400 1121,1399" fill="#7014f0"/><polygon points="1121,1409 1131,1407 1142,1410 1152,1408 1162,1409 1172,1407 1172,1414 1162,1411 1152,1413 1142,1410 1131,1414 1121,1413" fill="#8e8e8e"/></g></g><g clip-path="url(#gr66)"><rect x="837.9" y="1506.7" width="42.9" height="42.9" fill="#7a0a0e"/><g transform="rotate(68 859.3 1528.2)"><polygon points="838,1508 846,1512 855,1509 864,1511 872,1510 881,1513 881,1515 872,1515 864,1515 855,1516 846,1516 838,1513" fill="#f24331"/><polygon points="838,1519 846,1519 855,1521 864,1517 872,1521 881,1518 881,1524 872,1524 864,1526 855,1525 846,1523 838,1525" fill="#8e8e8e"/><polygon points="838,1529 846,1532 855,1529 864,1528 872,1529 881,1532 881,1532 872,1532 864,1533 855,1534 846,1535 838,1531" fill="#f24331"/><polygon points="838,1539 846,1540 855,1540 864,1537 872,1537 881,1538 881,1542 872,1542 864,1542 855,1541 846,1541 838,1543" fill="#8e8e8e"/><polygon points="838,1547 846,1550 855,1547 864,1547 872,1549 881,1548 881,1555 872,1554 864,1554 855,1553 846,1552 838,1556" fill="#f24331"/></g></g><g clip-path="url(#gr67)"><rect x="1128.2" y="1620.8" width="65.0" height="65.0" fill="#8e8e8e"/><g transform="rotate(78 1160.7 1653.2)"><polygon points="1128,1646 1141,1645 1154,1643 1167,1646 1180,1645 1193,1646 1193,1648 1180,1649 1167,1648 1154,1652 1141,1650 1128,1649" fill="#7014f0"/><polygon points="1128,1655 1141,1656 1154,1654 1167,1654 1180,1654 1193,1659 1193,1664 1180,1663 1167,1665 1154,1663 1141,1663 1128,1661" fill="#7a0a0e"/><polygon points="1128,1667 1141,1669 1154,1667 1167,1669 1180,1666 1193,1668 1193,1672 1180,1673 1167,1670 1154,1671 1141,1674 1128,1671" fill="#7014f0"/></g></g><g clip-path="url(#gr68)"><rect x="1037.2" y="1337.5" width="60.8" height="60.8" fill="#e07514"/><g transform="rotate(70 1067.6 1367.9)"><polygon points="1037,1344 1049,1345 1062,1346 1074,1347 1086,1345 1098,1346 1098,1346 1086,1349 1074,1350 1062,1349 1049,1348 1037,1348" fill="#f24331"/><polygon points="1037,1354 1049,1357 1062,1355 1074,1353 1086,1356 1098,1357 1098,1360 1086,1358 1074,1362 1062,1358 1049,1360 1037,1359" fill="#b0804e"/><polygon points="1037,1364 1049,1364 1062,1363 1074,1366 1086,1366 1098,1364 1098,1371 1086,1369 1074,1369 1062,1371 1049,1370 1037,1369" fill="#f24331"/><polygon points="1037,1375 1049,1374 1062,1377 1074,1377 1086,1376 1098,1374 1098,1382 1086,1379 1074,1382 1062,1382 1049,1382 1037,1379" fill="#b0804e"/><polygon points="1037,1384 1049,1384 1062,1385 1074,1388 1086,1386 1098,1384 1098,1388 1086,1392 1074,1392 1062,1391 1049,1389 1037,1391" fill="#f24331"/><polygon points="1037,1395 1049,1398 1062,1394 1074,1394 1086,1397 1098,1397 1098,1398 1086,1397 1074,1401 1062,1401 1049,1401 1037,1399" fill="#b0804e"/></g></g><g clip-path="url(#gr69)"><rect x="1077.2" y="1553.3" width="55.1" height="55.1" fill="#7a0a0e"/><g transform="rotate(150 1104.8 1580.9)"><polygon points="1077,1560 1088,1561 1099,1561 1110,1560 1121,1562 1132,1559 1132,1570 1121,1570 1110,1567 1099,1565 1088,1568 1077,1568" fill="#f24331"/><polygon points="1077,1574 1088,1574 1099,1571 1110,1574 1121,1573 1132,1572 1132,1580 1121,1580 1110,1582 1099,1581 1088,1580 1077,1578" fill="#e07514"/><polygon points="1077,1588 1088,1587 1099,1584 1110,1585 1121,1586 1132,1585 1132,1595 1121,1592 1110,1591 1099,1593 1088,1591 1077,1591" fill="#f24331"/><polygon points="1077,1599 1088,1597 1099,1599 1110,1599 1121,1598 1132,1598 1132,1604 1121,1605 1110,1605 1099,1606 1088,1606 1077,1604" fill="#e07514"/></g></g><g clip-path="url(#gr70)"><rect x="858.4" y="1480.6" width="38.1" height="38.1" fill="#e07514"/><g transform="rotate(37 877.4 1499.6)"><polygon points="858,1491 866,1492 874,1491 881,1489 889,1488 896,1490 896,1494 889,1494 881,1494 874,1496 866,1495 858,1498" fill="#7a0a0e"/><polygon points="858,1500 866,1500 874,1499 881,1499 889,1503 896,1500 896,1505 889,1510 881,1507 874,1509 866,1507 858,1510" fill="#f24331"/><polygon points="858,1514 866,1510 874,1515 881,1512 889,1514 896,1511 896,1514 889,1515 881,1518 874,1519 866,1519 858,1517" fill="#7a0a0e"/></g></g><g clip-path="url(#gr71)"><rect x="835.5" y="1589.1" width="46.8" height="46.8" fill="#7a0a0e"/><g transform="rotate(141 858.9 1612.5)"><polygon points="835,1594 845,1596 854,1595 864,1598 873,1594 882,1597 882,1598 873,1598 864,1602 854,1599 845,1601 835,1601" fill="#f24331"/><polygon points="835,1606 845,1609 854,1607 864,1609 873,1610 882,1606 882,1613 873,1612 864,1615 854,1614 845,1612 835,1613" fill="#e2cc4c"/><polygon points="835,1618 845,1618 854,1620 864,1620 873,1619 882,1621 882,1623 873,1625 864,1622 854,1625 845,1624 835,1622" fill="#f24331"/><polygon points="835,1630 845,1634 854,1631 864,1632 873,1630 882,1632 882,1639 873,1635 864,1635 854,1637 845,1638 835,1635" fill="#e2cc4c"/></g></g><g clip-path="url(#gr72)"><rect x="1049.2" y="1567.4" width="82.2" height="82.2" fill="#7a0a0e"/><g transform="rotate(156 1090.3 1608.5)"><polygon points="1049,1579 1066,1579 1082,1580 1099,1579 1115,1578 1131,1578 1131,1582 1115,1582 1099,1584 1082,1582 1066,1586 1049,1586" fill="#e07514"/><polygon points="1049,1605 1066,1605 1082,1605 1099,1604 1115,1605 1131,1603 1131,1612 1115,1612 1099,1611 1082,1614 1066,1614 1049,1612" fill="#e07514"/><polygon points="1049,1621 1066,1621 1082,1619 1099,1620 1115,1619 1131,1618 1131,1626 1115,1625 1099,1628 1082,1625 1066,1627 1049,1628" fill="#f24331"/><polygon points="1049,1647 1066,1647 1082,1648 1099,1647 1115,1647 1131,1646 1131,1653 1115,1655 1099,1652 1082,1652 1066,1653 1049,1652" fill="#f24331"/></g></g><g clip-path="url(#gr73)"><rect x="1055.2" y="1403.6" width="63.2" height="63.2" fill="#f24331"/><g transform="rotate(38 1086.8 1435.2)"><polygon points="1055,1406 1068,1409 1081,1411 1093,1406 1106,1409 1118,1409 1118,1415 1106,1414 1093,1414 1081,1417 1068,1416 1055,1414" fill="#e07514"/><polygon points="1055,1422 1068,1423 1081,1418 1093,1419 1106,1419 1118,1422 1118,1429 1106,1425 1093,1427 1081,1429 1068,1428 1055,1427" fill="#7a0a0e"/><polygon points="1055,1457 1068,1455 1081,1455 1093,1458 1106,1458 1118,1458 1118,1459 1106,1461 1093,1462 1081,1463 1068,1462 1055,1460" fill="#e07514"/></g></g><g clip-path="url(#gr74)"><rect x="1083.7" y="1408.1" width="53.5" height="53.5" fill="#7a0a0e"/><g transform="rotate(27 1110.4 1434.8)"><polygon points="1084,1413 1094,1416 1105,1413 1116,1414 1126,1415 1137,1411 1137,1419 1126,1419 1116,1419 1105,1417 1094,1418 1084,1420" fill="#e07514"/><polygon points="1084,1422 1094,1423 1105,1419 1116,1420 1126,1421 1137,1423 1137,1424 1126,1424 1116,1421 1105,1422 1094,1424 1084,1425" fill="#8e8e8e"/><polygon points="1084,1428 1094,1428 1105,1428 1116,1427 1126,1427 1137,1429 1137,1434 1126,1432 1116,1433 1105,1429 1094,1432 1084,1431" fill="#e07514"/><polygon points="1084,1437 1094,1439 1105,1439 1116,1435 1126,1436 1137,1434 1137,1441 1126,1439 1116,1442 1105,1440 1094,1438 1084,1443" fill="#8e8e8e"/><polygon points="1084,1444 1094,1442 1105,1446 1116,1445 1126,1442 1137,1445 1137,1445 1126,1447 1116,1445 1105,1446 1094,1447 1084,1447" fill="#e07514"/><polygon points="1084,1458 1094,1461 1105,1459 1116,1458 1126,1458 1137,1459 1137,1464 1126,1462 1116,1464 1105,1462 1094,1463 1084,1461" fill="#e07514"/></g></g><g clip-path="url(#gr75)"><rect x="854.2" y="1449.5" width="49.0" height="49.0" fill="#8e8e8e"/><g transform="rotate(82 878.7 1474.0)"><polygon points="854,1453 864,1450 874,1451 884,1451 893,1451 903,1454 903,1457 893,1458 884,1454 874,1454 864,1455 854,1456" fill="#f24331"/><polygon points="854,1468 864,1469 874,1470 884,1468 893,1469 903,1468 903,1477 893,1474 884,1474 874,1474 864,1477 854,1473" fill="#f24331"/><polygon points="854,1478 864,1482 874,1480 884,1480 893,1478 903,1482 903,1485 893,1484 884,1482 874,1481 864,1483 854,1483" fill="#7a0a0e"/><polygon points="854,1500 864,1498 874,1495 884,1496 893,1500 903,1499 903,1503 893,1503 884,1500 874,1504 864,1501 854,1504" fill="#7a0a0e"/></g></g><g clip-path="url(#gr76)"><rect x="982.4" y="1403.9" width="47.4" height="47.4" fill="#e2cc4c"/><g transform="rotate(71 1006.1 1427.6)"><polygon points="982,1404 992,1406 1001,1404 1011,1409 1020,1408 1030,1406 1030,1410 1020,1411 1011,1413 1001,1411 992,1410 982,1412" fill="#b0804e"/><polygon points="982,1420 992,1420 1001,1421 1011,1420 1020,1423 1030,1419 1030,1428 1020,1425 1011,1429 1001,1427 992,1425 982,1428" fill="#7014f0"/><polygon points="982,1436 992,1436 1001,1433 1011,1435 1020,1435 1030,1434 1030,1441 1020,1441 1011,1443 1001,1443 992,1444 982,1440" fill="#b0804e"/><polygon points="982,1446 992,1445 1001,1450 1011,1449 1020,1449 1030,1447 1030,1454 1020,1456 1011,1452 1001,1455 992,1455 982,1454" fill="#7014f0"/></g></g><g clip-path="url(#gr77)"><rect x="1016.4" y="1514.5" width="61.9" height="61.9" fill="#b0804e"/><g transform="rotate(35 1047.4 1545.4)"><polygon points="1016,1520 1029,1520 1041,1519 1054,1520 1066,1519 1078,1519 1078,1520 1066,1522 1054,1522 1041,1520 1029,1524 1016,1521" fill="#e07514"/><polygon points="1016,1528 1029,1527 1041,1530 1054,1528 1066,1527 1078,1526 1078,1529 1066,1533 1054,1532 1041,1532 1029,1532 1016,1531" fill="#7014f0"/><polygon points="1016,1537 1029,1539 1041,1537 1054,1537 1066,1538 1078,1537 1078,1545 1066,1542 1054,1544 1041,1545 1029,1543 1016,1545" fill="#e07514"/><polygon points="1016,1546 1029,1547 1041,1549 1054,1549 1066,1548 1078,1546 1078,1553 1066,1554 1054,1551 1041,1551 1029,1553 1016,1551" fill="#7014f0"/><polygon points="1016,1559 1029,1560 1041,1560 1054,1559 1066,1560 1078,1560 1078,1561 1066,1561 1054,1564 1041,1564 1029,1563 1016,1563" fill="#e07514"/><polygon points="1016,1568 1029,1567 1041,1569 1054,1570 1066,1569 1078,1571 1078,1570 1066,1571 1054,1571 1041,1572 1029,1575 1016,1573" fill="#7014f0"/></g></g><g clip-path="url(#gr78)"><rect x="884.1" y="1507.2" width="67.4" height="67.4" fill="#f24331"/><g transform="rotate(144 917.7 1540.8)"><polygon points="884,1512 898,1513 911,1516 924,1513 938,1513 951,1516 951,1519 938,1519 924,1518 911,1519 898,1518 884,1517" fill="#7a0a0e"/><polygon points="884,1524 898,1521 911,1521 924,1523 938,1526 951,1525 951,1528 938,1528 924,1525 911,1527 898,1525 884,1527" fill="#8e8e8e"/><polygon points="884,1531 898,1532 911,1533 924,1531 938,1531 951,1531 951,1538 938,1538 924,1538 911,1534 898,1534 884,1537" fill="#7a0a0e"/><polygon points="884,1543 898,1544 911,1544 924,1544 938,1541 951,1543 951,1547 938,1547 924,1547 911,1546 898,1546 884,1546" fill="#8e8e8e"/><polygon points="884,1554 898,1552 911,1549 924,1551 938,1553 951,1552 951,1555 938,1558 924,1557 911,1554 898,1556 884,1557" fill="#7a0a0e"/></g></g><g clip-path="url(#gr79)"><rect x="932.8" y="1563.6" width="40.4" height="40.4" fill="#7a0a0e"/><g transform="rotate(143 953.0 1583.8)"><polygon points="933,1574 941,1576 949,1576 957,1577 965,1577 973,1575 973,1580 965,1580 957,1579 949,1580 941,1581 933,1580" fill="#8e8e8e"/><polygon points="933,1588 941,1589 949,1585 957,1589 965,1588 973,1585 973,1589 965,1592 957,1592 949,1589 941,1593 933,1590" fill="#e07514"/></g></g><g clip-path="url(#gr80)"><rect x="913.1" y="1592.6" width="48.9" height="48.9" fill="#7a0a0e"/><g transform="rotate(165 937.5 1617.0)"><polygon points="913,1631 923,1628 933,1629 942,1628 952,1626 962,1630 962,1632 952,1633 942,1630 933,1630 923,1630 913,1633" fill="#e2cc4c"/><polygon points="913,1639 923,1639 933,1641 942,1641 952,1638 962,1640 962,1642 952,1644 942,1643 933,1640 923,1642 913,1642" fill="#f24331"/></g></g><g clip-path="url(#gr81)"><rect x="956.2" y="1515.9" width="46.3" height="46.3" fill="#e2cc4c"/><g transform="rotate(94 979.4 1539.0)"><polygon points="956,1524 965,1527 975,1525 984,1527 993,1528 1003,1526 1003,1529 993,1531 984,1530 975,1532 965,1530 956,1531" fill="#f24331"/><polygon points="956,1537 965,1539 975,1538 984,1540 993,1540 1003,1537 1003,1545 993,1544 984,1548 975,1546 965,1545 956,1548" fill="#8e8e8e"/></g></g><g clip-path="url(#gr82)"><rect x="1043.8" y="1511.3" width="34.0" height="34.0" fill="#e2cc4c"/><g transform="rotate(15 1060.8 1528.3)"><polygon points="1044,1525 1051,1527 1057,1526 1064,1526 1071,1526 1078,1526 1078,1532 1071,1531 1064,1529 1057,1531 1051,1530 1044,1531" fill="#8e8e8e"/><polygon points="1044,1539 1051,1538 1057,1537 1064,1536 1071,1534 1078,1537 1078,1539 1071,1540 1064,1541 1057,1540 1051,1543 1044,1541" fill="#7a0a0e"/></g></g><g clip-path="url(#gr83)"><rect x="886.0" y="1648.2" width="53.0" height="53.0" fill="#b0804e"/><g transform="rotate(58 912.5 1674.7)"><polygon points="886,1669 897,1668 907,1666 918,1669 928,1666 939,1665 939,1673 928,1674 918,1674 907,1674 897,1673 886,1672" fill="#e2cc4c"/><polygon points="886,1679 897,1681 907,1679 918,1681 928,1680 939,1679 939,1684 928,1683 918,1685 907,1685 897,1682 886,1685" fill="#7a0a0e"/><polygon points="886,1692 897,1690 907,1692 918,1691 928,1691 939,1693 939,1698 928,1696 918,1696 907,1697 897,1697 886,1694" fill="#e2cc4c"/></g></g><g clip-path="url(#gr84)"><rect x="832.2" y="1420.4" width="65.5" height="65.5" fill="#e2cc4c"/><g transform="rotate(30 865.0 1453.1)"><polygon points="832,1425 845,1423 858,1423 872,1424 885,1422 898,1422 898,1427 885,1425 872,1428 858,1428 845,1428 832,1424" fill="#8e8e8e"/><polygon points="832,1430 845,1433 858,1431 872,1430 885,1433 898,1432 898,1438 885,1438 872,1438 858,1439 845,1439 832,1439" fill="#e07514"/><polygon points="832,1442 845,1440 858,1439 872,1441 885,1442 898,1440 898,1449 885,1446 872,1447 858,1446 845,1449 832,1445" fill="#8e8e8e"/><polygon points="832,1450 845,1450 858,1449 872,1453 885,1451 898,1451 898,1453 885,1457 872,1452 858,1455 845,1452 832,1455" fill="#e07514"/><polygon points="832,1481 845,1478 858,1477 872,1478 885,1478 898,1479 898,1481 885,1481 872,1482 858,1482 845,1480 832,1482" fill="#8e8e8e"/></g></g><g clip-path="url(#gr85)"><rect x="992.0" y="1325.2" width="51.4" height="51.4" fill="#e07514"/><g transform="rotate(38 1017.7 1350.9)"><polygon points="992,1327 1002,1326 1013,1329 1023,1326 1033,1327 1043,1328 1043,1331 1033,1332 1023,1331 1013,1333 1002,1334 992,1334" fill="#f24331"/><polygon points="992,1341 1002,1342 1013,1341 1023,1344 1033,1341 1043,1343 1043,1348 1033,1349 1023,1351 1013,1352 1002,1350 992,1352" fill="#e2cc4c"/><polygon points="992,1357 1002,1356 1013,1354 1023,1358 1033,1358 1043,1358 1043,1362 1033,1365 1023,1361 1013,1364 1002,1363 992,1364" fill="#f24331"/><polygon points="992,1370 1002,1372 1013,1371 1023,1369 1033,1369 1043,1369 1043,1376 1033,1376 1023,1377 1013,1378 1002,1379 992,1375" fill="#e2cc4c"/></g></g><g clip-path="url(#gr86)"><rect x="868.1" y="1595.4" width="49.2" height="49.2" fill="#8e8e8e"/><g transform="rotate(114 892.7 1620.0)"><polygon points="868,1602 878,1599 888,1597 898,1598 908,1598 917,1601 917,1604 908,1602 898,1605 888,1602 878,1602 868,1604" fill="#e2cc4c"/><polygon points="868,1606 878,1609 888,1608 898,1608 908,1607 917,1606 917,1611 908,1613 898,1608 888,1610 878,1609 868,1609" fill="#7a0a0e"/><polygon points="868,1613 878,1615 888,1616 898,1612 908,1612 917,1615 917,1620 908,1618 898,1618 888,1618 878,1619 868,1620" fill="#e2cc4c"/><polygon points="868,1621 878,1624 888,1623 898,1622 908,1621 917,1621 917,1628 908,1626 898,1623 888,1625 878,1625 868,1626" fill="#7a0a0e"/></g></g><g clip-path="url(#gr87)"><rect x="1068.7" y="1528.4" width="53.5" height="53.5" fill="#e2cc4c"/><g transform="rotate(96 1095.5 1555.2)"><polygon points="1069,1532 1079,1531 1090,1532 1101,1531 1112,1534 1122,1531 1122,1539 1112,1536 1101,1536 1090,1537 1079,1536 1069,1538" fill="#b0804e"/><polygon points="1069,1555 1079,1554 1090,1552 1101,1553 1112,1552 1122,1553 1122,1555 1112,1556 1101,1557 1090,1558 1079,1555 1069,1556" fill="#b0804e"/></g></g><g clip-path="url(#gr88)"><rect x="1081.7" y="1560.5" width="87.6" height="87.6" fill="#b0804e"/><g transform="rotate(96 1125.5 1604.3)"><polygon points="1082,1567 1099,1568 1117,1566 1134,1570 1152,1570 1169,1570 1169,1577 1152,1576 1134,1573 1117,1574 1099,1577 1082,1573" fill="#8e8e8e"/><polygon points="1082,1580 1099,1580 1117,1583 1134,1582 1152,1579 1169,1582 1169,1588 1152,1591 1134,1589 1117,1587 1099,1589 1082,1587" fill="#e07514"/><polygon points="1082,1610 1099,1607 1117,1609 1134,1609 1152,1608 1169,1606 1169,1614 1152,1616 1134,1613 1117,1614 1099,1617 1082,1614" fill="#e07514"/><polygon points="1082,1621 1099,1623 1117,1621 1134,1623 1152,1623 1169,1620 1169,1626 1152,1626 1134,1624 1117,1628 1099,1625 1082,1626" fill="#8e8e8e"/><polygon points="1082,1646 1099,1649 1117,1648 1134,1648 1152,1646 1169,1646 1169,1657 1152,1656 1134,1657 1117,1657 1099,1655 1082,1656" fill="#8e8e8e"/></g></g><g clip-path="url(#gr89)"><rect x="906.0" y="1537.3" width="48.5" height="48.5" fill="#8e8e8e"/><g transform="rotate(141 930.2 1561.5)"><polygon points="906,1539 916,1538 925,1540 935,1540 945,1543 954,1539 954,1546 945,1542 935,1546 925,1543 916,1543 906,1544" fill="#e07514"/><polygon points="906,1548 916,1551 925,1551 935,1553 945,1549 954,1552 954,1553 945,1554 935,1553 925,1554 916,1556 906,1553" fill="#e2cc4c"/><polygon points="906,1579 916,1579 925,1578 935,1581 945,1576 954,1580 954,1584 945,1584 935,1582 925,1584 916,1580 906,1583" fill="#e07514"/></g></g><g clip-path="url(#gr90)"><rect x="930.6" y="1582.5" width="40.6" height="40.6" fill="#7014f0"/><g transform="rotate(125 950.9 1602.8)"><polygon points="931,1591 939,1592 947,1589 955,1591 963,1593 971,1589 971,1598 963,1595 955,1595 947,1597 939,1596 931,1595" fill="#8e8e8e"/><polygon points="931,1604 939,1604 947,1603 955,1603 963,1603 971,1604 971,1604 963,1604 955,1608 947,1603 939,1606 931,1605" fill="#f24331"/><polygon points="931,1612 939,1611 947,1613 955,1613 963,1613 971,1613 971,1617 963,1619 955,1621 947,1618 939,1618 931,1618" fill="#8e8e8e"/></g></g><g clip-path="url(#gr91)"><rect x="948.9" y="1379.5" width="32.8" height="32.8" fill="#b0804e"/><g transform="rotate(59 965.3 1395.9)"><polygon points="949,1396 955,1400 962,1397 969,1399 975,1397 982,1396 982,1405 975,1403 969,1406 962,1402 955,1405 949,1403" fill="#8e8e8e"/><polygon points="949,1407 955,1410 962,1410 969,1410 975,1406 982,1407 982,1411 975,1410 969,1410 962,1413 955,1409 949,1411" fill="#7014f0"/></g></g><g clip-path="url(#gr92)"><rect x="1101.7" y="1544.9" width="54.7" height="54.7" fill="#7a0a0e"/><g transform="rotate(169 1129.0 1572.2)"><polygon points="1102,1549 1113,1551 1124,1552 1134,1552 1145,1550 1156,1552 1156,1557 1145,1560 1134,1559 1124,1560 1113,1558 1102,1560" fill="#8e8e8e"/><polygon points="1102,1589 1113,1589 1124,1591 1134,1591 1145,1587 1156,1590 1156,1594 1145,1594 1134,1592 1124,1596 1113,1597 1102,1595" fill="#e2cc4c"/></g></g><g clip-path="url(#gr93)"><rect x="1052.0" y="1515.5" width="52.7" height="52.7" fill="#e07514"/><g transform="rotate(59 1078.4 1541.9)"><polygon points="1052,1516 1063,1517 1073,1521 1084,1519 1094,1517 1105,1518 1105,1521 1094,1521 1084,1520 1073,1523 1063,1524 1052,1522" fill="#7a0a0e"/><polygon points="1052,1535 1063,1533 1073,1532 1084,1534 1094,1535 1105,1535 1105,1535 1094,1539 1084,1535 1073,1537 1063,1536 1052,1536" fill="#7a0a0e"/><polygon points="1052,1543 1063,1543 1073,1542 1084,1539 1094,1539 1105,1539 1105,1542 1094,1543 1084,1543 1073,1543 1063,1546 1052,1544" fill="#8e8e8e"/><polygon points="1052,1548 1063,1549 1073,1547 1084,1549 1094,1551 1105,1550 1105,1552 1094,1553 1084,1553 1073,1553 1063,1553 1052,1554" fill="#7a0a0e"/></g></g><g clip-path="url(#gr94)"><rect x="1072.4" y="1463.5" width="64.6" height="64.6" fill="#e07514"/><g transform="rotate(36 1104.7 1495.8)"><polygon points="1072,1468 1085,1468 1098,1472 1111,1468 1124,1471 1137,1468 1137,1475 1124,1473 1111,1474 1098,1475 1085,1475 1072,1472" fill="#f24331"/><polygon points="1072,1482 1085,1485 1098,1481 1111,1483 1124,1481 1137,1484 1137,1488 1124,1489 1111,1492 1098,1490 1085,1490 1072,1488" fill="#7a0a0e"/><polygon points="1072,1498 1085,1495 1098,1495 1111,1495 1124,1498 1137,1498 1137,1501 1124,1501 1111,1501 1098,1502 1085,1502 1072,1500" fill="#f24331"/><polygon points="1072,1510 1085,1512 1098,1509 1111,1509 1124,1509 1137,1512 1137,1516 1124,1513 1111,1515 1098,1516 1085,1514 1072,1517" fill="#7a0a0e"/><polygon points="1072,1525 1085,1523 1098,1527 1111,1525 1124,1523 1137,1526 1137,1526 1124,1529 1111,1530 1098,1529 1085,1526 1072,1526" fill="#f24331"/></g></g><g clip-path="url(#gr95)"><rect x="1009.5" y="1351.4" width="38.6" height="38.6" fill="#7014f0"/><g transform="rotate(146 1028.8 1370.7)"><polygon points="1010,1357 1017,1357 1025,1358 1033,1356 1040,1361 1048,1357 1048,1362 1040,1360 1033,1363 1025,1361 1017,1361 1010,1362" fill="#7a0a0e"/><polygon points="1010,1365 1017,1368 1025,1367 1033,1366 1040,1369 1048,1366 1048,1371 1040,1368 1033,1369 1025,1371 1017,1369 1010,1372" fill="#b0804e"/><polygon points="1010,1375 1017,1373 1025,1375 1033,1376 1040,1374 1048,1374 1048,1380 1040,1377 1033,1376 1025,1377 1017,1379 1010,1379" fill="#7a0a0e"/><polygon points="1010,1380 1017,1381 1025,1380 1033,1381 1040,1382 1048,1383 1048,1384 1040,1385 1033,1386 1025,1386 1017,1385 1010,1387" fill="#b0804e"/></g></g><g clip-path="url(#gr96)"><rect x="993.2" y="1580.7" width="62.0" height="62.0" fill="#b0804e"/><g transform="rotate(94 1024.2 1611.7)"><polygon points="993,1584 1006,1582 1018,1582 1030,1586 1043,1583 1055,1584 1055,1585 1043,1588 1030,1587 1018,1586 1006,1584 993,1586" fill="#e07514"/><polygon points="993,1594 1006,1590 1018,1591 1030,1592 1043,1595 1055,1591 1055,1595 1043,1595 1030,1593 1018,1596 1006,1593 993,1594" fill="#7a0a0e"/><polygon points="993,1610 1006,1610 1018,1609 1030,1610 1043,1612 1055,1610 1055,1613 1043,1612 1030,1616 1018,1614 1006,1614 993,1616" fill="#7a0a0e"/><polygon points="993,1618 1006,1622 1018,1621 1030,1617 1043,1619 1055,1622 1055,1625 1043,1624 1030,1628 1018,1624 1006,1624 993,1626" fill="#e07514"/><polygon points="993,1627 1006,1627 1018,1628 1030,1630 1043,1631 1055,1627 1055,1635 1043,1635 1030,1632 1018,1637 1006,1634 993,1634" fill="#7a0a0e"/><polygon points="993,1639 1006,1636 1018,1639 1030,1636 1043,1640 1055,1640 1055,1644 1043,1644 1030,1646 1018,1645 1006,1644 993,1642" fill="#e07514"/></g></g><g clip-path="url(#gr97)"><rect x="1021.2" y="1585.8" width="82.4" height="82.4" fill="#7a0a0e"/><g transform="rotate(179 1062.4 1627.0)"><polygon points="1021,1587 1038,1587 1054,1587 1071,1590 1087,1591 1104,1590 1104,1590 1087,1592 1071,1590 1054,1591 1038,1591 1021,1590" fill="#b0804e"/><polygon points="1021,1600 1038,1600 1054,1599 1071,1596 1087,1597 1104,1600 1104,1607 1087,1603 1071,1605 1054,1606 1038,1606 1021,1602" fill="#e07514"/><polygon points="1021,1610 1038,1608 1054,1610 1071,1607 1087,1610 1104,1608 1104,1613 1087,1613 1071,1615 1054,1611 1038,1614 1021,1611" fill="#b0804e"/><polygon points="1021,1618 1038,1621 1054,1622 1071,1618 1087,1621 1104,1620 1104,1626 1087,1623 1071,1623 1054,1625 1038,1622 1021,1625" fill="#e07514"/><polygon points="1021,1632 1038,1632 1054,1629 1071,1631 1087,1633 1104,1630 1104,1635 1087,1635 1071,1636 1054,1634 1038,1634 1021,1633" fill="#b0804e"/><polygon points="1021,1642 1038,1639 1054,1642 1071,1639 1087,1643 1104,1642 1104,1645 1087,1644 1071,1645 1054,1645 1038,1648 1021,1648" fill="#e07514"/><polygon points="1021,1652 1038,1651 1054,1652 1071,1653 1087,1653 1104,1650 1104,1657 1087,1654 1071,1654 1054,1653 1038,1653 1021,1653" fill="#b0804e"/><polygon points="1021,1661 1038,1661 1054,1660 1071,1660 1087,1664 1104,1662 1104,1666 1087,1664 1071,1668 1054,1664 1038,1667 1021,1664" fill="#e07514"/></g></g><g clip-path="url(#gr98)"><rect x="978.9" y="1623.9" width="45.6" height="45.6" fill="#8e8e8e"/><g transform="rotate(103 1001.7 1646.7)"><polygon points="979,1625 988,1624 997,1623 1006,1623 1015,1623 1024,1623 1024,1630 1015,1632 1006,1630 997,1628 988,1630 979,1630" fill="#e2cc4c"/><polygon points="979,1648 988,1649 997,1652 1006,1650 1015,1651 1024,1650 1024,1654 1015,1654 1006,1655 997,1654 988,1655 979,1652" fill="#e2cc4c"/><polygon points="979,1663 988,1663 997,1665 1006,1664 1015,1665 1024,1662 1024,1667 1015,1670 1006,1666 997,1667 988,1666 979,1669" fill="#f24331"/></g></g><g clip-path="url(#gr99)"><rect x="849.3" y="1609.0" width="46.8" height="46.8" fill="#f24331"/><g transform="rotate(151 872.7 1632.4)"><polygon points="849,1641 859,1641 868,1643 877,1643 887,1640 896,1640 896,1647 887,1649 877,1649 868,1649 859,1648 849,1649" fill="#b0804e"/><polygon points="849,1655 859,1655 868,1655 877,1652 887,1656 896,1656 896,1658 887,1659 877,1656 868,1656 859,1656 849,1658" fill="#7a0a0e"/></g></g><g clip-path="url(#gr100)"><rect x="932.9" y="1338.8" width="55.9" height="55.9" fill="#7014f0"/><g transform="rotate(150 960.9 1366.7)"><polygon points="933,1340 944,1341 955,1338 967,1337 978,1341 989,1341 989,1343 978,1344 967,1341 955,1346 944,1344 933,1346" fill="#8e8e8e"/><polygon points="933,1345 944,1346 955,1348 967,1347 978,1347 989,1345 989,1348 978,1349 967,1349 955,1350 944,1352 933,1349" fill="#b0804e"/><polygon points="933,1356 944,1352 955,1353 967,1353 978,1351 989,1352 989,1357 978,1355 967,1355 955,1358 944,1356 933,1357" fill="#8e8e8e"/><polygon points="933,1363 944,1363 955,1359 967,1362 978,1359 989,1359 989,1363 978,1363 967,1363 955,1363 944,1366 933,1366" fill="#b0804e"/><polygon points="933,1370 944,1369 955,1366 967,1368 978,1367 989,1368 989,1374 978,1370 967,1371 955,1372 944,1373 933,1371" fill="#8e8e8e"/><polygon points="933,1378 944,1374 955,1378 967,1376 978,1378 989,1375 989,1380 978,1376 967,1377 955,1380 944,1378 933,1379" fill="#b0804e"/><polygon points="933,1384 944,1383 955,1382 967,1386 978,1383 989,1381 989,1387 978,1387 967,1386 955,1387 944,1385 933,1390" fill="#8e8e8e"/><polygon points="933,1391 944,1391 955,1390 967,1392 978,1390 989,1393 989,1395 978,1395 967,1392 955,1395 944,1396 933,1395" fill="#b0804e"/></g></g><g clip-path="url(#gr101)"><rect x="1013.8" y="1462.6" width="53.3" height="53.3" fill="#7a0a0e"/><g transform="rotate(160 1040.4 1489.2)"><polygon points="1014,1471 1024,1472 1035,1469 1046,1471 1056,1472 1067,1469 1067,1477 1056,1479 1046,1475 1035,1478 1024,1478 1014,1479" fill="#8e8e8e"/><polygon points="1014,1484 1024,1483 1035,1483 1046,1484 1056,1483 1067,1485 1067,1491 1056,1490 1046,1491 1035,1492 1024,1492 1014,1492" fill="#e07514"/><polygon points="1014,1493 1024,1494 1035,1494 1046,1496 1056,1494 1067,1496 1067,1504 1056,1502 1046,1504 1035,1502 1024,1502 1014,1501" fill="#8e8e8e"/><polygon points="1014,1506 1024,1507 1035,1507 1046,1510 1056,1511 1067,1507 1067,1511 1056,1515 1046,1513 1035,1514 1024,1515 1014,1513" fill="#e07514"/></g></g><g clip-path="url(#gr102)"><rect x="954.6" y="1610.4" width="51.3" height="51.3" fill="#7a0a0e"/><g transform="rotate(1 980.3 1636.1)"><polygon points="955,1619 965,1621 975,1619 985,1618 996,1622 1006,1619 1006,1624 996,1626 985,1624 975,1626 965,1625 955,1624" fill="#b0804e"/><polygon points="955,1633 965,1637 975,1635 985,1636 996,1636 1006,1633 1006,1642 996,1642 985,1645 975,1646 965,1644 955,1644" fill="#7014f0"/><polygon points="955,1649 965,1648 975,1652 985,1648 996,1648 1006,1651 1006,1656 996,1657 985,1658 975,1657 965,1658 955,1656" fill="#b0804e"/></g></g><g clip-path="url(#gr103)"><rect x="859.9" y="1533.6" width="31.4" height="31.4" fill="#e07514"/><g transform="rotate(18 875.6 1549.3)"><polygon points="860,1537 866,1535 872,1538 879,1535 885,1535 891,1538 891,1540 885,1542 879,1542 872,1541 866,1540 860,1542" fill="#7a0a0e"/><polygon points="860,1548 866,1548 872,1548 879,1550 885,1548 891,1549 891,1553 885,1554 879,1555 872,1553 866,1554 860,1553" fill="#8e8e8e"/></g></g><g clip-path="url(#gr104)"><rect x="955.4" y="1491.3" width="42.1" height="42.1" fill="#e2cc4c"/><g transform="rotate(90 976.5 1512.3)"><polygon points="955,1512 964,1512 972,1513 981,1514 989,1512 998,1513 998,1521 989,1521 981,1519 972,1519 964,1519 955,1523" fill="#f24331"/><polygon points="955,1525 964,1528 972,1527 981,1526 989,1525 998,1527 998,1532 989,1532 981,1532 972,1531 964,1529 955,1532" fill="#7a0a0e"/></g></g><g clip-path="url(#gr105)"><rect x="986.5" y="1373.2" width="46.0" height="46.0" fill="#7014f0"/><g transform="rotate(177 1009.5 1396.2)"><polygon points="987,1387 996,1387 1005,1384 1014,1387 1023,1387 1033,1387 1033,1395 1023,1391 1014,1392 1005,1395 996,1392 987,1393" fill="#7a0a0e"/><polygon points="987,1416 996,1417 1005,1416 1014,1414 1023,1414 1033,1413 1033,1422 1023,1422 1014,1420 1005,1422 996,1422 987,1421" fill="#7a0a0e"/></g></g><g clip-path="url(#gr106)"><rect x="996.0" y="1618.6" width="25.0" height="25.0" fill="#e2cc4c"/><g transform="rotate(97 1008.5 1631.1)"><polygon points="996,1628 1001,1631 1006,1629 1011,1632 1016,1632 1021,1627 1021,1635 1016,1635 1011,1638 1006,1637 1001,1637 996,1636" fill="#8e8e8e"/><polygon points="996,1640 1001,1643 1006,1640 1011,1640 1016,1643 1021,1644 1021,1650 1016,1650 1011,1649 1006,1645 1001,1646 996,1648" fill="#7a0a0e"/></g></g><g clip-path="url(#gr107)"><rect x="862.1" y="1335.6" width="57.1" height="57.1" fill="#e2cc4c"/><g transform="rotate(113 890.6 1364.2)"><polygon points="862,1343 874,1344 885,1343 896,1343 908,1340 919,1342 919,1344 908,1344 896,1344 885,1344 874,1343 862,1345" fill="#7014f0"/><polygon points="862,1364 874,1365 885,1366 896,1363 908,1362 919,1366 919,1369 908,1366 896,1367 885,1366 874,1366 862,1367" fill="#7a0a0e"/><polygon points="862,1379 874,1382 885,1379 896,1381 908,1382 919,1377 919,1384 908,1380 896,1382 885,1383 874,1380 862,1383" fill="#7a0a0e"/><polygon points="862,1387 874,1386 885,1385 896,1386 908,1389 919,1387 919,1391 908,1392 896,1392 885,1392 874,1390 862,1391" fill="#7014f0"/></g></g><g clip-path="url(#gr108)"><rect x="836.5" y="1477.1" width="49.0" height="49.0" fill="#8e8e8e"/><g transform="rotate(14 860.9 1501.6)"><polygon points="836,1495 846,1496 856,1497 866,1498 876,1497 885,1494 885,1501 876,1496 866,1498 856,1498 846,1496 836,1497" fill="#b0804e"/><polygon points="836,1526 846,1524 856,1524 866,1527 876,1524 885,1525 885,1528 876,1530 866,1530 856,1529 846,1529 836,1530" fill="#7a0a0e"/></g></g><g clip-path="url(#gr109)"><rect x="1144.1" y="1335.3" width="35.6" height="35.6" fill="#7a0a0e"/><g transform="rotate(11 1161.9 1353.0)"><polygon points="1144,1340 1151,1340 1158,1338 1165,1338 1173,1336 1180,1340 1180,1343 1173,1341 1165,1344 1158,1340 1151,1342 1144,1341" fill="#b0804e"/><polygon points="1144,1352 1151,1350 1158,1349 1165,1349 1173,1353 1180,1351 1180,1358 1173,1358 1165,1356 1158,1356 1151,1357 1144,1359" fill="#8e8e8e"/><polygon points="1144,1365 1151,1364 1158,1367 1165,1366 1173,1366 1180,1364 1180,1372 1173,1373 1165,1372 1158,1373 1151,1371 1144,1373" fill="#b0804e"/></g></g><g clip-path="url(#gr110)"><rect x="1122.1" y="1486.3" width="62.0" height="62.0" fill="#8e8e8e"/><g transform="rotate(73 1153.1 1517.3)"><polygon points="1122,1487 1134,1488 1147,1488 1159,1488 1172,1487 1184,1485 1184,1492 1172,1491 1159,1489 1147,1492 1134,1494 1122,1492" fill="#e2cc4c"/><polygon points="1122,1498 1134,1501 1147,1503 1159,1502 1172,1500 1184,1503 1184,1509 1172,1510 1159,1510 1147,1509 1134,1508 1122,1508" fill="#7a0a0e"/><polygon points="1122,1544 1134,1542 1147,1544 1159,1541 1172,1545 1184,1541 1184,1551 1172,1551 1159,1550 1147,1550 1134,1547 1122,1549" fill="#e2cc4c"/></g></g><g clip-path="url(#gr111)"><rect x="854.6" y="1471.2" width="33.3" height="33.3" fill="#7a0a0e"/><g transform="rotate(16 871.2 1487.9)"><polygon points="855,1482 861,1478 868,1482 875,1479 881,1477 888,1478 888,1485 881,1482 875,1486 868,1483 861,1482 855,1485" fill="#f24331"/><polygon points="855,1490 861,1491 868,1492 875,1492 881,1493 888,1490 888,1495 881,1499 875,1497 868,1498 861,1499 855,1498" fill="#e2cc4c"/><polygon points="855,1503 861,1505 868,1507 875,1507 881,1503 888,1505 888,1510 881,1510 875,1510 868,1513 861,1510 855,1511" fill="#f24331"/></g></g><g clip-path="url(#gr112)"><rect x="877.8" y="1559.9" width="47.9" height="47.9" fill="#7a0a0e"/><g transform="rotate(172 901.8 1583.8)"><polygon points="878,1564 887,1565 897,1565 907,1561 916,1565 926,1565 926,1570 916,1569 907,1566 897,1569 887,1569 878,1568" fill="#7014f0"/><polygon points="878,1572 887,1574 897,1575 907,1575 916,1575 926,1572 926,1578 916,1578 907,1578 897,1576 887,1578 878,1580" fill="#8e8e8e"/><polygon points="878,1595 887,1595 897,1590 907,1593 916,1595 926,1592 926,1598 916,1597 907,1600 897,1599 887,1599 878,1599" fill="#8e8e8e"/><polygon points="878,1603 887,1602 897,1602 907,1605 916,1603 926,1603 926,1606 916,1609 907,1606 897,1608 887,1607 878,1608" fill="#7014f0"/></g></g><g clip-path="url(#gr113)"><rect x="988.8" y="1409.5" width="76.5" height="76.5" fill="#7a0a0e"/><g transform="rotate(18 1027.0 1447.7)"><polygon points="989,1415 1004,1414 1019,1413 1035,1414 1050,1417 1065,1415 1065,1420 1050,1421 1035,1418 1019,1418 1004,1422 989,1421" fill="#e2cc4c"/><polygon points="989,1444 1004,1444 1019,1442 1035,1445 1050,1441 1065,1442 1065,1448 1050,1448 1035,1448 1019,1448 1004,1449 989,1447" fill="#e2cc4c"/><polygon points="989,1458 1004,1455 1019,1456 1035,1456 1050,1455 1065,1457 1065,1465 1050,1461 1035,1464 1019,1464 1004,1462 989,1462" fill="#f24331"/><polygon points="989,1472 1004,1470 1019,1469 1035,1472 1050,1469 1065,1471 1065,1476 1050,1475 1035,1474 1019,1475 1004,1474 989,1476" fill="#e2cc4c"/></g></g><g clip-path="url(#gr114)"><rect x="897.5" y="1616.3" width="51.6" height="51.6" fill="#f24331"/><g transform="rotate(115 923.3 1642.1)"><polygon points="898,1620 908,1623 918,1622 928,1620 939,1625 949,1620 949,1626 939,1628 928,1628 918,1626 908,1629 898,1627" fill="#7a0a0e"/><polygon points="898,1637 908,1639 918,1635 928,1637 939,1637 949,1639 949,1645 939,1643 928,1643 918,1645 908,1643 898,1644" fill="#e07514"/><polygon points="898,1649 908,1652 918,1651 928,1653 939,1650 949,1652 949,1659 939,1662 928,1661 918,1658 908,1659 898,1659" fill="#7a0a0e"/><polygon points="898,1666 908,1663 918,1666 928,1667 939,1665 949,1664 949,1670 939,1672 928,1669 918,1670 908,1670 898,1672" fill="#e07514"/></g></g><g clip-path="url(#gr115)"><rect x="1054.7" y="1457.2" width="61.8" height="61.8" fill="#f24331"/><g transform="rotate(64 1085.6 1488.1)"><polygon points="1055,1470 1067,1472 1079,1473 1092,1472 1104,1471 1117,1470 1117,1474 1104,1476 1092,1473 1079,1477 1067,1477 1055,1473" fill="#7a0a0e"/><polygon points="1055,1487 1067,1487 1079,1488 1092,1485 1104,1488 1117,1489 1117,1487 1104,1488 1092,1491 1079,1488 1067,1488 1055,1491" fill="#7a0a0e"/><polygon points="1055,1500 1067,1500 1079,1501 1092,1504 1104,1503 1117,1501 1117,1504 1104,1505 1092,1503 1079,1503 1067,1503 1055,1504" fill="#7a0a0e"/><polygon points="1055,1517 1067,1517 1079,1519 1092,1517 1104,1519 1117,1519 1117,1520 1104,1522 1092,1524 1079,1521 1067,1524 1055,1522" fill="#7a0a0e"/></g></g><g clip-path="url(#gr116)"><rect x="953.3" y="1564.4" width="39.8" height="39.8" fill="#e07514"/><g transform="rotate(118 973.2 1584.4)"><polygon points="953,1574 961,1572 969,1574 977,1574 985,1574 993,1572 993,1576 985,1577 977,1576 969,1576 961,1577 953,1578" fill="#7a0a0e"/><polygon points="953,1580 961,1582 969,1580 977,1584 985,1580 993,1581 993,1586 985,1583 977,1582 969,1583 961,1585 953,1584" fill="#8e8e8e"/><polygon points="953,1589 961,1590 969,1589 977,1589 985,1588 993,1590 993,1596 985,1594 977,1598 969,1596 961,1594 953,1594" fill="#7a0a0e"/><polygon points="953,1599 961,1599 969,1600 977,1597 985,1596 993,1601 993,1601 985,1603 977,1604 969,1601 961,1600 953,1603" fill="#8e8e8e"/></g></g><g clip-path="url(#gr117)"><rect x="1143.1" y="1354.4" width="33.4" height="33.4" fill="#8e8e8e"/><g transform="rotate(105 1159.8 1371.1)"><polygon points="1143,1366 1150,1366 1156,1366 1163,1366 1170,1369 1177,1365 1177,1372 1170,1373 1163,1374 1156,1372 1150,1374 1143,1373" fill="#7a0a0e"/></g></g><g clip-path="url(#gr118)"><rect x="871.4" y="1444.2" width="43.3" height="43.3" fill="#7a0a0e"/><g transform="rotate(31 893.0 1465.9)"><polygon points="871,1470 880,1468 889,1469 897,1467 906,1468 915,1467 915,1473 906,1473 897,1473 889,1473 880,1470 871,1473" fill="#b0804e"/><polygon points="871,1479 880,1481 889,1478 897,1483 906,1481 915,1479 915,1488 906,1487 897,1488 889,1489 880,1489 871,1490" fill="#f24331"/></g></g><g clip-path="url(#gr119)"><rect x="975.8" y="1331.6" width="58.7" height="58.7" fill="#e07514"/><g transform="rotate(6 1005.1 1361.0)"><polygon points="976,1346 988,1344 999,1345 1011,1347 1023,1348 1034,1343 1034,1355 1023,1354 1011,1354 999,1351 988,1352 976,1354" fill="#e2cc4c"/><polygon points="976,1359 988,1358 999,1358 1011,1358 1023,1358 1034,1358 1034,1364 1023,1364 1011,1363 999,1363 988,1364 976,1362" fill="#7a0a0e"/><polygon points="976,1375 988,1372 999,1373 1011,1372 1023,1375 1034,1376 1034,1380 1023,1377 1011,1378 999,1377 988,1381 976,1377" fill="#e2cc4c"/><polygon points="976,1389 988,1387 999,1387 1011,1387 1023,1388 1034,1388 1034,1396 1023,1395 1011,1397 999,1396 988,1394 976,1395" fill="#7a0a0e"/></g></g><g clip-path="url(#gr120)"><rect x="823.5" y="1401.4" width="56.4" height="56.4" fill="#7a0a0e"/><g transform="rotate(77 851.7 1429.6)"><polygon points="823,1402 835,1402 846,1401 857,1405 869,1400 880,1405 880,1410 869,1411 857,1409 846,1409 835,1408 823,1409" fill="#b0804e"/><polygon points="823,1415 835,1416 846,1417 857,1417 869,1415 880,1413 880,1420 869,1418 857,1421 846,1421 835,1419 823,1418" fill="#8e8e8e"/><polygon points="823,1424 835,1427 846,1426 857,1424 869,1428 880,1425 880,1432 869,1433 857,1432 846,1432 835,1433 823,1435" fill="#b0804e"/><polygon points="823,1440 835,1440 846,1440 857,1436 869,1440 880,1440 880,1445 869,1445 857,1445 846,1442 835,1446 823,1445" fill="#8e8e8e"/><polygon points="823,1448 835,1449 846,1451 857,1448 869,1448 880,1451 880,1455 869,1457 857,1452 846,1454 835,1453 823,1457" fill="#b0804e"/></g></g><g clip-path="url(#gr121)"><rect x="940.4" y="1567.3" width="45.7" height="45.7" fill="#f24331"/><g transform="rotate(124 963.2 1590.1)"><polygon points="940,1571 950,1571 959,1573 968,1571 977,1575 986,1572 986,1576 977,1579 968,1579 959,1580 950,1578 940,1581" fill="#7a0a0e"/><polygon points="940,1597 950,1596 959,1598 968,1596 977,1597 986,1596 986,1602 977,1604 968,1605 959,1603 950,1602 940,1604" fill="#7a0a0e"/><polygon points="940,1611 950,1611 959,1610 968,1609 977,1611 986,1609 986,1615 977,1613 968,1614 959,1614 950,1614 940,1614" fill="#e2cc4c"/></g></g><g clip-path="url(#gr122)"><rect x="1022.1" y="1334.8" width="50.1" height="50.1" fill="#7a0a0e"/><g transform="rotate(130 1047.1 1359.8)"><polygon points="1022,1350 1032,1346 1042,1346 1052,1346 1062,1346 1072,1350 1072,1355 1062,1351 1052,1350 1042,1351 1032,1355 1022,1352" fill="#e2cc4c"/><polygon points="1022,1362 1032,1363 1042,1365 1052,1360 1062,1362 1072,1363 1072,1371 1062,1370 1052,1368 1042,1367 1032,1368 1022,1369" fill="#f24331"/><polygon points="1022,1377 1032,1376 1042,1378 1052,1379 1062,1377 1072,1377 1072,1385 1062,1384 1052,1387 1042,1383 1032,1385 1022,1387" fill="#e2cc4c"/></g></g><g clip-path="url(#gr123)"><rect x="822.7" y="1482.2" width="41.4" height="41.4" fill="#e07514"/><g transform="rotate(67 843.4 1502.9)"><polygon points="823,1505 831,1506 839,1505 848,1506 856,1506 864,1502 864,1510 856,1508 848,1510 839,1511 831,1511 823,1508" fill="#7a0a0e"/><polygon points="823,1519 831,1518 839,1517 848,1517 856,1518 864,1517 864,1521 856,1525 848,1524 839,1522 831,1523 823,1521" fill="#8e8e8e"/></g></g><g clip-path="url(#gr124)"><rect x="1098.8" y="1631.7" width="57.5" height="57.5" fill="#7a0a0e"/><g transform="rotate(47 1127.5 1660.4)"><polygon points="1099,1634 1110,1634 1122,1635 1133,1637 1145,1636 1156,1633 1156,1637 1145,1636 1133,1640 1122,1639 1110,1637 1099,1638" fill="#e07514"/><polygon points="1099,1645 1110,1646 1122,1645 1133,1643 1145,1645 1156,1646 1156,1649 1145,1649 1133,1649 1122,1651 1110,1651 1099,1650" fill="#7014f0"/><polygon points="1099,1652 1110,1652 1122,1653 1133,1652 1145,1651 1156,1651 1156,1658 1145,1657 1133,1658 1122,1655 1110,1656 1099,1654" fill="#e07514"/><polygon points="1099,1660 1110,1663 1122,1659 1133,1661 1145,1659 1156,1663 1156,1662 1145,1666 1133,1663 1122,1663 1110,1662 1099,1665" fill="#7014f0"/><polygon points="1099,1670 1110,1669 1122,1670 1133,1671 1145,1667 1156,1672 1156,1674 1145,1674 1133,1675 1122,1672 1110,1671 1099,1672" fill="#e07514"/><polygon points="1099,1676 1110,1679 1122,1680 1133,1678 1145,1679 1156,1680 1156,1683 1145,1685 1133,1683 1122,1685 1110,1685 1099,1681" fill="#7014f0"/><polygon points="1099,1686 1110,1686 1122,1684 1133,1686 1145,1689 1156,1686 1156,1688 1145,1689 1133,1690 1122,1687 1110,1688 1099,1690" fill="#e07514"/></g></g><g clip-path="url(#gr125)"><rect x="919.1" y="1608.3" width="69.2" height="69.2" fill="#8e8e8e"/><g transform="rotate(11 953.7 1642.9)"><polygon points="919,1617 933,1617 947,1619 961,1620 974,1619 988,1619 988,1624 974,1628 961,1625 947,1626 933,1628 919,1628" fill="#f24331"/><polygon points="919,1635 933,1633 947,1631 961,1632 974,1633 988,1631 988,1637 974,1641 961,1641 947,1641 933,1638 919,1638" fill="#7a0a0e"/><polygon points="919,1647 933,1647 947,1649 961,1649 974,1650 988,1650 988,1656 974,1658 961,1656 947,1654 933,1656 919,1655" fill="#f24331"/><polygon points="919,1677 933,1678 947,1674 961,1677 974,1674 988,1676 988,1680 974,1680 961,1680 947,1681 933,1679 919,1681" fill="#f24331"/></g></g><g clip-path="url(#gr126)"><rect x="1106.4" y="1450.8" width="70.8" height="70.8" fill="#7a0a0e"/><g transform="rotate(1 1141.8 1486.2)"><polygon points="1106,1463 1121,1465 1135,1461 1149,1463 1163,1463 1177,1462 1177,1470 1163,1469 1149,1468 1135,1471 1121,1470 1106,1468" fill="#f24331"/><polygon points="1106,1477 1121,1476 1135,1478 1149,1477 1163,1474 1177,1476 1177,1484 1163,1482 1149,1484 1135,1484 1121,1485 1106,1484" fill="#e2cc4c"/><polygon points="1106,1488 1121,1489 1135,1489 1149,1491 1163,1491 1177,1490 1177,1497 1163,1495 1149,1496 1135,1495 1121,1493 1106,1496" fill="#f24331"/><polygon points="1106,1505 1121,1502 1135,1502 1149,1501 1163,1503 1177,1502 1177,1509 1163,1510 1149,1513 1135,1512 1121,1510 1106,1509" fill="#e2cc4c"/><polygon points="1106,1517 1121,1515 1135,1517 1149,1518 1163,1515 1177,1515 1177,1523 1163,1523 1149,1524 1135,1524 1121,1522 1106,1522" fill="#f24331"/></g></g><g clip-path="url(#gr127)"><rect x="1068.3" y="1429.3" width="69.4" height="69.4" fill="#f24331"/><g transform="rotate(69 1103.0 1464.0)"><polygon points="1068,1432 1082,1434 1096,1432 1110,1436 1124,1436 1138,1433 1138,1440 1124,1437 1110,1437 1096,1441 1082,1437 1068,1440" fill="#e07514"/><polygon points="1068,1442 1082,1442 1096,1442 1110,1441 1124,1444 1138,1443 1138,1448 1124,1447 1110,1446 1096,1446 1082,1445 1068,1448" fill="#7a0a0e"/><polygon points="1068,1453 1082,1450 1096,1450 1110,1449 1124,1449 1138,1449 1138,1454 1124,1454 1110,1454 1096,1456 1082,1453 1068,1455" fill="#e07514"/><polygon points="1068,1473 1082,1476 1096,1472 1110,1473 1124,1476 1138,1472 1138,1479 1124,1477 1110,1476 1096,1480 1082,1479 1068,1476" fill="#7a0a0e"/><polygon points="1068,1480 1082,1484 1096,1481 1110,1481 1124,1480 1138,1482 1138,1485 1124,1483 1110,1486 1096,1485 1082,1486 1068,1487" fill="#e07514"/><polygon points="1068,1489 1082,1491 1096,1490 1110,1490 1124,1489 1138,1488 1138,1493 1124,1495 1110,1497 1096,1497 1082,1493 1068,1493" fill="#7a0a0e"/><polygon points="1068,1500 1082,1497 1096,1497 1110,1497 1124,1499 1138,1496 1138,1503 1124,1498 1110,1503 1096,1500 1082,1500 1068,1501" fill="#e07514"/></g></g><g clip-path="url(#gr128)"><rect x="860.7" y="1506.8" width="50.3" height="50.3" fill="#7a0a0e"/><g transform="rotate(98 885.9 1531.9)"><polygon points="861,1515 871,1515 881,1516 891,1515 901,1518 911,1515 911,1523 901,1523 891,1523 881,1525 871,1524 861,1525" fill="#b0804e"/><polygon points="861,1546 871,1546 881,1543 891,1544 901,1546 911,1543 911,1554 901,1551 891,1553 881,1551 871,1554 861,1554" fill="#b0804e"/></g></g><g clip-path="url(#gr129)"><rect x="830.9" y="1546.6" width="57.8" height="57.8" fill="#8e8e8e"/><g transform="rotate(102 859.8 1575.5)"><polygon points="831,1554 842,1556 854,1555 866,1553 877,1557 889,1554 889,1557 877,1560 866,1559 854,1561 842,1559 831,1559" fill="#7a0a0e"/><polygon points="831,1574 842,1572 854,1575 866,1573 877,1573 889,1572 889,1576 877,1577 866,1576 854,1576 842,1576 831,1578" fill="#7a0a0e"/><polygon points="831,1584 842,1581 854,1585 866,1585 877,1582 889,1581 889,1584 877,1588 866,1584 854,1587 842,1587 831,1587" fill="#e07514"/><polygon points="831,1593 842,1594 854,1591 866,1592 877,1593 889,1592 889,1597 877,1596 866,1599 854,1595 842,1599 831,1594" fill="#7a0a0e"/><polygon points="831,1601 842,1602 854,1604 866,1600 877,1602 889,1604 889,1607 877,1608 866,1610 854,1609 842,1606 831,1606" fill="#e07514"/></g></g><g clip-path="url(#gr130)"><rect x="1087.4" y="1629.4" width="54.3" height="54.3" fill="#e2cc4c"/><g transform="rotate(153 1114.6 1656.6)"><polygon points="1087,1649 1098,1650 1109,1653 1120,1650 1131,1652 1142,1650 1142,1659 1131,1660 1120,1660 1109,1658 1098,1658 1087,1656" fill="#b0804e"/><polygon points="1087,1662 1098,1666 1109,1664 1120,1664 1131,1662 1142,1666 1142,1672 1131,1673 1120,1671 1109,1671 1098,1671 1087,1669" fill="#f24331"/><polygon points="1087,1676 1098,1679 1109,1679 1120,1678 1131,1678 1142,1676 1142,1682 1131,1682 1120,1680 1109,1681 1098,1679 1087,1682" fill="#b0804e"/></g></g><g clip-path="url(#gr131)"><rect x="961.8" y="1355.1" width="41.0" height="41.0" fill="#e2cc4c"/><g transform="rotate(144 982.3 1375.6)"><polygon points="962,1370 970,1372 978,1370 986,1375 995,1375 1003,1374 1003,1377 995,1378 986,1375 978,1379 970,1376 962,1376" fill="#7a0a0e"/><polygon points="962,1384 970,1380 978,1381 986,1382 995,1383 1003,1381 1003,1385 995,1386 986,1383 978,1383 970,1384 962,1385" fill="#f24331"/><polygon points="962,1389 970,1389 978,1392 986,1391 995,1389 1003,1390 1003,1393 995,1397 986,1395 978,1396 970,1394 962,1392" fill="#7a0a0e"/></g></g><g clip-path="url(#gr132)"><rect x="1104.0" y="1604.4" width="55.4" height="55.4" fill="#f24331"/><g transform="rotate(138 1131.7 1632.1)"><polygon points="1104,1611 1115,1610 1126,1610 1137,1613 1148,1610 1159,1612 1159,1618 1148,1618 1137,1621 1126,1622 1115,1620 1104,1620" fill="#7a0a0e"/><polygon points="1104,1628 1115,1624 1126,1626 1137,1625 1148,1625 1159,1625 1159,1632 1148,1630 1137,1634 1126,1630 1115,1632 1104,1631" fill="#7014f0"/><polygon points="1104,1643 1115,1639 1126,1641 1137,1639 1148,1638 1159,1640 1159,1646 1148,1649 1137,1646 1126,1645 1115,1648 1104,1648" fill="#7a0a0e"/><polygon points="1104,1652 1115,1656 1126,1656 1137,1655 1148,1652 1159,1653 1159,1659 1148,1663 1137,1660 1126,1660 1115,1660 1104,1662" fill="#7014f0"/></g></g><g clip-path="url(#gr133)"><rect x="1130.4" y="1512.4" width="53.4" height="53.4" fill="#7a0a0e"/><g transform="rotate(65 1157.1 1539.1)"><polygon points="1130,1518 1141,1516 1152,1515 1162,1516 1173,1514 1184,1519 1184,1522 1173,1521 1162,1520 1152,1521 1141,1519 1130,1520" fill="#e2cc4c"/><polygon points="1130,1534 1141,1532 1152,1534 1162,1535 1173,1536 1184,1535 1184,1540 1173,1539 1162,1540 1152,1540 1141,1537 1130,1536" fill="#e2cc4c"/><polygon points="1130,1543 1141,1545 1152,1544 1162,1545 1173,1541 1184,1545 1184,1550 1173,1547 1162,1550 1152,1547 1141,1550 1130,1550" fill="#f24331"/><polygon points="1130,1551 1141,1552 1152,1551 1162,1552 1173,1554 1184,1554 1184,1555 1173,1555 1162,1558 1152,1557 1141,1555 1130,1559" fill="#e2cc4c"/><polygon points="1130,1563 1141,1563 1152,1559 1162,1561 1173,1563 1184,1563 1184,1566 1173,1566 1162,1566 1152,1564 1141,1565 1130,1566" fill="#f24331"/></g></g><g clip-path="url(#gr134)"><rect x="1028.6" y="1440.9" width="62.0" height="62.0" fill="#7014f0"/><g transform="rotate(166 1059.6 1472.0)"><polygon points="1029,1453 1041,1451 1053,1452 1066,1455 1078,1456 1091,1453 1091,1459 1078,1457 1066,1459 1053,1461 1041,1458 1029,1459" fill="#e07514"/><polygon points="1029,1467 1041,1469 1053,1466 1066,1467 1078,1466 1091,1465 1091,1474 1078,1477 1066,1477 1053,1475 1041,1473 1029,1475" fill="#f24331"/><polygon points="1029,1484 1041,1481 1053,1481 1066,1484 1078,1484 1091,1483 1091,1487 1078,1490 1066,1485 1053,1490 1041,1489 1029,1485" fill="#e07514"/><polygon points="1029,1498 1041,1494 1053,1497 1066,1498 1078,1497 1091,1498 1091,1503 1078,1500 1066,1499 1053,1503 1041,1500 1029,1503" fill="#f24331"/></g></g><g clip-path="url(#gr135)"><rect x="865.4" y="1389.3" width="67.7" height="67.7" fill="#b0804e"/><g transform="rotate(38 899.3 1423.1)"><polygon points="865,1390 879,1388 893,1393 906,1391 920,1390 933,1389 933,1397 920,1396 906,1396 893,1394 879,1395 865,1396" fill="#8e8e8e"/><polygon points="865,1399 879,1402 893,1400 906,1399 920,1400 933,1402 933,1407 920,1407 906,1409 893,1406 879,1407 865,1408" fill="#f24331"/><polygon points="865,1426 879,1424 893,1423 906,1424 920,1426 933,1426 933,1427 920,1426 906,1430 893,1427 879,1426 865,1428" fill="#f24331"/><polygon points="865,1437 879,1437 893,1436 906,1437 920,1435 933,1433 933,1442 920,1440 906,1442 893,1443 879,1441 865,1442" fill="#8e8e8e"/><polygon points="865,1447 879,1448 893,1444 906,1445 920,1447 933,1447 933,1449 920,1452 906,1447 893,1451 879,1448 865,1448" fill="#f24331"/></g></g><g clip-path="url(#gr136)"><rect x="1055.1" y="1429.6" width="43.1" height="43.1" fill="#e07514"/><g transform="rotate(56 1076.6 1451.1)"><polygon points="1055,1440 1064,1439 1072,1436 1081,1437 1090,1435 1098,1437 1098,1442 1090,1443 1081,1444 1072,1444 1064,1444 1055,1440" fill="#7a0a0e"/><polygon points="1055,1452 1064,1453 1072,1448 1081,1453 1090,1450 1098,1449 1098,1458 1090,1457 1081,1459 1072,1458 1064,1457 1055,1458" fill="#f24331"/><polygon points="1055,1463 1064,1465 1072,1466 1081,1465 1090,1465 1098,1463 1098,1473 1090,1472 1081,1473 1072,1472 1064,1470 1055,1471" fill="#7a0a0e"/></g></g><g clip-path="url(#gr137)"><rect x="1051.1" y="1484.5" width="41.9" height="41.9" fill="#e07514"/><g transform="rotate(74 1072.1 1505.4)"><polygon points="1051,1494 1059,1496 1068,1492 1076,1496 1085,1496 1093,1494 1093,1497 1085,1498 1076,1498 1068,1500 1059,1497 1051,1497" fill="#8e8e8e"/><polygon points="1051,1504 1059,1502 1068,1502 1076,1503 1085,1502 1093,1505 1093,1509 1085,1508 1076,1508 1068,1509 1059,1505 1051,1507" fill="#7a0a0e"/><polygon points="1051,1513 1059,1509 1068,1511 1076,1512 1085,1511 1093,1509 1093,1513 1085,1513 1076,1514 1068,1516 1059,1512 1051,1514" fill="#8e8e8e"/><polygon points="1051,1518 1059,1519 1068,1517 1076,1520 1085,1518 1093,1521 1093,1522 1085,1521 1076,1521 1068,1524 1059,1525 1051,1525" fill="#7a0a0e"/></g></g><g clip-path="url(#gr138)"><rect x="940.7" y="1624.5" width="86.2" height="86.2" fill="#e2cc4c"/><g transform="rotate(96 983.8 1667.6)"><polygon points="941,1629 958,1631 975,1630 992,1634 1010,1629 1027,1631 1027,1633 1010,1633 992,1635 975,1633 958,1635 941,1635" fill="#e07514"/><polygon points="941,1640 958,1638 975,1640 992,1642 1010,1638 1027,1640 1027,1645 1010,1642 992,1641 975,1644 958,1644 941,1644" fill="#8e8e8e"/><polygon points="941,1649 958,1648 975,1646 992,1646 1010,1647 1027,1649 1027,1653 1010,1652 992,1652 975,1651 958,1653 941,1649" fill="#e07514"/><polygon points="941,1655 958,1657 975,1653 992,1655 1010,1657 1027,1654 1027,1660 1010,1658 992,1660 975,1660 958,1657 941,1657" fill="#8e8e8e"/><polygon points="941,1664 958,1665 975,1663 992,1661 1010,1663 1027,1665 1027,1664 1010,1666 992,1665 975,1667 958,1665 941,1664" fill="#e07514"/><polygon points="941,1671 958,1673 975,1669 992,1672 1010,1673 1027,1669 1027,1674 1010,1672 992,1673 975,1673 958,1675 941,1672" fill="#8e8e8e"/><polygon points="941,1678 958,1679 975,1677 992,1677 1010,1678 1027,1680 1027,1685 1010,1684 992,1682 975,1684 958,1686 941,1683" fill="#e07514"/><polygon points="941,1686 958,1689 975,1689 992,1688 1010,1685 1027,1686 1027,1688 1010,1689 992,1691 975,1687 958,1689 941,1688" fill="#8e8e8e"/><polygon points="941,1696 958,1694 975,1697 992,1692 1010,1694 1027,1693 1027,1699 1010,1698 992,1699 975,1696 958,1696 941,1700" fill="#e07514"/><polygon points="941,1710 958,1712 975,1709 992,1710 1010,1712 1027,1710 1027,1713 1010,1712 992,1716 975,1714 958,1714 941,1712" fill="#e07514"/></g></g><g clip-path="url(#gr139)"><rect x="881.1" y="1483.9" width="49.7" height="49.7" fill="#8e8e8e"/><g transform="rotate(13 905.9 1508.7)"><polygon points="881,1498 891,1494 901,1498 911,1499 921,1494 931,1496 931,1503 921,1500 911,1502 901,1503 891,1499 881,1501" fill="#7a0a0e"/><polygon points="881,1524 891,1527 901,1526 911,1529 921,1529 931,1528 931,1532 921,1531 911,1532 901,1531 891,1532 881,1534" fill="#7a0a0e"/></g></g><g clip-path="url(#gr140)"><rect x="871.7" y="1630.2" width="54.7" height="54.7" fill="#e07514"/><g transform="rotate(96 899.0 1657.5)"><polygon points="872,1635 883,1635 894,1635 904,1633 915,1633 926,1634 926,1641 915,1642 904,1640 894,1640 883,1643 872,1643" fill="#7a0a0e"/><polygon points="872,1665 883,1663 894,1665 904,1663 915,1661 926,1663 926,1670 915,1667 904,1670 894,1667 883,1670 872,1666" fill="#7a0a0e"/><polygon points="872,1677 883,1680 894,1675 904,1675 915,1680 926,1679 926,1685 915,1685 904,1684 894,1685 883,1686 872,1683" fill="#e2cc4c"/></g></g><g clip-path="url(#gr141)"><rect x="980.2" y="1436.1" width="50.5" height="50.5" fill="#8e8e8e"/><g transform="rotate(20 1005.5 1461.3)"><polygon points="980,1447 990,1450 1000,1450 1011,1449 1021,1446 1031,1446 1031,1456 1021,1454 1011,1455 1000,1453 990,1456 980,1455" fill="#e2cc4c"/><polygon points="980,1459 990,1460 1000,1460 1011,1462 1021,1459 1031,1459 1031,1464 1021,1463 1011,1462 1000,1464 990,1464 980,1465" fill="#7a0a0e"/><polygon points="980,1472 990,1470 1000,1470 1011,1474 1021,1474 1031,1475 1031,1479 1021,1478 1011,1478 1000,1478 990,1477 980,1480" fill="#e2cc4c"/></g></g><g clip-path="url(#gr142)"><rect x="875.5" y="1517.5" width="45.1" height="45.1" fill="#8e8e8e"/><g transform="rotate(127 898.1 1540.0)"><polygon points="876,1518 885,1522 894,1520 903,1521 912,1519 921,1522 921,1522 912,1526 903,1521 894,1525 885,1522 876,1526" fill="#7a0a0e"/><polygon points="876,1531 885,1532 894,1530 903,1530 912,1532 921,1529 921,1535 912,1534 903,1534 894,1535 885,1534 876,1536" fill="#e07514"/><polygon points="876,1544 885,1542 894,1542 903,1544 912,1544 921,1541 921,1548 912,1546 903,1546 894,1545 885,1548 876,1545" fill="#7a0a0e"/><polygon points="876,1550 885,1554 894,1550 903,1551 912,1555 921,1554 921,1554 912,1555 903,1556 894,1554 885,1556 876,1556" fill="#e07514"/></g></g><g clip-path="url(#gr143)"><rect x="953.9" y="1368.4" width="30.7" height="30.7" fill="#b0804e"/><g transform="rotate(38 969.3 1383.7)"><polygon points="954,1392 960,1390 966,1391 972,1390 978,1392 985,1391 985,1397 978,1397 972,1398 966,1397 960,1397 954,1401" fill="#7a0a0e"/></g></g><g clip-path="url(#gr144)"><rect x="815.3" y="1439.1" width="52.3" height="52.3" fill="#e2cc4c"/><g transform="rotate(31 841.4 1465.3)"><polygon points="815,1440 826,1440 836,1441 847,1442 857,1441 868,1440 868,1445 857,1443 847,1446 836,1444 826,1442 815,1444" fill="#7a0a0e"/><polygon points="815,1446 826,1451 836,1448 847,1449 857,1448 868,1447 868,1453 857,1456 847,1453 836,1454 826,1454 815,1452" fill="#7014f0"/><polygon points="815,1467 826,1464 836,1468 847,1466 857,1466 868,1465 868,1469 857,1468 847,1466 836,1469 826,1471 815,1470" fill="#7014f0"/><polygon points="815,1483 826,1481 836,1481 847,1485 857,1483 868,1484 868,1485 857,1488 847,1488 836,1485 826,1485 815,1485" fill="#7014f0"/></g></g><g clip-path="url(#gr145)"><rect x="1008.8" y="1501.1" width="45.7" height="45.7" fill="#8e8e8e"/><g transform="rotate(162 1031.7 1523.9)"><polygon points="1009,1509 1018,1510 1027,1509 1036,1510 1045,1512 1055,1512 1055,1516 1045,1517 1036,1517 1027,1518 1018,1516 1009,1516" fill="#e07514"/><polygon points="1009,1521 1018,1523 1027,1523 1036,1524 1045,1522 1055,1525 1055,1529 1045,1529 1036,1528 1027,1527 1018,1527 1009,1527" fill="#f24331"/><polygon points="1009,1532 1018,1537 1027,1532 1036,1534 1045,1534 1055,1537 1055,1539 1045,1539 1036,1540 1027,1541 1018,1542 1009,1541" fill="#e07514"/></g></g><g clip-path="url(#gr146)"><rect x="1119.9" y="1639.7" width="46.4" height="46.4" fill="#7014f0"/><g transform="rotate(151 1143.1 1662.9)"><polygon points="1120,1646 1129,1645 1138,1646 1148,1645 1157,1644 1166,1646 1166,1651 1157,1649 1148,1653 1138,1651 1129,1653 1120,1653" fill="#7a0a0e"/><polygon points="1120,1658 1129,1659 1138,1658 1148,1660 1157,1658 1166,1658 1166,1668 1157,1664 1148,1668 1138,1667 1129,1667 1120,1667" fill="#b0804e"/></g></g><g clip-path="url(#gr147)"><rect x="1127.0" y="1578.6" width="65.0" height="65.0" fill="#e07514"/><g transform="rotate(37 1159.5 1611.1)"><polygon points="1127,1578 1140,1579 1153,1579 1166,1579 1179,1580 1192,1579 1192,1582 1179,1584 1166,1583 1153,1584 1140,1582 1127,1584" fill="#8e8e8e"/><polygon points="1127,1587 1140,1586 1153,1591 1166,1587 1179,1586 1192,1589 1192,1589 1179,1589 1166,1589 1153,1589 1140,1590 1127,1590" fill="#7a0a0e"/><polygon points="1127,1595 1140,1597 1153,1596 1166,1597 1179,1595 1192,1594 1192,1599 1179,1601 1166,1596 1153,1599 1140,1600 1127,1598" fill="#8e8e8e"/><polygon points="1127,1617 1140,1616 1153,1616 1166,1619 1179,1619 1192,1618 1192,1621 1179,1621 1166,1620 1153,1622 1140,1621 1127,1623" fill="#7a0a0e"/><polygon points="1127,1630 1140,1631 1153,1630 1166,1634 1179,1631 1192,1632 1192,1636 1179,1635 1166,1636 1153,1632 1140,1632 1127,1634" fill="#7a0a0e"/></g></g><g clip-path="url(#gr148)"><rect x="963.5" y="1482.1" width="68.0" height="68.0" fill="#8e8e8e"/><g transform="rotate(98 997.5 1516.1)"><polygon points="964,1487 977,1490 991,1491 1004,1490 1018,1491 1032,1491 1032,1490 1018,1491 1004,1493 991,1493 977,1492 964,1491" fill="#7a0a0e"/><polygon points="964,1508 977,1508 991,1508 1004,1508 1018,1506 1032,1506 1032,1511 1018,1512 1004,1510 991,1513 977,1509 964,1510" fill="#7a0a0e"/><polygon points="964,1514 977,1515 991,1513 1004,1516 1018,1516 1032,1514 1032,1521 1018,1519 1004,1520 991,1522 977,1520 964,1518" fill="#f24331"/><polygon points="964,1527 977,1524 991,1523 1004,1525 1018,1524 1032,1526 1032,1526 1018,1527 1004,1528 991,1527 977,1529 964,1530" fill="#7a0a0e"/><polygon points="964,1531 977,1535 991,1532 1004,1534 1018,1535 1032,1536 1032,1539 1018,1538 1004,1537 991,1540 977,1538 964,1538" fill="#f24331"/><polygon points="964,1543 977,1540 991,1545 1004,1544 1018,1545 1032,1544 1032,1548 1018,1546 1004,1546 991,1549 977,1546 964,1549" fill="#7a0a0e"/></g></g><g clip-path="url(#gr149)"><rect x="946.3" y="1462.0" width="50.6" height="50.6" fill="#7a0a0e"/><g transform="rotate(115 971.6 1487.3)"><polygon points="946,1462 956,1464 967,1461 977,1464 987,1464 997,1460 997,1469 987,1468 977,1465 967,1465 956,1467 946,1469" fill="#e2cc4c"/><polygon points="946,1474 956,1471 967,1474 977,1472 987,1472 997,1473 997,1475 987,1479 977,1475 967,1480 956,1480 946,1480" fill="#b0804e"/><polygon points="946,1495 956,1494 967,1496 977,1497 987,1495 997,1493 997,1498 987,1501 977,1501 967,1498 956,1497 946,1501" fill="#b0804e"/><polygon points="946,1507 956,1506 967,1509 977,1507 987,1509 997,1506 997,1512 987,1513 977,1510 967,1512 956,1511 946,1511" fill="#e2cc4c"/></g></g><g clip-path="url(#gr150)"><rect x="819.7" y="1579.0" width="47.1" height="47.1" fill="#7014f0"/><g transform="rotate(109 843.2 1602.5)"><polygon points="820,1580 829,1580 839,1583 848,1580 857,1584 867,1581 867,1585 857,1587 848,1583 839,1586 829,1584 820,1585" fill="#e07514"/><polygon points="820,1591 829,1592 839,1590 848,1591 857,1592 867,1590 867,1594 857,1594 848,1592 839,1595 829,1593 820,1593" fill="#f24331"/><polygon points="820,1598 829,1600 839,1600 848,1601 857,1597 867,1598 867,1603 857,1602 848,1604 839,1605 829,1606 820,1603" fill="#e07514"/><polygon points="820,1608 829,1606 839,1607 848,1609 857,1609 867,1608 867,1614 857,1610 848,1611 839,1613 829,1610 820,1612" fill="#f24331"/><polygon points="820,1616 829,1615 839,1617 848,1616 857,1617 867,1616 867,1621 857,1622 848,1621 839,1622 829,1620 820,1618" fill="#e07514"/><polygon points="820,1623 829,1627 839,1623 848,1625 857,1625 867,1623 867,1630 857,1628 848,1631 839,1632 829,1630 820,1631" fill="#f24331"/></g></g><g clip-path="url(#gr151)"><rect x="885.9" y="1334.2" width="66.5" height="66.5" fill="#8e8e8e"/><g transform="rotate(42 919.1 1367.4)"><polygon points="886,1334 899,1334 912,1335 926,1333 939,1333 952,1335 952,1343 939,1343 926,1341 912,1340 899,1340 886,1339" fill="#e07514"/><polygon points="886,1370 899,1371 912,1368 926,1369 939,1370 952,1370 952,1376 939,1374 926,1373 912,1376 899,1375 886,1377" fill="#b0804e"/></g></g><g clip-path="url(#gr152)"><rect x="974.2" y="1568.6" width="50.3" height="50.3" fill="#f24331"/><g transform="rotate(31 999.4 1593.8)"><polygon points="974,1575 984,1575 994,1575 1004,1574 1014,1576 1025,1577 1025,1576 1014,1578 1004,1581 994,1580 984,1576 974,1579" fill="#7a0a0e"/><polygon points="974,1585 984,1586 994,1586 1004,1581 1014,1581 1025,1583 1025,1586 1014,1585 1004,1589 994,1586 984,1589 974,1584" fill="#7014f0"/><polygon points="974,1594 984,1594 994,1590 1004,1591 1014,1594 1025,1592 1025,1595 1014,1596 1004,1595 994,1597 984,1593 974,1595" fill="#7a0a0e"/><polygon points="974,1598 984,1599 994,1600 1004,1601 1014,1600 1025,1597 1025,1606 1014,1602 1004,1605 994,1602 984,1602 974,1605" fill="#7014f0"/><polygon points="974,1613 984,1615 994,1614 1004,1614 1014,1615 1025,1617 1025,1619 1014,1617 1004,1617 994,1616 984,1619 974,1617" fill="#7014f0"/></g></g><g clip-path="url(#gr153)"><rect x="963.2" y="1450.1" width="48.7" height="48.7" fill="#f24331"/><g transform="rotate(1 987.6 1474.5)"><polygon points="963,1461 973,1461 983,1461 992,1462 1002,1460 1012,1460 1012,1466 1002,1466 992,1467 983,1468 973,1466 963,1466" fill="#7a0a0e"/><polygon points="963,1475 973,1477 983,1476 992,1475 1002,1478 1012,1477 1012,1481 1002,1483 992,1481 983,1482 973,1485 963,1482" fill="#e2cc4c"/><polygon points="963,1490 973,1492 983,1492 992,1490 1002,1493 1012,1493 1012,1495 1002,1498 992,1496 983,1497 973,1497 963,1495" fill="#7a0a0e"/></g></g><g clip-path="url(#gr154)"><rect x="1043.3" y="1372.2" width="41.9" height="41.9" fill="#7a0a0e"/><g transform="rotate(74 1064.3 1393.1)"><polygon points="1043,1397 1052,1394 1060,1394 1068,1397 1077,1397 1085,1394 1085,1403 1077,1401 1068,1404 1060,1401 1052,1405 1043,1405" fill="#7014f0"/></g></g><g clip-path="url(#gr155)"><rect x="805.7" y="1505.7" width="69.8" height="69.8" fill="#e2cc4c"/><g transform="rotate(4 840.6 1540.6)"><polygon points="806,1506 820,1506 834,1505 848,1505 862,1506 875,1510 875,1511 862,1510 848,1510 834,1511 820,1510 806,1510" fill="#e07514"/><polygon points="806,1517 820,1515 834,1513 848,1513 862,1516 875,1515 875,1519 862,1520 848,1517 834,1516 820,1518 806,1520" fill="#7014f0"/><polygon points="806,1523 820,1521 834,1522 848,1521 862,1523 875,1523 875,1526 862,1528 848,1525 834,1527 820,1527 806,1528" fill="#e07514"/><polygon points="806,1529 820,1530 834,1528 848,1531 862,1530 875,1532 875,1532 862,1532 848,1534 834,1535 820,1530 806,1534" fill="#7014f0"/><polygon points="806,1535 820,1534 834,1537 848,1536 862,1536 875,1535 875,1542 862,1538 848,1542 834,1538 820,1540 806,1539" fill="#e07514"/><polygon points="806,1541 820,1541 834,1542 848,1542 862,1543 875,1545 875,1545 862,1547 848,1545 834,1547 820,1544 806,1545" fill="#7014f0"/><polygon points="806,1550 820,1553 834,1552 848,1550 862,1549 875,1551 875,1554 862,1555 848,1555 834,1551 820,1555 806,1551" fill="#e07514"/><polygon points="806,1556 820,1557 834,1556 848,1557 862,1556 875,1557 875,1563 862,1558 848,1558 834,1558 820,1559 806,1562" fill="#7014f0"/><polygon points="806,1567 820,1562 834,1562 848,1563 862,1566 875,1566 875,1567 862,1570 848,1568 834,1569 820,1570 806,1570" fill="#e07514"/><polygon points="806,1570 820,1571 834,1574 848,1574 862,1573 875,1573 875,1572 862,1575 848,1577 834,1575 820,1575 806,1575" fill="#7014f0"/></g></g><g clip-path="url(#gr156)"><rect x="999.9" y="1621.6" width="30.1" height="30.1" fill="#e07514"/><g transform="rotate(171 1014.9 1636.6)"><polygon points="1000,1626 1006,1625 1012,1626 1018,1626 1024,1628 1030,1625 1030,1636 1024,1634 1018,1634 1012,1636 1006,1633 1000,1633" fill="#e2cc4c"/><polygon points="1000,1650 1006,1646 1012,1646 1018,1648 1024,1646 1030,1646 1030,1656 1024,1653 1018,1652 1012,1655 1006,1652 1000,1655" fill="#e2cc4c"/></g></g><g clip-path="url(#gr157)"><rect x="942.3" y="1582.8" width="58.1" height="58.1" fill="#8e8e8e"/><g transform="rotate(42 971.4 1611.9)"><polygon points="942,1586 954,1583 966,1583 977,1583 989,1582 1000,1584 1000,1588 989,1590 977,1590 966,1589 954,1589 942,1591" fill="#7a0a0e"/><polygon points="942,1612 954,1615 966,1616 977,1611 989,1612 1000,1615 1000,1622 989,1618 977,1619 966,1621 954,1620 942,1620" fill="#7a0a0e"/></g></g><g clip-path="url(#gr158)"><rect x="822.9" y="1338.3" width="34.1" height="34.1" fill="#7014f0"/><g transform="rotate(51 840.0 1355.3)"><polygon points="823,1345 830,1344 837,1342 843,1342 850,1344 857,1344 857,1348 850,1346 843,1348 837,1347 830,1348 823,1350" fill="#8e8e8e"/><polygon points="823,1363 830,1363 837,1363 843,1360 850,1362 857,1361 857,1368 850,1364 843,1364 837,1364 830,1363 823,1364" fill="#8e8e8e"/><polygon points="823,1371 830,1369 837,1369 843,1369 850,1372 857,1370 857,1376 850,1375 843,1377 837,1375 830,1374 823,1377" fill="#b0804e"/></g></g><g clip-path="url(#gr159)"><rect x="1000.5" y="1389.9" width="48.3" height="48.3" fill="#e2cc4c"/><g transform="rotate(13 1024.6 1414.0)"><polygon points="1001,1393 1010,1395 1020,1396 1029,1395 1039,1395 1049,1392 1049,1395 1039,1398 1029,1399 1020,1395 1010,1397 1001,1396" fill="#e07514"/><polygon points="1001,1404 1010,1405 1020,1401 1029,1404 1039,1405 1049,1402 1049,1406 1039,1410 1029,1410 1020,1406 1010,1409 1001,1407" fill="#b0804e"/><polygon points="1001,1415 1010,1414 1020,1411 1029,1413 1039,1411 1049,1411 1049,1419 1039,1417 1029,1420 1020,1420 1010,1419 1001,1418" fill="#e07514"/><polygon points="1001,1420 1010,1423 1020,1424 1029,1420 1039,1425 1049,1420 1049,1428 1039,1425 1029,1425 1020,1428 1010,1426 1001,1426" fill="#b0804e"/></g></g><g clip-path="url(#gr160)"><rect x="836.3" y="1358.7" width="43.1" height="43.1" fill="#7a0a0e"/><g transform="rotate(138 857.8 1380.3)"><polygon points="836,1366 845,1365 854,1367 862,1368 871,1365 879,1366 879,1376 871,1373 862,1376 854,1375 845,1372 836,1373" fill="#e07514"/><polygon points="836,1379 845,1380 854,1381 862,1381 871,1381 879,1379 879,1389 871,1387 862,1387 854,1389 845,1387 836,1387" fill="#8e8e8e"/><polygon points="836,1394 845,1393 854,1392 862,1391 871,1391 879,1392 879,1396 871,1397 862,1395 854,1395 845,1396 836,1394" fill="#e07514"/></g></g><g clip-path="url(#gr161)"><rect x="936.1" y="1428.6" width="49.1" height="49.1" fill="#e07514"/><g transform="rotate(164 960.6 1453.1)"><polygon points="936,1436 946,1436 956,1438 966,1438 975,1440 985,1439 985,1442 975,1440 966,1444 956,1442 946,1440 936,1443" fill="#7014f0"/><polygon points="936,1451 946,1450 956,1447 966,1449 975,1448 985,1450 985,1456 975,1456 966,1458 956,1458 946,1454 936,1456" fill="#7a0a0e"/><polygon points="936,1461 946,1463 956,1461 966,1460 975,1463 985,1460 985,1465 975,1467 966,1465 956,1464 946,1465 936,1464" fill="#7014f0"/><polygon points="936,1472 946,1475 956,1474 966,1473 975,1475 985,1471 985,1478 975,1478 966,1480 956,1478 946,1476 936,1478" fill="#7a0a0e"/></g></g><g clip-path="url(#gr162)"><rect x="997.8" y="1619.0" width="72.3" height="72.3" fill="#7a0a0e"/><g transform="rotate(61 1033.9 1655.2)"><polygon points="998,1635 1012,1636 1027,1635 1041,1635 1056,1635 1070,1637 1070,1640 1056,1641 1041,1639 1027,1640 1012,1639 998,1642" fill="#7014f0"/><polygon points="998,1646 1012,1649 1027,1647 1041,1649 1056,1648 1070,1649 1070,1653 1056,1655 1041,1651 1027,1655 1012,1651 998,1653" fill="#8e8e8e"/><polygon points="998,1659 1012,1660 1027,1658 1041,1661 1056,1658 1070,1660 1070,1664 1056,1667 1041,1667 1027,1667 1012,1666 998,1667" fill="#7014f0"/><polygon points="998,1674 1012,1671 1027,1671 1041,1674 1056,1670 1070,1672 1070,1680 1056,1679 1041,1676 1027,1678 1012,1680 998,1678" fill="#8e8e8e"/><polygon points="998,1685 1012,1681 1027,1685 1041,1682 1056,1683 1070,1685 1070,1690 1056,1690 1041,1687 1027,1686 1012,1690 998,1689" fill="#7014f0"/></g></g><g clip-path="url(#gr163)"><rect x="918.0" y="1383.6" width="68.2" height="68.2" fill="#8e8e8e"/><g transform="rotate(79 952.1 1417.7)"><polygon points="918,1394 932,1392 945,1395 959,1393 973,1394 986,1396 986,1398 973,1397 959,1401 945,1397 932,1401 918,1399" fill="#7014f0"/><polygon points="918,1406 932,1406 945,1409 959,1405 973,1406 986,1409 986,1411 973,1411 959,1409 945,1414 932,1412 918,1413" fill="#f24331"/><polygon points="918,1419 932,1421 945,1418 959,1422 973,1422 986,1419 986,1424 973,1425 959,1425 945,1423 932,1424 918,1422" fill="#7014f0"/><polygon points="918,1435 932,1433 945,1433 959,1432 973,1435 986,1433 986,1439 973,1440 959,1439 945,1440 932,1440 918,1443" fill="#f24331"/><polygon points="918,1444 932,1445 945,1447 959,1447 973,1448 986,1445 986,1454 973,1450 959,1452 945,1452 932,1451 918,1454" fill="#7014f0"/></g></g><g clip-path="url(#gr164)"><rect x="1016.9" y="1333.3" width="25.2" height="25.2" fill="#b0804e"/><g transform="rotate(62 1029.5 1345.9)"><polygon points="1017,1337 1022,1339 1027,1340 1032,1336 1037,1336 1042,1336 1042,1345 1037,1347 1032,1345 1027,1345 1022,1348 1017,1345" fill="#e07514"/></g></g><path d="M883.1,1507.3L888.0,1522.5L876.4,1526.4L860.4,1515.5L869.7,1501.3ZM1028.8,1352.3L1028.8,1355.2L1038.3,1365.2L1039.7,1342.7L1039.6,1342.7ZM893.9,1635.6L894.3,1635.7L899.4,1641.6L877.0,1670.1L862.6,1672.6L873.3,1651.2ZM850.9,1398.3L891.3,1380.6L880.7,1371.5L868.4,1369.1L849.9,1397.8ZM1139.6,1561.4L1172.6,1579.8L1172.6,1558.4L1141.3,1536.8L1134.8,1556.4ZM973.8,1499.5L963.6,1526.4L960.2,1530.2L927.7,1523.8L927.6,1523.7L972.4,1499.1ZM1061.3,1452.4L1075.1,1436.3L1074.2,1425.6L1054.5,1422.7L1038.3,1442.0L1039.6,1454.7ZM867.2,1621.5L862.7,1592.3L879.8,1585.2L892.9,1597.4L875.1,1624.2ZM1065.0,1515.4L1046.8,1524.5L1045.8,1512.2L1058.2,1501.3ZM1128.4,1503.6L1139.0,1511.9L1139.4,1517.3L1104.6,1543.4L1100.0,1541.6L1097.9,1527.3L1098.5,1513.6ZM1150.5,1400.1L1154.1,1397.3L1172.6,1402.7L1172.6,1438.9L1155.8,1434.0ZM996.8,1490.9L1013.8,1523.0L1034.4,1505.8L1021.4,1476.1L1004.5,1483.3ZM968.9,1562.8L938.8,1546.3L932.0,1539.3L927.7,1523.8L960.2,1530.2L975.8,1555.4ZM922.2,1600.7L923.4,1619.8L899.6,1625.2L900.5,1602.1L917.2,1596.8ZM1100.9,1380.3L1124.9,1404.6L1139.6,1398.9L1130.9,1368.6L1114.9,1364.1ZM992.2,1447.2L968.7,1427.6L978.8,1416.7L995.5,1411.9L1004.2,1413.8L995.1,1446.1ZM862.7,1638.0L834.0,1662.9L834.0,1681.3L851.3,1681.3L862.6,1672.6L873.3,1651.2ZM985.9,1389.5L994.0,1403.8L995.5,1411.9L978.8,1416.7L973.7,1407.6L971.9,1393.0L977.5,1384.5ZM1072.1,1399.7L1051.8,1407.4L1048.6,1410.2L1054.5,1422.7L1074.2,1425.6L1074.6,1425.0ZM1150.5,1400.1L1139.6,1398.9L1124.9,1404.6L1120.2,1421.3L1126.5,1443.4L1155.8,1434.0ZM855.1,1406.8L850.9,1398.3L849.9,1397.8L846.5,1396.2L834.0,1395.4L834.0,1429.9ZM972.4,1499.1L954.2,1485.6L920.2,1499.7L922.2,1520.0L927.6,1523.7ZM1165.0,1590.5L1133.3,1588.2L1139.6,1561.4L1172.6,1579.8L1172.6,1588.3ZM935.6,1369.0L979.2,1350.2L982.1,1342.7L932.1,1342.7ZM905.4,1681.3L903.4,1670.1L877.0,1670.1L862.6,1672.6L851.3,1681.3ZM966.8,1568.6L980.0,1584.0L1010.7,1576.2L995.4,1549.1L975.8,1555.4L968.9,1562.8ZM843.8,1366.8L858.1,1369.6L866.2,1368.5L855.3,1342.7L848.2,1342.7ZM1117.3,1559.4L1104.6,1543.4L1139.4,1517.3L1141.9,1524.5L1141.3,1536.8L1134.8,1556.4L1120.4,1560.7ZM946.9,1462.7L932.0,1464.0L923.0,1449.5L923.8,1417.2L956.4,1431.1ZM909.4,1398.2L877.2,1423.6L855.1,1406.8L850.9,1398.3L891.3,1380.6L896.6,1383.3L909.2,1397.1ZM846.7,1620.6L834.0,1615.3L834.0,1648.9L854.1,1625.6ZM993.6,1375.1L999.2,1378.8L994.0,1403.8L985.9,1389.5ZM1090.4,1420.3L1074.6,1425.0L1072.1,1399.7L1077.2,1387.3L1091.7,1382.9L1093.4,1383.0L1096.0,1415.0ZM868.6,1545.3L847.9,1531.7L844.3,1561.9L866.6,1553.5ZM1146.6,1365.6L1130.9,1368.6L1114.9,1364.1L1113.5,1342.7L1153.3,1342.7L1149.0,1362.2ZM1100.9,1380.3L1124.9,1404.6L1120.2,1421.3L1096.0,1415.0L1093.4,1383.0L1098.2,1381.1ZM868.4,1369.1L866.2,1368.5L855.3,1342.7L878.3,1342.7L880.7,1371.5ZM944.6,1585.6L937.1,1601.2L922.2,1600.7L917.2,1596.8L920.6,1574.0L940.4,1575.4L945.6,1577.4ZM998.2,1608.3L990.2,1617.5L989.9,1637.5L1002.7,1636.2L1009.6,1622.0L1000.8,1607.8ZM895.5,1454.6L902.2,1462.9L923.0,1449.5L923.8,1417.2L922.4,1415.6ZM936.1,1681.3L905.1,1666.3L909.6,1655.4L936.3,1654.7L953.9,1675.5L954.2,1681.3ZM1155.8,1434.0L1126.5,1443.4L1118.8,1456.1L1119.8,1463.7L1172.6,1473.2L1172.6,1438.9ZM973.0,1457.6L963.0,1430.7L968.7,1427.6L992.2,1447.2L988.7,1457.6ZM1098.2,1381.1L1093.4,1383.0L1091.7,1382.9L1068.5,1342.7L1084.3,1342.7ZM863.8,1488.9L868.1,1473.6L867.0,1468.0L855.8,1464.0L848.0,1485.3L855.9,1488.9ZM899.4,1641.6L899.5,1641.7L930.7,1626.9L923.4,1619.8L899.6,1625.2L894.3,1635.7ZM1086.7,1508.6L1073.0,1524.4L1069.4,1533.2L1097.9,1527.3L1098.5,1513.6ZM1083.3,1588.2L1077.8,1591.0L1046.4,1603.4L1029.2,1588.5L1040.4,1567.0L1066.2,1551.0L1073.0,1555.3L1082.6,1576.3ZM1101.9,1651.6L1114.7,1681.3L1055.9,1681.3L1061.6,1650.3L1068.3,1646.2ZM875.1,1563.0L886.3,1548.4L900.0,1556.4L900.4,1565.7L883.3,1576.9ZM894.1,1496.3L908.7,1488.8L903.4,1482.5L899.8,1481.8L883.9,1483.6L870.2,1496.6ZM1110.3,1614.2L1115.0,1618.1L1118.2,1633.5L1101.9,1651.6L1068.3,1646.2L1071.9,1643.0ZM1113.5,1342.7L1084.3,1342.7L1098.2,1381.1L1100.9,1380.3L1114.9,1364.1ZM912.8,1401.9L958.2,1391.6L961.5,1400.1L920.4,1412.3ZM1158.3,1384.5L1172.6,1378.3L1172.6,1402.7L1154.1,1397.3ZM903.4,1482.5L902.2,1462.9L923.0,1449.5L932.0,1464.0L916.3,1493.3L908.7,1488.8ZM864.3,1623.9L854.1,1625.6L834.0,1648.9L834.0,1662.9L862.7,1638.0ZM1045.4,1374.6L1027.1,1387.9L1025.3,1397.9L1043.9,1408.5L1048.6,1410.2L1051.8,1407.4L1055.9,1378.0L1049.7,1373.7ZM993.6,1375.1L999.2,1378.8L1012.3,1378.5L984.8,1342.7L982.1,1342.7L979.2,1350.2L979.8,1357.2ZM1038.3,1442.0L1054.5,1422.7L1048.6,1410.2L1043.9,1408.5L1032.4,1434.8ZM843.8,1366.8L858.1,1369.6L846.5,1396.2L834.0,1395.4L834.0,1369.1ZM1010.7,1576.2L1021.9,1588.5L1029.2,1588.5L1040.4,1567.0L1019.8,1536.7L1014.4,1535.5L996.0,1548.1L995.4,1549.1ZM945.6,1577.4L940.4,1575.4L938.8,1546.3L968.9,1562.8L966.8,1568.6L965.8,1569.5L963.2,1571.1ZM912.8,1401.9L909.4,1398.2L909.2,1397.1L935.1,1369.9L960.9,1382.3L961.2,1387.2L958.2,1391.6ZM955.0,1470.9L954.2,1485.6L920.2,1499.7L916.3,1493.3L932.0,1464.0L946.9,1462.7ZM1158.3,1384.5L1154.1,1397.3L1150.5,1400.1L1139.6,1398.9L1130.9,1368.6L1146.6,1365.6ZM873.4,1540.8L876.4,1526.4L860.4,1515.5L845.8,1518.2L842.8,1519.3L847.9,1531.7L868.6,1545.3ZM1172.6,1681.3L1151.6,1681.3L1149.1,1645.0L1157.4,1631.2L1172.6,1627.4ZM1068.5,1342.7L1091.7,1382.9L1077.2,1387.3L1055.9,1378.0L1049.7,1373.7L1062.6,1342.7ZM1108.2,1606.2L1083.3,1588.2L1082.6,1576.3L1117.3,1559.4L1120.4,1560.7L1117.0,1594.5ZM894.1,1496.3L870.2,1496.6L870.0,1496.8L869.7,1501.3L883.1,1507.3ZM864.3,1623.9L854.1,1625.6L846.7,1620.6L858.3,1591.1L862.7,1592.3L867.2,1621.5ZM1108.2,1606.2L1110.3,1614.2L1071.9,1643.0L1077.8,1591.0L1083.3,1588.2ZM1090.4,1420.3L1074.6,1425.0L1074.2,1425.6L1075.1,1436.3L1096.2,1450.8L1110.5,1452.9ZM1090.4,1420.3L1110.5,1452.9L1118.8,1456.1L1126.5,1443.4L1120.2,1421.3L1096.0,1415.0ZM899.8,1481.8L874.8,1463.0L867.0,1468.0L868.1,1473.6L883.9,1483.6ZM1009.5,1449.0L1011.2,1415.1L1010.4,1413.9L1004.2,1413.8L995.1,1446.1ZM1046.8,1529.4L1019.8,1536.7L1040.4,1567.0L1066.2,1551.0L1063.8,1543.1ZM900.4,1565.7L919.4,1572.5L932.0,1539.3L927.7,1523.8L927.6,1523.7L922.2,1520.0L912.4,1525.3L900.0,1556.4ZM944.6,1585.6L958.4,1601.2L963.2,1571.1L945.6,1577.4ZM937.1,1601.2L954.3,1618.7L954.5,1620.1L940.5,1631.9L930.7,1626.9L923.4,1619.8L922.2,1600.7ZM975.8,1555.4L960.2,1530.2L963.6,1526.4L985.2,1525.2L996.0,1548.1L995.4,1549.1ZM1073.0,1524.4L1069.4,1533.2L1063.8,1543.1L1046.8,1529.4L1046.8,1524.5L1065.0,1515.4ZM905.4,1681.3L936.1,1681.3L905.1,1666.3L903.4,1670.1ZM835.5,1444.5L855.8,1464.0L867.0,1468.0L874.8,1463.0L882.4,1450.2L874.3,1428.8ZM1028.8,1352.3L1028.8,1355.2L1015.2,1361.9L995.4,1342.7L1020.0,1342.7ZM875.1,1624.2L892.9,1597.4L900.5,1602.1L899.6,1625.2L894.3,1635.7L893.9,1635.6ZM1117.3,1559.4L1104.6,1543.4L1100.0,1541.6L1073.0,1555.3L1082.6,1576.3ZM1108.2,1606.2L1110.3,1614.2L1115.0,1618.1L1129.8,1618.0L1165.0,1590.5L1133.3,1588.2L1117.0,1594.5ZM940.4,1575.4L938.8,1546.3L932.0,1539.3L919.4,1572.5L920.6,1574.0ZM944.6,1585.6L937.1,1601.2L954.3,1618.7L959.8,1607.3L958.4,1601.2ZM958.2,1391.6L961.2,1387.2L971.9,1393.0L973.7,1407.6L961.5,1400.1ZM1117.0,1594.5L1133.3,1588.2L1139.6,1561.4L1134.8,1556.4L1120.4,1560.7ZM1100.0,1541.6L1073.0,1555.3L1066.2,1551.0L1063.8,1543.1L1069.4,1533.2L1097.9,1527.3ZM1110.0,1472.7L1085.9,1507.3L1086.7,1508.6L1098.5,1513.6L1128.4,1503.6L1118.6,1468.9ZM1038.3,1365.2L1045.4,1374.6L1027.1,1387.9L1017.9,1379.3L1015.2,1361.9L1028.8,1355.2ZM1021.9,1588.5L1029.2,1588.5L1046.4,1603.4L1048.3,1627.9L1025.0,1630.7L1012.6,1624.7L1009.6,1622.0L1000.8,1607.8ZM1077.8,1591.0L1046.4,1603.4L1048.3,1627.9L1061.6,1650.3L1068.3,1646.2L1071.9,1643.0ZM984.3,1650.4L1011.3,1665.2L1012.8,1649.5L1009.2,1641.6L1002.7,1636.2L989.9,1637.5ZM864.3,1623.9L862.7,1638.0L873.3,1651.2L893.9,1635.6L875.1,1624.2L867.2,1621.5ZM960.9,1382.3L974.9,1371.6L979.8,1357.2L979.2,1350.2L935.6,1369.0L935.1,1369.9ZM1065.0,1490.9L1058.2,1501.3L1045.8,1512.2L1034.4,1505.8L1021.4,1476.1L1027.1,1470.1L1030.8,1468.3ZM984.3,1650.4L989.9,1637.5L990.2,1617.5L960.5,1623.2L976.5,1651.8ZM875.1,1563.0L866.6,1553.5L868.6,1545.3L873.4,1540.8L883.5,1544.6L886.3,1548.4ZM973.8,1499.5L983.3,1498.2L985.2,1525.2L963.6,1526.4ZM1027.1,1387.9L1025.3,1397.9L1010.4,1413.9L1004.2,1413.8L995.5,1411.9L994.0,1403.8L999.2,1378.8L1012.3,1378.5L1017.9,1379.3ZM1009.2,1641.6L1012.6,1624.7L1009.6,1622.0L1002.7,1636.2ZM880.7,1371.5L878.3,1342.7L906.3,1342.7L896.6,1383.3L891.3,1380.6ZM869.7,1501.3L860.4,1515.5L845.8,1518.2L855.9,1488.9L863.8,1488.9L870.0,1496.8ZM1149.0,1362.2L1153.3,1342.7L1172.6,1342.7L1172.6,1364.6ZM1139.4,1517.3L1141.9,1524.5L1172.6,1536.8L1172.6,1495.8L1139.0,1511.9ZM870.2,1496.6L883.9,1483.6L868.1,1473.6L863.8,1488.9L870.0,1496.8ZM883.3,1576.9L879.8,1585.2L892.9,1597.4L900.5,1602.1L917.2,1596.8L920.6,1574.0L919.4,1572.5L900.4,1565.7ZM1039.6,1454.7L1038.3,1442.0L1032.4,1434.8L1011.2,1415.1L1009.5,1449.0L1027.1,1470.1L1030.8,1468.3ZM899.5,1641.7L930.7,1626.9L940.5,1631.9L936.3,1654.7L909.6,1655.4ZM1110.0,1472.7L1075.9,1482.4L1070.7,1490.1L1085.9,1507.3ZM966.8,1568.6L965.8,1569.5L968.8,1601.5L984.6,1598.2L980.0,1584.0ZM1172.6,1364.6L1149.0,1362.2L1146.6,1365.6L1158.3,1384.5L1172.6,1378.3ZM895.5,1454.6L902.2,1462.9L903.4,1482.5L899.8,1481.8L874.8,1463.0L882.4,1450.2ZM1015.2,1361.9L1017.9,1379.3L1012.3,1378.5L984.8,1342.7L995.4,1342.7ZM834.0,1444.3L834.0,1429.9L855.1,1406.8L877.2,1423.6L874.3,1428.8L835.5,1444.5ZM958.4,1601.2L959.8,1607.3L968.8,1601.5L965.8,1569.5L963.2,1571.1ZM1038.3,1365.2L1045.4,1374.6L1049.7,1373.7L1062.6,1342.7L1039.7,1342.7ZM855.9,1488.9L848.0,1485.3L834.0,1488.2L834.0,1517.2L842.8,1519.3L845.8,1518.2ZM1119.0,1635.1L1133.4,1644.0L1138.4,1681.3L1119.3,1681.3ZM976.5,1651.8L953.9,1675.5L936.3,1654.7L940.5,1631.9L954.5,1620.1L960.5,1623.2ZM1118.6,1468.9L1119.8,1463.7L1172.6,1473.2L1172.6,1495.8L1139.0,1511.9L1128.4,1503.6ZM1118.8,1456.1L1119.8,1463.7L1118.6,1468.9L1110.0,1472.7L1075.9,1482.4L1074.0,1464.8L1096.2,1450.8L1110.5,1452.9ZM873.4,1540.8L876.4,1526.4L888.0,1522.5L908.1,1525.4L883.5,1544.6ZM875.1,1563.0L866.6,1553.5L844.3,1561.9L834.0,1572.8L834.0,1583.1L858.3,1591.1L862.7,1592.3L879.8,1585.2L883.3,1576.9ZM1118.2,1633.5L1101.9,1651.6L1114.7,1681.3L1119.3,1681.3L1119.0,1635.1ZM993.6,1375.1L985.9,1389.5L977.5,1384.5L974.9,1371.6L979.8,1357.2ZM1118.2,1633.5L1115.0,1618.1L1129.8,1618.0L1157.4,1631.2L1149.1,1645.0L1133.4,1644.0L1119.0,1635.1ZM1141.3,1536.8L1172.6,1558.4L1172.6,1536.8L1141.9,1524.5ZM1075.9,1482.4L1070.7,1490.1L1065.0,1490.9L1030.8,1468.3L1039.6,1454.7L1061.3,1452.4L1074.0,1464.8ZM912.8,1401.9L909.4,1398.2L877.2,1423.6L874.3,1428.8L882.4,1450.2L895.5,1454.6L922.4,1415.6L920.4,1412.3ZM1074.0,1464.8L1061.3,1452.4L1075.1,1436.3L1096.2,1450.8ZM1085.9,1507.3L1070.7,1490.1L1065.0,1490.9L1058.2,1501.3L1065.0,1515.4L1073.0,1524.4L1086.7,1508.6ZM984.3,1650.4L1011.3,1665.2L1022.6,1681.3L954.2,1681.3L953.9,1675.5L976.5,1651.8ZM894.1,1496.3L908.7,1488.8L916.3,1493.3L920.2,1499.7L922.2,1520.0L912.4,1525.3L908.1,1525.4L888.0,1522.5L883.1,1507.3ZM877.0,1670.1L903.4,1670.1L905.1,1666.3L909.6,1655.4L899.5,1641.7L899.4,1641.6ZM1004.5,1483.3L1021.4,1476.1L1027.1,1470.1L1009.5,1449.0L995.1,1446.1L992.2,1447.2L988.7,1457.6ZM886.3,1548.4L883.5,1544.6L908.1,1525.4L912.4,1525.3L900.0,1556.4ZM961.2,1387.2L971.9,1393.0L977.5,1384.5L974.9,1371.6L960.9,1382.3ZM835.5,1444.5L855.8,1464.0L848.0,1485.3L834.0,1488.2L834.0,1444.3ZM1034.4,1505.8L1013.8,1523.0L1014.4,1535.5L1019.8,1536.7L1046.8,1529.4L1046.8,1524.5L1045.8,1512.2ZM1133.4,1644.0L1138.4,1681.3L1151.6,1681.3L1149.1,1645.0ZM1165.0,1590.5L1129.8,1618.0L1157.4,1631.2L1172.6,1627.4L1172.6,1588.3ZM996.8,1490.9L1013.8,1523.0L1014.4,1535.5L996.0,1548.1L985.2,1525.2L983.3,1498.2L993.2,1491.8ZM993.2,1491.8L983.3,1498.2L973.8,1499.5L972.4,1499.1L954.2,1485.6L955.0,1470.9L969.4,1465.7ZM858.3,1591.1L846.7,1620.6L834.0,1615.3L834.0,1583.1ZM909.2,1397.1L896.6,1383.3L906.3,1342.7L932.1,1342.7L935.6,1369.0L935.1,1369.9ZM980.0,1584.0L984.6,1598.2L998.2,1608.3L1000.8,1607.8L1021.9,1588.5L1010.7,1576.2ZM996.8,1490.9L1004.5,1483.3L988.7,1457.6L973.0,1457.6L969.4,1465.7L993.2,1491.8ZM1077.2,1387.3L1055.9,1378.0L1051.8,1407.4L1072.1,1399.7ZM834.0,1572.8L834.0,1517.2L842.8,1519.3L847.9,1531.7L844.3,1561.9ZM1009.2,1641.6L1012.8,1649.5L1025.0,1630.7L1012.6,1624.7ZM984.6,1598.2L998.2,1608.3L990.2,1617.5L960.5,1623.2L954.5,1620.1L954.3,1618.7L959.8,1607.3L968.8,1601.5ZM834.0,1369.1L834.0,1342.7L848.2,1342.7L843.8,1366.8ZM1032.4,1434.8L1011.2,1415.1L1010.4,1413.9L1025.3,1397.9L1043.9,1408.5ZM849.9,1397.8L846.5,1396.2L858.1,1369.6L866.2,1368.5L868.4,1369.1ZM973.0,1457.6L963.0,1430.7L956.4,1431.1L946.9,1462.7L955.0,1470.9L969.4,1465.7ZM1012.8,1649.5L1025.0,1630.7L1048.3,1627.9L1061.6,1650.3L1055.9,1681.3L1022.6,1681.3L1011.3,1665.2ZM920.4,1412.3L922.4,1415.6L923.8,1417.2L956.4,1431.1L963.0,1430.7L968.7,1427.6L978.8,1416.7L973.7,1407.6L961.5,1400.1ZM1039.6,1342.7L1028.8,1352.3L1020.0,1342.7Z" fill="none" stroke="#fff" stroke-width="1.1" stroke-opacity="0.5"/></g>
<defs><clipPath id="hca1"><rect x="128.7" y="1709.2" width="338.2" height="338.8"/></clipPath></defs><g clip-path="url(#hca1)"><rect x="128.7" y="1709.2" width="338.2" height="338.8" fill="#690505"/><polygon points="378.7,1709.1 398.9,1709.1 398.9,1737.8 378.7,1737.8" fill="#790828"/><polygon points="273.9,1723.1 281.2,1721.2 281.2,1826.0 270.2,1826.0" fill="#790828"/><polygon points="384.2,1761.7 398.9,1761.7 397.1,1792.9 386.0,1792.9" fill="#790828"/><polygon points="422.8,1870.1 444.9,1870.1 444.9,1899.6 424.6,1899.6" fill="#790828"/><polygon points="128.7,1906.9 147.1,1892.2 147.1,1954.7 128.7,1973.1" fill="#790828"/><polygon points="255.5,1932.6 261.8,1932.6 261.8,1958.4 255.5,1962.1" fill="#790828"/><polygon points="347.4,1982.3 369.5,1962.1 369.5,1997.0 347.4,2020.9" fill="#790828"/><polygon points="211.4,2006.2 226.1,2000.7 226.1,2024.6 213.2,2022.7" fill="#790828"/><polygon points="386.0,2046.6 400.7,2031.9 400.7,2048.5 386.0,2048.5" fill="#790828"/><polygon points="457.7,1910.6 466.9,1910.6 466.9,1991.5 457.7,1991.5" fill="#790828"/><polygon points="224.3,1709.1 378.7,1709.1 378.7,1715.7 279.4,1718.7 273.9,1724.9 224.3,1722.4" fill="#f24331" stroke="#d8782e" stroke-width="0.9" stroke-opacity="0.8"/><polygon points="128.7,1739.6 466.9,1741.5 466.9,1765.4 398.9,1763.5 378.7,1759.9 128.7,1763.5" fill="#f24331" stroke="#d8782e" stroke-width="0.9" stroke-opacity="0.8"/><polygon points="380.5,1737.8 398.9,1737.8 398.9,1761.7 384.2,1761.7" fill="#a97b4b" stroke="#d8782e" stroke-width="0.9" stroke-opacity="0.8"/><polygon points="386.0,1792.9 397.1,1794.8 437.5,1833.4 441.2,1870.1 422.8,1870.1 411.8,1833.4" fill="#a97b4b" stroke="#d8782e" stroke-width="0.9" stroke-opacity="0.8"/><polygon points="128.7,1831.5 272.1,1826.8 411.8,1818.7 411.8,1859.1 275.7,1857.3 128.7,1862.1" fill="#f24331" stroke="#d8782e" stroke-width="0.9" stroke-opacity="0.8"/><polygon points="437.5,1831.5 466.9,1831.5 466.9,1862.8 441.2,1862.8" fill="#f24331" stroke="#d8782e" stroke-width="0.9" stroke-opacity="0.8"/><polygon points="432.0,1890.4 443.0,1888.5 443.0,1910.6 435.7,1910.6" fill="#a97b4b" stroke="#d8782e" stroke-width="0.9" stroke-opacity="0.8"/><polygon points="443.0,1890.4 466.9,1890.4 466.9,1914.3 443.0,1912.4" fill="#f24331" stroke="#d8782e" stroke-width="0.9" stroke-opacity="0.8"/><polygon points="128.7,1890.4 145.2,1890.4 128.7,1906.9" fill="#f24331" stroke="#d8782e" stroke-width="0.9" stroke-opacity="0.8"/><polygon points="141.5,1930.8 259.2,1930.8 261.0,1940.0 141.5,1939.3" fill="#f24331" stroke="#d8782e" stroke-width="0.9" stroke-opacity="0.8"/><polygon points="139.7,1966.5 369.5,1961.3 347.4,1982.3 128.7,1976.8" fill="#f24331" stroke="#d8782e" stroke-width="0.9" stroke-opacity="0.8"/><polygon points="128.7,1987.8 226.1,1995.1 226.1,2000.7 202.2,2015.4 128.7,2015.4" fill="#f24331" stroke="#d8782e" stroke-width="0.9" stroke-opacity="0.8"/><polygon points="369.5,1997.0 466.9,1991.5 466.9,2022.7 347.4,2022.7 347.4,2020.9" fill="#f24331" stroke="#d8782e" stroke-width="0.9" stroke-opacity="0.8"/><polygon points="224.3,2022.7 466.9,2022.7 466.9,2030.1 400.7,2031.9 386.0,2048.5 224.3,2048.5" fill="#f24331" stroke="#d8782e" stroke-width="0.9" stroke-opacity="0.8"/><polygon points="200.4,2015.4 226.1,2000.7 226.1,2048.5 211.4,2048.5 200.4,2028.2" fill="#a97b4b" stroke="#d8782e" stroke-width="0.9" stroke-opacity="0.8"/></g>
<defs><clipPath id="hcb1"><rect x="481.5" y="1709.2" width="337.6" height="338.8"/></clipPath></defs><g clip-path="url(#hcb1)"><rect x="481.5" y="1709.2" width="337.6" height="338.8" fill="#690505"/><polygon points="694.3,1743.7 723.1,1732.2 723.1,1787.8 694.3,1814.6" fill="#790828"/><polygon points="598.5,1709.9 608.0,1709.9 608.0,1737.9 598.5,1737.9" fill="#790828"/><polygon points="638.7,1851.0 684.7,1851.0 679.0,1881.7 665.6,1881.7 650.2,1870.2 638.7,1870.2" fill="#790828"/><polygon points="650.2,1900.9 682.8,1900.9 679.0,1920.1 650.2,1922.0" fill="#790828"/><polygon points="665.6,2027.4 679.0,2027.4 679.0,2048.5 665.6,2048.5" fill="#790828"/><polygon points="638.7,1870.2 650.2,1870.2 650.2,1889.4 638.7,1889.4" fill="#790828"/><polygon points="606.1,1728.3 661.7,1726.4 677.1,1711.1 692.4,1709.9 694.3,1741.8 598.5,1740.6" fill="#f24331" stroke="#d8782e" stroke-width="0.9" stroke-opacity="0.8"/><polygon points="596.5,1739.1 694.3,1740.6 694.3,1745.6 596.5,1744.4" fill="#e2cc4c" stroke="#d8782e" stroke-width="0.9" stroke-opacity="0.8"/><polygon points="692.4,1709.9 707.7,1728.3 707.7,1745.6 694.3,1743.7" fill="#a97b4b" stroke="#d8782e" stroke-width="0.9" stroke-opacity="0.8"/><polygon points="481.5,1787.8 818.9,1785.9 818.9,1839.5 481.5,1841.5" fill="#f24331" stroke="#d8782e" stroke-width="0.9" stroke-opacity="0.8"/><polygon points="481.5,1785.9 600.4,1788.9 558.2,1792.8 481.5,1790.5" fill="#e2cc4c" stroke="#d8782e" stroke-width="0.9" stroke-opacity="0.8"/><polygon points="551.3,1803.1 562.0,1801.2 562.0,1851.0 552.4,1845.3" fill="#a97b4b" stroke="#d8782e" stroke-width="0.9" stroke-opacity="0.8"/><polygon points="481.5,1858.7 558.2,1853.0 562.0,1858.7 481.5,1864.5" fill="#e2cc4c" stroke="#d8782e" stroke-width="0.9" stroke-opacity="0.8"/><polygon points="481.5,1864.5 562.0,1858.7 642.5,1858.7 642.5,1881.7 481.5,1881.7" fill="#f24331" stroke="#d8782e" stroke-width="0.9" stroke-opacity="0.8"/><polygon points="558.2,1839.5 696.2,1839.5 684.7,1851.0 640.6,1853.0 640.6,1858.7 558.2,1858.7" fill="#f24331" stroke="#d8782e" stroke-width="0.9" stroke-opacity="0.8"/><polygon points="696.2,1870.2 818.9,1866.4 818.9,1881.7 684.7,1885.6" fill="#f24331" stroke="#d8782e" stroke-width="0.9" stroke-opacity="0.8"/><polygon points="481.5,1877.9 604.2,1876.0 642.5,1879.8 481.5,1882.5" fill="#e2cc4c" stroke="#d8782e" stroke-width="0.9" stroke-opacity="0.8"/><polygon points="481.5,1891.3 650.2,1893.2 650.2,1920.1 481.5,1920.1" fill="#f24331" stroke="#d8782e" stroke-width="0.9" stroke-opacity="0.8"/><polygon points="665.6,1879.8 688.6,1879.8 688.6,1900.9 669.4,1900.9" fill="#a97b4b" stroke="#d8782e" stroke-width="0.9" stroke-opacity="0.8"/><polygon points="684.7,1885.6 818.9,1877.9 818.9,1920.1 684.7,1920.1" fill="#f24331" stroke="#d8782e" stroke-width="0.9" stroke-opacity="0.8"/><polygon points="684.7,1908.6 784.4,1912.4 761.4,1920.1 684.7,1920.1" fill="#690505" stroke="#d8782e" stroke-width="0.9" stroke-opacity="0.8"/><polygon points="776.7,1916.2 818.9,1914.3 818.9,1933.5 784.4,1923.9" fill="#e2cc4c" stroke="#d8782e" stroke-width="0.9" stroke-opacity="0.8"/><polygon points="481.5,1920.1 648.3,1920.1 648.3,2023.6 481.5,2023.6" fill="#f24331" stroke="#d8782e" stroke-width="0.9" stroke-opacity="0.8"/><polygon points="481.5,1923.9 516.0,1935.4 646.4,1950.7 646.4,1958.4 500.7,1940.0 481.5,1935.4" fill="#e2cc4c" stroke="#d8782e" stroke-width="0.9" stroke-opacity="0.8"/><polygon points="646.4,1920.1 680.9,1920.1 680.9,1996.7 669.4,2004.4 650.2,1996.7" fill="#a97b4b" stroke="#d8782e" stroke-width="0.9" stroke-opacity="0.8"/><polygon points="680.9,1920.1 818.9,1920.1 818.9,2023.6 669.4,2023.6 669.4,2004.4 680.9,1996.7" fill="#f24331" stroke="#d8782e" stroke-width="0.9" stroke-opacity="0.8"/><polygon points="531.3,1992.9 585.0,2000.6 646.4,2008.3 646.4,2014.0 585.0,2008.3 531.3,1996.7" fill="#e2cc4c" stroke="#d8782e" stroke-width="0.9" stroke-opacity="0.8"/><polygon points="583.1,2012.1 604.2,2035.1 604.2,2048.5 585.0,2048.5" fill="#a97b4b" stroke="#d8782e" stroke-width="0.9" stroke-opacity="0.8"/><polygon points="650.2,2008.3 677.1,2023.6 679.0,2048.5 663.6,2048.5 650.2,2023.6" fill="#a97b4b" stroke="#d8782e" stroke-width="0.9" stroke-opacity="0.8"/><polygon points="634.9,2017.8 818.9,2019.8 818.9,2023.6 634.9,2022.1" fill="#e2cc4c" stroke="#d8782e" stroke-width="0.9" stroke-opacity="0.8"/></g>
<rect x="834.3" y="1709.2" width="338.2" height="338.8" fill="#dfcc50"/>
<text transform="translate(305.0,1327.0) scale(1,1.05)" font-size="48" text-anchor="middle">KNN</text>
<text transform="translate(663.5,1327.0) scale(1,1.05)" font-size="49" text-anchor="middle">KNN-Li</text>
<text transform="translate(996.0,1327.0) scale(1,1.05)" font-size="48" text-anchor="middle">KNN-BNZ</text>
<text transform="translate(100,1519.8) rotate(-90) scale(1,1.07)" font-size="49" text-anchor="middle"><tspan font-style="italic">E</tspan>=0</text>
<text transform="translate(100.5,1897.7) rotate(-90) scale(1,1.07)" font-size="49" text-anchor="middle"><tspan font-style="italic">E</tspan>=<tspan font-style="italic">E</tspan>max</text>
</svg></body></html>
